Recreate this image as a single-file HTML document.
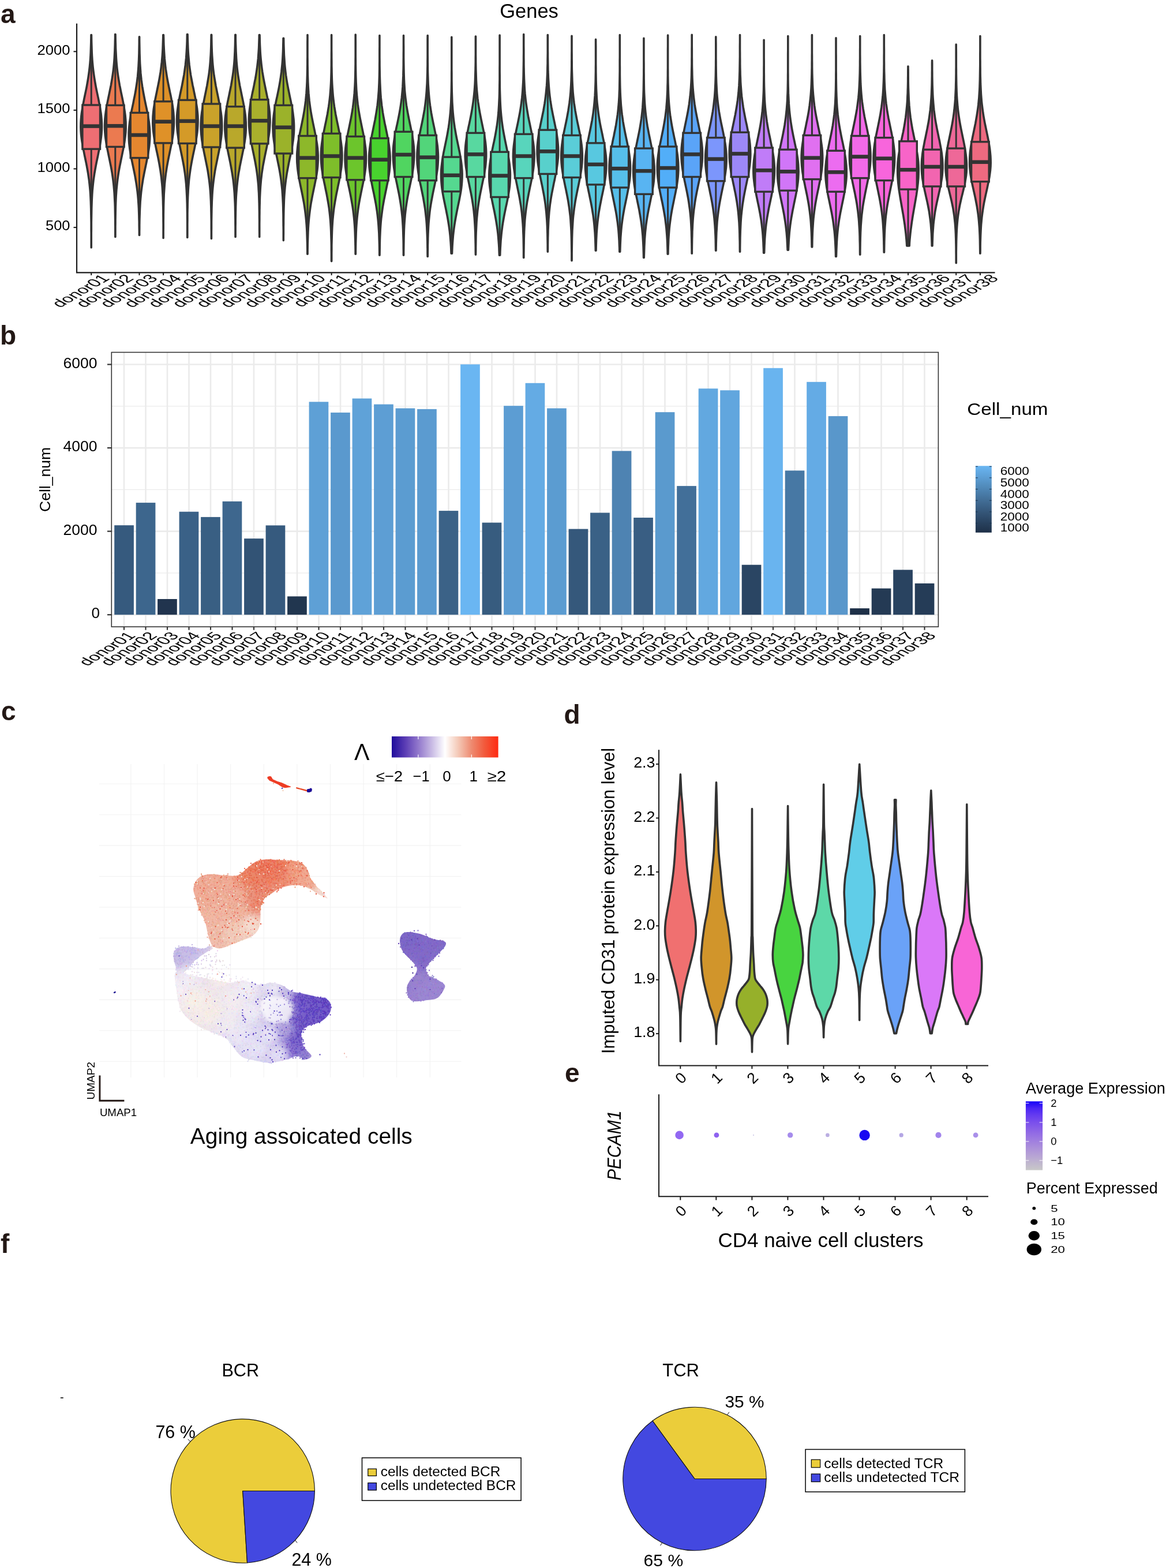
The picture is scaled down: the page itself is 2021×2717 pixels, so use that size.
<!DOCTYPE html><html><head><meta charset="utf-8"><title>Figure</title><style>html,body{margin:0;padding:0;background:#fff}svg{display:block}</style></head><body><svg width="2021" height="2717" viewBox="0 0 2021 2717" font-family="Liberation Sans, Arial, Helvetica, sans-serif"><rect width="2021" height="2717" fill="#fff"/><text x="1" y="40" font-size="46" font-weight="bold" fill="#231815">a</text>
<text x="917" y="31" font-size="34.5" text-anchor="middle">Genes</text>
<path d="M133 40.7V472.3H1724.5" fill="none" stroke="#1a1a1a" stroke-width="2.2"/>
<path d="M127.5 394.1H133" stroke="#1a1a1a" stroke-width="2"/>
<text x="121.5" y="399.4" font-size="24.6" text-anchor="end" textLength="42.5" lengthAdjust="spacingAndGlyphs">500</text>
<path d="M127.5 292.5H133" stroke="#1a1a1a" stroke-width="2"/>
<text x="121.5" y="297.8" font-size="24.6" text-anchor="end" textLength="57" lengthAdjust="spacingAndGlyphs">1000</text>
<path d="M127.5 190.9H133" stroke="#1a1a1a" stroke-width="2"/>
<text x="121.5" y="196.2" font-size="24.6" text-anchor="end" textLength="57" lengthAdjust="spacingAndGlyphs">1500</text>
<path d="M127.5 89.3H133" stroke="#1a1a1a" stroke-width="2"/>
<text x="121.5" y="94.6" font-size="24.6" text-anchor="end" textLength="57" lengthAdjust="spacingAndGlyphs">2000</text>
<path d="M158.4,60.6 158.5,66.7 158.6,72.9 158.8,79 159,85.2 159.2,91.3 159.5,97.4 159.9,103.6 160.4,109.7 161,115.9 161.7,122 162.5,128.1 163.4,134.3 164.4,140.4 165.5,146.6 166.6,152.7 167.9,158.8 169.2,165 170.5,171.1 171.7,177.3 172.9,183.4 173.9,189.5 174.9,195.7 175.6,201.8 176.1,208 176.4,214.1 176.5,220.2 176.3,226.4 175.9,232.5 175.2,238.7 174.4,244.8 173.4,250.9 172.3,257.1 171,263.2 169.8,269.4 168.5,275.5 167.2,281.6 166,287.8 164.9,293.9 163.8,300.1 162.9,306.2 162,312.3 161.3,318.5 160.7,324.6 160.1,330.8 159.7,336.9 159.4,343 159.1,349.2 158.9,355.3 158.7,361.5 158.6,367.6 158.5,373.7 158.4,379.9 158.3,386 158.3,392.2 158.3,398.3 158.2,404.4 158.2,410.6 158.2,416.7 158.2,422.9 158.2,429 158.2,429 158.2,422.9 158.2,416.7 158.2,410.6 158.2,404.4 158.1,398.3 158.1,392.2 158.1,386 158,379.9 157.9,373.7 157.8,367.6 157.7,361.5 157.5,355.3 157.3,349.2 157,343 156.7,336.9 156.3,330.8 155.7,324.6 155.1,318.5 154.4,312.3 153.5,306.2 152.6,300.1 151.5,293.9 150.4,287.8 149.2,281.6 147.9,275.5 146.6,269.4 145.4,263.2 144.1,257.1 143,250.9 142,244.8 141.2,238.7 140.5,232.5 140.1,226.4 139.9,220.2 140,214.1 140.3,208 140.8,201.8 141.5,195.7 142.5,189.5 143.5,183.4 144.7,177.3 145.9,171.1 147.2,165 148.5,158.8 149.8,152.7 150.9,146.6 152,140.4 153,134.3 153.9,128.1 154.7,122 155.4,115.9 156,109.7 156.5,103.6 156.9,97.4 157.2,91.3 157.4,85.2 157.6,79 157.8,72.9 157.9,66.7 158,60.6Z" fill="#EE6E73" stroke="#333333" stroke-width="3.6" stroke-linejoin="round"/>
<path d="M158.2 67.7V182M158.2 258.2V372.5" stroke="#333333" stroke-width="3"/>
<rect x="142.9" y="182" width="30.6" height="76.2" fill="#EE6E73" stroke="#333333" stroke-width="3.4"/>
<path d="M142.9 218.6H173.5" stroke="#333333" stroke-width="6.5"/>
<path d="M158.2 472.3V477" stroke="#1a1a1a" stroke-width="2"/>
<path d="M200,59.6 200.1,65.4 200.2,71.3 200.4,77.1 200.5,83 200.8,88.8 201.1,94.7 201.4,100.5 201.8,106.4 202.3,112.2 202.9,118.1 203.6,123.9 204.4,129.8 205.3,135.6 206.3,141.5 207.3,147.3 208.5,153.1 209.6,159 210.9,164.8 212.1,170.7 213.3,176.5 214.4,182.4 215.4,188.2 216.3,194.1 217.1,199.9 217.6,205.8 218,211.6 218.1,217.5 218.1,223.3 217.8,229.2 217.2,235 216.5,240.8 215.7,246.7 214.7,252.5 213.6,258.4 212.4,264.2 211.2,270.1 210,275.9 208.8,281.8 207.6,287.6 206.5,293.5 205.5,299.3 204.6,305.2 203.8,311 203.1,316.9 202.5,322.7 201.9,328.5 201.5,334.4 201.1,340.2 200.8,346.1 200.6,351.9 200.4,357.8 200.3,363.6 200.2,369.5 200.1,375.3 200,381.2 200,387 199.9,392.9 199.9,398.7 199.9,404.6 199.9,410.4 199.8,410.4 199.8,404.6 199.8,398.7 199.8,392.9 199.7,387 199.7,381.2 199.6,375.3 199.5,369.5 199.4,363.6 199.3,357.8 199.1,351.9 198.8,346.1 198.5,340.2 198.2,334.4 197.7,328.5 197.2,322.7 196.6,316.9 195.9,311 195.1,305.2 194.2,299.3 193.2,293.5 192.1,287.6 190.9,281.8 189.7,275.9 188.5,270.1 187.3,264.2 186.1,258.4 185,252.5 184,246.7 183.1,240.8 182.4,235 181.9,229.2 181.6,223.3 181.5,217.5 181.7,211.6 182,205.8 182.6,199.9 183.3,194.1 184.2,188.2 185.3,182.4 186.4,176.5 187.6,170.7 188.8,164.8 190,159 191.2,153.1 192.4,147.3 193.4,141.5 194.4,135.6 195.3,129.8 196.1,123.9 196.8,118.1 197.4,112.2 197.9,106.4 198.3,100.5 198.6,94.7 198.9,88.8 199.1,83 199.3,77.1 199.4,71.3 199.6,65.4 199.6,59.6Z" fill="#EB7A50" stroke="#333333" stroke-width="3.6" stroke-linejoin="round"/>
<path d="M199.8 74.4V182.4M199.8 254.4V362.4" stroke="#333333" stroke-width="3"/>
<rect x="184.5" y="182.4" width="30.6" height="72" fill="#EB7A50" stroke="#333333" stroke-width="3.4"/>
<path d="M184.5 218.2H215.1" stroke="#333333" stroke-width="6.5"/>
<path d="M199.8 472.3V477" stroke="#1a1a1a" stroke-width="2"/>
<path d="M241.6,63.7 241.6,69.4 241.7,75.2 241.8,80.9 241.9,86.6 242,92.3 242.2,98.1 242.4,103.8 242.6,109.5 243,115.3 243.4,121 243.8,126.7 244.4,132.4 245,138.2 245.8,143.9 246.6,149.6 247.6,155.4 248.6,161.1 249.7,166.8 250.8,172.5 252,178.3 253.2,184 254.4,189.7 255.5,195.5 256.6,201.2 257.5,206.9 258.4,212.6 259,218.4 259.5,224.1 259.7,229.8 259.8,235.6 259.6,241.3 259.2,247 258.7,252.7 257.9,258.5 257,264.2 256,269.9 254.9,275.6 253.8,281.4 252.6,287.1 251.4,292.8 250.2,298.6 249.1,304.3 248,310 247.1,315.7 246.2,321.5 245.4,327.2 244.7,332.9 244.1,338.7 243.6,344.4 243.1,350.1 242.8,355.8 242.5,361.6 242.3,367.3 242.1,373 241.9,378.8 241.8,384.5 241.7,390.2 241.7,395.9 241.6,401.7 241.6,407.4 241.4,407.4 241.4,401.7 241.3,395.9 241.2,390.2 241.2,384.5 241,378.8 240.9,373 240.7,367.3 240.5,361.6 240.2,355.8 239.8,350.1 239.4,344.4 238.9,338.7 238.3,332.9 237.6,327.2 236.8,321.5 235.9,315.7 234.9,310 233.9,304.3 232.8,298.6 231.6,292.8 230.4,287.1 229.2,281.4 228,275.6 226.9,269.9 225.9,264.2 225,258.5 224.3,252.7 223.7,247 223.4,241.3 223.2,235.6 223.2,229.8 223.5,224.1 224,218.4 224.6,212.6 225.4,206.9 226.4,201.2 227.4,195.5 228.6,189.7 229.8,184 231,178.3 232.1,172.5 233.3,166.8 234.4,161.1 235.4,155.4 236.3,149.6 237.2,143.9 237.9,138.2 238.6,132.4 239.1,126.7 239.6,121 240,115.3 240.3,109.5 240.6,103.8 240.8,98.1 241,92.3 241.1,86.6 241.2,80.9 241.3,75.2 241.3,69.4 241.4,63.7Z" fill="#E5872F" stroke="#333333" stroke-width="3.6" stroke-linejoin="round"/>
<path d="M241.5 78.1V195.4M241.5 273.6V390.9" stroke="#333333" stroke-width="3"/>
<rect x="226.2" y="195.4" width="30.6" height="78.2" fill="#E5872F" stroke="#333333" stroke-width="3.4"/>
<path d="M226.2 234H256.8" stroke="#333333" stroke-width="6.5"/>
<path d="M241.5 472.3V477" stroke="#1a1a1a" stroke-width="2"/>
<path d="M283.4,60.6 283.6,66.5 283.7,72.3 283.9,78.2 284.2,84.1 284.5,89.9 284.9,95.8 285.3,101.7 285.9,107.5 286.5,113.4 287.2,119.2 288.1,125.1 289,131 290,136.8 291.1,142.7 292.3,148.6 293.5,154.4 294.7,160.3 296,166.2 297.1,172 298.2,177.9 299.2,183.8 300,189.6 300.7,195.5 301.1,201.4 301.4,207.2 301.4,213.1 301.2,219 300.8,224.8 300.2,230.7 299.4,236.5 298.4,242.4 297.4,248.3 296.2,254.1 295,260 293.8,265.9 292.6,271.7 291.4,277.6 290.3,283.5 289.2,289.3 288.3,295.2 287.4,301.1 286.7,306.9 286,312.8 285.4,318.7 285,324.5 284.6,330.4 284.2,336.3 284,342.1 283.8,348 283.6,353.9 283.5,359.7 283.4,365.6 283.3,371.4 283.3,377.3 283.2,383.2 283.2,389 283.2,394.9 283.1,400.8 283.1,406.6 283.1,412.5 283.1,412.5 283.1,406.6 283.1,400.8 283.1,394.9 283.1,389 283,383.2 283,377.3 282.9,371.4 282.9,365.6 282.8,359.7 282.6,353.9 282.5,348 282.3,342.1 282,336.3 281.7,330.4 281.3,324.5 280.8,318.7 280.2,312.8 279.6,306.9 278.8,301.1 278,295.2 277,289.3 276,283.5 274.9,277.6 273.7,271.7 272.5,265.9 271.2,260 270,254.1 268.9,248.3 267.8,242.4 266.9,236.5 266.1,230.7 265.4,224.8 265,219 264.8,213.1 264.9,207.2 265.1,201.4 265.6,195.5 266.2,189.6 267.1,183.8 268,177.9 269.1,172 270.3,166.2 271.5,160.3 272.7,154.4 273.9,148.6 275.1,142.7 276.2,136.8 277.2,131 278.2,125.1 279,119.2 279.7,113.4 280.4,107.5 280.9,101.7 281.4,95.8 281.8,89.9 282.1,84.1 282.3,78.2 282.5,72.3 282.7,66.5 282.8,60.6Z" fill="#DF9128" stroke="#333333" stroke-width="3.6" stroke-linejoin="round"/>
<path d="M283.1 67.7V175.8M283.1 247.9V356.1" stroke="#333333" stroke-width="3"/>
<rect x="267.8" y="175.8" width="30.6" height="72.1" fill="#DF9128" stroke="#333333" stroke-width="3.4"/>
<path d="M267.8 210.8H298.4" stroke="#333333" stroke-width="6.5"/>
<path d="M283.1 472.3V477" stroke="#1a1a1a" stroke-width="2"/>
<path d="M325.1,59.6 325.2,65.5 325.4,71.3 325.6,77.2 325.8,83.1 326.1,88.9 326.5,94.8 327,100.7 327.5,106.5 328.1,112.4 328.9,118.2 329.7,124.1 330.6,130 331.7,135.8 332.8,141.7 333.9,147.6 335.2,153.4 336.4,159.3 337.6,165.2 338.8,171 339.9,176.9 340.8,182.8 341.7,188.6 342.3,194.5 342.8,200.4 343,206.2 343,212.1 342.8,218 342.4,223.8 341.8,229.7 341,235.5 340.1,241.4 339,247.3 337.9,253.1 336.7,259 335.4,264.9 334.2,270.7 333,276.6 331.9,282.5 330.9,288.3 329.9,294.2 329.1,300.1 328.3,305.9 327.6,311.8 327.1,317.7 326.6,323.5 326.2,329.4 325.9,335.3 325.6,341.1 325.4,347 325.2,352.9 325.1,358.7 325,364.6 324.9,370.4 324.9,376.3 324.9,382.2 324.8,388 324.8,393.9 324.8,399.8 324.8,405.6 324.8,411.5 324.7,411.5 324.7,405.6 324.7,399.8 324.7,393.9 324.7,388 324.7,382.2 324.6,376.3 324.6,370.4 324.5,364.6 324.4,358.7 324.3,352.9 324.1,347 323.9,341.1 323.6,335.3 323.3,329.4 322.9,323.5 322.5,317.7 321.9,311.8 321.2,305.9 320.5,300.1 319.6,294.2 318.7,288.3 317.6,282.5 316.5,276.6 315.3,270.7 314.1,264.9 312.9,259 311.7,253.1 310.5,247.3 309.4,241.4 308.5,235.5 307.7,229.7 307.1,223.8 306.7,218 306.5,212.1 306.5,206.2 306.7,200.4 307.2,194.5 307.9,188.6 308.7,182.8 309.7,176.9 310.8,171 311.9,165.2 313.1,159.3 314.4,153.4 315.6,147.6 316.7,141.7 317.8,135.8 318.9,130 319.8,124.1 320.6,118.2 321.4,112.4 322,106.5 322.6,100.7 323,94.8 323.4,88.9 323.7,83.1 324,77.2 324.2,71.3 324.3,65.5 324.4,59.6Z" fill="#D49A28" stroke="#333333" stroke-width="3.6" stroke-linejoin="round"/>
<path d="M324.8 60.8V173.4M324.8 248.5V361.1" stroke="#333333" stroke-width="3"/>
<rect x="309.5" y="173.4" width="30.6" height="75.1" fill="#D49A28" stroke="#333333" stroke-width="3.4"/>
<path d="M309.5 209.8H340.1" stroke="#333333" stroke-width="6.5"/>
<path d="M324.8 472.3V477" stroke="#1a1a1a" stroke-width="2"/>
<path d="M366.6,60.2 366.7,66.1 366.8,72 366.9,77.9 367.1,83.8 367.3,89.6 367.6,95.5 368,101.4 368.4,107.3 368.9,113.2 369.5,119.1 370.2,125 371,130.9 372,136.7 373,142.6 374,148.5 375.2,154.4 376.4,160.3 377.6,166.2 378.8,172.1 380,178 381.2,183.9 382.2,189.7 383.1,195.6 383.8,201.5 384.3,207.4 384.6,213.3 384.7,219.2 384.6,225.1 384.2,231 383.6,236.9 382.9,242.7 382,248.6 380.9,254.5 379.8,260.4 378.6,266.3 377.4,272.2 376.2,278.1 375,284 373.8,289.8 372.7,295.7 371.8,301.6 370.9,307.5 370.1,313.4 369.4,319.3 368.8,325.2 368.3,331.1 367.9,337 367.6,342.8 367.3,348.7 367.1,354.6 366.9,360.5 366.8,366.4 366.7,372.3 366.6,378.2 366.5,384.1 366.5,389.9 366.5,395.8 366.4,401.7 366.4,407.6 366.4,413.5 366.4,413.5 366.4,407.6 366.4,401.7 366.3,395.8 366.3,389.9 366.3,384.1 366.2,378.2 366.1,372.3 366,366.4 365.9,360.5 365.7,354.6 365.5,348.7 365.2,342.8 364.9,337 364.5,331.1 364,325.2 363.4,319.3 362.7,313.4 361.9,307.5 361,301.6 360.1,295.7 359,289.8 357.8,284 356.6,278.1 355.4,272.2 354.2,266.3 353,260.4 351.9,254.5 350.8,248.6 349.9,242.7 349.2,236.9 348.6,231 348.2,225.1 348.1,219.2 348.2,213.3 348.5,207.4 349,201.5 349.7,195.6 350.6,189.7 351.6,183.9 352.8,178 354,172.1 355.2,166.2 356.4,160.3 357.6,154.4 358.8,148.5 359.8,142.6 360.8,136.7 361.8,130.9 362.6,125 363.3,119.1 363.9,113.2 364.4,107.3 364.8,101.4 365.2,95.5 365.5,89.6 365.7,83.8 365.9,77.9 366,72 366.1,66.1 366.2,60.2Z" fill="#C9A22A" stroke="#333333" stroke-width="3.6" stroke-linejoin="round"/>
<path d="M366.4 67.5V180M366.4 255V367.5" stroke="#333333" stroke-width="3"/>
<rect x="351.1" y="180" width="30.6" height="75" fill="#C9A22A" stroke="#333333" stroke-width="3.4"/>
<path d="M351.1 218.6H381.7" stroke="#333333" stroke-width="6.5"/>
<path d="M366.4 472.3V477" stroke="#1a1a1a" stroke-width="2"/>
<path d="M408.3,60.2 408.3,66 408.4,71.9 408.6,77.7 408.8,83.5 409,89.4 409.3,95.2 409.6,101.1 410,106.9 410.5,112.7 411.1,118.6 411.8,124.4 412.6,130.2 413.5,136.1 414.5,141.9 415.5,147.8 416.7,153.6 417.9,159.4 419.1,165.3 420.3,171.1 421.5,176.9 422.6,182.8 423.6,188.6 424.5,194.4 425.3,200.3 425.8,206.1 426.2,212 426.3,217.8 426.3,223.6 426,229.5 425.5,235.3 424.8,241.1 423.9,247 422.9,252.8 421.8,258.6 420.6,264.5 419.4,270.3 418.2,276.2 417,282 415.8,287.8 414.8,293.7 413.7,299.5 412.8,305.3 412,311.2 411.3,317 410.7,322.8 410.2,328.7 409.7,334.5 409.3,340.4 409,346.2 408.8,352 408.6,357.9 408.5,363.7 408.4,369.5 408.3,375.4 408.2,381.2 408.2,387.1 408.1,392.9 408.1,398.7 408.1,404.6 408.1,410.4 408,410.4 408,404.6 408,398.7 408,392.9 407.9,387.1 407.9,381.2 407.8,375.4 407.7,369.5 407.6,363.7 407.5,357.9 407.3,352 407,346.2 406.7,340.4 406.4,334.5 405.9,328.7 405.4,322.8 404.8,317 404.1,311.2 403.2,305.3 402.3,299.5 401.3,293.7 400.2,287.8 399.1,282 397.9,276.2 396.7,270.3 395.5,264.5 394.3,258.6 393.2,252.8 392.2,247 391.3,241.1 390.6,235.3 390.1,229.5 389.8,223.6 389.7,217.8 389.9,212 390.2,206.1 390.8,200.3 391.5,194.4 392.4,188.6 393.5,182.8 394.6,176.9 395.8,171.1 397,165.3 398.2,159.4 399.4,153.6 400.6,147.8 401.6,141.9 402.6,136.1 403.5,130.2 404.3,124.4 405,118.6 405.6,112.7 406.1,106.9 406.5,101.1 406.8,95.2 407.1,89.4 407.3,83.5 407.5,77.7 407.6,71.9 407.7,66 407.8,60.2Z" fill="#B9A82B" stroke="#333333" stroke-width="3.6" stroke-linejoin="round"/>
<path d="M408 77.6V184.7M408 256.1V363.2" stroke="#333333" stroke-width="3"/>
<rect x="392.7" y="184.7" width="30.6" height="71.4" fill="#B9A82B" stroke="#333333" stroke-width="3.4"/>
<path d="M392.7 218.6H423.3" stroke="#333333" stroke-width="6.5"/>
<path d="M408 472.3V477" stroke="#1a1a1a" stroke-width="2"/>
<path d="M450,60.6 450.2,66.4 450.3,72.3 450.5,78.1 450.8,83.9 451.1,89.8 451.5,95.6 452,101.4 452.6,107.2 453.2,113.1 454,118.9 454.8,124.7 455.8,130.6 456.8,136.4 457.9,142.2 459.1,148 460.3,153.9 461.5,159.7 462.7,165.5 463.9,171.4 464.9,177.2 465.9,183 466.7,188.9 467.3,194.7 467.7,200.5 468,206.3 468,212.2 467.7,218 467.3,223.8 466.7,229.7 465.9,235.5 464.9,241.3 463.8,247.2 462.7,253 461.5,258.8 460.3,264.6 459.1,270.5 457.9,276.3 456.8,282.1 455.7,288 454.8,293.8 453.9,299.6 453.2,305.5 452.5,311.3 452,317.1 451.5,322.9 451.1,328.8 450.8,334.6 450.5,340.4 450.3,346.3 450.2,352.1 450,357.9 449.9,363.8 449.9,369.6 449.8,375.4 449.8,381.2 449.7,387.1 449.7,392.9 449.7,398.7 449.7,404.6 449.7,410.4 449.7,410.4 449.7,404.6 449.6,398.7 449.6,392.9 449.6,387.1 449.6,381.2 449.5,375.4 449.5,369.6 449.4,363.8 449.3,357.9 449.2,352.1 449,346.3 448.8,340.4 448.6,334.6 448.2,328.8 447.9,322.9 447.4,317.1 446.8,311.3 446.2,305.5 445.4,299.6 444.6,293.8 443.6,288 442.6,282.1 441.5,276.3 440.3,270.5 439.1,264.6 437.9,258.8 436.7,253 435.5,247.2 434.5,241.3 433.5,235.5 432.7,229.7 432.1,223.8 431.6,218 431.4,212.2 431.4,206.3 431.6,200.5 432.1,194.7 432.7,188.9 433.5,183 434.4,177.2 435.5,171.4 436.6,165.5 437.8,159.7 439.1,153.9 440.3,148 441.4,142.2 442.6,136.4 443.6,130.6 444.5,124.7 445.4,118.9 446.1,113.1 446.8,107.2 447.4,101.4 447.8,95.6 448.2,89.8 448.6,83.9 448.8,78.1 449,72.3 449.2,66.4 449.3,60.6Z" fill="#A9B02C" stroke="#333333" stroke-width="3.6" stroke-linejoin="round"/>
<path d="M449.7 60.6V172.7M449.7 248.9V363.2" stroke="#333333" stroke-width="3"/>
<rect x="434.4" y="172.7" width="30.6" height="76.2" fill="#A9B02C" stroke="#333333" stroke-width="3.4"/>
<path d="M434.4 209.2H465" stroke="#333333" stroke-width="6.5"/>
<path d="M449.7 472.3V477" stroke="#1a1a1a" stroke-width="2"/>
<path d="M491.6,66.3 491.7,72.1 491.8,78 492,83.8 492.2,89.7 492.4,95.5 492.8,101.3 493.2,107.2 493.6,113 494.2,118.8 494.9,124.7 495.6,130.5 496.5,136.4 497.4,142.2 498.5,148 499.6,153.9 500.8,159.7 502,165.6 503.2,171.4 504.4,177.2 505.5,183.1 506.6,188.9 507.6,194.7 508.3,200.6 509,206.4 509.4,212.3 509.6,218.1 509.6,223.9 509.4,229.8 508.9,235.6 508.3,241.4 507.5,247.3 506.5,253.1 505.4,259 504.3,264.8 503.1,270.6 501.8,276.5 500.6,282.3 499.5,288.2 498.4,294 497.3,299.8 496.4,305.7 495.5,311.5 494.8,317.3 494.1,323.2 493.6,329 493.1,334.9 492.7,340.7 492.4,346.5 492.2,352.4 492,358.2 491.8,364.1 491.7,369.9 491.6,375.7 491.5,381.6 491.5,387.4 491.4,393.2 491.4,399.1 491.4,404.9 491.3,410.8 491.3,416.6 491.3,416.6 491.3,410.8 491.3,404.9 491.3,399.1 491.2,393.2 491.2,387.4 491.1,381.6 491.1,375.7 491,369.9 490.8,364.1 490.7,358.2 490.5,352.4 490.2,346.5 489.9,340.7 489.5,334.9 489.1,329 488.5,323.2 487.8,317.3 487.1,311.5 486.3,305.7 485.3,299.8 484.3,294 483.2,288.2 482,282.3 480.8,276.5 479.6,270.6 478.4,264.8 477.2,259 476.1,253.1 475.2,247.3 474.4,241.4 473.7,235.6 473.3,229.8 473.1,223.9 473,218.1 473.3,212.3 473.7,206.4 474.3,200.6 475.1,194.7 476,188.9 477.1,183.1 478.2,177.2 479.4,171.4 480.7,165.6 481.9,159.7 483.1,153.9 484.2,148 485.2,142.2 486.2,136.4 487,130.5 487.8,124.7 488.4,118.8 489,113 489.5,107.2 489.9,101.3 490.2,95.5 490.5,89.7 490.7,83.8 490.8,78 491,72.1 491.1,66.3Z" fill="#9BB22A" stroke="#333333" stroke-width="3.6" stroke-linejoin="round"/>
<path d="M491.3 66.3V182.4M491.3 266V391.4" stroke="#333333" stroke-width="3"/>
<rect x="476" y="182.4" width="30.6" height="83.6" fill="#9BB22A" stroke="#333333" stroke-width="3.4"/>
<path d="M476 220.7H506.6" stroke="#333333" stroke-width="6.5"/>
<path d="M491.3 472.3V477" stroke="#1a1a1a" stroke-width="2"/>
<path d="M533,60.6 533,66.9 533,73.3 533,79.6 533,85.9 533,92.2 533,98.6 533.1,104.9 533.1,111.2 533.2,117.6 533.3,123.9 533.4,130.2 533.6,136.5 533.8,142.9 534.1,149.2 534.5,155.5 534.9,161.9 535.5,168.2 536.1,174.5 536.9,180.8 537.8,187.2 538.8,193.5 539.9,199.8 541.1,206.2 542.4,212.5 543.7,218.8 545,225.1 546.3,231.5 547.5,237.8 548.6,244.1 549.6,250.4 550.4,256.8 550.9,263.1 551.2,269.4 551.2,275.8 551,282.1 550.6,288.4 549.9,294.7 549,301.1 547.9,307.4 546.7,313.7 545.4,320.1 544.1,326.4 542.8,332.7 541.5,339 540.3,345.4 539.1,351.7 538.1,358 537.2,364.4 536.4,370.7 535.7,377 535.1,383.3 534.6,389.7 534.2,396 533.9,402.3 533.7,408.7 533.5,415 533.3,421.3 533.2,427.6 533.1,434 533.1,440.3 532.8,440.3 532.8,434 532.7,427.6 532.6,421.3 532.4,415 532.2,408.7 532,402.3 531.7,396 531.3,389.7 530.8,383.3 530.2,377 529.5,370.7 528.7,364.4 527.8,358 526.8,351.7 525.6,345.4 524.4,339 523.1,332.7 521.8,326.4 520.5,320.1 519.2,313.7 518,307.4 517,301.1 516.1,294.7 515.4,288.4 514.9,282.1 514.7,275.8 514.7,269.4 515,263.1 515.6,256.8 516.3,250.4 517.3,244.1 518.4,237.8 519.6,231.5 520.9,225.1 522.2,218.8 523.5,212.5 524.8,206.2 526,199.8 527.1,193.5 528.1,187.2 529,180.8 529.8,174.5 530.4,168.2 531,161.9 531.4,155.5 531.8,149.2 532.1,142.9 532.3,136.5 532.5,130.2 532.6,123.9 532.7,117.6 532.8,111.2 532.8,104.9 532.9,98.6 532.9,92.2 532.9,85.9 532.9,79.6 532.9,73.3 533,66.9 533,60.6Z" fill="#8DB82A" stroke="#333333" stroke-width="3.6" stroke-linejoin="round"/>
<path d="M533 125.8V235.5M533 308.6V418.3" stroke="#333333" stroke-width="3"/>
<rect x="517.7" y="235.5" width="30.6" height="73.1" fill="#8DB82A" stroke="#333333" stroke-width="3.4"/>
<path d="M517.7 273.6H548.3" stroke="#333333" stroke-width="6.5"/>
<path d="M533 472.3V477" stroke="#1a1a1a" stroke-width="2"/>
<path d="M574.6,60.6 574.6,67.1 574.6,73.7 574.6,80.2 574.6,86.7 574.7,93.3 574.7,99.8 574.8,106.3 574.8,112.9 574.9,119.4 575,125.9 575.2,132.5 575.4,139 575.7,145.5 576.1,152.1 576.6,158.6 577.1,165.1 577.8,171.7 578.6,178.2 579.5,184.7 580.6,191.3 581.7,197.8 583,204.3 584.3,210.9 585.7,217.4 587,223.9 588.4,230.5 589.6,237 590.7,243.5 591.6,250.1 592.3,256.6 592.7,263.1 592.9,269.7 592.8,276.2 592.4,282.7 591.8,289.3 590.9,295.8 589.9,302.3 588.7,308.9 587.4,315.4 586,321.9 584.7,328.5 583.3,335 582.1,341.5 580.9,348.1 579.8,354.6 578.8,361.1 578,367.7 577.3,374.2 576.7,380.7 576.2,387.3 575.8,393.8 575.5,400.3 575.3,406.9 575.1,413.4 574.9,419.9 574.8,426.5 574.8,433 574.7,439.5 574.7,446.1 574.7,452.6 574.5,452.6 574.5,446.1 574.5,439.5 574.4,433 574.4,426.5 574.3,419.9 574.1,413.4 573.9,406.9 573.7,400.3 573.4,393.8 573,387.3 572.5,380.7 571.9,374.2 571.2,367.7 570.4,361.1 569.4,354.6 568.3,348.1 567.1,341.5 565.9,335 564.5,328.5 563.2,321.9 561.8,315.4 560.5,308.9 559.3,302.3 558.3,295.8 557.4,289.3 556.8,282.7 556.4,276.2 556.3,269.7 556.5,263.1 556.9,256.6 557.6,250.1 558.5,243.5 559.6,237 560.8,230.5 562.2,223.9 563.5,217.4 564.9,210.9 566.2,204.3 567.5,197.8 568.6,191.3 569.7,184.7 570.6,178.2 571.4,171.7 572.1,165.1 572.6,158.6 573.1,152.1 573.5,145.5 573.8,139 574,132.5 574.2,125.9 574.3,119.4 574.4,112.9 574.4,106.3 574.5,99.8 574.5,93.3 574.6,86.7 574.6,80.2 574.6,73.7 574.6,67.1 574.6,60.6Z" fill="#7EBE2A" stroke="#333333" stroke-width="3.6" stroke-linejoin="round"/>
<path d="M574.6 117.3V231.4M574.6 307.5V421.6" stroke="#333333" stroke-width="3"/>
<rect x="559.3" y="231.4" width="30.6" height="76.1" fill="#7EBE2A" stroke="#333333" stroke-width="3.4"/>
<path d="M559.3 270.5H589.9" stroke="#333333" stroke-width="6.5"/>
<path d="M574.6 472.3V477" stroke="#1a1a1a" stroke-width="2"/>
<path d="M616.2,60 616.2,66.3 616.3,72.7 616.3,79 616.3,85.4 616.3,91.7 616.3,98 616.4,104.4 616.4,110.7 616.5,117 616.6,123.4 616.7,129.7 616.9,136.1 617.1,142.4 617.4,148.7 617.7,155.1 618.2,161.4 618.7,167.8 619.4,174.1 620.1,180.4 621,186.8 622,193.1 623.1,199.4 624.3,205.8 625.6,212.1 626.9,218.5 628.2,224.8 629.5,231.1 630.7,237.5 631.9,243.8 632.8,250.2 633.6,256.5 634.2,262.8 634.5,269.2 634.5,275.5 634.3,281.8 633.9,288.2 633.2,294.5 632.3,300.9 631.2,307.2 630,313.5 628.7,319.9 627.4,326.2 626.1,332.5 624.8,338.9 623.6,345.2 622.4,351.6 621.4,357.9 620.5,364.2 619.7,370.6 619,376.9 618.4,383.3 617.9,389.6 617.5,395.9 617.2,402.3 617,408.6 616.8,414.9 616.6,421.3 616.5,427.6 616.4,434 616.4,440.3 616.1,440.3 616.1,434 616,427.6 615.9,421.3 615.7,414.9 615.5,408.6 615.3,402.3 615,395.9 614.6,389.6 614.1,383.3 613.5,376.9 612.8,370.6 612,364.2 611.1,357.9 610,351.6 608.9,345.2 607.7,338.9 606.4,332.5 605.1,326.2 603.7,319.9 602.5,313.5 601.3,307.2 600.2,300.9 599.3,294.5 598.6,288.2 598.2,281.8 598,275.5 598,269.2 598.3,262.8 598.9,256.5 599.6,250.2 600.6,243.8 601.7,237.5 603,231.1 604.3,224.8 605.6,218.5 606.9,212.1 608.2,205.8 609.4,199.4 610.5,193.1 611.5,186.8 612.3,180.4 613.1,174.1 613.7,167.8 614.3,161.4 614.7,155.1 615.1,148.7 615.4,142.4 615.6,136.1 615.8,129.7 615.9,123.4 616,117 616.1,110.7 616.1,104.4 616.2,98 616.2,91.7 616.2,85.4 616.2,79 616.2,72.7 616.2,66.3 616.2,60Z" fill="#6CC52C" stroke="#333333" stroke-width="3.6" stroke-linejoin="round"/>
<path d="M616.2 123.7V236.5M616.2 311.7V424.5" stroke="#333333" stroke-width="3"/>
<rect x="600.9" y="236.5" width="30.6" height="75.2" fill="#6CC52C" stroke="#333333" stroke-width="3.4"/>
<path d="M600.9 273.6H631.5" stroke="#333333" stroke-width="6.5"/>
<path d="M616.2 472.3V477" stroke="#1a1a1a" stroke-width="2"/>
<path d="M657.9,61.6 657.9,67.9 657.9,74.3 657.9,80.6 657.9,87 657.9,93.3 657.9,99.7 658,106 658,112.4 658.1,118.7 658.2,125.1 658.3,131.4 658.5,137.7 658.7,144.1 659,150.4 659.3,156.8 659.7,163.1 660.2,169.5 660.9,175.8 661.6,182.2 662.5,188.5 663.4,194.8 664.5,201.2 665.7,207.5 666.9,213.9 668.3,220.2 669.6,226.6 670.9,232.9 672.1,239.3 673.3,245.6 674.3,251.9 675.1,258.3 675.7,264.6 676.1,271 676.2,277.3 676,283.7 675.6,290 675,296.4 674.1,302.7 673.1,309.1 671.9,315.4 670.6,321.7 669.3,328.1 668,334.4 666.7,340.8 665.4,347.1 664.3,353.5 663.2,359.8 662.3,366.2 661.5,372.5 660.7,378.9 660.1,385.2 659.6,391.5 659.2,397.9 658.9,404.2 658.6,410.6 658.4,416.9 658.3,423.3 658.2,429.6 658.1,436 658,442.3 657.7,442.3 657.7,436 657.6,429.6 657.5,423.3 657.3,416.9 657.1,410.6 656.9,404.2 656.5,397.9 656.1,391.5 655.6,385.2 655,378.9 654.3,372.5 653.5,366.2 652.5,359.8 651.5,353.5 650.3,347.1 649.1,340.8 647.8,334.4 646.4,328.1 645.1,321.7 643.9,315.4 642.7,309.1 641.7,302.7 640.8,296.4 640.1,290 639.7,283.7 639.6,277.3 639.7,271 640,264.6 640.7,258.3 641.5,251.9 642.5,245.6 643.6,239.3 644.9,232.9 646.2,226.6 647.5,220.2 648.8,213.9 650.1,207.5 651.2,201.2 652.3,194.8 653.3,188.5 654.2,182.2 654.9,175.8 655.5,169.5 656,163.1 656.5,156.8 656.8,150.4 657.1,144.1 657.3,137.7 657.5,131.4 657.6,125.1 657.7,118.7 657.7,112.4 657.8,106 657.8,99.7 657.8,93.3 657.8,87 657.9,80.6 657.9,74.3 657.9,67.9 657.9,61.6Z" fill="#48D22E" stroke="#333333" stroke-width="3.6" stroke-linejoin="round"/>
<path d="M657.9 129.9V239.6M657.9 312.7V422.3" stroke="#333333" stroke-width="3"/>
<rect x="642.6" y="239.6" width="30.6" height="73.1" fill="#48D22E" stroke="#333333" stroke-width="3.4"/>
<path d="M642.6 276.7H673.2" stroke="#333333" stroke-width="6.5"/>
<path d="M657.9 472.3V477" stroke="#1a1a1a" stroke-width="2"/>
<path d="M699.5,61.6 699.5,67.9 699.5,74.3 699.6,80.6 699.6,87 699.6,93.3 699.6,99.7 699.7,106 699.8,112.4 699.9,118.7 700,125.1 700.2,131.4 700.4,137.7 700.7,144.1 701.1,150.4 701.5,156.8 702.1,163.1 702.8,169.5 703.6,175.8 704.4,182.2 705.5,188.5 706.6,194.8 707.8,201.2 709.1,207.5 710.4,213.9 711.7,220.2 713,226.6 714.2,232.9 715.3,239.3 716.3,245.6 717,251.9 717.5,258.3 717.8,264.6 717.8,271 717.5,277.3 717,283.7 716.3,290 715.4,296.4 714.3,302.7 713.1,309.1 711.8,315.4 710.5,321.7 709.1,328.1 707.9,334.4 706.6,340.8 705.5,347.1 704.5,353.5 703.6,359.8 702.8,366.2 702.1,372.5 701.6,378.9 701.1,385.2 700.7,391.5 700.4,397.9 700.2,404.2 700,410.6 699.9,416.9 699.8,423.3 699.7,429.6 699.6,436 699.6,442.3 699.4,442.3 699.4,436 699.3,429.6 699.3,423.3 699.2,416.9 699,410.6 698.8,404.2 698.6,397.9 698.3,391.5 697.9,385.2 697.5,378.9 696.9,372.5 696.2,366.2 695.4,359.8 694.5,353.5 693.5,347.1 692.4,340.8 691.2,334.4 689.9,328.1 688.6,321.7 687.3,315.4 686,309.1 684.8,302.7 683.7,296.4 682.7,290 682,283.7 681.5,277.3 681.2,271 681.3,264.6 681.5,258.3 682,251.9 682.8,245.6 683.7,239.3 684.8,232.9 686,226.6 687.3,220.2 688.7,213.9 690,207.5 691.3,201.2 692.5,194.8 693.6,188.5 694.6,182.2 695.5,175.8 696.3,169.5 696.9,163.1 697.5,156.8 698,150.4 698.3,144.1 698.6,137.7 698.9,131.4 699,125.1 699.2,118.7 699.3,112.4 699.3,106 699.4,99.7 699.4,93.3 699.5,87 699.5,80.6 699.5,74.3 699.5,67.9 699.5,61.6Z" fill="#50D560" stroke="#333333" stroke-width="3.6" stroke-linejoin="round"/>
<path d="M699.5 111V228.3M699.5 306.5V423.8" stroke="#333333" stroke-width="3"/>
<rect x="684.2" y="228.3" width="30.6" height="78.2" fill="#50D560" stroke="#333333" stroke-width="3.4"/>
<path d="M684.2 268H714.8" stroke="#333333" stroke-width="6.5"/>
<path d="M699.5 472.3V477" stroke="#1a1a1a" stroke-width="2"/>
<path d="M741.2,61.6 741.2,68 741.2,74.4 741.2,80.7 741.2,87.1 741.2,93.5 741.3,99.9 741.3,106.3 741.4,112.6 741.4,119 741.5,125.4 741.7,131.8 741.9,138.2 742.1,144.5 742.5,150.9 742.9,157.3 743.4,163.7 744,170.1 744.7,176.4 745.5,182.8 746.5,189.2 747.5,195.6 748.7,202 749.9,208.3 751.2,214.7 752.6,221.1 753.9,227.5 755.2,233.9 756.3,240.2 757.4,246.6 758.3,253 758.9,259.4 759.3,265.8 759.5,272.1 759.3,278.5 759,284.9 758.4,291.3 757.5,297.7 756.5,304 755.3,310.4 754.1,316.8 752.8,323.2 751.4,329.6 750.1,335.9 748.9,342.3 747.7,348.7 746.6,355.1 745.6,361.5 744.8,367.8 744.1,374.2 743.5,380.6 742.9,387 742.5,393.4 742.2,399.7 741.9,406.1 741.7,412.5 741.6,418.9 741.4,425.3 741.4,431.6 741.3,438 741.3,444.4 741.1,444.4 741,438 741,431.6 740.9,425.3 740.8,418.9 740.6,412.5 740.4,406.1 740.1,399.7 739.8,393.4 739.4,387 738.9,380.6 738.2,374.2 737.5,367.8 736.7,361.5 735.7,355.1 734.6,348.7 733.5,342.3 732.2,335.9 730.9,329.6 729.6,323.2 728.2,316.8 727,310.4 725.8,304 724.8,297.7 724,291.3 723.3,284.9 723,278.5 722.9,272.1 723,265.8 723.4,259.4 724.1,253 724.9,246.6 726,240.2 727.2,233.9 728.4,227.5 729.7,221.1 731.1,214.7 732.4,208.3 733.6,202 734.8,195.6 735.9,189.2 736.8,182.8 737.6,176.4 738.3,170.1 738.9,163.7 739.4,157.3 739.8,150.9 740.2,144.5 740.4,138.2 740.6,131.8 740.8,125.4 740.9,119 741,112.6 741,106.3 741.1,99.9 741.1,93.5 741.1,87.1 741.1,80.7 741.1,74.4 741.1,68 741.2,61.6Z" fill="#52D57A" stroke="#333333" stroke-width="3.6" stroke-linejoin="round"/>
<path d="M741.2 117.2V234.5M741.2 312.7V430" stroke="#333333" stroke-width="3"/>
<rect x="725.9" y="234.5" width="30.6" height="78.2" fill="#52D57A" stroke="#333333" stroke-width="3.4"/>
<path d="M725.9 272.6H756.5" stroke="#333333" stroke-width="6.5"/>
<path d="M741.2 472.3V477" stroke="#1a1a1a" stroke-width="2"/>
<path d="M782.8,64.3 782.8,70.5 782.8,76.8 782.8,83 782.8,89.3 782.8,95.5 782.8,101.8 782.8,108 782.8,114.3 782.8,120.5 782.9,126.8 782.9,133.1 782.9,139.3 783,145.6 783.1,151.8 783.2,158.1 783.4,164.3 783.6,170.6 783.8,176.8 784.2,183.1 784.6,189.3 785.1,195.6 785.7,201.8 786.4,208.1 787.2,214.3 788.1,220.6 789.2,226.8 790.3,233.1 791.5,239.3 792.8,245.6 794.1,251.8 795.4,258.1 796.7,264.3 797.8,270.6 798.9,276.8 799.7,283.1 800.4,289.3 800.9,295.6 801.1,301.8 801,308.1 800.7,314.3 800.2,320.6 799.5,326.8 798.5,333.1 797.4,339.3 796.2,345.6 794.9,351.8 793.6,358.1 792.3,364.3 791.1,370.6 789.9,376.8 788.8,383.1 787.8,389.3 786.9,395.6 786.1,401.8 785.4,408.1 784.9,414.3 784.4,420.6 784,426.8 783.7,433.1 783.5,439.3 782.1,439.3 781.9,433.1 781.6,426.8 781.2,420.6 780.7,414.3 780.2,408.1 779.5,401.8 778.7,395.6 777.8,389.3 776.8,383.1 775.7,376.8 774.5,370.6 773.3,364.3 772,358.1 770.7,351.8 769.4,345.6 768.2,339.3 767.1,333.1 766.1,326.8 765.4,320.6 764.9,314.3 764.6,308.1 764.5,301.8 764.7,295.6 765.2,289.3 765.9,283.1 766.7,276.8 767.8,270.6 768.9,264.3 770.2,258.1 771.5,251.8 772.8,245.6 774.1,239.3 775.3,233.1 776.4,226.8 777.5,220.6 778.4,214.3 779.2,208.1 779.9,201.8 780.5,195.6 781,189.3 781.4,183.1 781.8,176.8 782,170.6 782.2,164.3 782.4,158.1 782.5,151.8 782.6,145.6 782.7,139.3 782.7,133.1 782.7,126.8 782.8,120.5 782.8,114.3 782.8,108 782.8,101.8 782.8,95.5 782.8,89.3 782.8,83 782.8,76.8 782.8,70.5 782.8,64.3Z" fill="#55D890" stroke="#333333" stroke-width="3.6" stroke-linejoin="round"/>
<path d="M782.8 182.6V272.1M782.8 331.8V421.4" stroke="#333333" stroke-width="3"/>
<rect x="767.5" y="272.1" width="30.6" height="59.7" fill="#55D890" stroke="#333333" stroke-width="3.4"/>
<path d="M767.5 303.8H798.1" stroke="#333333" stroke-width="6.5"/>
<path d="M782.8 472.3V477" stroke="#1a1a1a" stroke-width="2"/>
<path d="M824.5,63 824.5,69.3 824.5,75.6 824.5,81.9 824.5,88.2 824.5,94.5 824.6,100.8 824.6,107.1 824.7,113.4 824.8,119.7 825,126 825.2,132.4 825.4,138.7 825.7,145 826.1,151.3 826.6,157.6 827.2,163.9 827.8,170.2 828.6,176.5 829.6,182.8 830.6,189.1 831.7,195.4 832.9,201.7 834.2,208 835.5,214.3 836.8,220.6 838.1,226.9 839.3,233.2 840.4,239.5 841.3,245.8 842,252.2 842.5,258.5 842.7,264.8 842.7,271.1 842.4,277.4 841.9,283.7 841.2,290 840.2,296.3 839.1,302.6 837.9,308.9 836.6,315.2 835.3,321.5 834,327.8 832.7,334.1 831.5,340.4 830.4,346.7 829.4,353 828.5,359.3 827.7,365.6 827.1,371.9 826.5,378.2 826,384.6 825.7,390.9 825.4,397.2 825.1,403.5 824.9,409.8 824.8,416.1 824.7,422.4 824.6,428.7 824.6,435 824.5,441.3 824.4,441.3 824.3,435 824.3,428.7 824.2,422.4 824.1,416.1 823.9,409.8 823.8,403.5 823.5,397.2 823.2,390.9 822.8,384.6 822.4,378.2 821.8,371.9 821.2,365.6 820.4,359.3 819.5,353 818.5,346.7 817.4,340.4 816.2,334.1 814.9,327.8 813.6,321.5 812.3,315.2 811,308.9 809.8,302.6 808.7,296.3 807.7,290 807,283.7 806.5,277.4 806.2,271.1 806.2,264.8 806.4,258.5 806.9,252.2 807.6,245.8 808.5,239.5 809.6,233.2 810.8,226.9 812,220.6 813.4,214.3 814.7,208 816,201.7 817.2,195.4 818.3,189.1 819.3,182.8 820.2,176.5 821,170.2 821.7,163.9 822.3,157.6 822.8,151.3 823.2,145 823.5,138.7 823.7,132.4 823.9,126 824.1,119.7 824.2,113.4 824.3,107.1 824.3,100.8 824.4,94.5 824.4,88.2 824.4,81.9 824.4,75.6 824.4,69.3 824.4,63Z" fill="#58D8A0" stroke="#333333" stroke-width="3.6" stroke-linejoin="round"/>
<path d="M824.4 116.3V230.4M824.4 306.5V420.6" stroke="#333333" stroke-width="3"/>
<rect x="809.1" y="230.4" width="30.6" height="76.1" fill="#58D8A0" stroke="#333333" stroke-width="3.4"/>
<path d="M809.1 267.4H839.7" stroke="#333333" stroke-width="6.5"/>
<path d="M824.4 472.3V477" stroke="#1a1a1a" stroke-width="2"/>
<path d="M866.1,61 866.1,67.4 866.1,73.7 866.1,80.1 866.1,86.4 866.1,92.8 866.1,99.1 866.1,105.5 866.1,111.8 866.1,118.2 866.1,124.5 866.2,130.9 866.2,137.3 866.3,143.6 866.3,150 866.4,156.3 866.6,162.7 866.8,169 867,175.4 867.3,181.7 867.7,188.1 868.2,194.5 868.8,200.8 869.5,207.2 870.3,213.5 871.2,219.9 872.2,226.2 873.4,232.6 874.6,238.9 875.9,245.3 877.2,251.7 878.5,258 879.8,264.4 881,270.7 882.1,277.1 883,283.4 883.7,289.8 884.2,296.1 884.4,302.5 884.3,308.8 884,315.2 883.5,321.6 882.7,327.9 881.7,334.3 880.6,340.6 879.4,347 878.1,353.3 876.7,359.7 875.4,366 874.1,372.4 872.9,378.8 871.8,385.1 870.8,391.5 870,397.8 869.2,404.2 868.6,410.5 868,416.9 867.6,423.2 867.2,429.6 866.9,435.9 866.7,442.3 865.5,442.3 865.2,435.9 865,429.6 864.6,423.2 864.1,416.9 863.6,410.5 863,404.2 862.2,397.8 861.3,391.5 860.3,385.1 859.2,378.8 858,372.4 856.8,366 855.4,359.7 854.1,353.3 852.8,347 851.6,340.6 850.4,334.3 849.5,327.9 848.7,321.6 848.1,315.2 847.8,308.8 847.8,302.5 848,296.1 848.5,289.8 849.2,283.4 850.1,277.1 851.1,270.7 852.3,264.4 853.6,258 854.9,251.7 856.3,245.3 857.6,238.9 858.8,232.6 859.9,226.2 861,219.9 861.9,213.5 862.7,207.2 863.4,200.8 864,194.5 864.4,188.1 864.8,181.7 865.1,175.4 865.4,169 865.6,162.7 865.7,156.3 865.8,150 865.9,143.6 866,137.3 866,130.9 866,124.5 866,118.2 866.1,111.8 866.1,105.5 866.1,99.1 866.1,92.8 866.1,86.4 866.1,80.1 866.1,73.7 866.1,67.4 866.1,61Z" fill="#58D8AE" stroke="#333333" stroke-width="3.6" stroke-linejoin="round"/>
<path d="M866.1 146V263.3M866.1 341.5V442.3" stroke="#333333" stroke-width="3"/>
<rect x="850.8" y="263.3" width="30.6" height="78.2" fill="#58D8AE" stroke="#333333" stroke-width="3.4"/>
<path d="M850.8 304.5H881.4" stroke="#333333" stroke-width="6.5"/>
<path d="M866.1 472.3V477" stroke="#1a1a1a" stroke-width="2"/>
<path d="M907.7,59.6 907.7,66 907.7,72.5 907.7,78.9 907.8,85.4 907.8,91.8 907.8,98.3 907.9,104.7 907.9,111.2 908,117.6 908.1,124.1 908.3,130.5 908.5,137 908.8,143.4 909.1,149.9 909.5,156.3 910,162.7 910.7,169.2 911.4,175.6 912.3,182.1 913.3,188.5 914.4,195 915.5,201.4 916.8,207.9 918.2,214.3 919.5,220.8 920.8,227.2 922.1,233.7 923.2,240.1 924.2,246.6 925,253 925.6,259.4 926,265.9 926,272.3 925.8,278.8 925.3,285.2 924.6,291.7 923.7,298.1 922.6,304.6 921.4,311 920.1,317.5 918.7,323.9 917.4,330.4 916.1,336.8 914.9,343.3 913.7,349.7 912.7,356.1 911.8,362.6 911,369 910.3,375.5 909.7,381.9 909.3,388.4 908.9,394.8 908.6,401.3 908.4,407.7 908.2,414.2 908.1,420.6 908,427.1 907.9,433.5 907.8,440 907.8,446.4 907.6,446.4 907.6,440 907.6,433.5 907.5,427.1 907.4,420.6 907.3,414.2 907.1,407.7 906.8,401.3 906.6,394.8 906.2,388.4 905.7,381.9 905.1,375.5 904.5,369 903.7,362.6 902.8,356.1 901.7,349.7 900.6,343.3 899.4,336.8 898,330.4 896.7,323.9 895.4,317.5 894.1,311 892.8,304.6 891.7,298.1 890.8,291.7 890.1,285.2 889.6,278.8 889.4,272.3 889.5,265.9 889.8,259.4 890.4,253 891.2,246.6 892.2,240.1 893.3,233.7 894.6,227.2 895.9,220.8 897.3,214.3 898.6,207.9 899.9,201.4 901.1,195 902.2,188.5 903.2,182.1 904,175.6 904.8,169.2 905.4,162.7 905.9,156.3 906.3,149.9 906.7,143.4 907,137 907.2,130.5 907.3,124.1 907.4,117.6 907.5,111.2 907.6,104.7 907.6,98.3 907.7,91.8 907.7,85.4 907.7,78.9 907.7,72.5 907.7,66 907.7,59.6Z" fill="#58D5BC" stroke="#333333" stroke-width="3.6" stroke-linejoin="round"/>
<path d="M907.7 118.1V232.4M907.7 308.6V422.9" stroke="#333333" stroke-width="3"/>
<rect x="892.4" y="232.4" width="30.6" height="76.2" fill="#58D5BC" stroke="#333333" stroke-width="3.4"/>
<path d="M892.4 270.5H923" stroke="#333333" stroke-width="6.5"/>
<path d="M907.7 472.3V477" stroke="#1a1a1a" stroke-width="2"/>
<path d="M949.4,60.6 949.4,66.9 949.4,73.1 949.4,79.4 949.4,85.6 949.5,91.9 949.5,98.2 949.6,104.4 949.7,110.7 949.8,116.9 949.9,123.2 950.2,129.5 950.4,135.7 950.8,142 951.2,148.2 951.7,154.5 952.3,160.8 953,167 953.8,173.3 954.8,179.5 955.8,185.8 957,192.1 958.2,198.3 959.5,204.6 960.8,210.8 962.1,217.1 963.3,223.4 964.5,229.6 965.5,235.9 966.4,242.1 967,248.4 967.5,254.7 967.7,260.9 967.6,267.2 967.3,273.4 966.7,279.7 965.9,286 965,292.2 963.9,298.5 962.6,304.7 961.4,311 960,317.3 958.8,323.5 957.5,329.8 956.3,336 955.2,342.3 954.2,348.6 953.3,354.8 952.6,361.1 951.9,367.3 951.4,373.6 950.9,379.9 950.6,386.1 950.3,392.4 950,398.6 949.9,404.9 949.7,411.2 949.6,417.4 949.5,423.7 949.5,429.9 949.4,436.2 949.3,436.2 949.2,429.9 949.2,423.7 949.1,417.4 949,411.2 948.9,404.9 948.7,398.6 948.5,392.4 948.2,386.1 947.8,379.9 947.3,373.6 946.8,367.3 946.1,361.1 945.4,354.8 944.5,348.6 943.5,342.3 942.4,336 941.2,329.8 940,323.5 938.7,317.3 937.4,311 936.1,304.7 934.9,298.5 933.8,292.2 932.8,286 932,279.7 931.5,273.4 931.1,267.2 931.1,260.9 931.2,254.7 931.7,248.4 932.3,242.1 933.2,235.9 934.2,229.6 935.4,223.4 936.6,217.1 937.9,210.8 939.2,204.6 940.5,198.3 941.8,192.1 942.9,185.8 944,179.5 944.9,173.3 945.7,167 946.4,160.8 947,154.5 947.6,148.2 948,142 948.3,135.7 948.6,129.5 948.8,123.2 948.9,116.9 949.1,110.7 949.1,104.4 949.2,98.2 949.3,91.9 949.3,85.6 949.3,79.4 949.3,73.1 949.3,66.9 949.3,60.6Z" fill="#58D0CC" stroke="#333333" stroke-width="3.6" stroke-linejoin="round"/>
<path d="M949.4 110.9V225.2M949.4 301.4V415.7" stroke="#333333" stroke-width="3"/>
<rect x="934.1" y="225.2" width="30.6" height="76.2" fill="#58D0CC" stroke="#333333" stroke-width="3.4"/>
<path d="M934.1 262.3H964.7" stroke="#333333" stroke-width="6.5"/>
<path d="M949.4 472.3V477" stroke="#1a1a1a" stroke-width="2"/>
<path d="M991,62.2 991,68.7 991,75.2 991,81.7 991,88.2 991.1,94.7 991.1,101.1 991.2,107.6 991.2,114.1 991.3,120.6 991.5,127.1 991.7,133.6 991.9,140.1 992.2,146.6 992.6,153.1 993,159.6 993.6,166 994.3,172.5 995.1,179 996.1,185.5 997.1,192 998.3,198.5 999.5,205 1000.8,211.5 1002.2,218 1003.5,224.4 1004.9,230.9 1006.1,237.4 1007.1,243.9 1008,250.4 1008.7,256.9 1009.1,263.4 1009.3,269.9 1009.2,276.4 1008.8,282.9 1008.2,289.4 1007.3,295.8 1006.3,302.3 1005.1,308.8 1003.8,315.3 1002.5,321.8 1001.1,328.3 999.8,334.8 998.5,341.3 997.3,347.8 996.3,354.2 995.3,360.7 994.5,367.2 993.7,373.7 993.1,380.2 992.7,386.7 992.3,393.2 991.9,399.7 991.7,406.2 991.5,412.7 991.4,419.2 991.3,425.6 991.2,432.1 991.1,438.6 991.1,445.1 991.1,451.6 990.9,451.6 990.9,445.1 990.9,438.6 990.8,432.1 990.7,425.6 990.6,419.2 990.5,412.7 990.3,406.2 990.1,399.7 989.7,393.2 989.3,386.7 988.9,380.2 988.3,373.7 987.5,367.2 986.7,360.7 985.7,354.2 984.7,347.8 983.5,341.3 982.2,334.8 980.9,328.3 979.5,321.8 978.2,315.3 976.9,308.8 975.7,302.3 974.7,295.8 973.8,289.4 973.2,282.9 972.8,276.4 972.7,269.9 972.9,263.4 973.3,256.9 974,250.4 974.9,243.9 975.9,237.4 977.1,230.9 978.5,224.4 979.8,218 981.2,211.5 982.5,205 983.7,198.5 984.9,192 985.9,185.5 986.9,179 987.7,172.5 988.4,166 989,159.6 989.4,153.1 989.8,146.6 990.1,140.1 990.3,133.6 990.5,127.1 990.7,120.6 990.8,114.1 990.8,107.6 990.9,101.1 990.9,94.7 991,88.2 991,81.7 991,75.2 991,68.7 991,62.2Z" fill="#5ACDD8" stroke="#333333" stroke-width="3.6" stroke-linejoin="round"/>
<path d="M991 125V234.5M991 307.5V417" stroke="#333333" stroke-width="3"/>
<rect x="975.7" y="234.5" width="30.6" height="73" fill="#5ACDD8" stroke="#333333" stroke-width="3.4"/>
<path d="M975.7 270.5H1006.3" stroke="#333333" stroke-width="6.5"/>
<path d="M991 472.3V477" stroke="#1a1a1a" stroke-width="2"/>
<path d="M1032.6,68.4 1032.6,74.5 1032.7,80.6 1032.7,86.7 1032.7,92.8 1032.7,98.9 1032.7,105 1032.7,111.1 1032.8,117.2 1032.8,123.3 1032.9,129.4 1033,135.4 1033.1,141.5 1033.3,147.6 1033.5,153.7 1033.8,159.8 1034.1,165.9 1034.5,172 1035,178.1 1035.7,184.2 1036.4,190.3 1037.2,196.4 1038.1,202.5 1039.1,208.6 1040.2,214.7 1041.4,220.8 1042.7,226.9 1044,233 1045.2,239.1 1046.5,245.2 1047.6,251.3 1048.6,257.3 1049.5,263.4 1050.2,269.5 1050.7,275.6 1050.9,281.7 1050.9,287.8 1050.7,293.9 1050.2,300 1049.5,306.1 1048.7,312.2 1047.6,318.3 1046.5,324.4 1045.3,330.5 1044,336.6 1042.7,342.7 1041.5,348.8 1040.3,354.9 1039.2,361 1038.1,367.1 1037.2,373.2 1036.4,379.2 1035.7,385.3 1035.1,391.4 1034.6,397.5 1034.1,403.6 1033.8,409.7 1033.5,415.8 1033.3,421.9 1033.1,428 1033,434.1 1032.3,434.1 1032.2,428 1032,421.9 1031.8,415.8 1031.5,409.7 1031.2,403.6 1030.7,397.5 1030.2,391.4 1029.6,385.3 1028.9,379.2 1028.1,373.2 1027.1,367.1 1026.1,361 1025,354.9 1023.8,348.8 1022.5,342.7 1021.3,336.6 1020,330.5 1018.8,324.4 1017.6,318.3 1016.6,312.2 1015.7,306.1 1015.1,300 1014.6,293.9 1014.4,287.8 1014.4,281.7 1014.6,275.6 1015.1,269.5 1015.8,263.4 1016.7,257.3 1017.7,251.3 1018.8,245.2 1020.1,239.1 1021.3,233 1022.6,226.9 1023.8,220.8 1025,214.7 1026.2,208.6 1027.2,202.5 1028.1,196.4 1028.9,190.3 1029.6,184.2 1030.2,178.1 1030.7,172 1031.2,165.9 1031.5,159.8 1031.8,153.7 1032,147.6 1032.2,141.5 1032.3,135.4 1032.4,129.4 1032.5,123.3 1032.5,117.2 1032.6,111.1 1032.6,105 1032.6,98.9 1032.6,92.8 1032.6,86.7 1032.6,80.6 1032.6,74.5 1032.6,68.4Z" fill="#58C8E0" stroke="#333333" stroke-width="3.6" stroke-linejoin="round"/>
<path d="M1032.6 139.9V247.9M1032.6 319.9V427.9" stroke="#333333" stroke-width="3"/>
<rect x="1017.3" y="247.9" width="30.6" height="72" fill="#58C8E0" stroke="#333333" stroke-width="3.4"/>
<path d="M1017.3 284.9H1047.9" stroke="#333333" stroke-width="6.5"/>
<path d="M1032.6 472.3V477" stroke="#1a1a1a" stroke-width="2"/>
<path d="M1074.3,60.6 1074.3,66.9 1074.3,73.1 1074.3,79.4 1074.3,85.6 1074.3,91.9 1074.3,98.2 1074.3,104.4 1074.3,110.7 1074.4,116.9 1074.4,123.2 1074.4,129.5 1074.5,135.7 1074.6,142 1074.7,148.2 1074.9,154.5 1075.1,160.8 1075.4,167 1075.8,173.3 1076.2,179.5 1076.7,185.8 1077.4,192.1 1078.1,198.3 1079,204.6 1079.9,210.8 1081,217.1 1082.2,223.4 1083.4,229.6 1084.7,235.9 1086,242.1 1087.3,248.4 1088.5,254.7 1089.7,260.9 1090.7,267.2 1091.5,273.4 1092.1,279.7 1092.5,286 1092.6,292.2 1092.4,298.5 1092.1,304.7 1091.5,311 1090.6,317.3 1089.6,323.5 1088.5,329.8 1087.3,336 1086,342.3 1084.7,348.6 1083.4,354.8 1082.1,361.1 1081,367.3 1079.9,373.6 1078.9,379.9 1078.1,386.1 1077.3,392.4 1076.7,398.6 1076.2,404.9 1075.7,411.2 1075.4,417.4 1075.1,423.7 1074.9,429.9 1074.7,436.2 1073.8,436.2 1073.7,429.9 1073.4,423.7 1073.2,417.4 1072.8,411.2 1072.4,404.9 1071.9,398.6 1071.2,392.4 1070.5,386.1 1069.6,379.9 1068.7,373.6 1067.6,367.3 1066.4,361.1 1065.2,354.8 1063.9,348.6 1062.6,342.3 1061.3,336 1060.1,329.8 1058.9,323.5 1057.9,317.3 1057.1,311 1056.5,304.7 1056.1,298.5 1056,292.2 1056.1,286 1056.5,279.7 1057.1,273.4 1057.9,267.2 1058.9,260.9 1060,254.7 1061.3,248.4 1062.5,242.1 1063.9,235.9 1065.1,229.6 1066.4,223.4 1067.6,217.1 1068.6,210.8 1069.6,204.6 1070.5,198.3 1071.2,192.1 1071.8,185.8 1072.4,179.5 1072.8,173.3 1073.2,167 1073.4,160.8 1073.7,154.5 1073.8,148.2 1073.9,142 1074,135.7 1074.1,129.5 1074.2,123.2 1074.2,116.9 1074.2,110.7 1074.2,104.4 1074.3,98.2 1074.3,91.9 1074.3,85.6 1074.3,79.4 1074.3,73.1 1074.3,66.9 1074.3,60.6Z" fill="#56BFEA" stroke="#333333" stroke-width="3.6" stroke-linejoin="round"/>
<path d="M1074.3 147.5V254M1074.3 325V431.5" stroke="#333333" stroke-width="3"/>
<rect x="1059" y="254" width="30.6" height="71" fill="#56BFEA" stroke="#333333" stroke-width="3.4"/>
<path d="M1059 292.1H1089.6" stroke="#333333" stroke-width="6.5"/>
<path d="M1074.3 472.3V477" stroke="#1a1a1a" stroke-width="2"/>
<path d="M1115.9,66.3 1115.9,72.6 1115.9,79 1115.9,85.3 1115.9,91.6 1115.9,98 1115.9,104.3 1116,110.6 1116,117 1116,123.3 1116.1,129.6 1116.1,136 1116.2,142.3 1116.3,148.7 1116.4,155 1116.6,161.3 1116.9,167.7 1117.2,174 1117.6,180.3 1118.1,186.7 1118.7,193 1119.4,199.3 1120.2,205.7 1121.1,212 1122.1,218.3 1123.3,224.7 1124.5,231 1125.8,237.3 1127.1,243.7 1128.4,250 1129.7,256.3 1130.9,262.7 1132,269 1132.9,275.4 1133.5,281.7 1134,288 1134.2,294.4 1134.2,300.7 1133.8,307 1133.3,313.4 1132.5,319.7 1131.5,326 1130.4,332.4 1129.2,338.7 1127.9,345 1126.6,351.4 1125.3,357.7 1124,364 1122.8,370.4 1121.7,376.7 1120.7,383.1 1119.8,389.4 1119.1,395.7 1118.4,402.1 1117.9,408.4 1117.4,414.7 1117.1,421.1 1116.8,427.4 1116.6,433.7 1116.4,440.1 1116.2,446.4 1115.6,446.4 1115.5,440.1 1115.3,433.7 1115.1,427.4 1114.8,421.1 1114.4,414.7 1114,408.4 1113.4,402.1 1112.8,395.7 1112,389.4 1111.1,383.1 1110.1,376.7 1109,370.4 1107.9,364 1106.6,357.7 1105.3,351.4 1104,345 1102.7,338.7 1101.4,332.4 1100.3,326 1099.3,319.7 1098.6,313.4 1098,307 1097.7,300.7 1097.6,294.4 1097.8,288 1098.3,281.7 1099,275.4 1099.9,269 1100.9,262.7 1102.1,256.3 1103.4,250 1104.7,243.7 1106,237.3 1107.3,231 1108.6,224.7 1109.7,218.3 1110.7,212 1111.7,205.7 1112.5,199.3 1113.2,193 1113.8,186.7 1114.2,180.3 1114.6,174 1115,167.7 1115.2,161.3 1115.4,155 1115.5,148.7 1115.6,142.3 1115.7,136 1115.8,129.6 1115.8,123.3 1115.9,117 1115.9,110.6 1115.9,104.3 1115.9,98 1115.9,91.6 1115.9,85.3 1115.9,79 1115.9,72.6 1115.9,66.3Z" fill="#58B4F2" stroke="#333333" stroke-width="3.6" stroke-linejoin="round"/>
<path d="M1115.9 138.2V257.1M1115.9 336.4V446.4" stroke="#333333" stroke-width="3"/>
<rect x="1100.6" y="257.1" width="30.6" height="79.3" fill="#58B4F2" stroke="#333333" stroke-width="3.4"/>
<path d="M1100.6 296.2H1131.2" stroke="#333333" stroke-width="6.5"/>
<path d="M1115.9 472.3V477" stroke="#1a1a1a" stroke-width="2"/>
<path d="M1157.6,61 1157.6,67.3 1157.6,73.6 1157.6,80 1157.6,86.3 1157.6,92.6 1157.6,98.9 1157.6,105.3 1157.6,111.6 1157.6,117.9 1157.7,124.2 1157.7,130.5 1157.8,136.9 1157.9,143.2 1158.1,149.5 1158.3,155.8 1158.5,162.1 1158.8,168.5 1159.2,174.8 1159.7,181.1 1160.3,187.4 1160.9,193.8 1161.7,200.1 1162.7,206.4 1163.7,212.7 1164.8,219 1166,225.4 1167.3,231.7 1168.6,238 1170,244.3 1171.2,250.7 1172.4,257 1173.5,263.3 1174.4,269.6 1175.1,275.9 1175.6,282.3 1175.8,288.6 1175.8,294.9 1175.5,301.2 1175,307.5 1174.2,313.9 1173.3,320.2 1172.2,326.5 1171,332.8 1169.7,339.2 1168.4,345.5 1167.1,351.8 1165.8,358.1 1164.6,364.4 1163.5,370.8 1162.5,377.1 1161.6,383.4 1160.8,389.7 1160.1,396 1159.6,402.4 1159.1,408.7 1158.7,415 1158.5,421.3 1158.2,427.7 1158,434 1157.9,440.3 1157.2,440.3 1157.1,434 1156.9,427.7 1156.7,421.3 1156.4,415 1156,408.7 1155.5,402.4 1155,396 1154.3,389.7 1153.5,383.4 1152.7,377.1 1151.6,370.8 1150.5,364.4 1149.3,358.1 1148.1,351.8 1146.7,345.5 1145.4,339.2 1144.1,332.8 1142.9,326.5 1141.8,320.2 1140.9,313.9 1140.1,307.5 1139.6,301.2 1139.3,294.9 1139.3,288.6 1139.5,282.3 1140,275.9 1140.7,269.6 1141.6,263.3 1142.7,257 1143.9,250.7 1145.2,244.3 1146.5,238 1147.8,231.7 1149.1,225.4 1150.3,219 1151.4,212.7 1152.5,206.4 1153.4,200.1 1154.2,193.8 1154.9,187.4 1155.4,181.1 1155.9,174.8 1156.3,168.5 1156.6,162.1 1156.9,155.8 1157,149.5 1157.2,143.2 1157.3,136.9 1157.4,130.5 1157.4,124.2 1157.5,117.9 1157.5,111.6 1157.5,105.3 1157.5,98.9 1157.5,92.6 1157.5,86.3 1157.6,80 1157.6,73.6 1157.6,67.3 1157.6,61Z" fill="#52AEF8" stroke="#333333" stroke-width="3.6" stroke-linejoin="round"/>
<path d="M1157.6 147.5V254M1157.6 325V431.5" stroke="#333333" stroke-width="3"/>
<rect x="1142.3" y="254" width="30.6" height="71" fill="#52AEF8" stroke="#333333" stroke-width="3.4"/>
<path d="M1142.3 291.1H1172.9" stroke="#333333" stroke-width="6.5"/>
<path d="M1157.6 472.3V477" stroke="#1a1a1a" stroke-width="2"/>
<path d="M1199.2,60.2 1199.2,66.5 1199.2,72.8 1199.2,79.2 1199.3,85.5 1199.3,91.8 1199.3,98.1 1199.4,104.4 1199.4,110.7 1199.5,117.1 1199.7,123.4 1199.8,129.7 1200,136 1200.3,142.3 1200.7,148.7 1201.1,155 1201.7,161.3 1202.3,167.6 1203.1,173.9 1203.9,180.2 1204.9,186.6 1206,192.9 1207.2,199.2 1208.5,205.5 1209.8,211.8 1211.1,218.2 1212.4,224.5 1213.6,230.8 1214.7,237.1 1215.7,243.4 1216.5,249.8 1217.1,256.1 1217.4,262.4 1217.5,268.7 1217.3,275 1216.9,281.3 1216.2,287.7 1215.3,294 1214.3,300.3 1213.1,306.6 1211.9,312.9 1210.5,319.3 1209.2,325.6 1207.9,331.9 1206.7,338.2 1205.5,344.5 1204.5,350.8 1203.6,357.2 1202.7,363.5 1202,369.8 1201.4,376.1 1200.9,382.4 1200.5,388.8 1200.2,395.1 1199.9,401.4 1199.8,407.7 1199.6,414 1199.5,420.3 1199.4,426.7 1199.3,433 1199.3,439.3 1199.1,439.3 1199.1,433 1199,426.7 1198.9,420.3 1198.8,414 1198.6,407.7 1198.5,401.4 1198.2,395.1 1197.9,388.8 1197.5,382.4 1197,376.1 1196.4,369.8 1195.7,363.5 1194.8,357.2 1193.9,350.8 1192.9,344.5 1191.7,338.2 1190.5,331.9 1189.2,325.6 1187.9,319.3 1186.5,312.9 1185.3,306.6 1184.1,300.3 1183.1,294 1182.2,287.7 1181.5,281.3 1181.1,275 1180.9,268.7 1181,262.4 1181.3,256.1 1181.9,249.8 1182.7,243.4 1183.7,237.1 1184.8,230.8 1186,224.5 1187.3,218.2 1188.6,211.8 1189.9,205.5 1191.2,199.2 1192.4,192.9 1193.5,186.6 1194.5,180.2 1195.3,173.9 1196.1,167.6 1196.7,161.3 1197.3,155 1197.7,148.7 1198.1,142.3 1198.4,136 1198.6,129.7 1198.7,123.4 1198.9,117.1 1199,110.7 1199,104.4 1199.1,98.1 1199.1,91.8 1199.1,85.5 1199.2,79.2 1199.2,72.8 1199.2,66.5 1199.2,60.2Z" fill="#5AA4F8" stroke="#333333" stroke-width="3.6" stroke-linejoin="round"/>
<path d="M1199.2 116.3V230.4M1199.2 306.5V420.6" stroke="#333333" stroke-width="3"/>
<rect x="1183.9" y="230.4" width="30.6" height="76.1" fill="#5AA4F8" stroke="#333333" stroke-width="3.4"/>
<path d="M1183.9 267.4H1214.5" stroke="#333333" stroke-width="6.5"/>
<path d="M1199.2 472.3V477" stroke="#1a1a1a" stroke-width="2"/>
<path d="M1240.8,63.7 1240.8,69.9 1240.9,76 1240.9,82.2 1240.9,88.4 1240.9,94.6 1240.9,100.7 1241,106.9 1241,113.1 1241.1,119.3 1241.2,125.4 1241.3,131.6 1241.5,137.8 1241.7,144 1242,150.1 1242.3,156.3 1242.7,162.5 1243.2,168.6 1243.8,174.8 1244.6,181 1245.4,187.2 1246.3,193.3 1247.4,199.5 1248.5,205.7 1249.7,211.9 1251,218 1252.3,224.2 1253.6,230.4 1254.8,236.6 1255.9,242.7 1257,248.9 1257.8,255.1 1258.5,261.2 1258.9,267.4 1259.1,273.6 1259.1,279.8 1258.8,285.9 1258.3,292.1 1257.5,298.3 1256.6,304.5 1255.5,310.6 1254.4,316.8 1253.1,323 1251.8,329.2 1250.5,335.3 1249.3,341.5 1248.1,347.7 1247,353.8 1246,360 1245.1,366.2 1244.3,372.4 1243.6,378.5 1243,384.7 1242.6,390.9 1242.2,397.1 1241.8,403.2 1241.6,409.4 1241.4,415.6 1241.2,421.8 1241.1,427.9 1241,434.1 1240.6,434.1 1240.5,427.9 1240.4,421.8 1240.3,415.6 1240.1,409.4 1239.8,403.2 1239.5,397.1 1239.1,390.9 1238.6,384.7 1238.1,378.5 1237.4,372.4 1236.6,366.2 1235.7,360 1234.7,353.8 1233.6,347.7 1232.4,341.5 1231.1,335.3 1229.9,329.2 1228.6,323 1227.3,316.8 1226.1,310.6 1225.1,304.5 1224.1,298.3 1223.4,292.1 1222.9,285.9 1222.6,279.8 1222.6,273.6 1222.8,267.4 1223.2,261.2 1223.9,255.1 1224.7,248.9 1225.7,242.7 1226.9,236.6 1228.1,230.4 1229.4,224.2 1230.7,218 1232,211.9 1233.2,205.7 1234.3,199.5 1235.4,193.3 1236.3,187.2 1237.1,181 1237.8,174.8 1238.5,168.6 1239,162.5 1239.4,156.3 1239.7,150.1 1240,144 1240.2,137.8 1240.4,131.6 1240.5,125.4 1240.6,119.3 1240.7,113.1 1240.7,106.9 1240.8,100.7 1240.8,94.6 1240.8,88.4 1240.8,82.2 1240.8,76 1240.8,69.9 1240.8,63.7Z" fill="#7C96FC" stroke="#333333" stroke-width="3.6" stroke-linejoin="round"/>
<path d="M1240.8 126V238.6M1240.8 313.7V426.3" stroke="#333333" stroke-width="3"/>
<rect x="1225.5" y="238.6" width="30.6" height="75.1" fill="#7C96FC" stroke="#333333" stroke-width="3.4"/>
<path d="M1225.5 275.6H1256.1" stroke="#333333" stroke-width="6.5"/>
<path d="M1240.8 472.3V477" stroke="#1a1a1a" stroke-width="2"/>
<path d="M1282.5,60.6 1282.5,66.9 1282.5,73.1 1282.5,79.4 1282.5,85.6 1282.6,91.9 1282.6,98.2 1282.7,104.4 1282.7,110.7 1282.8,116.9 1283,123.2 1283.1,129.5 1283.4,135.7 1283.6,142 1284,148.2 1284.5,154.5 1285,160.8 1285.6,167 1286.4,173.3 1287.3,179.5 1288.2,185.8 1289.3,192.1 1290.5,198.3 1291.7,204.6 1293,210.8 1294.4,217.1 1295.6,223.4 1296.9,229.6 1298,235.9 1299,242.1 1299.8,248.4 1300.3,254.7 1300.7,260.9 1300.8,267.2 1300.6,273.4 1300.2,279.7 1299.6,286 1298.7,292.2 1297.7,298.5 1296.6,304.7 1295.3,311 1294,317.3 1292.7,323.5 1291.4,329.8 1290.2,336 1289,342.3 1288,348.6 1287,354.8 1286.2,361.1 1285.5,367.3 1284.8,373.6 1284.3,379.9 1283.9,386.1 1283.6,392.4 1283.3,398.6 1283.1,404.9 1282.9,411.2 1282.8,417.4 1282.7,423.7 1282.6,429.9 1282.6,436.2 1282.4,436.2 1282.3,429.9 1282.3,423.7 1282.2,417.4 1282,411.2 1281.9,404.9 1281.7,398.6 1281.4,392.4 1281.1,386.1 1280.6,379.9 1280.1,373.6 1279.5,367.3 1278.8,361.1 1277.9,354.8 1277,348.6 1275.9,342.3 1274.8,336 1273.5,329.8 1272.2,323.5 1270.9,317.3 1269.6,311 1268.4,304.7 1267.2,298.5 1266.2,292.2 1265.4,286 1264.7,279.7 1264.3,273.4 1264.2,267.2 1264.3,260.9 1264.6,254.7 1265.2,248.4 1266,242.1 1267,235.9 1268.1,229.6 1269.3,223.4 1270.6,217.1 1271.9,210.8 1273.2,204.6 1274.5,198.3 1275.6,192.1 1276.7,185.8 1277.7,179.5 1278.6,173.3 1279.3,167 1280,160.8 1280.5,154.5 1281,148.2 1281.3,142 1281.6,135.7 1281.8,129.5 1282,123.2 1282.1,116.9 1282.2,110.7 1282.3,104.4 1282.4,98.2 1282.4,91.9 1282.4,85.6 1282.4,79.4 1282.5,73.1 1282.5,66.9 1282.5,60.6Z" fill="#9C88F8" stroke="#333333" stroke-width="3.6" stroke-linejoin="round"/>
<path d="M1282.5 113.5V229.3M1282.5 306.5V422.3" stroke="#333333" stroke-width="3"/>
<rect x="1267.2" y="229.3" width="30.6" height="77.2" fill="#9C88F8" stroke="#333333" stroke-width="3.4"/>
<path d="M1267.2 266.4H1297.8" stroke="#333333" stroke-width="6.5"/>
<path d="M1282.5 472.3V477" stroke="#1a1a1a" stroke-width="2"/>
<path d="M1324.1,69.2 1324.1,75.4 1324.1,81.5 1324.1,87.7 1324.1,93.8 1324.1,100 1324.2,106.1 1324.2,112.2 1324.2,118.4 1324.2,124.6 1324.3,130.7 1324.3,136.9 1324.4,143 1324.5,149.2 1324.7,155.3 1324.9,161.4 1325.1,167.6 1325.4,173.8 1325.8,179.9 1326.3,186.1 1326.9,192.2 1327.6,198.4 1328.4,204.5 1329.2,210.6 1330.2,216.8 1331.3,222.9 1332.5,229.1 1333.8,235.2 1335.1,241.4 1336.3,247.6 1337.6,253.7 1338.8,259.9 1339.8,266 1340.8,272.1 1341.5,278.3 1342,284.4 1342.4,290.6 1342.4,296.8 1342.2,302.9 1341.8,309.1 1341.2,315.2 1340.3,321.4 1339.3,327.5 1338.2,333.6 1337,339.8 1335.7,345.9 1334.4,352.1 1333.1,358.2 1331.9,364.4 1330.8,370.6 1329.7,376.7 1328.8,382.8 1327.9,389 1327.2,395.1 1326.6,401.3 1326.1,407.4 1325.6,413.6 1325.3,419.8 1325,425.9 1324.8,432.1 1324.6,438.2 1323.6,438.2 1323.5,432.1 1323.2,425.9 1323,419.8 1322.6,413.6 1322.2,407.4 1321.7,401.3 1321,395.1 1320.3,389 1319.5,382.8 1318.5,376.7 1317.5,370.6 1316.3,364.4 1315.1,358.2 1313.8,352.1 1312.5,345.9 1311.3,339.8 1310.1,333.6 1308.9,327.5 1307.9,321.4 1307.1,315.2 1306.4,309.1 1306,302.9 1305.8,296.8 1305.9,290.6 1306.2,284.4 1306.7,278.3 1307.5,272.1 1308.4,266 1309.5,259.9 1310.7,253.7 1311.9,247.6 1313.2,241.4 1314.5,235.2 1315.7,229.1 1316.9,222.9 1318,216.8 1319,210.6 1319.9,204.5 1320.7,198.4 1321.4,192.2 1321.9,186.1 1322.4,179.9 1322.8,173.8 1323.1,167.6 1323.4,161.4 1323.6,155.3 1323.7,149.2 1323.8,143 1323.9,136.9 1324,130.7 1324,124.6 1324,118.4 1324.1,112.2 1324.1,106.1 1324.1,100 1324.1,93.8 1324.1,87.7 1324.1,81.5 1324.1,75.4 1324.1,69.2Z" fill="#C07CF8" stroke="#333333" stroke-width="3.6" stroke-linejoin="round"/>
<path d="M1324.1 142V256.1M1324.1 332.2V438.2" stroke="#333333" stroke-width="3"/>
<rect x="1308.8" y="256.1" width="30.6" height="76.1" fill="#C07CF8" stroke="#333333" stroke-width="3.4"/>
<path d="M1308.8 295.2H1339.4" stroke="#333333" stroke-width="6.5"/>
<path d="M1324.1 472.3V477" stroke="#1a1a1a" stroke-width="2"/>
<path d="M1365.8,62.6 1365.8,68.8 1365.8,75 1365.8,81.1 1365.8,87.3 1365.8,93.5 1365.8,99.7 1365.8,105.8 1365.8,112 1365.8,118.2 1365.8,124.3 1365.9,130.5 1365.9,136.7 1366,142.9 1366.1,149.1 1366.3,155.2 1366.4,161.4 1366.7,167.6 1367,173.8 1367.3,179.9 1367.8,186.1 1368.3,192.3 1369,198.4 1369.7,204.6 1370.6,210.8 1371.6,217 1372.6,223.2 1373.8,229.3 1375,235.5 1376.3,241.7 1377.6,247.8 1378.9,254 1380.1,260.2 1381.2,266.4 1382.2,272.6 1383,278.7 1383.6,284.9 1383.9,291.1 1384.1,297.2 1383.9,303.4 1383.6,309.6 1383,315.8 1382.2,322 1381.2,328.1 1380.1,334.3 1378.9,340.5 1377.6,346.7 1376.3,352.8 1375.1,359 1373.8,365.2 1372.7,371.4 1371.6,377.5 1370.6,383.7 1369.7,389.9 1369,396.1 1368.3,402.2 1367.8,408.4 1367.3,414.6 1367,420.8 1366.7,426.9 1366.4,433.1 1365.1,433.1 1364.8,426.9 1364.5,420.8 1364.2,414.6 1363.7,408.4 1363.2,402.2 1362.5,396.1 1361.8,389.9 1360.9,383.7 1359.9,377.5 1358.9,371.4 1357.7,365.2 1356.5,359 1355.2,352.8 1353.9,346.7 1352.6,340.5 1351.4,334.3 1350.3,328.1 1349.3,322 1348.5,315.8 1347.9,309.6 1347.6,303.4 1347.5,297.2 1347.6,291.1 1348,284.9 1348.6,278.7 1349.4,272.6 1350.3,266.4 1351.4,260.2 1352.6,254 1353.9,247.8 1355.2,241.7 1356.5,235.5 1357.7,229.3 1358.9,223.2 1360,217 1360.9,210.8 1361.8,204.6 1362.5,198.4 1363.2,192.3 1363.7,186.1 1364.2,179.9 1364.6,173.8 1364.8,167.6 1365.1,161.4 1365.3,155.2 1365.4,149.1 1365.5,142.9 1365.6,136.7 1365.6,130.5 1365.7,124.3 1365.7,118.2 1365.7,112 1365.7,105.8 1365.7,99.7 1365.7,93.5 1365.8,87.3 1365.8,81.1 1365.8,75 1365.8,68.8 1365.8,62.6Z" fill="#D176F8" stroke="#333333" stroke-width="3.6" stroke-linejoin="round"/>
<path d="M1365.8 152.7V259.2M1365.8 330.2V433.1" stroke="#333333" stroke-width="3"/>
<rect x="1350.5" y="259.2" width="30.6" height="71" fill="#D176F8" stroke="#333333" stroke-width="3.4"/>
<path d="M1350.5 297.3H1381.1" stroke="#333333" stroke-width="6.5"/>
<path d="M1365.8 472.3V477" stroke="#1a1a1a" stroke-width="2"/>
<path d="M1407.4,60.6 1407.4,66.7 1407.4,72.8 1407.4,79 1407.4,85.1 1407.4,91.2 1407.5,97.3 1407.5,103.5 1407.6,109.6 1407.6,115.7 1407.7,121.8 1407.8,127.9 1408,134.1 1408.2,140.2 1408.4,146.3 1408.7,152.4 1409.1,158.5 1409.6,164.7 1410.2,170.8 1410.9,176.9 1411.6,183 1412.5,189.2 1413.5,195.3 1414.6,201.4 1415.8,207.5 1417.1,213.6 1418.3,219.8 1419.6,225.9 1420.8,232 1422,238.1 1423.1,244.2 1424,250.4 1424.8,256.5 1425.3,262.6 1425.6,268.7 1425.7,274.9 1425.5,281 1425.1,287.1 1424.5,293.2 1423.7,299.3 1422.7,305.5 1421.6,311.6 1420.3,317.7 1419.1,323.8 1417.8,330 1416.5,336.1 1415.3,342.2 1414.2,348.3 1413.1,354.4 1412.2,360.6 1411.3,366.7 1410.6,372.8 1409.9,378.9 1409.4,385 1409,391.2 1408.6,397.3 1408.3,403.4 1408.1,409.5 1407.9,415.7 1407.8,421.8 1407.7,427.9 1407.1,427.9 1407,421.8 1406.9,415.7 1406.7,409.5 1406.5,403.4 1406.2,397.3 1405.8,391.2 1405.4,385 1404.9,378.9 1404.2,372.8 1403.5,366.7 1402.6,360.6 1401.7,354.4 1400.6,348.3 1399.5,342.2 1398.3,336.1 1397,330 1395.7,323.8 1394.5,317.7 1393.2,311.6 1392.1,305.5 1391.1,299.3 1390.3,293.2 1389.7,287.1 1389.3,281 1389.1,274.9 1389.2,268.7 1389.5,262.6 1390,256.5 1390.8,250.4 1391.7,244.2 1392.8,238.1 1394,232 1395.2,225.9 1396.5,219.8 1397.7,213.6 1399,207.5 1400.2,201.4 1401.3,195.3 1402.3,189.2 1403.2,183 1403.9,176.9 1404.6,170.8 1405.2,164.7 1405.7,158.5 1406.1,152.4 1406.4,146.3 1406.6,140.2 1406.8,134.1 1407,127.9 1407.1,121.8 1407.2,115.7 1407.2,109.6 1407.3,103.5 1407.3,97.3 1407.4,91.2 1407.4,85.1 1407.4,79 1407.4,72.8 1407.4,66.7 1407.4,60.6Z" fill="#E070F0" stroke="#333333" stroke-width="3.6" stroke-linejoin="round"/>
<path d="M1407.4 120.3V234.5M1407.4 310.6V424.8" stroke="#333333" stroke-width="3"/>
<rect x="1392.1" y="234.5" width="30.6" height="76.1" fill="#E070F0" stroke="#333333" stroke-width="3.4"/>
<path d="M1392.1 273.6H1422.7" stroke="#333333" stroke-width="6.5"/>
<path d="M1407.4 472.3V477" stroke="#1a1a1a" stroke-width="2"/>
<path d="M1449,65.7 1449,72 1449,78.3 1449,84.6 1449,90.9 1449.1,97.3 1449.1,103.6 1449.1,109.9 1449.1,116.2 1449.1,122.5 1449.2,128.8 1449.2,135.1 1449.3,141.4 1449.4,147.8 1449.5,154.1 1449.7,160.4 1449.9,166.7 1450.2,173 1450.5,179.3 1450.9,185.6 1451.5,191.9 1452.1,198.2 1452.9,204.6 1453.7,210.9 1454.7,217.2 1455.8,223.5 1457,229.8 1458.2,236.1 1459.5,242.4 1460.9,248.7 1462.2,255.1 1463.4,261.4 1464.5,267.7 1465.5,274 1466.3,280.3 1466.9,286.6 1467.2,292.9 1467.3,299.2 1467.2,305.5 1466.8,311.9 1466.1,318.2 1465.2,324.5 1464.2,330.8 1463,337.1 1461.8,343.4 1460.5,349.7 1459.2,356 1457.9,362.3 1456.6,368.7 1455.5,375 1454.4,381.3 1453.5,387.6 1452.6,393.9 1451.9,400.2 1451.3,406.5 1450.8,412.8 1450.4,419.2 1450.1,425.5 1449.8,431.8 1449.6,438.1 1449.4,444.4 1448.6,444.4 1448.5,438.1 1448.3,431.8 1448,425.5 1447.7,419.2 1447.3,412.8 1446.8,406.5 1446.2,400.2 1445.4,393.9 1444.6,387.6 1443.7,381.3 1442.6,375 1441.5,368.7 1440.2,362.3 1438.9,356 1437.6,349.7 1436.3,343.4 1435,337.1 1433.9,330.8 1432.8,324.5 1432,318.2 1431.3,311.9 1430.9,305.5 1430.7,299.2 1430.8,292.9 1431.2,286.6 1431.8,280.3 1432.6,274 1433.6,267.7 1434.7,261.4 1435.9,255.1 1437.2,248.7 1438.5,242.4 1439.8,236.1 1441.1,229.8 1442.3,223.5 1443.4,217.2 1444.3,210.9 1445.2,204.6 1446,198.2 1446.6,191.9 1447.1,185.6 1447.6,179.3 1447.9,173 1448.2,166.7 1448.4,160.4 1448.6,154.1 1448.7,147.8 1448.8,141.4 1448.9,135.1 1448.9,128.8 1449,122.5 1449,116.2 1449,109.9 1449,103.6 1449,97.3 1449,90.9 1449,84.6 1449,78.3 1449,72 1449,65.7Z" fill="#EC6CF0" stroke="#333333" stroke-width="3.6" stroke-linejoin="round"/>
<path d="M1449 154.7V261.2M1449 332.2V438.7" stroke="#333333" stroke-width="3"/>
<rect x="1433.7" y="261.2" width="30.6" height="71" fill="#EC6CF0" stroke="#333333" stroke-width="3.4"/>
<path d="M1433.7 298.3H1464.3" stroke="#333333" stroke-width="6.5"/>
<path d="M1449 472.3V477" stroke="#1a1a1a" stroke-width="2"/>
<path d="M1490.7,62.6 1490.7,68.9 1490.7,75.2 1490.7,81.5 1490.7,87.8 1490.7,94.2 1490.8,100.5 1490.8,106.8 1490.9,113.1 1491,119.4 1491.1,125.7 1491.3,132 1491.5,138.3 1491.7,144.7 1492.1,151 1492.5,157.3 1493,163.6 1493.6,169.9 1494.3,176.2 1495.2,182.5 1496.1,188.8 1497.2,195.1 1498.3,201.5 1499.6,207.8 1500.9,214.1 1502.2,220.4 1503.5,226.7 1504.7,233 1505.9,239.3 1506.9,245.6 1507.8,251.9 1508.4,258.3 1508.8,264.6 1509,270.9 1508.9,277.2 1508.5,283.5 1507.9,289.8 1507.1,296.1 1506.1,302.4 1505,308.8 1503.7,315.1 1502.4,321.4 1501.1,327.7 1499.8,334 1498.6,340.3 1497.4,346.6 1496.3,352.9 1495.3,359.2 1494.5,365.6 1493.7,371.9 1493.1,378.2 1492.6,384.5 1492.1,390.8 1491.8,397.1 1491.5,403.4 1491.3,409.7 1491.1,416.1 1491,422.4 1490.9,428.7 1490.8,435 1490.8,441.3 1490.6,441.3 1490.5,435 1490.5,428.7 1490.4,422.4 1490.2,416.1 1490.1,409.7 1489.9,403.4 1489.6,397.1 1489.2,390.8 1488.8,384.5 1488.3,378.2 1487.6,371.9 1486.9,365.6 1486,359.2 1485.1,352.9 1484,346.6 1482.8,340.3 1481.6,334 1480.2,327.7 1478.9,321.4 1477.6,315.1 1476.4,308.8 1475.2,302.4 1474.3,296.1 1473.4,289.8 1472.8,283.5 1472.5,277.2 1472.4,270.9 1472.5,264.6 1472.9,258.3 1473.6,251.9 1474.4,245.6 1475.5,239.3 1476.6,233 1477.9,226.7 1479.2,220.4 1480.5,214.1 1481.8,207.8 1483,201.5 1484.2,195.1 1485.3,188.8 1486.2,182.5 1487,176.2 1487.8,169.9 1488.4,163.6 1488.9,157.3 1489.3,151 1489.6,144.7 1489.9,138.3 1490.1,132 1490.3,125.7 1490.4,119.4 1490.5,113.1 1490.5,106.8 1490.6,100.5 1490.6,94.2 1490.6,87.8 1490.7,81.5 1490.7,75.2 1490.7,68.9 1490.7,62.6Z" fill="#F26AE8" stroke="#333333" stroke-width="3.6" stroke-linejoin="round"/>
<path d="M1490.7 125.8V235.5M1490.7 308.6V418.3" stroke="#333333" stroke-width="3"/>
<rect x="1475.4" y="235.5" width="30.6" height="73.1" fill="#F26AE8" stroke="#333333" stroke-width="3.4"/>
<path d="M1475.4 271.5H1506" stroke="#333333" stroke-width="6.5"/>
<path d="M1490.7 472.3V477" stroke="#1a1a1a" stroke-width="2"/>
<path d="M1532.3,60.6 1532.3,66.9 1532.3,73.2 1532.3,79.4 1532.4,85.7 1532.4,92 1532.4,98.3 1532.4,104.5 1532.5,110.8 1532.5,117.1 1532.6,123.4 1532.8,129.6 1532.9,135.9 1533.1,142.2 1533.4,148.5 1533.7,154.8 1534.2,161 1534.7,167.3 1535.3,173.6 1536,179.9 1536.9,186.1 1537.8,192.4 1538.9,198.7 1540,205 1541.3,211.2 1542.6,217.5 1543.9,223.8 1545.2,230.1 1546.4,236.3 1547.6,242.6 1548.6,248.9 1549.4,255.2 1550.1,261.5 1550.5,267.7 1550.6,274 1550.5,280.3 1550.2,286.6 1549.6,292.8 1548.8,299.1 1547.8,305.4 1546.6,311.7 1545.4,317.9 1544.1,324.2 1542.8,330.5 1541.5,336.8 1540.3,343.1 1539.1,349.3 1538,355.6 1537,361.9 1536.2,368.2 1535.4,374.4 1534.8,380.7 1534.3,387 1533.8,393.3 1533.5,399.5 1533.2,405.8 1533,412.1 1532.8,418.4 1532.7,424.6 1532.6,430.9 1532.5,437.2 1532.2,437.2 1532.1,430.9 1532,424.6 1531.9,418.4 1531.7,412.1 1531.5,405.8 1531.2,399.5 1530.8,393.3 1530.4,387 1529.9,380.7 1529.2,374.4 1528.5,368.2 1527.6,361.9 1526.6,355.6 1525.5,349.3 1524.4,343.1 1523.1,336.8 1521.8,330.5 1520.5,324.2 1519.2,317.9 1518,311.7 1516.9,305.4 1515.9,299.1 1515.1,292.8 1514.5,286.6 1514.1,280.3 1514,274 1514.2,267.7 1514.6,261.5 1515.2,255.2 1516,248.9 1517.1,242.6 1518.2,236.3 1519.5,230.1 1520.8,223.8 1522.1,217.5 1523.4,211.2 1524.6,205 1525.8,198.7 1526.8,192.4 1527.8,186.1 1528.6,179.9 1529.3,173.6 1530,167.3 1530.5,161 1530.9,154.8 1531.2,148.5 1531.5,142.2 1531.7,135.9 1531.9,129.6 1532,123.4 1532.1,117.1 1532.2,110.8 1532.2,104.5 1532.2,98.3 1532.3,92 1532.3,85.7 1532.3,79.4 1532.3,73.2 1532.3,66.9 1532.3,60.6Z" fill="#F865DC" stroke="#333333" stroke-width="3.6" stroke-linejoin="round"/>
<path d="M1532.3 127.5V238.6M1532.3 312.7V423.8" stroke="#333333" stroke-width="3"/>
<rect x="1517" y="238.6" width="30.6" height="74.1" fill="#F865DC" stroke="#333333" stroke-width="3.4"/>
<path d="M1517 274.6H1547.6" stroke="#333333" stroke-width="6.5"/>
<path d="M1532.3 472.3V477" stroke="#1a1a1a" stroke-width="2"/>
<path d="M1574,115.1 1574,120.3 1574.1,125.5 1574.1,130.6 1574.2,135.8 1574.2,141 1574.3,146.2 1574.4,151.4 1574.6,156.5 1574.8,161.7 1575,166.9 1575.2,172.1 1575.6,177.3 1575.9,182.4 1576.4,187.6 1576.9,192.8 1577.5,198 1578.1,203.2 1578.9,208.3 1579.7,213.5 1580.6,218.7 1581.5,223.9 1582.6,229.1 1583.6,234.2 1584.7,239.4 1585.8,244.6 1586.8,249.8 1587.9,255 1588.8,260.1 1589.7,265.3 1590.5,270.5 1591.2,275.7 1591.7,280.9 1592,286 1592.2,291.2 1592.2,296.4 1592.1,301.6 1591.9,306.8 1591.5,311.9 1591.1,317.1 1590.5,322.3 1589.9,327.5 1589.1,332.7 1588.4,337.8 1587.5,343 1586.6,348.2 1585.7,353.4 1584.8,358.6 1583.9,363.7 1583,368.9 1582.1,374.1 1581.3,379.3 1580.5,384.5 1579.8,389.6 1579.1,394.8 1578.4,400 1577.8,405.2 1577.3,410.4 1576.8,415.5 1576.4,420.7 1576.2,425.9 1571.8,425.9 1571.5,420.7 1571.1,415.5 1570.6,410.4 1570.1,405.2 1569.5,400 1568.8,394.8 1568.2,389.6 1567.4,384.5 1566.6,379.3 1565.8,374.1 1564.9,368.9 1564,363.7 1563.1,358.6 1562.2,353.4 1561.3,348.2 1560.4,343 1559.6,337.8 1558.8,332.7 1558,327.5 1557.4,322.3 1556.8,317.1 1556.4,311.9 1556,306.8 1555.8,301.6 1555.7,296.4 1555.7,291.2 1555.9,286 1556.2,280.9 1556.7,275.7 1557.4,270.5 1558.2,265.3 1559.1,260.1 1560,255 1561.1,249.8 1562.1,244.6 1563.2,239.4 1564.3,234.2 1565.4,229.1 1566.4,223.9 1567.3,218.7 1568.2,213.5 1569,208.3 1569.8,203.2 1570.4,198 1571,192.8 1571.5,187.6 1572,182.4 1572.4,177.3 1572.7,172.1 1572.9,166.9 1573.2,161.7 1573.3,156.5 1573.5,151.4 1573.6,146.2 1573.7,141 1573.7,135.8 1573.8,130.6 1573.8,125.5 1573.9,120.3 1573.9,115.1Z" fill="#F864C8" stroke="#333333" stroke-width="3.6" stroke-linejoin="round"/>
<path d="M1574 119.8V244.8M1574 328.1V425.9" stroke="#333333" stroke-width="3"/>
<rect x="1558.7" y="244.8" width="30.6" height="83.3" fill="#F864C8" stroke="#333333" stroke-width="3.4"/>
<path d="M1558.7 294.2H1589.3" stroke="#333333" stroke-width="6.5"/>
<path d="M1574 472.3V477" stroke="#1a1a1a" stroke-width="2"/>
<path d="M1615.6,104.8 1615.7,110.2 1615.7,115.5 1615.7,120.9 1615.8,126.2 1615.8,131.6 1615.9,136.9 1616,142.3 1616.1,147.6 1616.3,153 1616.5,158.3 1616.7,163.7 1617,169 1617.4,174.4 1617.8,179.7 1618.3,185.1 1618.8,190.4 1619.5,195.8 1620.2,201.1 1621,206.5 1621.9,211.8 1622.9,217.2 1623.9,222.5 1625,227.9 1626.1,233.2 1627.2,238.6 1628.4,243.9 1629.4,249.3 1630.4,254.6 1631.4,260 1632.2,265.3 1632.8,270.7 1633.4,276.1 1633.7,281.4 1633.9,286.8 1633.9,292.1 1633.6,297.5 1633.2,302.8 1632.6,308.2 1631.7,313.5 1630.8,318.9 1629.7,324.2 1628.6,329.6 1627.4,334.9 1626.2,340.3 1625,345.6 1623.8,351 1622.7,356.3 1621.7,361.7 1620.7,367 1619.9,372.4 1619.2,377.7 1618.5,383.1 1617.9,388.4 1617.5,393.8 1617.1,399.1 1616.7,404.5 1616.5,409.8 1616.3,415.2 1616.1,420.5 1616,425.9 1615.2,425.9 1615.1,420.5 1614.9,415.2 1614.7,409.8 1614.5,404.5 1614.1,399.1 1613.7,393.8 1613.3,388.4 1612.7,383.1 1612,377.7 1611.3,372.4 1610.5,367 1609.5,361.7 1608.5,356.3 1607.4,351 1606.2,345.6 1605,340.3 1603.8,334.9 1602.6,329.6 1601.5,324.2 1600.4,318.9 1599.5,313.5 1598.6,308.2 1598,302.8 1597.6,297.5 1597.3,292.1 1597.3,286.8 1597.5,281.4 1597.8,276.1 1598.4,270.7 1599,265.3 1599.8,260 1600.8,254.6 1601.8,249.3 1602.8,243.9 1604,238.6 1605.1,233.2 1606.2,227.9 1607.3,222.5 1608.3,217.2 1609.3,211.8 1610.2,206.5 1611,201.1 1611.7,195.8 1612.4,190.4 1612.9,185.1 1613.4,179.7 1613.8,174.4 1614.2,169 1614.5,163.7 1614.7,158.3 1614.9,153 1615.1,147.6 1615.2,142.3 1615.3,136.9 1615.4,131.6 1615.4,126.2 1615.5,120.9 1615.5,115.5 1615.5,110.2 1615.6,104.8Z" fill="#F265B0" stroke="#333333" stroke-width="3.6" stroke-linejoin="round"/>
<path d="M1615.6 163.5V259.2M1615.6 323V418.7" stroke="#333333" stroke-width="3"/>
<rect x="1600.3" y="259.2" width="30.6" height="63.8" fill="#F265B0" stroke="#333333" stroke-width="3.4"/>
<path d="M1600.3 289H1630.9" stroke="#333333" stroke-width="6.5"/>
<path d="M1615.6 472.3V477" stroke="#1a1a1a" stroke-width="2"/>
<path d="M1657.2,77 1657.2,83.3 1657.3,89.6 1657.3,95.9 1657.3,102.2 1657.3,108.6 1657.3,114.9 1657.4,121.2 1657.4,127.5 1657.5,133.8 1657.6,140.1 1657.7,146.4 1657.9,152.7 1658.1,159.1 1658.4,165.4 1658.8,171.7 1659.3,178 1659.8,184.3 1660.5,190.6 1661.3,196.9 1662.2,203.2 1663.2,209.5 1664.3,215.9 1665.5,222.2 1666.8,228.5 1668.1,234.8 1669.4,241.1 1670.7,247.4 1671.9,253.7 1673,260 1673.9,266.4 1674.7,272.7 1675.2,279 1675.5,285.3 1675.5,291.6 1675.2,297.9 1674.6,304.2 1673.6,310.5 1672.5,316.8 1671.1,323.2 1669.7,329.5 1668.2,335.8 1666.6,342.1 1665.2,348.4 1663.8,354.7 1662.6,361 1661.5,367.3 1660.6,373.6 1659.8,380 1659.2,386.3 1658.7,392.6 1658.3,398.9 1658,405.2 1657.8,411.5 1657.6,417.8 1657.5,424.1 1657.4,430.5 1657.3,436.8 1657.3,443.1 1657.3,449.4 1657.3,455.7 1657.2,455.7 1657.2,449.4 1657.2,443.1 1657.1,436.8 1657.1,430.5 1657,424.1 1656.9,417.8 1656.7,411.5 1656.5,405.2 1656.2,398.9 1655.8,392.6 1655.3,386.3 1654.6,380 1653.9,373.6 1652.9,367.3 1651.9,361 1650.6,354.7 1649.3,348.4 1647.8,342.1 1646.3,335.8 1644.8,329.5 1643.3,323.2 1642,316.8 1640.8,310.5 1639.9,304.2 1639.3,297.9 1639,291.6 1639,285.3 1639.3,279 1639.8,272.7 1640.5,266.4 1641.5,260 1642.6,253.7 1643.8,247.4 1645.1,241.1 1646.4,234.8 1647.7,228.5 1649,222.2 1650.2,215.9 1651.3,209.5 1652.3,203.2 1653.2,196.9 1654,190.6 1654.6,184.3 1655.2,178 1655.7,171.7 1656,165.4 1656.3,159.1 1656.6,152.7 1656.7,146.4 1656.9,140.1 1657,133.8 1657.1,127.5 1657.1,121.2 1657.2,114.9 1657.2,108.6 1657.2,102.2 1657.2,95.9 1657.2,89.6 1657.2,83.3 1657.2,77Z" fill="#EE6898" stroke="#333333" stroke-width="3.6" stroke-linejoin="round"/>
<path d="M1657.2 158.3V257.1M1657.2 323V421.8" stroke="#333333" stroke-width="3"/>
<rect x="1641.9" y="257.1" width="30.6" height="65.9" fill="#EE6898" stroke="#333333" stroke-width="3.4"/>
<path d="M1641.9 289H1672.5" stroke="#333333" stroke-width="6.5"/>
<path d="M1657.2 472.3V477" stroke="#1a1a1a" stroke-width="2"/>
<path d="M1698.9,62.6 1698.9,68.9 1698.9,75.2 1698.9,81.4 1698.9,87.7 1698.9,94 1698.9,100.3 1699,106.5 1699,112.8 1699.1,119.1 1699.1,125.4 1699.2,131.7 1699.4,137.9 1699.5,144.2 1699.8,150.5 1700.1,156.8 1700.4,163.1 1700.9,169.3 1701.4,175.6 1702.1,181.9 1702.9,188.2 1703.7,194.4 1704.7,200.7 1705.8,207 1707,213.3 1708.3,219.6 1709.6,225.8 1710.9,232.1 1712.2,238.4 1713.4,244.7 1714.5,250.9 1715.5,257.2 1716.2,263.5 1716.8,269.8 1717.1,276.1 1717.2,282.3 1717,288.6 1716.5,294.9 1715.7,301.2 1714.8,307.5 1713.6,313.7 1712.3,320 1711,326.3 1709.6,332.6 1708.2,338.8 1706.9,345.1 1705.6,351.4 1704.5,357.7 1703.5,364 1702.6,370.2 1701.8,376.5 1701.2,382.8 1700.6,389.1 1700.2,395.4 1699.9,401.6 1699.6,407.9 1699.4,414.2 1699.2,420.5 1699.1,426.7 1699.1,433 1699,439.3 1698.8,439.3 1698.7,433 1698.6,426.7 1698.5,420.5 1698.4,414.2 1698.2,407.9 1697.9,401.6 1697.6,395.4 1697.1,389.1 1696.6,382.8 1696,376.5 1695.2,370.2 1694.3,364 1693.3,357.7 1692.1,351.4 1690.9,345.1 1689.6,338.8 1688.2,332.6 1686.8,326.3 1685.4,320 1684.1,313.7 1683,307.5 1682,301.2 1681.3,294.9 1680.8,288.6 1680.6,282.3 1680.7,276.1 1681,269.8 1681.5,263.5 1682.3,257.2 1683.3,250.9 1684.4,244.7 1685.6,238.4 1686.9,232.1 1688.2,225.8 1689.5,219.6 1690.8,213.3 1691.9,207 1693,200.7 1694,194.4 1694.9,188.2 1695.7,181.9 1696.3,175.6 1696.9,169.3 1697.3,163.1 1697.7,156.8 1698,150.5 1698.2,144.2 1698.4,137.9 1698.5,131.7 1698.6,125.4 1698.7,119.1 1698.8,112.8 1698.8,106.5 1698.8,100.3 1698.8,94 1698.9,87.7 1698.9,81.4 1698.9,75.2 1698.9,68.9 1698.9,62.6Z" fill="#EE6A80" stroke="#333333" stroke-width="3.6" stroke-linejoin="round"/>
<path d="M1698.9 142.5V245.8M1698.9 314.7V418" stroke="#333333" stroke-width="3"/>
<rect x="1683.6" y="245.8" width="30.6" height="68.9" fill="#EE6A80" stroke="#333333" stroke-width="3.4"/>
<path d="M1683.6 280.8H1714.2" stroke="#333333" stroke-width="6.5"/>
<path d="M1698.9 472.3V477" stroke="#1a1a1a" stroke-width="2"/>
<text transform="matrix(0.8825,-0.5115,0.9157,0.4931, 191.6, 483.2)" font-size="27" text-anchor="end">donor01</text>
<text transform="matrix(0.8825,-0.5115,0.9157,0.4931, 233.2, 483.2)" font-size="27" text-anchor="end">donor02</text>
<text transform="matrix(0.8825,-0.5115,0.9157,0.4931, 274.9, 483.2)" font-size="27" text-anchor="end">donor03</text>
<text transform="matrix(0.8825,-0.5115,0.9157,0.4931, 316.5, 483.2)" font-size="27" text-anchor="end">donor04</text>
<text transform="matrix(0.8825,-0.5115,0.9157,0.4931, 358.2, 483.2)" font-size="27" text-anchor="end">donor05</text>
<text transform="matrix(0.8825,-0.5115,0.9157,0.4931, 399.8, 483.2)" font-size="27" text-anchor="end">donor06</text>
<text transform="matrix(0.8825,-0.5115,0.9157,0.4931, 441.4, 483.2)" font-size="27" text-anchor="end">donor07</text>
<text transform="matrix(0.8825,-0.5115,0.9157,0.4931, 483.1, 483.2)" font-size="27" text-anchor="end">donor08</text>
<text transform="matrix(0.8825,-0.5115,0.9157,0.4931, 524.7, 483.2)" font-size="27" text-anchor="end">donor09</text>
<text transform="matrix(0.8825,-0.5115,0.9157,0.4931, 566.4, 483.2)" font-size="27" text-anchor="end">donor10</text>
<text transform="matrix(0.8825,-0.5115,0.9157,0.4931, 608, 483.2)" font-size="27" text-anchor="end">donor11</text>
<text transform="matrix(0.8825,-0.5115,0.9157,0.4931, 649.6, 483.2)" font-size="27" text-anchor="end">donor12</text>
<text transform="matrix(0.8825,-0.5115,0.9157,0.4931, 691.3, 483.2)" font-size="27" text-anchor="end">donor13</text>
<text transform="matrix(0.8825,-0.5115,0.9157,0.4931, 732.9, 483.2)" font-size="27" text-anchor="end">donor14</text>
<text transform="matrix(0.8825,-0.5115,0.9157,0.4931, 774.6, 483.2)" font-size="27" text-anchor="end">donor15</text>
<text transform="matrix(0.8825,-0.5115,0.9157,0.4931, 816.2, 483.2)" font-size="27" text-anchor="end">donor16</text>
<text transform="matrix(0.8825,-0.5115,0.9157,0.4931, 857.8, 483.2)" font-size="27" text-anchor="end">donor17</text>
<text transform="matrix(0.8825,-0.5115,0.9157,0.4931, 899.5, 483.2)" font-size="27" text-anchor="end">donor18</text>
<text transform="matrix(0.8825,-0.5115,0.9157,0.4931, 941.1, 483.2)" font-size="27" text-anchor="end">donor19</text>
<text transform="matrix(0.8825,-0.5115,0.9157,0.4931, 982.8, 483.2)" font-size="27" text-anchor="end">donor20</text>
<text transform="matrix(0.8825,-0.5115,0.9157,0.4931, 1024.4, 483.2)" font-size="27" text-anchor="end">donor21</text>
<text transform="matrix(0.8825,-0.5115,0.9157,0.4931, 1066, 483.2)" font-size="27" text-anchor="end">donor22</text>
<text transform="matrix(0.8825,-0.5115,0.9157,0.4931, 1107.7, 483.2)" font-size="27" text-anchor="end">donor23</text>
<text transform="matrix(0.8825,-0.5115,0.9157,0.4931, 1149.3, 483.2)" font-size="27" text-anchor="end">donor24</text>
<text transform="matrix(0.8825,-0.5115,0.9157,0.4931, 1191, 483.2)" font-size="27" text-anchor="end">donor25</text>
<text transform="matrix(0.8825,-0.5115,0.9157,0.4931, 1232.6, 483.2)" font-size="27" text-anchor="end">donor26</text>
<text transform="matrix(0.8825,-0.5115,0.9157,0.4931, 1274.2, 483.2)" font-size="27" text-anchor="end">donor27</text>
<text transform="matrix(0.8825,-0.5115,0.9157,0.4931, 1315.9, 483.2)" font-size="27" text-anchor="end">donor28</text>
<text transform="matrix(0.8825,-0.5115,0.9157,0.4931, 1357.5, 483.2)" font-size="27" text-anchor="end">donor29</text>
<text transform="matrix(0.8825,-0.5115,0.9157,0.4931, 1399.2, 483.2)" font-size="27" text-anchor="end">donor30</text>
<text transform="matrix(0.8825,-0.5115,0.9157,0.4931, 1440.8, 483.2)" font-size="27" text-anchor="end">donor31</text>
<text transform="matrix(0.8825,-0.5115,0.9157,0.4931, 1482.4, 483.2)" font-size="27" text-anchor="end">donor32</text>
<text transform="matrix(0.8825,-0.5115,0.9157,0.4931, 1524.1, 483.2)" font-size="27" text-anchor="end">donor33</text>
<text transform="matrix(0.8825,-0.5115,0.9157,0.4931, 1565.7, 483.2)" font-size="27" text-anchor="end">donor34</text>
<text transform="matrix(0.8825,-0.5115,0.9157,0.4931, 1607.4, 483.2)" font-size="27" text-anchor="end">donor35</text>
<text transform="matrix(0.8825,-0.5115,0.9157,0.4931, 1649, 483.2)" font-size="27" text-anchor="end">donor36</text>
<text transform="matrix(0.8825,-0.5115,0.9157,0.4931, 1690.6, 483.2)" font-size="27" text-anchor="end">donor37</text>
<text transform="matrix(0.8825,-0.5115,0.9157,0.4931, 1732.3, 483.2)" font-size="27" text-anchor="end">donor38</text>
<text x="0" y="597.3" font-size="46" font-weight="bold" fill="#231815">b</text>
<rect x="193.3" y="610.5" width="1433.1" height="475.6" fill="#fff"/>
<path d="M193.3 992.9H1626.4" stroke="#EBEBEB" stroke-width="1.3"/>
<path d="M193.3 848.4H1626.4" stroke="#EBEBEB" stroke-width="1.3"/>
<path d="M193.3 703.8H1626.4" stroke="#EBEBEB" stroke-width="1.3"/>
<path d="M193.3 1065.2H1626.4" stroke="#EBEBEB" stroke-width="2.6"/>
<path d="M193.3 920.6H1626.4" stroke="#EBEBEB" stroke-width="2.6"/>
<path d="M193.3 776.1H1626.4" stroke="#EBEBEB" stroke-width="2.6"/>
<path d="M193.3 631.5H1626.4" stroke="#EBEBEB" stroke-width="2.6"/>
<path d="M215 610.5V1086.1" stroke="#EBEBEB" stroke-width="2.6"/>
<path d="M252.5 610.5V1086.1" stroke="#EBEBEB" stroke-width="2.6"/>
<path d="M290 610.5V1086.1" stroke="#EBEBEB" stroke-width="2.6"/>
<path d="M327.5 610.5V1086.1" stroke="#EBEBEB" stroke-width="2.6"/>
<path d="M365 610.5V1086.1" stroke="#EBEBEB" stroke-width="2.6"/>
<path d="M402.5 610.5V1086.1" stroke="#EBEBEB" stroke-width="2.6"/>
<path d="M440 610.5V1086.1" stroke="#EBEBEB" stroke-width="2.6"/>
<path d="M477.5 610.5V1086.1" stroke="#EBEBEB" stroke-width="2.6"/>
<path d="M515 610.5V1086.1" stroke="#EBEBEB" stroke-width="2.6"/>
<path d="M552.5 610.5V1086.1" stroke="#EBEBEB" stroke-width="2.6"/>
<path d="M590 610.5V1086.1" stroke="#EBEBEB" stroke-width="2.6"/>
<path d="M627.5 610.5V1086.1" stroke="#EBEBEB" stroke-width="2.6"/>
<path d="M665 610.5V1086.1" stroke="#EBEBEB" stroke-width="2.6"/>
<path d="M702.5 610.5V1086.1" stroke="#EBEBEB" stroke-width="2.6"/>
<path d="M740 610.5V1086.1" stroke="#EBEBEB" stroke-width="2.6"/>
<path d="M777.5 610.5V1086.1" stroke="#EBEBEB" stroke-width="2.6"/>
<path d="M815 610.5V1086.1" stroke="#EBEBEB" stroke-width="2.6"/>
<path d="M852.5 610.5V1086.1" stroke="#EBEBEB" stroke-width="2.6"/>
<path d="M890 610.5V1086.1" stroke="#EBEBEB" stroke-width="2.6"/>
<path d="M927.5 610.5V1086.1" stroke="#EBEBEB" stroke-width="2.6"/>
<path d="M965 610.5V1086.1" stroke="#EBEBEB" stroke-width="2.6"/>
<path d="M1002.5 610.5V1086.1" stroke="#EBEBEB" stroke-width="2.6"/>
<path d="M1040 610.5V1086.1" stroke="#EBEBEB" stroke-width="2.6"/>
<path d="M1077.5 610.5V1086.1" stroke="#EBEBEB" stroke-width="2.6"/>
<path d="M1115 610.5V1086.1" stroke="#EBEBEB" stroke-width="2.6"/>
<path d="M1152.5 610.5V1086.1" stroke="#EBEBEB" stroke-width="2.6"/>
<path d="M1190 610.5V1086.1" stroke="#EBEBEB" stroke-width="2.6"/>
<path d="M1227.5 610.5V1086.1" stroke="#EBEBEB" stroke-width="2.6"/>
<path d="M1265 610.5V1086.1" stroke="#EBEBEB" stroke-width="2.6"/>
<path d="M1302.5 610.5V1086.1" stroke="#EBEBEB" stroke-width="2.6"/>
<path d="M1340 610.5V1086.1" stroke="#EBEBEB" stroke-width="2.6"/>
<path d="M1377.5 610.5V1086.1" stroke="#EBEBEB" stroke-width="2.6"/>
<path d="M1415 610.5V1086.1" stroke="#EBEBEB" stroke-width="2.6"/>
<path d="M1452.5 610.5V1086.1" stroke="#EBEBEB" stroke-width="2.6"/>
<path d="M1490 610.5V1086.1" stroke="#EBEBEB" stroke-width="2.6"/>
<path d="M1527.5 610.5V1086.1" stroke="#EBEBEB" stroke-width="2.6"/>
<path d="M1565 610.5V1086.1" stroke="#EBEBEB" stroke-width="2.6"/>
<path d="M1602.5 610.5V1086.1" stroke="#EBEBEB" stroke-width="2.6"/>
<rect x="198.2" y="910.2" width="33.7" height="155" fill="#365A7E"/>
<rect x="235.7" y="871.1" width="33.7" height="194.1" fill="#3D668D"/>
<rect x="273.1" y="1038" width="33.7" height="27.2" fill="#21344E"/>
<rect x="310.6" y="886.7" width="33.7" height="178.5" fill="#3A6187"/>
<rect x="348.1" y="895.9" width="33.7" height="169.3" fill="#395F83"/>
<rect x="385.6" y="868.8" width="33.7" height="196.4" fill="#3E678E"/>
<rect x="423.1" y="933.2" width="33.7" height="132" fill="#325375"/>
<rect x="460.6" y="910.4" width="33.7" height="154.8" fill="#365A7E"/>
<rect x="498.1" y="1033.4" width="33.7" height="31.8" fill="#21364F"/>
<rect x="535.6" y="696.3" width="33.7" height="368.9" fill="#5EA0D6"/>
<rect x="573.1" y="714.9" width="33.7" height="350.3" fill="#5A99CE"/>
<rect x="610.6" y="690.5" width="33.7" height="374.7" fill="#5FA2D8"/>
<rect x="648.1" y="700.6" width="33.7" height="364.6" fill="#5D9ED4"/>
<rect x="685.6" y="707.5" width="33.7" height="357.7" fill="#5B9CD1"/>
<rect x="723.1" y="708.9" width="33.7" height="356.3" fill="#5B9BD0"/>
<rect x="760.6" y="885.1" width="33.7" height="180.1" fill="#3B6287"/>
<rect x="798.1" y="631.4" width="33.7" height="433.8" fill="#6AB6F2"/>
<rect x="835.6" y="905.6" width="33.7" height="159.6" fill="#375C7F"/>
<rect x="873.1" y="703.2" width="33.7" height="362" fill="#5C9DD3"/>
<rect x="910.6" y="663.8" width="33.7" height="401.4" fill="#64ABE4"/>
<rect x="948.1" y="707.5" width="33.7" height="357.7" fill="#5B9CD1"/>
<rect x="985.6" y="916.6" width="33.7" height="148.6" fill="#35587B"/>
<rect x="1023.1" y="888.5" width="33.7" height="176.7" fill="#3A6186"/>
<rect x="1060.7" y="781.4" width="33.7" height="283.8" fill="#4E83B2"/>
<rect x="1098.2" y="897" width="33.7" height="168.2" fill="#395E83"/>
<rect x="1135.7" y="714.2" width="33.7" height="351" fill="#5A9ACE"/>
<rect x="1173.2" y="842.1" width="33.7" height="223.1" fill="#426F99"/>
<rect x="1210.7" y="673.3" width="33.7" height="391.9" fill="#62A8E0"/>
<rect x="1248.2" y="676.3" width="33.7" height="388.9" fill="#61A6DE"/>
<rect x="1285.7" y="978.7" width="33.7" height="86.5" fill="#2A4563"/>
<rect x="1323.2" y="637.8" width="33.7" height="427.4" fill="#69B4EF"/>
<rect x="1360.7" y="815.4" width="33.7" height="249.8" fill="#4778A4"/>
<rect x="1398.2" y="661.8" width="33.7" height="403.4" fill="#64ABE5"/>
<rect x="1435.7" y="721.1" width="33.7" height="344.1" fill="#5997CB"/>
<rect x="1473.2" y="1054.1" width="33.7" height="11.1" fill="#1E3048"/>
<rect x="1510.7" y="1019.6" width="33.7" height="45.6" fill="#243A54"/>
<rect x="1548.2" y="987.4" width="33.7" height="77.8" fill="#294360"/>
<rect x="1585.7" y="1010.9" width="33.7" height="54.3" fill="#253C57"/>
<rect x="193.3" y="610.5" width="1433.1" height="475.6" fill="none" stroke="#333" stroke-width="1.6"/>
<path d="M186 1065.2H193.3" stroke="#333" stroke-width="2.2"/>
<text x="173" y="1071.2" font-size="25.5" text-anchor="end" textLength="14.5" lengthAdjust="spacingAndGlyphs">0</text>
<path d="M186 920.6H193.3" stroke="#333" stroke-width="2.2"/>
<text x="168.5" y="926.6" font-size="25.5" text-anchor="end" textLength="59" lengthAdjust="spacingAndGlyphs">2000</text>
<path d="M186 776.1H193.3" stroke="#333" stroke-width="2.2"/>
<text x="168.5" y="782.1" font-size="25.5" text-anchor="end" textLength="59" lengthAdjust="spacingAndGlyphs">4000</text>
<path d="M186 631.5H193.3" stroke="#333" stroke-width="2.2"/>
<text x="168.5" y="637.5" font-size="25.5" text-anchor="end" textLength="59" lengthAdjust="spacingAndGlyphs">6000</text>
<path d="M215 1086.1V1091.6" stroke="#333" stroke-width="2.2"/>
<text transform="matrix(0.8602,-0.5292,0.9307,0.4640, 236.4, 1102.3)" font-size="27" text-anchor="end">donor01</text>
<path d="M252.5 1086.1V1091.6" stroke="#333" stroke-width="2.2"/>
<text transform="matrix(0.8602,-0.5292,0.9307,0.4640, 273.9, 1102.3)" font-size="27" text-anchor="end">donor02</text>
<path d="M290 1086.1V1091.6" stroke="#333" stroke-width="2.2"/>
<text transform="matrix(0.8602,-0.5292,0.9307,0.4640, 311.4, 1102.3)" font-size="27" text-anchor="end">donor03</text>
<path d="M327.5 1086.1V1091.6" stroke="#333" stroke-width="2.2"/>
<text transform="matrix(0.8602,-0.5292,0.9307,0.4640, 348.9, 1102.3)" font-size="27" text-anchor="end">donor04</text>
<path d="M365 1086.1V1091.6" stroke="#333" stroke-width="2.2"/>
<text transform="matrix(0.8602,-0.5292,0.9307,0.4640, 386.4, 1102.3)" font-size="27" text-anchor="end">donor05</text>
<path d="M402.5 1086.1V1091.6" stroke="#333" stroke-width="2.2"/>
<text transform="matrix(0.8602,-0.5292,0.9307,0.4640, 423.9, 1102.3)" font-size="27" text-anchor="end">donor06</text>
<path d="M440 1086.1V1091.6" stroke="#333" stroke-width="2.2"/>
<text transform="matrix(0.8602,-0.5292,0.9307,0.4640, 461.4, 1102.3)" font-size="27" text-anchor="end">donor07</text>
<path d="M477.5 1086.1V1091.6" stroke="#333" stroke-width="2.2"/>
<text transform="matrix(0.8602,-0.5292,0.9307,0.4640, 498.9, 1102.3)" font-size="27" text-anchor="end">donor08</text>
<path d="M515 1086.1V1091.6" stroke="#333" stroke-width="2.2"/>
<text transform="matrix(0.8602,-0.5292,0.9307,0.4640, 536.4, 1102.3)" font-size="27" text-anchor="end">donor09</text>
<path d="M552.5 1086.1V1091.6" stroke="#333" stroke-width="2.2"/>
<text transform="matrix(0.8602,-0.5292,0.9307,0.4640, 573.9, 1102.3)" font-size="27" text-anchor="end">donor10</text>
<path d="M590 1086.1V1091.6" stroke="#333" stroke-width="2.2"/>
<text transform="matrix(0.8602,-0.5292,0.9307,0.4640, 611.4, 1102.3)" font-size="27" text-anchor="end">donor11</text>
<path d="M627.5 1086.1V1091.6" stroke="#333" stroke-width="2.2"/>
<text transform="matrix(0.8602,-0.5292,0.9307,0.4640, 648.9, 1102.3)" font-size="27" text-anchor="end">donor12</text>
<path d="M665 1086.1V1091.6" stroke="#333" stroke-width="2.2"/>
<text transform="matrix(0.8602,-0.5292,0.9307,0.4640, 686.4, 1102.3)" font-size="27" text-anchor="end">donor13</text>
<path d="M702.5 1086.1V1091.6" stroke="#333" stroke-width="2.2"/>
<text transform="matrix(0.8602,-0.5292,0.9307,0.4640, 723.9, 1102.3)" font-size="27" text-anchor="end">donor14</text>
<path d="M740 1086.1V1091.6" stroke="#333" stroke-width="2.2"/>
<text transform="matrix(0.8602,-0.5292,0.9307,0.4640, 761.4, 1102.3)" font-size="27" text-anchor="end">donor15</text>
<path d="M777.5 1086.1V1091.6" stroke="#333" stroke-width="2.2"/>
<text transform="matrix(0.8602,-0.5292,0.9307,0.4640, 798.9, 1102.3)" font-size="27" text-anchor="end">donor16</text>
<path d="M815 1086.1V1091.6" stroke="#333" stroke-width="2.2"/>
<text transform="matrix(0.8602,-0.5292,0.9307,0.4640, 836.4, 1102.3)" font-size="27" text-anchor="end">donor17</text>
<path d="M852.5 1086.1V1091.6" stroke="#333" stroke-width="2.2"/>
<text transform="matrix(0.8602,-0.5292,0.9307,0.4640, 873.9, 1102.3)" font-size="27" text-anchor="end">donor18</text>
<path d="M890 1086.1V1091.6" stroke="#333" stroke-width="2.2"/>
<text transform="matrix(0.8602,-0.5292,0.9307,0.4640, 911.4, 1102.3)" font-size="27" text-anchor="end">donor19</text>
<path d="M927.5 1086.1V1091.6" stroke="#333" stroke-width="2.2"/>
<text transform="matrix(0.8602,-0.5292,0.9307,0.4640, 948.9, 1102.3)" font-size="27" text-anchor="end">donor20</text>
<path d="M965 1086.1V1091.6" stroke="#333" stroke-width="2.2"/>
<text transform="matrix(0.8602,-0.5292,0.9307,0.4640, 986.4, 1102.3)" font-size="27" text-anchor="end">donor21</text>
<path d="M1002.5 1086.1V1091.6" stroke="#333" stroke-width="2.2"/>
<text transform="matrix(0.8602,-0.5292,0.9307,0.4640, 1023.9, 1102.3)" font-size="27" text-anchor="end">donor22</text>
<path d="M1040 1086.1V1091.6" stroke="#333" stroke-width="2.2"/>
<text transform="matrix(0.8602,-0.5292,0.9307,0.4640, 1061.4, 1102.3)" font-size="27" text-anchor="end">donor23</text>
<path d="M1077.5 1086.1V1091.6" stroke="#333" stroke-width="2.2"/>
<text transform="matrix(0.8602,-0.5292,0.9307,0.4640, 1098.9, 1102.3)" font-size="27" text-anchor="end">donor24</text>
<path d="M1115 1086.1V1091.6" stroke="#333" stroke-width="2.2"/>
<text transform="matrix(0.8602,-0.5292,0.9307,0.4640, 1136.4, 1102.3)" font-size="27" text-anchor="end">donor25</text>
<path d="M1152.5 1086.1V1091.6" stroke="#333" stroke-width="2.2"/>
<text transform="matrix(0.8602,-0.5292,0.9307,0.4640, 1173.9, 1102.3)" font-size="27" text-anchor="end">donor26</text>
<path d="M1190 1086.1V1091.6" stroke="#333" stroke-width="2.2"/>
<text transform="matrix(0.8602,-0.5292,0.9307,0.4640, 1211.4, 1102.3)" font-size="27" text-anchor="end">donor27</text>
<path d="M1227.5 1086.1V1091.6" stroke="#333" stroke-width="2.2"/>
<text transform="matrix(0.8602,-0.5292,0.9307,0.4640, 1248.9, 1102.3)" font-size="27" text-anchor="end">donor28</text>
<path d="M1265 1086.1V1091.6" stroke="#333" stroke-width="2.2"/>
<text transform="matrix(0.8602,-0.5292,0.9307,0.4640, 1286.4, 1102.3)" font-size="27" text-anchor="end">donor29</text>
<path d="M1302.5 1086.1V1091.6" stroke="#333" stroke-width="2.2"/>
<text transform="matrix(0.8602,-0.5292,0.9307,0.4640, 1323.9, 1102.3)" font-size="27" text-anchor="end">donor30</text>
<path d="M1340 1086.1V1091.6" stroke="#333" stroke-width="2.2"/>
<text transform="matrix(0.8602,-0.5292,0.9307,0.4640, 1361.4, 1102.3)" font-size="27" text-anchor="end">donor31</text>
<path d="M1377.5 1086.1V1091.6" stroke="#333" stroke-width="2.2"/>
<text transform="matrix(0.8602,-0.5292,0.9307,0.4640, 1398.9, 1102.3)" font-size="27" text-anchor="end">donor32</text>
<path d="M1415 1086.1V1091.6" stroke="#333" stroke-width="2.2"/>
<text transform="matrix(0.8602,-0.5292,0.9307,0.4640, 1436.4, 1102.3)" font-size="27" text-anchor="end">donor33</text>
<path d="M1452.5 1086.1V1091.6" stroke="#333" stroke-width="2.2"/>
<text transform="matrix(0.8602,-0.5292,0.9307,0.4640, 1473.9, 1102.3)" font-size="27" text-anchor="end">donor34</text>
<path d="M1490 1086.1V1091.6" stroke="#333" stroke-width="2.2"/>
<text transform="matrix(0.8602,-0.5292,0.9307,0.4640, 1511.4, 1102.3)" font-size="27" text-anchor="end">donor35</text>
<path d="M1527.5 1086.1V1091.6" stroke="#333" stroke-width="2.2"/>
<text transform="matrix(0.8602,-0.5292,0.9307,0.4640, 1548.9, 1102.3)" font-size="27" text-anchor="end">donor36</text>
<path d="M1565 1086.1V1091.6" stroke="#333" stroke-width="2.2"/>
<text transform="matrix(0.8602,-0.5292,0.9307,0.4640, 1586.4, 1102.3)" font-size="27" text-anchor="end">donor37</text>
<path d="M1602.5 1086.1V1091.6" stroke="#333" stroke-width="2.2"/>
<text transform="matrix(0.8602,-0.5292,0.9307,0.4640, 1623.9, 1102.3)" font-size="27" text-anchor="end">donor38</text>
<text transform="translate(86.8,831) rotate(-90)" font-size="26.5" text-anchor="middle">Cell_num</text>
<text x="1676.3" y="719.4" font-size="30.3" textLength="140.2" lengthAdjust="spacingAndGlyphs">Cell_num</text>
<defs><linearGradient id="gb" x1="0" y1="0" x2="0" y2="1"><stop offset="0.0" stop-color="#6AB6F2"/><stop offset="0.1" stop-color="#62A8E1"/><stop offset="0.2" stop-color="#5A9ACF"/><stop offset="0.3" stop-color="#528CBC"/><stop offset="0.4" stop-color="#4A7EAB"/><stop offset="0.5" stop-color="#437099"/><stop offset="0.6" stop-color="#3B6288"/><stop offset="0.7" stop-color="#345577"/><stop offset="0.8" stop-color="#2C4867"/><stop offset="0.9" stop-color="#253C57"/><stop offset="1.0" stop-color="#1E3048"/></linearGradient></defs>
<rect x="1690.9" y="807.3" width="27.9" height="115.5" fill="url(#gb)"/>
<path d="M1690.9 808.3h4M1714.8 808.3h4" stroke="#1b3550" stroke-width="1"/>
<text x="1733.7" y="823.3" font-size="20.5" textLength="50.2" lengthAdjust="spacingAndGlyphs">6000</text>
<path d="M1690.9 827.9h4M1714.8 827.9h4" stroke="#1b3550" stroke-width="1"/>
<text x="1733.7" y="842.9" font-size="20.5" textLength="50.2" lengthAdjust="spacingAndGlyphs">5000</text>
<path d="M1690.9 847.6h4M1714.8 847.6h4" stroke="#1b3550" stroke-width="1"/>
<text x="1733.7" y="862.5" font-size="20.5" textLength="50.2" lengthAdjust="spacingAndGlyphs">4000</text>
<path d="M1690.9 867.2h4M1714.8 867.2h4" stroke="#1b3550" stroke-width="1"/>
<text x="1733.7" y="882.1" font-size="20.5" textLength="50.2" lengthAdjust="spacingAndGlyphs">3000</text>
<path d="M1690.9 886.9h4M1714.8 886.9h4" stroke="#1b3550" stroke-width="1"/>
<text x="1733.7" y="901.7" font-size="20.5" textLength="50.2" lengthAdjust="spacingAndGlyphs">2000</text>
<path d="M1690.9 906.5h4M1714.8 906.5h4" stroke="#1b3550" stroke-width="1"/>
<text x="1733.7" y="921.3" font-size="20.5" textLength="50.2" lengthAdjust="spacingAndGlyphs">1000</text>
<text x="2" y="1247.5" font-size="46" font-weight="bold" fill="#231815">c</text>
<path d="M171.8 1358.2H799.4M171.8 1411.7H799.4M171.8 1465.1H799.4M171.8 1518.6H799.4M171.8 1572H799.4M171.8 1625.5H799.4M171.8 1678.9H799.4M171.8 1732.4H799.4M171.8 1785.8H799.4M171.8 1839.2H799.4M226.9 1324V1867M284.5 1324V1867M342.1 1324V1867M399.7 1324V1867M457.3 1324V1867M514.9 1324V1867M572.5 1324V1867M630.1 1324V1867M687.7 1324V1867M745.3 1324V1867" stroke="#F2F2F2" stroke-width="1.1"/>
<defs><filter id="bl" x="-5%" y="-5%" width="110%" height="110%"><feGaussianBlur stdDeviation="3"/></filter>
<clipPath id="cpA"><path d="M465,1346.8C466,1346.3 467.3,1346.2 470.9,1347.5C474.5,1348.9 481.4,1352.4 486.6,1354.6C491.9,1356.9 497.4,1359 502.3,1360.9C507.3,1362.8 511.2,1364.9 516.1,1366C521,1367.2 527.7,1367.6 531.9,1367.6C536,1367.6 539.3,1365.3 540.9,1366C542.5,1366.8 542.8,1370.8 541.3,1371.9C539.8,1373.1 536.1,1373.1 531.9,1372.7C527.7,1372.3 521.4,1370.9 516.1,1369.6C510.9,1368.3 505.4,1366.6 500.4,1364.9C495.3,1363.2 490.7,1361.2 485.8,1359.3C480.9,1357.5 474.4,1355.3 470.9,1353.8C467.3,1352.3 465.6,1351.5 464.6,1350.3C463.6,1349.1 463.9,1347.2 465,1346.8Z"/></clipPath>
<clipPath id="cpB"><path d="M335.1,1540.4C335.4,1535.1 338.1,1528.6 341,1524.6C344,1520.7 348.2,1518.4 352.8,1516.8C357.4,1515.1 362.7,1514.8 368.6,1514.8C374.5,1514.8 381,1516.4 388.2,1516.8C395.4,1517.1 405.3,1518.7 411.8,1516.8C418.4,1514.8 422.3,1508.9 427.6,1504.9C432.8,1501 438.1,1495.8 443.3,1493.1C448.6,1490.5 452.5,1489.7 459.1,1489.2C465.6,1488.7 474.8,1489.7 482.7,1490C490.5,1490.3 499.7,1490.3 506.3,1491.2C512.8,1492 517.8,1492.8 522,1495.1C526.3,1497.4 529.2,1500.7 531.9,1504.9C534.5,1509.2 535.1,1515.8 537.8,1520.7C540.4,1525.6 544.3,1530.5 547.6,1534.5C550.9,1538.4 554.2,1540.7 557.4,1544.3C560.7,1547.9 566.3,1554.3 567.3,1556.1C568.3,1557.9 566.3,1556.2 563.3,1554.9C560.4,1553.6 553.8,1550.7 549.6,1548.2C545.3,1545.8 542.4,1542.7 537.8,1540.4C533.2,1538.1 527.9,1535.4 522,1534.5C516.1,1533.5 508.9,1533.5 502.3,1534.5C495.8,1535.4 487.9,1538.1 482.7,1540.4C477.4,1542.7 474.8,1545.6 470.9,1548.2C466.9,1550.9 462.2,1552.2 459.1,1556.1C455.9,1560 453.3,1565.3 452,1571.8C450.7,1578.4 452,1588.9 451.2,1595.5C450.4,1602 449.9,1606.6 447.3,1611.2C444.6,1615.8 440.7,1619.7 435.4,1623C430.2,1626.3 422.3,1628.2 415.8,1630.9C409.2,1633.5 402,1636.6 396.1,1638.7C390.2,1640.8 385,1643.5 380.4,1643.5C375.8,1643.5 371.5,1641.5 368.6,1638.7C365.6,1636 364.3,1631.5 362.7,1626.9C361,1622.3 360,1616.4 358.7,1611.2C357.4,1605.9 357.1,1601.4 354.8,1595.5C352.5,1589.5 347.6,1582.3 344.9,1575.8C342.3,1569.2 340.7,1562 339,1556.1C337.4,1550.2 334.8,1545.6 335.1,1540.4Z"/></clipPath>
<clipPath id="cpC1"><path d="M301.3,1650.2C302.6,1646.6 305,1643.4 308.8,1641.7C312.5,1640 318.8,1639.9 323.8,1639.9C328.8,1639.9 334.1,1641.1 338.8,1641.7C343.5,1642.3 347.8,1643.9 351.9,1643.6C356,1643.3 360.4,1639.9 363.2,1639.9C366,1639.9 369.7,1641.9 368.8,1643.6C367.9,1645.3 361.4,1647.8 357.6,1650.2C353.9,1652.5 349.8,1655.2 346.3,1657.7C342.9,1660.2 340.1,1662.1 336.9,1665.2C333.8,1668.3 330.6,1673 327.5,1676.5C324.4,1679.9 321.3,1683.4 318.2,1685.9C315.1,1688.4 311,1693.1 308.8,1691.5C306.6,1689.9 306.3,1681.2 305,1676.5C303.8,1671.8 301.9,1667.7 301.3,1663.3C300.7,1658.9 300.1,1653.8 301.3,1650.2Z"/></clipPath>
<clipPath id="cpC2"><path d="M304.8,1709.6C303.9,1702.1 302.1,1692.4 303.2,1687.9C304.3,1683.5 307.5,1682.6 311.5,1682.8C315.5,1683 320.1,1687 327.5,1689.1C334.9,1691.2 346.3,1693.2 355.7,1695.2C365.1,1697.2 376.1,1699.6 383.9,1700.9C391.7,1702.1 396.3,1703 402.6,1702.7C408.8,1702.4 415.2,1698.7 421.4,1699C427.7,1699.3 434.5,1703.4 440.1,1704.6C445.7,1705.9 450.4,1706.8 455.1,1706.5C459.8,1706.2 462.9,1702.7 468.2,1702.7C473.5,1702.7 480.7,1704 487,1706.5C493.3,1709 499.5,1715.3 505.8,1717.8C512,1720.3 517.3,1719.9 524.5,1721.5C531.7,1723.1 542,1725.6 548.9,1727.2C555.8,1728.8 561.7,1728.7 565.8,1730.9C569.8,1733.1 572.3,1736.2 573.3,1740.3C574.2,1744.4 574.3,1750.3 571.5,1755.3C568.7,1760.3 562.7,1766.5 556.4,1770.3C550.1,1774 539.5,1774.7 533.9,1777.8C528.3,1780.9 524.2,1784.1 522.6,1789.1C521,1794.1 523.3,1803.1 524.5,1807.9C525.7,1812.7 527.3,1814.3 529.9,1818C532.5,1821.7 540.2,1827 539.9,1830C539.6,1833 532,1836 527.9,1836C523.7,1836 520.2,1830 515,1830C509.8,1830 504.3,1834.1 496.5,1836C488.7,1837.9 477,1841.3 468.2,1841.6C459.4,1841.9 451.6,1839.4 443.8,1837.9C436,1836.3 427.5,1835.7 421.3,1832.3C415,1828.8 411,1822.5 406.3,1817.2C401.6,1811.9 399.4,1805.1 393.1,1800.4C386.8,1795.7 376.5,1792.5 368.7,1789.1C360.9,1785.6 353.1,1783.4 346.2,1779.7C339.4,1775.9 332.8,1771.3 327.4,1766.6C322.1,1761.9 317.4,1757.2 314.3,1751.6C311.2,1746 310.3,1739.8 308.7,1732.8C307.2,1725.8 305.7,1717 304.8,1709.6Z"/></clipPath>
<clipPath id="cpD"><path d="M693.2,1626.9C693.8,1622.7 696.1,1619.1 699.1,1617.1C702,1615.1 705.7,1614.8 710.9,1615.1C716.1,1615.5 724,1617.1 730.6,1619.1C737.1,1621 743.7,1625 750.2,1626.9C756.8,1628.9 766.3,1628.9 769.9,1630.9C773.5,1632.8 773.9,1634.8 771.9,1638.7C769.9,1642.7 762.4,1649.9 758.1,1654.5C753.9,1659.1 749.6,1662.3 746.3,1666.3C743,1670.2 739.1,1674.2 738.4,1678.1C737.8,1682 739.1,1686.6 742.4,1689.9C745.7,1693.2 753.5,1695.1 758.1,1697.8C762.7,1700.4 768,1703 769.9,1705.6C771.9,1708.3 771.9,1709.6 769.9,1713.5C768,1717.4 763.4,1726 758.1,1729.2C752.9,1732.5 745,1732.2 738.4,1733.2C731.9,1734.2 723.7,1735.8 718.8,1735.1C713.9,1734.5 711.2,1732.8 708.9,1729.2C706.6,1725.6 705,1718.1 705,1713.5C705,1708.9 706.6,1705.6 708.9,1701.7C711.2,1697.8 716.5,1693.8 718.8,1689.9C721.1,1686 723.4,1682 722.7,1678.1C722,1674.2 718.1,1670.2 714.8,1666.3C711.6,1662.3 706.3,1658.4 703,1654.5C699.8,1650.5 696.8,1647.3 695.2,1642.7C693.5,1638.1 692.5,1631.2 693.2,1626.9Z"/></clipPath>
</defs>
<g clip-path="url(#cpB)"><g filter="url(#bl)"><g transform="scale(0.5)"><path d="M659 2967h12v12h-12zm11 11h12v12h-12zm11 0h12v12h-12zm11 0h12v12h-12zm11 11h12v12h-12zm11 0h12v12h-12zm22 11h12v12h-12zm11 0h12v12h-12zm44 45h12v12h-12zm254 22h12v12h-12zm11 -22h12v12h-12zm0 11h12v12h-12zm11 -22h12v12h-12zm0 11h12v12h-12zm0 11h12v12h-12zm11 -34h12v12h-12zm0 12h12v12h-12zm0 11h12v12h-12zm11 -34h12v12h-12z" fill="#F0AF96"/><path d="M659 2978h12v12h-12zm0 11h12v12h-12zm0 11h12v12h-12zm0 11h12v12h-12zm0 11h12v12h-12zm0 12h12v12h-12zm0 11h12v12h-12zm0 11h12v12h-12zm0 11h12v12h-12zm0 11h12v12h-12zm0 11h12v12h-12zm0 11h12v12h-12zm0 11h12v12h-12zm0 11h12v12h-12zm11 -133h12v12h-12zm0 11h12v12h-12zm0 11h12v12h-12zm0 11h12v12h-12zm0 12h12v12h-12zm0 11h12v12h-12zm0 11h12v12h-12zm0 11h12v12h-12zm0 11h12v12h-12zm0 11h12v12h-12zm0 11h12v12h-12zm0 11h12v12h-12zm0 11h12v12h-12zm11 -133h12v12h-12zm0 11h12v12h-12zm0 11h12v12h-12zm0 11h12v12h-12zm0 12h12v12h-12zm0 11h12v12h-12zm0 11h12v12h-12zm0 11h12v12h-12zm0 11h12v12h-12zm0 11h12v12h-12zm0 11h12v12h-12zm0 11h12v12h-12zm0 11h12v12h-12zm11 -133h12v12h-12zm0 11h12v12h-12zm0 11h12v12h-12zm0 11h12v12h-12zm0 12h12v12h-12zm0 11h12v12h-12zm0 11h12v12h-12zm0 11h12v12h-12zm0 11h12v12h-12zm0 11h12v12h-12zm0 11h12v12h-12zm0 11h12v12h-12zm11 -111h12v12h-12zm0 11h12v12h-12zm0 11h12v12h-12zm0 12h12v12h-12zm0 11h12v12h-12zm0 11h12v12h-12zm0 11h12v12h-12zm0 11h12v12h-12zm0 11h12v12h-12zm0 11h12v12h-12zm0 11h12v12h-12zm11 -111h12v12h-12zm0 11h12v12h-12zm0 11h12v12h-12zm0 12h12v12h-12zm0 11h12v12h-12zm0 11h12v12h-12zm0 11h12v12h-12zm0 11h12v12h-12zm0 11h12v12h-12zm0 11h12v12h-12zm0 11h12v12h-12zm11 -111h12v12h-12zm0 11h12v12h-12zm0 11h12v12h-12zm0 12h12v12h-12zm0 11h12v12h-12zm0 11h12v12h-12zm0 11h12v12h-12zm0 11h12v12h-12zm0 11h12v12h-12zm0 11h12v12h-12zm11 -89h12v12h-12zm0 11h12v12h-12zm0 12h12v12h-12zm0 11h12v12h-12zm0 11h12v12h-12zm0 11h12v12h-12zm0 11h12v12h-12zm0 11h12v12h-12zm0 11h12v12h-12zm11 -89h12v12h-12zm0 11h12v12h-12zm0 12h12v12h-12zm0 11h12v12h-12zm0 33h12v12h-12zm0 11h12v12h-12zm11 -78h12v12h-12zm0 11h12v12h-12zm0 12h12v12h-12zm0 11h12v12h-12zm0 33h12v12h-12zm0 11h12v12h-12zm11 -67h12v12h-12zm0 12h12v12h-12zm0 11h12v12h-12zm0 11h12v12h-12zm0 11h12v12h-12zm0 11h12v12h-12zm0 11h12v12h-12zm11 -55h12v12h-12zm0 11h12v12h-12zm0 11h12v12h-12zm0 11h12v12h-12zm0 11h12v12h-12zm11 -22h12v12h-12zm0 11h12v12h-12zm0 11h12v12h-12zm11 -11h12v12h-12zm0 11h12v12h-12zm11 0h12v12h-12zm0 11h12v12h-12zm11 0h12v12h-12zm0 11h12v12h-12zm0 11h12v12h-12zm11 0h12v12h-12zm0 11h12v12h-12zm12 11h12v12h-12zm11 22h12v12h-12zm55 11h12v12h-12zm11 0h12v12h-12zm11 0h12v12h-12zm11 0h12v12h-12zm22 11h12v12h-12zm11 -11h12v12h-12zm0 11h12v12h-12zm11 -11h12v12h-12zm0 11h12v12h-12zm11 -22h12v12h-12zm0 11h12v12h-12zm11 -44h12v12h-12zm0 11h12v12h-12zm0 11h12v12h-12zm11 -44h12v12h-12zm0 11h12v12h-12zm11 -33h12v12h-12zm0 11h12v12h-12zm11 -11h12v12h-12zm11 -11h12v12h-12zm11 0h12v12h-12zm11 -11h12v12h-12zm11 -34h12v12h-12zm0 12h12v12h-12zm0 11h12v12h-12zm11 -45h12v12h-12zm0 11h12v12h-12zm0 11h12v12h-12zm11 -33h12v12h-12zm0 11h12v12h-12zm11 -22h12v12h-12zm0 11h12v12h-12zm11 -22h12v12h-12zm0 11h12v12h-12zm11 -11h12v12h-12zm0 11h12v12h-12z" fill="#F0AF9B"/><path d="M659 3133h12v12h-12zm0 11h12v12h-12zm0 11h12v12h-12zm11 -22h12v12h-12zm0 11h12v12h-12zm11 -11h12v12h-12zm0 11h12v12h-12zm11 -22h12v12h-12zm0 11h12v12h-12zm11 -11h12v12h-12zm0 11h12v12h-12zm11 -11h12v12h-12zm11 -11h12v12h-12zm0 11h12v12h-12zm11 -11h12v12h-12zm0 11h12v12h-12zm11 -22h12v12h-12zm0 11h12v12h-12zm0 11h12v12h-12zm11 -22h12v12h-12zm0 11h12v12h-12zm0 11h12v12h-12zm11 -22h12v12h-12zm0 11h12v12h-12zm0 11h12v12h-12zm0 11h12v12h-12zm11 -44h12v12h-12zm0 11h12v12h-12zm0 11h12v12h-12zm0 11h12v12h-12zm0 11h12v12h-12zm0 11h12v12h-12zm11 -55h12v12h-12zm0 11h12v12h-12zm0 11h12v12h-12zm0 11h12v12h-12zm0 11h12v12h-12zm0 11h12v12h-12zm11 -55h12v12h-12zm0 11h12v12h-12zm0 11h12v12h-12zm0 11h12v12h-12zm0 11h12v12h-12zm0 11h12v12h-12zm0 11h12v12h-12zm11 -55h12v12h-12zm0 11h12v12h-12zm0 11h12v12h-12zm0 11h12v12h-12zm0 11h12v12h-12zm0 11h12v12h-12zm11 -33h12v12h-12zm0 11h12v12h-12zm0 11h12v12h-12zm0 11h12v12h-12zm0 11h12v12h-12zm11 -33h12v12h-12zm0 11h12v12h-12zm0 11h12v12h-12zm12 -11h12v12h-12zm0 11h12v12h-12zm88 22h12v12h-12zm11 0h12v12h-12zm11 11h12v12h-12zm11 0h12v12h-12zm11 0h12v12h-12zm0 11h12v12h-12zm11 0h12v12h-12zm11 -11h12v12h-12zm0 11h12v12h-12zm0 11h12v12h-12zm11 -33h12v12h-12zm0 11h12v12h-12zm0 11h12v12h-12zm11 -66h12v12h-12zm0 11h12v12h-12zm0 11h12v12h-12zm0 11h12v12h-12zm0 11h12v12h-12zm11 -77h12v12h-12zm11 -11h12v12h-12zm11 -11h12v12h-12zm22 -11h12v12h-12zm22 -33h12v12h-12zm11 -23h12v12h-12zm0 11h12v12h-12zm11 -22h12v12h-12zm0 11h12v12h-12zm11 -22h12v12h-12zm0 11h12v12h-12zm11 -11h12v12h-12z" fill="#F0B4A0"/><path d="M659 3166h12v12h-12zm0 11h12v12h-12zm0 11h12v12h-12zm0 11h12v12h-12zm11 -33h12v12h-12zm0 11h12v12h-12zm0 11h12v12h-12zm11 -33h12v12h-12zm0 11h12v12h-12zm0 11h12v12h-12zm0 11h12v12h-12zm11 -33h12v12h-12zm0 11h12v12h-12zm0 11h12v12h-12zm11 -33h12v12h-12zm0 11h12v12h-12zm0 11h12v12h-12zm0 11h12v12h-12zm11 -33h12v12h-12zm0 11h12v12h-12zm0 11h12v12h-12zm0 11h12v12h-12zm11 -44h12v12h-12zm0 11h12v12h-12zm0 11h12v12h-12zm0 11h12v12h-12zm0 11h12v12h-12zm11 -44h12v12h-12zm0 11h12v12h-12zm0 11h12v12h-12zm0 11h12v12h-12zm0 11h12v12h-12zm11 -44h12v12h-12zm0 11h12v12h-12zm0 11h12v12h-12zm0 11h12v12h-12zm0 11h12v12h-12zm11 -33h12v12h-12zm0 11h12v12h-12zm0 11h12v12h-12zm11 -22h12v12h-12zm0 11h12v12h-12zm0 11h12v12h-12zm11 -11h12v12h-12zm0 11h12v12h-12zm11 0h12v12h-12zm11 0h12v12h-12zm33 0h12v12h-12zm89 11h12v12h-12zm33 22h12v12h-12zm11 11h12v12h-12zm11 11h12v12h-12zm0 11h12v12h-12zm11 0h12v12h-12zm0 11h12v12h-12zm0 11h12v12h-12zm11 -11h12v12h-12zm0 11h12v12h-12zm0 11h12v12h-12zm0 11h12v12h-12zm0 11h12v12h-12zm11 -44h12v12h-12zm0 11h12v12h-12zm0 11h12v12h-12zm0 11h12v12h-12zm0 11h12v12h-12zm11 -33h12v12h-12zm0 11h12v12h-12zm0 11h12v12h-12zm0 11h12v12h-12zm11 -154h12v12h-12zm0 11h12v12h-12zm0 11h12v12h-12zm0 11h12v12h-12zm0 88h12v12h-12zm0 11h12v12h-12zm0 11h12v12h-12zm0 11h12v12h-12zm11 -187h12v12h-12zm0 99h12v12h-12zm0 11h12v12h-12zm0 11h12v12h-12zm0 11h12v12h-12zm0 11h12v12h-12zm0 11h12v12h-12zm0 11h12v12h-12zm0 11h12v12h-12zm0 11h12v12h-12zm11 -66h12v12h-12zm0 11h12v12h-12zm0 11h12v12h-12zm0 11h12v12h-12zm0 11h12v12h-12zm0 11h12v12h-12zm0 11h12v12h-12zm11 -209h12v12h-12zm0 165h12v12h-12zm0 11h12v12h-12zm0 11h12v12h-12zm0 11h12v12h-12zm0 11h12v12h-12zm11 -33h12v12h-12zm0 11h12v12h-12zm0 11h12v12h-12zm0 11h12v12h-12zm11 -22h12v12h-12zm0 11h12v12h-12zm0 11h12v12h-12zm11 -242h12v12h-12zm0 231h12v12h-12zm0 11h12v12h-12zm11 -253h12v12h-12zm0 242h12v12h-12zm0 11h12v12h-12zm11 -265h12v12h-12zm0 265h12v12h-12zm11 -276h12v12h-12zm0 276h12v12h-12zm11 -276h12v12h-12zm0 276h12v12h-12z" fill="#F0B9A5"/><path d="M659 3210h12v12h-12zm0 11h12v12h-12zm11 -22h12v12h-12zm0 11h12v12h-12zm11 -11h12v12h-12zm0 11h12v12h-12zm11 -22h12v12h-12zm0 11h12v12h-12zm11 -11h12v12h-12zm0 11h12v12h-12zm11 -11h12v12h-12zm0 11h12v12h-12zm11 -11h12v12h-12zm0 11h12v12h-12zm11 -11h12v12h-12zm0 11h12v12h-12zm11 -11h12v12h-12zm11 -11h12v12h-12zm0 11h12v12h-12zm11 -11h12v12h-12zm11 0h12v12h-12zm11 0h12v12h-12zm11 0h12v12h-12zm11 0h12v12h-12zm34 -11h12v12h-12zm33 0h12v12h-12zm33 11h12v12h-12zm22 11h12v12h-12zm11 11h12v12h-12zm11 11h12v12h-12zm11 11h12v12h-12zm0 11h12v12h-12zm0 11h12v12h-12zm11 0h12v12h-12zm0 11h12v12h-12zm0 11h12v12h-12zm0 11h12v12h-12zm0 11h12v12h-12zm11 -22h12v12h-12zm0 11h12v12h-12zm0 11h12v12h-12zm55 -176h12v12h-12zm0 44h12v12h-12zm0 11h12v12h-12zm0 11h12v12h-12zm0 11h12v12h-12zm11 -99h12v12h-12zm0 99h12v12h-12zm0 11h12v12h-12zm0 11h12v12h-12zm11 0h12v12h-12zm0 11h12v12h-12zm0 11h12v12h-12zm11 -11h12v12h-12zm0 11h12v12h-12zm0 11h12v12h-12zm11 -11h12v12h-12zm0 11h12v12h-12zm0 11h12v12h-12zm11 -11h12v12h-12zm0 11h12v12h-12zm0 11h12v12h-12zm11 -22h12v12h-12zm0 11h12v12h-12zm0 11h12v12h-12zm11 -11h12v12h-12zm0 11h12v12h-12zm0 11h12v12h-12zm11 -254h12v12h-12zm0 232h12v12h-12zm0 11h12v12h-12zm0 11h12v12h-12zm11 -22h12v12h-12zm0 11h12v12h-12zm0 11h12v12h-12z" fill="#F0B9AA"/><path d="M659 3232h12v12h-12zm0 11h12v12h-12zm0 11h12v12h-12zm0 11h12v12h-12zm0 11h12v12h-12zm0 11h12v12h-12zm11 -66h12v12h-12zm0 11h12v12h-12zm0 11h12v12h-12zm0 11h12v12h-12zm0 11h12v12h-12zm0 11h12v12h-12zm0 11h12v12h-12zm11 -66h12v12h-12zm0 11h12v12h-12zm0 11h12v12h-12zm0 11h12v12h-12zm11 -44h12v12h-12zm0 11h12v12h-12zm0 11h12v12h-12zm11 -22h12v12h-12zm0 11h12v12h-12zm11 -11h12v12h-12zm11 0h12v12h-12zm11 0h12v12h-12zm11 -11h12v12h-12zm0 11h12v12h-12zm11 -11h12v12h-12zm11 -11h12v12h-12zm55 -11h12v12h-12zm122 33h12v12h-12zm11 11h12v12h-12zm0 11h12v12h-12zm11 22h12v12h-12zm0 11h12v12h-12zm0 11h12v12h-12zm0 11h12v12h-12zm77 -165h12v12h-12zm0 22h12v12h-12zm22 55h12v12h-12zm22 22h12v12h-12zm11 11h12v12h-12zm22 11h12v12h-12zm11 0h12v12h-12zm11 -221h12v12h-12z" fill="#F0BEAA"/><path d="M670 2967h12v12h-12zm11 0h12v12h-12zm11 0h12v12h-12zm11 0h12v12h-12zm0 11h12v12h-12zm11 -11h12v12h-12zm0 11h12v12h-12zm11 -11h12v12h-12zm0 11h12v12h-12zm0 11h12v12h-12zm11 -22h12v12h-12zm0 11h12v12h-12zm0 11h12v12h-12zm11 -11h12v12h-12zm0 11h12v12h-12zm11 0h12v12h-12zm0 11h12v12h-12zm11 0h12v12h-12zm0 11h12v12h-12zm11 0h12v12h-12zm0 11h12v12h-12zm11 12h12v12h-12zm11 22h12v12h-12zm11 11h12v12h-12zm11 11h12v12h-12zm11 11h12v12h-12zm0 11h12v12h-12zm34 55h12v12h-12zm77 0h12v12h-12zm11 0h12v12h-12zm11 0h12v12h-12zm11 -11h12v12h-12zm0 11h12v12h-12zm11 -22h12v12h-12zm0 11h12v12h-12zm0 11h12v12h-12zm11 -33h12v12h-12zm0 11h12v12h-12zm11 -33h12v12h-12zm0 11h12v12h-12zm11 -33h12v12h-12zm0 11h12v12h-12zm11 -33h12v12h-12zm0 11h12v12h-12zm11 -33h12v12h-12zm0 11h12v12h-12zm0 11h12v12h-12zm11 -34h12v12h-12zm0 12h12v12h-12zm11 -23h12v12h-12zm0 11h12v12h-12zm11 -22h12v12h-12zm0 11h12v12h-12zm11 -22h12v12h-12zm0 11h12v12h-12zm11 -33h12v12h-12zm0 11h12v12h-12zm0 11h12v12h-12zm11 -22h12v12h-12zm0 11h12v12h-12zm11 -11h12v12h-12z" fill="#F0AA96"/><path d="M670 3155h12v12h-12zm22 -11h12v12h-12zm22 -11h12v12h-12zm44 0h12v12h-12zm33 22h12v12h-12zm22 11h12v12h-12zm78 0h12v12h-12zm55 22h12v12h-12zm22 11h12v12h-12zm11 11h12v12h-12zm11 0h12v12h-12zm0 11h12v12h-12zm11 0h12v12h-12zm0 11h12v12h-12zm11 -22h12v12h-12zm0 11h12v12h-12zm0 11h12v12h-12zm11 -44h12v12h-12zm0 11h12v12h-12zm0 11h12v12h-12zm0 11h12v12h-12zm0 11h12v12h-12zm0 11h12v12h-12zm11 -132h12v12h-12zm0 11h12v12h-12zm0 55h12v12h-12zm0 11h12v12h-12zm0 11h12v12h-12zm0 11h12v12h-12zm0 11h12v12h-12zm0 11h12v12h-12zm0 11h12v12h-12zm55 -187h12v12h-12zm55 -56h12v12h-12z" fill="#F0B4A5"/><path d="M681 3265h12v12h-12zm0 11h12v12h-12zm0 11h12v12h-12zm11 -44h12v12h-12zm0 11h12v12h-12zm0 11h12v12h-12zm0 11h12v12h-12zm0 11h12v12h-12zm11 -55h12v12h-12zm0 11h12v12h-12zm0 11h12v12h-12zm0 11h12v12h-12zm0 11h12v12h-12zm0 11h12v12h-12zm11 -66h12v12h-12zm0 11h12v12h-12zm0 11h12v12h-12zm0 11h12v12h-12zm0 11h12v12h-12zm0 11h12v12h-12zm0 11h12v12h-12zm11 -66h12v12h-12zm0 11h12v12h-12zm0 11h12v12h-12zm0 11h12v12h-12zm0 11h12v12h-12zm0 11h12v12h-12zm0 11h12v12h-12zm11 -66h12v12h-12zm0 11h12v12h-12zm0 11h12v12h-12zm0 11h12v12h-12zm0 11h12v12h-12zm0 11h12v12h-12zm0 11h12v12h-12zm11 -66h12v12h-12zm0 11h12v12h-12zm0 11h12v12h-12zm0 11h12v12h-12zm0 11h12v12h-12zm0 11h12v12h-12zm0 11h12v12h-12zm11 -77h12v12h-12zm0 33h12v12h-12zm0 11h12v12h-12zm0 11h12v12h-12zm11 -66h12v12h-12zm11 -11h12v12h-12zm11 0h12v12h-12zm44 -11h12v12h-12zm23 -11h12v12h-12zm11 0h12v12h-12zm55 22h12v12h-12zm11 11h12v12h-12zm11 22h12v12h-12zm0 11h12v12h-12zm0 11h12v12h-12zm0 11h12v12h-12zm0 11h12v12h-12zm0 11h12v12h-12zm0 11h12v12h-12zm11 -44h12v12h-12zm0 11h12v12h-12zm0 11h12v12h-12zm0 11h12v12h-12zm0 11h12v12h-12zm88 -154h12v12h-12zm11 -33h12v12h-12zm0 55h12v12h-12zm0 11h12v12h-12zm0 11h12v12h-12zm11 0h12v12h-12zm0 11h12v12h-12zm11 11h12v12h-12zm0 11h12v12h-12zm11 -11h12v12h-12zm0 11h12v12h-12zm11 -154h12v12h-12zm0 154h12v12h-12zm0 11h12v12h-12zm11 -176h12v12h-12zm0 176h12v12h-12zm0 11h12v12h-12zm11 -198h12v12h-12zm0 187h12v12h-12zm0 11h12v12h-12zm11 -198h12v12h-12zm0 187h12v12h-12zm0 11h12v12h-12zm11 -11h12v12h-12zm0 11h12v12h-12zm0 11h12v12h-12z" fill="#F0BEAF"/><path d="M747 2967h12v12h-12zm11 11h12v12h-12zm243 133h12v12h-12zm11 -22h12v12h-12zm11 -33h12v12h-12zm0 11h12v12h-12zm11 -33h12v12h-12zm0 11h12v12h-12zm11 -23h12v12h-12zm11 -11h12v12h-12zm11 -11h12v12h-12zm11 -22h12v12h-12zm0 11h12v12h-12zm11 -22h12v12h-12zm0 11h12v12h-12z" fill="#F0AA91"/><path d="M747 3056h12v12h-12zm0 11h12v12h-12zm11 -11h12v12h-12zm0 11h12v12h-12z" fill="#F0B49B"/><path d="M758 2967h12v12h-12zm11 11h12v12h-12zm0 11h12v12h-12zm11 11h12v12h-12zm11 22h12v12h-12zm11 23h12v12h-12zm11 11h12v12h-12zm11 11h12v12h-12zm11 11h12v12h-12zm12 33h12v12h-12zm0 11h12v12h-12zm11 22h12v12h-12zm22 11h12v12h-12zm33 0h12v12h-12zm11 0h12v12h-12zm11 0h12v12h-12zm11 -11h12v12h-12zm11 0h12v12h-12zm11 -11h12v12h-12zm0 11h12v12h-12zm11 -22h12v12h-12zm0 11h12v12h-12zm11 -22h12v12h-12zm0 11h12v12h-12zm11 -22h12v12h-12zm11 -33h12v12h-12zm0 11h12v12h-12zm11 -33h12v12h-12zm44 -56h12v12h-12zm11 -22h12v12h-12z" fill="#F0A591"/><path d="M758 3221h12v12h-12zm0 11h12v12h-12zm0 44h12v12h-12zm0 11h12v12h-12zm44 -99h12v12h-12zm11 0h12v12h-12zm89 -11h12v12h-12zm33 33h12v12h-12zm0 66h12v12h-12zm0 11h12v12h-12z" fill="#F0C3AF"/><path d="M769 2967h12v12h-12zm11 22h12v12h-12zm11 22h12v12h-12zm11 23h12v12h-12zm45 66h12v12h-12zm154 -11h12v12h-12zm11 -89h12v12h-12zm0 11h12v12h-12zm0 11h12v12h-12zm0 23h12v12h-12zm0 11h12v12h-12zm11 -67h12v12h-12zm0 11h12v12h-12zm0 11h12v12h-12zm0 11h12v12h-12zm0 12h12v12h-12zm11 -56h12v12h-12zm0 11h12v12h-12zm0 11h12v12h-12zm0 11h12v12h-12zm0 11h12v12h-12zm11 -55h12v12h-12zm0 11h12v12h-12zm0 11h12v12h-12zm0 11h12v12h-12zm0 11h12v12h-12zm11 -44h12v12h-12zm0 11h12v12h-12zm0 11h12v12h-12zm0 11h12v12h-12zm11 -33h12v12h-12zm0 11h12v12h-12z" fill="#F0A58C"/><path d="M769 3210h12v12h-12zm0 11h12v12h-12zm0 11h12v12h-12zm0 11h12v12h-12zm0 11h12v12h-12zm0 11h12v12h-12zm0 11h12v12h-12zm0 11h12v12h-12zm11 -88h12v12h-12zm0 77h12v12h-12zm0 11h12v12h-12zm11 -88h12v12h-12zm33 -11h12v12h-12zm78 99h12v12h-12zm11 -99h12v12h-12zm0 88h12v12h-12zm0 11h12v12h-12zm11 -88h12v12h-12zm0 66h12v12h-12zm0 11h12v12h-12zm0 11h12v12h-12zm11 -66h12v12h-12zm0 11h12v12h-12zm0 11h12v12h-12zm0 11h12v12h-12zm0 11h12v12h-12zm121 -154h12v12h-12zm0 11h12v12h-12zm0 11h12v12h-12zm0 11h12v12h-12zm11 -55h12v12h-12zm0 77h12v12h-12zm11 -88h12v12h-12zm0 99h12v12h-12zm11 -110h12v12h-12zm0 121h12v12h-12zm11 11h12v12h-12zm11 0h12v12h-12zm11 -154h12v12h-12zm0 154h12v12h-12zm0 11h12v12h-12zm11 -11h12v12h-12zm0 11h12v12h-12zm11 -176h12v12h-12zm0 165h12v12h-12zm0 11h12v12h-12z" fill="#F0C3B4"/><path d="M780 2967h12v12h-12zm0 11h12v12h-12zm11 22h12v12h-12zm11 22h12v12h-12zm89 133h12v12h-12zm11 0h12v12h-12zm33 -11h12v12h-12zm11 -11h12v12h-12zm11 -11h12v12h-12zm0 11h12v12h-12zm11 -11h12v12h-12zm11 -11h12v12h-12zm11 -22h12v12h-12zm0 11h12v12h-12zm11 -33h12v12h-12zm0 11h12v12h-12z" fill="#F0A08C"/><path d="M780 3210h12v12h-12zm0 11h12v12h-12zm0 11h12v12h-12zm0 11h12v12h-12zm0 11h12v12h-12zm11 -44h12v12h-12zm0 55h12v12h-12zm0 11h12v12h-12zm11 -11h12v12h-12zm0 11h12v12h-12zm0 11h12v12h-12zm11 -88h12v12h-12zm0 77h12v12h-12zm0 11h12v12h-12zm11 -88h12v12h-12zm0 77h12v12h-12zm0 11h12v12h-12zm11 -11h12v12h-12zm0 11h12v12h-12zm12 -110h12v12h-12zm0 99h12v12h-12zm0 11h12v12h-12zm11 -11h12v12h-12zm0 11h12v12h-12zm11 -11h12v12h-12zm0 11h12v12h-12zm11 -11h12v12h-12zm0 11h12v12h-12zm11 -110h12v12h-12zm0 88h12v12h-12zm0 11h12v12h-12zm0 11h12v12h-12zm11 -22h12v12h-12zm0 11h12v12h-12zm11 -22h12v12h-12zm0 11h12v12h-12zm11 -55h12v12h-12zm0 11h12v12h-12zm0 11h12v12h-12zm0 11h12v12h-12zm143 -143h12v12h-12zm0 44h12v12h-12zm33 33h12v12h-12zm22 11h12v12h-12zm11 -143h12v12h-12zm0 143h12v12h-12zm11 -143h12v12h-12zm0 143h12v12h-12z" fill="#F0C8B9"/><path d="M780 3265h12v12h-12zm11 22h12v12h-12zm11 -88h12v12h-12zm122 55h12v12h-12z" fill="#F0C8B4"/><path d="M791 2967h12v12h-12zm0 11h12v12h-12zm0 11h12v12h-12zm11 22h12v12h-12zm11 34h12v12h-12zm155 66h12v12h-12zm11 -11h12v12h-12zm11 -22h12v12h-12zm11 -89h12v12h-12zm0 11h12v12h-12zm0 11h12v12h-12zm0 11h12v12h-12zm0 23h12v12h-12zm0 11h12v12h-12zm11 -89h12v12h-12zm0 11h12v12h-12zm0 56h12v12h-12zm11 -67h12v12h-12zm11 0h12v12h-12z" fill="#F0A087"/><path d="M791 3221h12v12h-12zm0 11h12v12h-12zm0 11h12v12h-12zm11 -22h12v12h-12zm0 11h12v12h-12zm0 11h12v12h-12zm0 11h12v12h-12zm11 -33h12v12h-12zm0 11h12v12h-12zm0 11h12v12h-12zm0 11h12v12h-12zm11 -44h12v12h-12zm0 11h12v12h-12zm0 11h12v12h-12zm0 11h12v12h-12zm0 11h12v12h-12zm11 -11h12v12h-12zm0 11h12v12h-12zm12 0h12v12h-12zm0 11h12v12h-12zm11 0h12v12h-12zm11 0h12v12h-12zm11 0h12v12h-12z" fill="#F0CDBE"/><path d="M791 3254h12v12h-12zm11 -44h12v12h-12zm11 0h12v12h-12zm0 55h12v12h-12zm11 0h12v12h-12zm11 -77h12v12h-12zm0 77h12v12h-12z" fill="#F0CDB9"/><path d="M802 2967h12v12h-12zm0 11h12v12h-12zm11 44h12v12h-12zm0 12h12v12h-12zm45 66h12v12h-12zm77 11h12v12h-12zm11 -11h12v12h-12z" fill="#EB9B82"/><path d="M802 2989h12v12h-12zm155 111h12v12h-12zm11 -11h12v12h-12zm11 -11h12v12h-12zm11 -22h12v12h-12zm0 11h12v12h-12zm11 -100h12v12h-12zm0 11h12v12h-12zm0 56h12v12h-12z" fill="#F09B82"/><path d="M802 3000h12v12h-12zm144 111h12v12h-12zm0 11h12v12h-12zm11 -11h12v12h-12zm11 -11h12v12h-12zm11 -11h12v12h-12z" fill="#F09B87"/><path d="M813 2967h12v12h-12zm0 11h12v12h-12zm0 11h12v12h-12zm0 11h12v12h-12zm0 11h12v12h-12zm11 34h12v12h-12zm11 11h12v12h-12zm12 11h12v12h-12zm22 11h12v12h-12zm11 66h12v12h-12zm11 0h12v12h-12zm22 -55h12v12h-12zm0 11h12v12h-12zm0 22h12v12h-12zm11 -33h12v12h-12zm0 11h12v12h-12zm11 -11h12v12h-12z" fill="#EB967D"/><path d="M824 2967h12v12h-12zm0 11h12v12h-12zm0 11h12v12h-12zm0 11h12v12h-12zm0 11h12v12h-12zm0 11h12v12h-12zm0 12h12v12h-12zm11 -67h12v12h-12zm23 100h12v12h-12zm11 0h12v12h-12zm0 44h12v12h-12zm0 11h12v12h-12zm11 -11h12v12h-12zm0 22h12v12h-12zm11 -22h12v12h-12zm0 22h12v12h-12zm11 -55h12v12h-12zm0 44h12v12h-12zm11 -44h12v12h-12zm22 -11h12v12h-12zm11 0h12v12h-12zm11 0h12v12h-12z" fill="#EB9178"/><path d="M824 3056h12v12h-12zm11 11h12v12h-12zm12 11h12v12h-12z" fill="#EBA087"/><path d="M835 2978h12v12h-12zm0 11h12v12h-12zm0 11h12v12h-12zm12 -33h12v12h-12zm0 11h12v12h-12zm11 -11h12v12h-12zm44 89h12v12h-12zm11 0h12v12h-12zm11 0h12v12h-12zm11 0h12v12h-12zm11 0h12v12h-12zm11 -11h12v12h-12zm0 11h12v12h-12zm11 -11h12v12h-12zm11 -67h12v12h-12z" fill="#EB8C73"/><path d="M835 3011h12v12h-12zm0 11h12v12h-12zm0 12h12v12h-12zm12 -45h12v12h-12zm11 67h12v12h-12zm33 0h12v12h-12z" fill="#EB8C6E"/><path d="M835 3045h12v12h-12zm12 11h12v12h-12z" fill="#EB9173"/><path d="M835 3199h12v12h-12zm0 11h12v12h-12zm0 11h12v12h-12zm12 11h12v12h-12zm11 11h12v12h-12zm11 -66h12v12h-12zm0 66h12v12h-12zm11 0h12v12h-12zm11 0h12v12h-12zm11 -44h12v12h-12zm0 11h12v12h-12zm0 11h12v12h-12zm0 11h12v12h-12z" fill="#F5D2C3"/><path d="M835 3232h12v12h-12zm12 11h12v12h-12zm11 11h12v12h-12zm11 0h12v12h-12zm11 -77h12v12h-12zm0 77h12v12h-12zm11 0h12v12h-12zm11 -66h12v12h-12zm0 55h12v12h-12zm0 11h12v12h-12zm11 -44h12v12h-12zm0 11h12v12h-12zm0 11h12v12h-12zm165 -88h12v12h-12zm11 11h12v12h-12zm55 11h12v12h-12z" fill="#F5CDBE"/><path d="M847 3000h12v12h-12zm0 11h12v12h-12zm0 34h12v12h-12zm11 -67h12v12h-12zm0 11h12v12h-12zm0 11h12v12h-12zm11 -33h12v12h-12zm0 11h12v12h-12zm0 11h12v12h-12zm0 67h12v12h-12zm11 -89h12v12h-12zm0 89h12v12h-12zm11 -11h12v12h-12zm11 0h12v12h-12zm11 0h12v12h-12zm11 0h12v12h-12zm11 0h12v12h-12zm11 -78h12v12h-12zm0 67h12v12h-12zm0 11h12v12h-12zm11 -78h12v12h-12zm0 11h12v12h-12zm0 56h12v12h-12zm11 -67h12v12h-12zm0 11h12v12h-12zm0 44h12v12h-12zm0 12h12v12h-12zm11 -45h12v12h-12zm0 11h12v12h-12zm0 11h12v12h-12zm0 11h12v12h-12z" fill="#EB876E"/><path d="M847 3022h12v12h-12zm0 12h12v12h-12zm11 -23h12v12h-12zm0 11h12v12h-12zm0 12h12v12h-12zm0 11h12v12h-12zm11 -45h12v12h-12zm0 11h12v12h-12zm0 11h12v12h-12zm0 12h12v12h-12zm0 11h12v12h-12zm11 -34h12v12h-12zm0 11h12v12h-12zm0 12h12v12h-12zm0 11h12v12h-12zm11 -11h12v12h-12zm66 -12h12v12h-12zm11 -33h12v12h-12z" fill="#EB8769"/><path d="M847 3089h12v12h-12zm77 55h12v12h-12z" fill="#EBA08C"/><path d="M847 3188h12v12h-12zm44 0h12v12h-12zm0 44h12v12h-12zm187 -132h12v12h-12zm0 11h12v12h-12zm0 11h12v12h-12zm11 -44h12v12h-12zm0 55h12v12h-12zm11 11h12v12h-12zm11 -77h12v12h-12zm0 77h12v12h-12zm11 0h12v12h-12zm0 11h12v12h-12zm11 -88h12v12h-12zm0 77h12v12h-12zm11 -77h12v12h-12zm0 77h12v12h-12z" fill="#F5D2C8"/><path d="M847 3199h12v12h-12zm0 11h12v12h-12zm11 11h12v12h-12zm22 -33h12v12h-12zm0 33h12v12h-12zm11 -11h12v12h-12zm198 -121h12v12h-12zm0 22h12v12h-12zm0 11h12v12h-12zm11 -44h12v12h-12zm0 55h12v12h-12zm11 0h12v12h-12zm11 0h12v12h-12zm11 -55h12v12h-12zm0 44h12v12h-12zm0 11h12v12h-12zm11 -55h12v12h-12zm0 11h12v12h-12zm0 11h12v12h-12zm0 11h12v12h-12zm0 11h12v12h-12z" fill="#F5D7CD"/><path d="M847 3221h12v12h-12zm11 11h12v12h-12zm11 0h12v12h-12zm11 0h12v12h-12zm11 -33h12v12h-12zm0 22h12v12h-12z" fill="#F5D7C8"/><path d="M858 3078h12v12h-12zm0 33h12v12h-12zm0 11h12v12h-12zm11 -33h12v12h-12zm33 55h12v12h-12zm11 -11h12v12h-12zm11 -22h12v12h-12zm0 11h12v12h-12zm11 -22h12v12h-12zm11 -11h12v12h-12z" fill="#EB9682"/><path d="M858 3089h12v12h-12zm0 44h12v12h-12zm11 11h12v12h-12zm44 0h12v12h-12zm11 -11h12v12h-12zm11 -11h12v12h-12zm0 11h12v12h-12z" fill="#EB9B87"/><path d="M858 3177h12v12h-12zm220 -88h12v12h-12zm0 44h12v12h-12zm11 11h12v12h-12zm11 -77h12v12h-12zm0 88h12v12h-12zm11 0h12v12h-12zm0 11h12v12h-12zm11 -110h12v12h-12zm0 110h12v12h-12zm11 -110h12v12h-12zm0 99h12v12h-12zm0 11h12v12h-12zm11 -110h12v12h-12zm0 99h12v12h-12z" fill="#F5CDC3"/><path d="M858 3188h12v12h-12zm11 0h12v12h-12zm0 33h12v12h-12zm11 -22h12v12h-12zm0 11h12v12h-12z" fill="#F5DCCD"/><path d="M858 3199h12v12h-12zm0 11h12v12h-12zm11 -11h12v12h-12zm0 11h12v12h-12zm231 -121h12v12h-12zm0 11h12v12h-12zm11 -11h12v12h-12zm0 11h12v12h-12zm0 11h12v12h-12zm11 -22h12v12h-12zm0 11h12v12h-12zm0 11h12v12h-12z" fill="#F5DCD2"/><path d="M869 3100h12v12h-12zm0 33h12v12h-12zm11 -55h12v12h-12zm0 11h12v12h-12zm0 11h12v12h-12zm11 -22h12v12h-12zm0 11h12v12h-12zm0 11h12v12h-12zm11 -11h12v12h-12zm0 11h12v12h-12zm0 11h12v12h-12zm0 22h12v12h-12zm11 -22h12v12h-12zm11 -33h12v12h-12zm11 0h12v12h-12zm11 0h12v12h-12z" fill="#EB917D"/><path d="M880 2978h12v12h-12zm0 11h12v12h-12zm0 11h12v12h-12zm11 -33h12v12h-12zm0 11h12v12h-12zm0 11h12v12h-12zm0 11h12v12h-12zm0 11h12v12h-12zm0 11h12v12h-12zm11 -55h12v12h-12zm0 11h12v12h-12zm0 44h12v12h-12zm0 12h12v12h-12zm11 -67h12v12h-12zm0 67h12v12h-12zm11 -67h12v12h-12zm0 11h12v12h-12zm0 56h12v12h-12zm11 -56h12v12h-12zm0 11h12v12h-12zm0 11h12v12h-12zm0 11h12v12h-12zm0 11h12v12h-12zm0 12h12v12h-12zm11 -56h12v12h-12zm0 11h12v12h-12zm0 11h12v12h-12zm0 11h12v12h-12zm0 11h12v12h-12zm11 -33h12v12h-12zm0 11h12v12h-12zm0 11h12v12h-12zm11 -11h12v12h-12zm0 11h12v12h-12z" fill="#EB8269"/><path d="M880 3067h12v12h-12zm0 55h12v12h-12zm11 -55h12v12h-12zm0 55h12v12h-12zm11 -55h12v12h-12zm11 0h12v12h-12zm11 0h12v12h-12z" fill="#EB8C78"/><path d="M902 2989h12v12h-12zm0 11h12v12h-12zm0 11h12v12h-12zm11 -22h12v12h-12zm0 11h12v12h-12zm0 11h12v12h-12zm0 11h12v12h-12zm11 -33h12v12h-12zm0 11h12v12h-12zm0 11h12v12h-12z" fill="#EB7D64"/><path d="M902 3166h12v12h-12zm55 11h12v12h-12zm33 11h12v12h-12zm11 -11h12v12h-12zm11 -22h12v12h-12zm0 11h12v12h-12zm11 -44h12v12h-12z" fill="#F0AFA0"/><path d="M913 2978h12v12h-12zm11 44h12v12h-12z" fill="#EB7D69"/><path d="M913 3199h12v12h-12zm0 44h12v12h-12z" fill="#F5C8B9"/><path d="M935 2967h12v12h-12z" fill="#EB826E"/><path d="M957 3078h12v12h-12zm11 -11h12v12h-12zm11 -11h12v12h-12zm11 -22h12v12h-12zm0 11h12v12h-12z" fill="#F0967D"/><path d="M957 3089h12v12h-12zm11 -11h12v12h-12zm11 -11h12v12h-12z" fill="#F09682"/><path d="M957 3166h12v12h-12zm11 0h12v12h-12zm33 -22h12v12h-12z" fill="#F0AA9B"/><path d="M968 3056h12v12h-12zm11 -11h12v12h-12zm11 -78h12v12h-12zm0 11h12v12h-12zm0 11h12v12h-12zm0 11h12v12h-12zm0 11h12v12h-12zm0 11h12v12h-12z" fill="#F09178"/><path d="M979 2967h12v12h-12zm0 67h12v12h-12z" fill="#F08C73"/><path d="M1012 2989h12v12h-12zm11 -11h12v12h-12z" fill="#F0A587"/><path d="M1067 3111h12v12h-12zm0 11h12v12h-12zm33 44h12v12h-12zm11 -110h12v12h-12z" fill="#F5C8BE"/><path d="M1067 3133h12v12h-12zm11 22h12v12h-12zm11 11h12v12h-12zm22 11h12v12h-12zm11 0h12v12h-12zm11 0h12v12h-12zm11 0h12v12h-12z" fill="#F0C8BE"/><path d="M1067 3155h12v12h-12zm11 11h12v12h-12zm11 11h12v12h-12zm11 11h12v12h-12zm11 0h12v12h-12z" fill="#F0C3B9"/><path d="M1078 3188h12v12h-12zm33 22h12v12h-12z" fill="#F0BEB4"/><path d="M1089 3100h12v12h-12zm11 11h12v12h-12zm0 11h12v12h-12zm11 -44h12v12h-12zm0 44h12v12h-12zm11 -44h12v12h-12zm0 44h12v12h-12zm11 -33h12v12h-12zm0 11h12v12h-12zm0 11h12v12h-12z" fill="#F5D7D2"/><path d="M1122 3067h12v12h-12zm22 66h12v12h-12z" fill="#F5D2CD"/></g></g></g>
<g clip-path="url(#cpC1)"><g filter="url(#bl)"><g transform="scale(0.5)"><path d="M592 3269h12v12h-12zm0 66h12v12h-12zm11 -66h12v12h-12zm0 66h12v12h-12zm11 0h12v12h-12zm11 0h12v12h-12zm22 -11h12v12h-12zm22 -55h12v12h-12zm0 44h12v12h-12z" fill="#CDC3E6"/><path d="M592 3280h12v12h-12zm0 11h12v12h-12zm0 11h12v12h-12zm0 11h12v12h-12zm0 11h12v12h-12zm11 -44h12v12h-12zm0 11h12v12h-12zm0 11h12v12h-12zm0 11h12v12h-12zm0 11h12v12h-12zm11 -44h12v12h-12zm0 11h12v12h-12zm0 11h12v12h-12zm0 11h12v12h-12zm0 11h12v12h-12zm11 -55h12v12h-12zm0 11h12v12h-12zm0 11h12v12h-12zm0 11h12v12h-12zm0 11h12v12h-12zm0 11h12v12h-12zm11 -55h12v12h-12zm0 11h12v12h-12zm0 11h12v12h-12zm0 11h12v12h-12zm0 11h12v12h-12zm0 11h12v12h-12zm11 -55h12v12h-12zm0 11h12v12h-12zm0 11h12v12h-12zm0 11h12v12h-12zm0 11h12v12h-12zm11 -44h12v12h-12zm0 11h12v12h-12zm0 11h12v12h-12zm0 11h12v12h-12zm0 11h12v12h-12zm11 -33h12v12h-12zm0 11h12v12h-12zm0 11h12v12h-12z" fill="#C8BEE6"/><path d="M592 3346h12v12h-12zm33 0h12v12h-12zm33 -11h12v12h-12zm11 0h12v12h-12zm11 0h12v12h-12zm11 -11h12v12h-12zm11 -11h12v12h-12zm0 11h12v12h-12zm11 -55h12v12h-12zm0 33h12v12h-12z" fill="#D7CDEB"/><path d="M592 3357h12v12h-12zm11 0h12v12h-12zm33 -11h12v12h-12z" fill="#DCD7EB"/><path d="M592 3368h12v12h-12zm88 -11h12v12h-12z" fill="#E6DCF0"/><path d="M592 3379h12v12h-12zm11 0h12v12h-12zm11 -11h12v12h-12zm22 -11h12v12h-12zm11 0h12v12h-12zm11 0h12v12h-12zm22 11h12v12h-12zm11 11h12v12h-12zm0 11h12v12h-12zm11 0h12v12h-12z" fill="#EBE6F0"/><path d="M592 3390h12v12h-12zm22 -11h12v12h-12z" fill="#F0EBF0"/><path d="M603 3346h12v12h-12zm11 0h12v12h-12zm33 -11h12v12h-12z" fill="#D2CDEB"/><path d="M603 3368h12v12h-12zm22 -11h12v12h-12zm44 0h12v12h-12z" fill="#E6E1F0"/><path d="M603 3390h12v12h-12zm11 0h12v12h-12zm11 -11h12v12h-12zm0 11h12v12h-12zm11 -22h12v12h-12zm0 11h12v12h-12zm0 11h12v12h-12zm11 -22h12v12h-12zm0 11h12v12h-12zm0 11h12v12h-12zm11 -22h12v12h-12zm0 11h12v12h-12zm0 11h12v12h-12zm11 -11h12v12h-12zm0 11h12v12h-12z" fill="#F0EBF5"/><path d="M614 3269h12v12h-12z" fill="#CDBEE6"/><path d="M614 3357h12v12h-12z" fill="#E1DCF0"/><path d="M625 3368h12v12h-12zm44 0h12v12h-12zm11 11h12v12h-12zm0 11h12v12h-12z" fill="#F0E6F0"/><path d="M636 3335h12v12h-12zm33 -11h12v12h-12zm11 0h12v12h-12zm11 -55h12v12h-12zm0 11h12v12h-12zm0 11h12v12h-12zm0 11h12v12h-12zm0 11h12v12h-12zm11 -44h12v12h-12zm0 11h12v12h-12zm0 11h12v12h-12zm0 11h12v12h-12zm11 -22h12v12h-12z" fill="#D2C8EB"/><path d="M647 3346h12v12h-12zm11 0h12v12h-12z" fill="#E1D7F0"/><path d="M658 3324h12v12h-12zm22 -55h12v12h-12zm0 11h12v12h-12zm0 11h12v12h-12zm0 11h12v12h-12zm0 11h12v12h-12z" fill="#CDC3EB"/><path d="M669 3346h12v12h-12zm11 0h12v12h-12zm11 0h12v12h-12zm11 0h12v12h-12zm11 -11h12v12h-12zm0 11h12v12h-12zm11 -11h12v12h-12z" fill="#E1D7EB"/><path d="M691 3335h12v12h-12zm11 0h12v12h-12zm11 -11h12v12h-12z" fill="#DCD2EB"/><path d="M691 3357h12v12h-12zm11 0h12v12h-12zm11 0h12v12h-12zm11 -11h12v12h-12zm11 -11h12v12h-12zm11 0h12v12h-12z" fill="#E6DCEB"/><path d="M691 3368h12v12h-12zm11 11h12v12h-12z" fill="#EBE1F0"/><path d="M702 3368h12v12h-12zm11 0h12v12h-12zm11 -11h12v12h-12zm11 -11h12v12h-12zm11 0h12v12h-12z" fill="#EBE1EB"/><path d="M713 3291h12v12h-12z" fill="#D7C8EB"/><path d="M713 3313h12v12h-12z" fill="#DCD2E6"/><path d="M713 3379h12v12h-12zm0 11h12v12h-12zm11 -22h12v12h-12zm0 11h12v12h-12zm0 11h12v12h-12zm11 -33h12v12h-12zm11 0h12v12h-12z" fill="#F0E6EB"/><path d="M724 3269h12v12h-12z" fill="#E1D2E6"/><path d="M724 3280h12v12h-12zm0 33h12v12h-12zm0 11h12v12h-12z" fill="#E1D7E6"/><path d="M724 3291h12v12h-12zm11 22h12v12h-12zm11 0h12v12h-12zm0 11h12v12h-12z" fill="#E6DCE6"/><path d="M724 3302h12v12h-12zm11 -33h12v12h-12zm0 55h12v12h-12zm11 -55h12v12h-12z" fill="#E6D7E6"/><path d="M735 3280h12v12h-12zm0 11h12v12h-12zm0 11h12v12h-12zm11 -22h12v12h-12zm0 11h12v12h-12zm0 11h12v12h-12z" fill="#EBDCE6"/><path d="M735 3368h12v12h-12z" fill="#F0EBEB"/><path d="M735 3379h12v12h-12zm0 11h12v12h-12zm11 -22h12v12h-12zm0 11h12v12h-12zm0 11h12v12h-12z" fill="#F5EBEB"/></g></g></g>
<g clip-path="url(#cpC2)"><g filter="url(#bl)"><g transform="scale(0.5)"><path d="M595 3355h12v12h-12zm0 319h12v12h-12zm0 11h12v12h-12zm11 -11h12v12h-12zm0 11h12v12h-12zm11 0h12v12h-12zm12 0h12v12h-12zm11 0h12v12h-12zm11 0h12v12h-12zm11 0h12v12h-12zm11 0h12v12h-12zm11 0h12v12h-12zm11 0h12v12h-12zm11 0h12v12h-12zm11 0h12v12h-12zm11 0h12v12h-12zm11 0h12v12h-12zm11 0h12v12h-12zm11 0h12v12h-12zm11 0h12v12h-12zm11 0h12v12h-12zm11 0h12v12h-12zm99 -330h12v12h-12zm11 11h12v12h-12zm22 11h12v12h-12zm11 0h12v12h-12z" fill="#DCD2EB"/><path d="M595 3366h12v12h-12zm34 -11h12v12h-12zm55 0h12v12h-12zm44 264h12v12h-12zm11 0h12v12h-12zm33 11h12v12h-12zm11 0h12v12h-12zm11 0h12v12h-12zm55 -275h12v12h-12zm44 44h12v12h-12zm0 77h12v12h-12zm0 44h12v12h-12z" fill="#E6DCF0"/><path d="M595 3377h12v12h-12zm11 0h12v12h-12zm11 -11h12v12h-12zm34 -11h12v12h-12zm22 11h12v12h-12zm11 11h12v12h-12zm11 11h12v12h-12zm11 0h12v12h-12zm22 187h12v12h-12zm11 0h12v12h-12zm0 11h12v12h-12zm11 -11h12v12h-12zm0 11h12v12h-12zm11 -11h12v12h-12zm0 11h12v12h-12zm11 -11h12v12h-12zm0 11h12v12h-12zm11 -11h12v12h-12zm0 22h12v12h-12zm22 -231h12v12h-12zm0 11h12v12h-12zm11 0h12v12h-12zm0 11h12v12h-12zm0 132h12v12h-12zm0 11h12v12h-12zm11 -154h12v12h-12zm0 11h12v12h-12zm0 121h12v12h-12zm0 11h12v12h-12zm0 11h12v12h-12zm11 -154h12v12h-12zm11 0h12v12h-12zm11 0h12v12h-12zm11 11h12v12h-12zm0 66h12v12h-12zm11 -55h12v12h-12z" fill="#EBE6F0"/><path d="M595 3388h12v12h-12zm0 66h12v12h-12zm0 11h12v12h-12zm0 11h12v12h-12zm0 11h12v12h-12zm11 -22h12v12h-12zm0 11h12v12h-12zm0 11h12v12h-12zm0 11h12v12h-12zm11 -121h12v12h-12zm12 -11h12v12h-12zm22 44h12v12h-12zm0 11h12v12h-12zm11 -11h12v12h-12zm0 11h12v12h-12zm11 -44h12v12h-12zm0 11h12v12h-12zm0 11h12v12h-12zm0 11h12v12h-12zm0 11h12v12h-12zm11 -11h12v12h-12zm66 121h12v12h-12zm0 11h12v12h-12zm0 11h12v12h-12zm11 -110h12v12h-12zm0 11h12v12h-12zm0 11h12v12h-12zm0 55h12v12h-12zm0 11h12v12h-12zm0 11h12v12h-12zm0 11h12v12h-12zm11 -110h12v12h-12zm0 11h12v12h-12zm0 11h12v12h-12zm0 11h12v12h-12zm0 11h12v12h-12zm0 11h12v12h-12zm0 11h12v12h-12zm0 11h12v12h-12zm0 11h12v12h-12zm0 11h12v12h-12zm0 11h12v12h-12zm0 11h12v12h-12zm11 -165h12v12h-12zm0 33h12v12h-12zm0 11h12v12h-12zm0 44h12v12h-12zm0 11h12v12h-12zm0 11h12v12h-12zm0 11h12v12h-12zm0 11h12v12h-12zm0 11h12v12h-12zm0 11h12v12h-12zm0 11h12v12h-12zm11 -132h12v12h-12zm0 11h12v12h-12zm0 55h12v12h-12zm0 11h12v12h-12zm0 11h12v12h-12zm0 11h12v12h-12zm0 11h12v12h-12zm0 11h12v12h-12zm11 -132h12v12h-12zm0 11h12v12h-12zm0 11h12v12h-12zm0 55h12v12h-12zm0 11h12v12h-12zm0 11h12v12h-12zm0 11h12v12h-12zm0 11h12v12h-12zm11 -143h12v12h-12zm0 33h12v12h-12zm0 11h12v12h-12zm0 44h12v12h-12zm0 11h12v12h-12zm11 -44h12v12h-12zm0 11h12v12h-12zm0 11h12v12h-12zm0 11h12v12h-12zm11 -22h12v12h-12zm0 11h12v12h-12z" fill="#F0EBF0"/><path d="M595 3399h12v12h-12zm11 -11h12v12h-12zm0 11h12v12h-12zm11 -11h12v12h-12zm0 11h12v12h-12zm12 -22h12v12h-12zm0 11h12v12h-12zm0 11h12v12h-12zm11 -33h12v12h-12zm0 11h12v12h-12zm0 11h12v12h-12zm0 11h12v12h-12zm0 11h12v12h-12zm11 -44h12v12h-12zm0 11h12v12h-12zm0 11h12v12h-12zm0 11h12v12h-12zm11 -33h12v12h-12zm0 11h12v12h-12zm0 11h12v12h-12zm0 11h12v12h-12zm132 165h12v12h-12zm11 -11h12v12h-12zm11 -143h12v12h-12zm0 11h12v12h-12zm11 -22h12v12h-12zm0 11h12v12h-12zm0 11h12v12h-12zm0 11h12v12h-12zm0 11h12v12h-12zm11 -55h12v12h-12zm0 11h12v12h-12zm0 44h12v12h-12zm0 11h12v12h-12zm0 33h12v12h-12zm11 -99h12v12h-12zm0 11h12v12h-12zm0 44h12v12h-12zm0 11h12v12h-12zm0 33h12v12h-12zm0 11h12v12h-12zm0 11h12v12h-12zm11 -110h12v12h-12zm0 44h12v12h-12zm0 44h12v12h-12zm0 11h12v12h-12zm0 11h12v12h-12zm11 -99h12v12h-12zm0 11h12v12h-12zm0 11h12v12h-12zm0 55h12v12h-12zm0 11h12v12h-12zm0 11h12v12h-12z" fill="#F0EBF5"/><path d="M595 3410h12v12h-12zm0 11h12v12h-12zm0 11h12v12h-12zm0 11h12v12h-12zm11 -33h12v12h-12zm0 11h12v12h-12zm0 11h12v12h-12zm0 11h12v12h-12zm11 -33h12v12h-12zm0 11h12v12h-12zm0 11h12v12h-12zm0 11h12v12h-12zm12 -33h12v12h-12zm0 11h12v12h-12zm0 11h12v12h-12z" fill="#F5F0F5"/><path d="M595 3498h12v12h-12zm89 -110h12v12h-12zm0 11h12v12h-12zm11 0h12v12h-12zm0 11h12v12h-12zm11 -11h12v12h-12zm33 154h12v12h-12zm0 11h12v12h-12zm11 0h12v12h-12zm11 -132h12v12h-12zm0 132h12v12h-12zm11 -143h12v12h-12zm0 11h12v12h-12zm11 -22h12v12h-12zm0 11h12v12h-12zm11 -33h12v12h-12zm0 11h12v12h-12zm0 11h12v12h-12zm0 11h12v12h-12zm11 -33h12v12h-12zm0 11h12v12h-12zm0 11h12v12h-12zm11 99h12v12h-12zm11 -11h12v12h-12z" fill="#F0E6F0"/><path d="M595 3509h12v12h-12zm11 0h12v12h-12zm0 11h12v12h-12zm11 0h12v12h-12zm0 11h12v12h-12zm12 -11h12v12h-12zm0 11h12v12h-12zm11 0h12v12h-12zm0 11h12v12h-12zm11 -11h12v12h-12zm0 11h12v12h-12zm11 -11h12v12h-12zm0 11h12v12h-12zm0 11h12v12h-12zm11 -11h12v12h-12zm0 11h12v12h-12zm11 -11h12v12h-12zm0 11h12v12h-12zm11 0h12v12h-12zm0 11h12v12h-12zm11 -154h12v12h-12zm0 11h12v12h-12zm0 132h12v12h-12zm0 11h12v12h-12zm11 -187h12v12h-12zm0 11h12v12h-12zm0 11h12v12h-12zm0 11h12v12h-12zm0 11h12v12h-12zm0 132h12v12h-12zm0 11h12v12h-12zm11 -198h12v12h-12zm0 44h12v12h-12zm0 11h12v12h-12zm0 11h12v12h-12zm0 121h12v12h-12zm0 11h12v12h-12zm11 -209h12v12h-12zm0 66h12v12h-12zm0 11h12v12h-12zm0 11h12v12h-12zm11 -88h12v12h-12zm0 77h12v12h-12zm0 11h12v12h-12zm11 -88h12v12h-12zm11 0h12v12h-12zm11 0h12v12h-12zm0 11h12v12h-12zm11 0h12v12h-12zm0 11h12v12h-12z" fill="#F0E6EB"/><path d="M595 3520h12v12h-12zm0 11h12v12h-12zm11 0h12v12h-12zm0 11h12v12h-12zm11 0h12v12h-12zm12 0h12v12h-12zm0 11h12v12h-12zm11 0h12v12h-12zm11 0h12v12h-12zm0 11h12v12h-12zm11 0h12v12h-12zm11 0h12v12h-12zm11 0h12v12h-12zm0 11h12v12h-12zm11 0h12v12h-12zm11 0h12v12h-12zm11 0h12v12h-12zm77 -220h12v12h-12z" fill="#EBE6EB"/><path d="M595 3542h12v12h-12zm0 11h12v12h-12zm0 11h12v12h-12zm11 -11h12v12h-12zm0 11h12v12h-12zm11 -11h12v12h-12zm0 11h12v12h-12zm0 11h12v12h-12zm12 -11h12v12h-12zm0 11h12v12h-12zm11 -11h12v12h-12zm0 11h12v12h-12zm11 0h12v12h-12zm0 11h12v12h-12zm11 -11h12v12h-12zm0 11h12v12h-12zm11 -11h12v12h-12zm0 11h12v12h-12zm11 0h12v12h-12zm11 0h12v12h-12zm11 -220h12v12h-12zm0 11h12v12h-12zm0 209h12v12h-12zm11 -220h12v12h-12zm0 220h12v12h-12zm11 -231h12v12h-12zm77 0h12v12h-12zm11 0h12v12h-12z" fill="#EBE1EB"/><path d="M595 3575h12v12h-12zm11 0h12v12h-12zm0 11h12v12h-12zm11 0h12v12h-12zm12 0h12v12h-12zm11 0h12v12h-12zm0 11h12v12h-12zm11 0h12v12h-12zm11 0h12v12h-12zm11 0h12v12h-12zm11 0h12v12h-12zm0 11h12v12h-12zm11 -11h12v12h-12zm0 11h12v12h-12zm11 -11h12v12h-12zm0 11h12v12h-12zm11 -253h12v12h-12z" fill="#E6E1EB"/><path d="M595 3586h12v12h-12zm0 11h12v12h-12zm0 11h12v12h-12zm11 -11h12v12h-12zm0 11h12v12h-12zm11 -11h12v12h-12zm0 11h12v12h-12zm0 11h12v12h-12zm12 -22h12v12h-12zm0 11h12v12h-12zm0 11h12v12h-12zm11 -11h12v12h-12zm0 11h12v12h-12zm11 -11h12v12h-12zm0 11h12v12h-12zm11 -11h12v12h-12zm0 11h12v12h-12zm11 -11h12v12h-12zm0 11h12v12h-12zm11 0h12v12h-12zm11 0h12v12h-12zm11 -264h12v12h-12zm0 264h12v12h-12zm11 0h12v12h-12z" fill="#E6DCEB"/><path d="M595 3619h12v12h-12zm11 0h12v12h-12zm0 11h12v12h-12zm11 0h12v12h-12zm12 0h12v12h-12zm11 0h12v12h-12zm11 0h12v12h-12zm11 0h12v12h-12zm11 0h12v12h-12zm0 11h12v12h-12zm11 -11h12v12h-12zm0 11h12v12h-12zm11 -286h12v12h-12zm0 275h12v12h-12zm0 11h12v12h-12zm11 -11h12v12h-12zm0 11h12v12h-12zm11 -11h12v12h-12zm0 11h12v12h-12zm11 0h12v12h-12z" fill="#E1DCEB"/><path d="M595 3630h12v12h-12zm0 11h12v12h-12zm0 11h12v12h-12zm11 -11h12v12h-12zm0 11h12v12h-12zm11 -11h12v12h-12zm0 11h12v12h-12zm0 11h12v12h-12zm12 -22h12v12h-12zm0 11h12v12h-12zm0 11h12v12h-12zm11 -22h12v12h-12zm0 11h12v12h-12zm0 11h12v12h-12zm11 -22h12v12h-12zm0 11h12v12h-12zm0 11h12v12h-12zm11 -22h12v12h-12zm0 11h12v12h-12zm0 11h12v12h-12zm11 -11h12v12h-12zm0 11h12v12h-12zm11 -11h12v12h-12zm0 11h12v12h-12zm11 -11h12v12h-12zm0 11h12v12h-12zm11 -11h12v12h-12zm0 11h12v12h-12zm11 -11h12v12h-12zm11 0h12v12h-12zm11 0h12v12h-12z" fill="#E1D7EB"/><path d="M595 3663h12v12h-12zm11 -308h12v12h-12zm0 308h12v12h-12zm11 11h12v12h-12zm12 0h12v12h-12zm11 0h12v12h-12zm11 0h12v12h-12zm11 0h12v12h-12zm11 0h12v12h-12zm11 0h12v12h-12zm11 0h12v12h-12zm11 0h12v12h-12zm11 -11h12v12h-12zm0 11h12v12h-12zm11 -11h12v12h-12zm0 11h12v12h-12zm11 -11h12v12h-12zm0 11h12v12h-12zm11 -11h12v12h-12zm0 11h12v12h-12zm11 0h12v12h-12zm121 -319h12v12h-12zm11 11h12v12h-12zm22 11h12v12h-12z" fill="#DCD7EB"/><path d="M606 3366h12v12h-12zm67 -11h12v12h-12zm22 11h12v12h-12zm22 231h12v12h-12zm0 11h12v12h-12zm11 -11h12v12h-12zm0 11h12v12h-12zm11 0h12v12h-12zm11 0h12v12h-12zm0 11h12v12h-12zm11 -11h12v12h-12zm0 11h12v12h-12zm11 -11h12v12h-12zm0 11h12v12h-12zm11 -11h12v12h-12zm0 11h12v12h-12zm11 0h12v12h-12zm11 11h12v12h-12zm11 0h12v12h-12zm11 -275h12v12h-12zm11 0h12v12h-12zm0 11h12v12h-12zm11 0h12v12h-12zm11 0h12v12h-12zm0 176h12v12h-12zm0 11h12v12h-12zm11 -176h12v12h-12zm0 165h12v12h-12zm11 -154h12v12h-12zm0 55h12v12h-12zm0 11h12v12h-12zm0 11h12v12h-12zm0 66h12v12h-12zm11 -121h12v12h-12zm0 11h12v12h-12zm0 11h12v12h-12zm0 55h12v12h-12zm0 22h12v12h-12zm22 -88h12v12h-12zm11 -11h12v12h-12zm0 22h12v12h-12zm11 -33h12v12h-12zm11 0h12v12h-12zm11 11h12v12h-12zm0 11h12v12h-12z" fill="#E6E1F0"/><path d="M606 3454h12v12h-12zm11 0h12v12h-12zm0 11h12v12h-12zm0 11h12v12h-12zm12 -22h12v12h-12zm0 11h12v12h-12zm11 -33h12v12h-12zm0 11h12v12h-12zm11 -11h12v12h-12zm132 22h12v12h-12zm0 11h12v12h-12zm0 11h12v12h-12zm11 -22h12v12h-12zm0 11h12v12h-12zm0 11h12v12h-12zm0 11h12v12h-12zm11 -33h12v12h-12zm0 11h12v12h-12zm0 11h12v12h-12zm0 11h12v12h-12zm11 -33h12v12h-12zm0 11h12v12h-12zm0 11h12v12h-12z" fill="#F5EBF0"/><path d="M617 3355h12v12h-12zm133 297h12v12h-12zm11 0h12v12h-12zm11 0h12v12h-12zm55 11h12v12h-12zm44 -308h12v12h-12zm11 198h12v12h-12zm11 -176h12v12h-12zm0 154h12v12h-12zm11 -143h12v12h-12zm0 55h12v12h-12zm22 -55h12v12h-12zm0 220h12v12h-12zm11 33h12v12h-12zm0 22h12v12h-12z" fill="#E1D7F0"/><path d="M617 3487h12v12h-12zm0 11h12v12h-12zm0 11h12v12h-12zm12 -11h12v12h-12zm0 11h12v12h-12zm11 0h12v12h-12zm0 11h12v12h-12zm11 0h12v12h-12zm11 0h12v12h-12zm11 11h12v12h-12zm11 -110h12v12h-12zm0 110h12v12h-12zm11 -110h12v12h-12zm0 121h12v12h-12zm11 -110h12v12h-12zm0 110h12v12h-12zm11 -110h12v12h-12zm0 11h12v12h-12zm0 99h12v12h-12zm11 -165h12v12h-12zm0 11h12v12h-12zm0 11h12v12h-12zm0 44h12v12h-12zm0 11h12v12h-12zm0 88h12v12h-12zm11 -132h12v12h-12zm0 44h12v12h-12zm0 88h12v12h-12zm11 -121h12v12h-12zm0 33h12v12h-12zm0 11h12v12h-12zm11 -44h12v12h-12zm0 55h12v12h-12zm0 11h12v12h-12zm0 11h12v12h-12zm0 11h12v12h-12zm11 -99h12v12h-12zm11 -33h12v12h-12z" fill="#F0EBEB"/><path d="M629 3443h12v12h-12z" fill="#F5F0F0"/><path d="M629 3476h12v12h-12zm0 11h12v12h-12zm11 -11h12v12h-12zm0 11h12v12h-12zm0 11h12v12h-12zm11 -11h12v12h-12zm0 11h12v12h-12zm0 11h12v12h-12zm11 -77h12v12h-12zm0 66h12v12h-12zm0 11h12v12h-12zm11 -77h12v12h-12zm0 66h12v12h-12zm0 11h12v12h-12zm0 11h12v12h-12zm11 -88h12v12h-12zm0 55h12v12h-12zm0 11h12v12h-12zm0 11h12v12h-12zm0 11h12v12h-12zm11 -88h12v12h-12zm0 11h12v12h-12zm0 11h12v12h-12zm0 11h12v12h-12zm0 11h12v12h-12zm0 11h12v12h-12zm0 11h12v12h-12zm0 11h12v12h-12zm0 11h12v12h-12zm0 11h12v12h-12zm11 -88h12v12h-12zm0 11h12v12h-12zm0 11h12v12h-12zm0 11h12v12h-12zm0 11h12v12h-12zm0 33h12v12h-12zm0 11h12v12h-12zm11 -77h12v12h-12zm0 11h12v12h-12zm0 11h12v12h-12zm0 44h12v12h-12zm0 11h12v12h-12zm11 -66h12v12h-12zm0 11h12v12h-12zm0 44h12v12h-12zm0 11h12v12h-12zm11 -165h12v12h-12zm0 11h12v12h-12zm0 11h12v12h-12zm0 11h12v12h-12zm0 66h12v12h-12zm0 11h12v12h-12zm0 11h12v12h-12zm0 22h12v12h-12zm0 11h12v12h-12zm0 11h12v12h-12zm11 -165h12v12h-12zm0 11h12v12h-12zm0 11h12v12h-12zm0 11h12v12h-12zm0 11h12v12h-12zm0 66h12v12h-12zm0 11h12v12h-12zm0 11h12v12h-12zm0 11h12v12h-12zm0 11h12v12h-12zm11 -154h12v12h-12zm0 11h12v12h-12zm0 11h12v12h-12zm0 11h12v12h-12zm0 11h12v12h-12zm11 -44h12v12h-12zm0 11h12v12h-12zm0 11h12v12h-12zm0 11h12v12h-12zm11 -11h12v12h-12z" fill="#F5EBEB"/><path d="M640 3355h12v12h-12zm22 0h12v12h-12zm22 11h12v12h-12zm11 11h12v12h-12zm33 209h12v12h-12zm11 11h12v12h-12zm11 0h12v12h-12zm11 0h12v12h-12zm11 0h12v12h-12zm44 -231h12v12h-12zm11 0h12v12h-12z" fill="#EBE1F0"/><path d="M640 3421h12v12h-12z" fill="#F5EBF5"/><path d="M640 3454h12v12h-12zm0 11h12v12h-12zm11 -22h12v12h-12zm0 11h12v12h-12zm0 11h12v12h-12zm0 11h12v12h-12zm11 -33h12v12h-12zm0 11h12v12h-12zm0 11h12v12h-12zm0 11h12v12h-12zm0 11h12v12h-12zm11 -44h12v12h-12zm0 11h12v12h-12zm0 11h12v12h-12zm0 11h12v12h-12zm0 11h12v12h-12zm11 -44h12v12h-12zm0 11h12v12h-12zm0 11h12v12h-12zm0 11h12v12h-12z" fill="#F5F0EB"/><path d="M706 3498h12v12h-12zm0 11h12v12h-12zm11 -22h12v12h-12zm0 11h12v12h-12zm0 11h12v12h-12zm11 -22h12v12h-12zm0 11h12v12h-12zm0 11h12v12h-12zm11 -11h12v12h-12z" fill="#F5EBE6"/><path d="M728 3630h12v12h-12zm11 0h12v12h-12zm0 11h12v12h-12zm11 -11h12v12h-12zm0 11h12v12h-12zm11 -11h12v12h-12zm0 11h12v12h-12zm11 0h12v12h-12zm11 0h12v12h-12zm0 11h12v12h-12zm11 -11h12v12h-12zm0 11h12v12h-12zm11 -11h12v12h-12zm0 11h12v12h-12zm11 -11h12v12h-12zm0 11h12v12h-12zm11 -11h12v12h-12zm0 11h12v12h-12zm11 0h12v12h-12zm0 11h12v12h-12zm11 0h12v12h-12zm11 -308h12v12h-12zm0 308h12v12h-12zm11 -297h12v12h-12zm0 187h12v12h-12zm0 11h12v12h-12zm0 11h12v12h-12zm11 -209h12v12h-12zm0 11h12v12h-12zm0 165h12v12h-12zm0 22h12v12h-12zm0 11h12v12h-12zm0 11h12v12h-12zm11 -198h12v12h-12zm0 55h12v12h-12zm0 11h12v12h-12zm0 11h12v12h-12zm0 110h12v12h-12zm0 11h12v12h-12zm0 77h12v12h-12zm11 -264h12v12h-12zm0 11h12v12h-12zm0 11h12v12h-12zm0 11h12v12h-12zm0 132h12v12h-12zm0 88h12v12h-12zm11 -253h12v12h-12zm0 11h12v12h-12zm0 22h12v12h-12zm0 176h12v12h-12zm0 11h12v12h-12zm0 11h12v12h-12zm11 -187h12v12h-12zm11 -55h12v12h-12zm0 55h12v12h-12zm0 209h12v12h-12zm11 -209h12v12h-12zm11 -44h12v12h-12zm0 33h12v12h-12zm11 231h12v12h-12z" fill="#E1DCF0"/><path d="M761 3663h12v12h-12zm11 0h12v12h-12zm0 11h12v12h-12zm11 -11h12v12h-12zm0 11h12v12h-12zm11 -11h12v12h-12zm0 11h12v12h-12zm11 -11h12v12h-12zm0 11h12v12h-12zm11 -11h12v12h-12zm0 11h12v12h-12zm11 0h12v12h-12zm11 0h12v12h-12zm11 0h12v12h-12zm11 0h12v12h-12zm11 0h12v12h-12zm11 0h12v12h-12zm11 -132h12v12h-12zm0 11h12v12h-12zm0 11h12v12h-12zm0 110h12v12h-12zm11 -297h12v12h-12zm0 77h12v12h-12zm0 55h12v12h-12zm0 44h12v12h-12zm0 110h12v12h-12zm11 -275h12v12h-12zm0 55h12v12h-12zm0 110h12v12h-12zm0 88h12v12h-12zm0 11h12v12h-12zm11 -99h12v12h-12zm0 66h12v12h-12zm0 11h12v12h-12zm0 11h12v12h-12zm0 11h12v12h-12zm0 11h12v12h-12zm11 -55h12v12h-12zm0 22h12v12h-12zm0 44h12v12h-12zm11 -286h12v12h-12zm0 187h12v12h-12zm0 11h12v12h-12zm0 44h12v12h-12zm0 44h12v12h-12zm11 -44h12v12h-12zm0 44h12v12h-12z" fill="#DCD7F0"/><path d="M783 3586h12v12h-12zm11 -11h12v12h-12zm0 11h12v12h-12zm0 11h12v12h-12zm11 -33h12v12h-12zm0 11h12v12h-12zm0 11h12v12h-12zm0 11h12v12h-12zm11 -55h12v12h-12zm0 11h12v12h-12zm0 11h12v12h-12zm0 11h12v12h-12zm0 11h12v12h-12zm0 11h12v12h-12zm11 -55h12v12h-12zm0 11h12v12h-12zm0 11h12v12h-12zm0 11h12v12h-12zm0 11h12v12h-12zm0 11h12v12h-12zm11 -88h12v12h-12zm0 11h12v12h-12zm0 11h12v12h-12zm0 11h12v12h-12zm0 11h12v12h-12zm0 11h12v12h-12zm0 11h12v12h-12zm0 11h12v12h-12zm0 11h12v12h-12zm11 -132h12v12h-12zm0 11h12v12h-12zm0 44h12v12h-12zm0 11h12v12h-12zm11 -143h12v12h-12zm0 66h12v12h-12zm0 11h12v12h-12zm0 66h12v12h-12zm11 -66h12v12h-12zm0 11h12v12h-12zm11 -66h12v12h-12zm0 11h12v12h-12zm0 11h12v12h-12zm0 44h12v12h-12zm0 11h12v12h-12zm0 33h12v12h-12zm55 -99h12v12h-12zm11 -11h12v12h-12zm0 11h12v12h-12zm33 77h12v12h-12zm0 11h12v12h-12zm0 11h12v12h-12zm11 -33h12v12h-12zm0 11h12v12h-12zm0 11h12v12h-12zm0 11h12v12h-12zm0 11h12v12h-12zm11 -55h12v12h-12zm0 11h12v12h-12zm0 11h12v12h-12zm0 11h12v12h-12z" fill="#EBE6F5"/><path d="M794 3608h12v12h-12zm11 0h12v12h-12zm0 11h12v12h-12zm11 0h12v12h-12zm11 0h12v12h-12zm0 11h12v12h-12zm11 -22h12v12h-12zm0 11h12v12h-12zm0 11h12v12h-12zm11 -88h12v12h-12zm0 11h12v12h-12zm0 44h12v12h-12zm0 11h12v12h-12zm0 11h12v12h-12zm0 11h12v12h-12zm0 11h12v12h-12zm11 -77h12v12h-12zm0 11h12v12h-12zm0 11h12v12h-12zm0 11h12v12h-12zm0 11h12v12h-12zm0 11h12v12h-12zm0 11h12v12h-12zm0 11h12v12h-12zm0 11h12v12h-12zm11 -55h12v12h-12zm0 11h12v12h-12zm0 33h12v12h-12zm0 11h12v12h-12zm11 -55h12v12h-12zm0 11h12v12h-12zm0 44h12v12h-12zm11 -154h12v12h-12zm0 110h12v12h-12zm0 33h12v12h-12zm0 11h12v12h-12zm11 -33h12v12h-12zm0 11h12v12h-12zm11 -66h12v12h-12zm0 11h12v12h-12zm0 11h12v12h-12zm11 -165h12v12h-12zm0 143h12v12h-12zm0 33h12v12h-12zm11 -11h12v12h-12zm22 55h12v12h-12zm0 11h12v12h-12z" fill="#E6E1F5"/><path d="M805 3685h12v12h-12zm11 0h12v12h-12zm11 0h12v12h-12zm11 0h12v12h-12zm11 0h12v12h-12zm11 0h12v12h-12zm11 0h12v12h-12zm33 -165h12v12h-12zm0 154h12v12h-12zm11 -11h12v12h-12zm55 11h12v12h-12z" fill="#DCD2F0"/><path d="M816 3608h12v12h-12zm11 0h12v12h-12zm22 -44h12v12h-12zm0 11h12v12h-12zm0 11h12v12h-12zm22 -55h12v12h-12zm0 88h12v12h-12zm0 11h12v12h-12zm11 -11h12v12h-12zm0 11h12v12h-12zm0 11h12v12h-12zm11 -22h12v12h-12zm0 11h12v12h-12zm33 -55h12v12h-12zm0 11h12v12h-12zm11 -176h12v12h-12zm0 22h12v12h-12zm0 143h12v12h-12zm11 -143h12v12h-12z" fill="#E6E6F5"/><path d="M838 3410h12v12h-12zm0 11h12v12h-12zm0 11h12v12h-12zm11 -22h12v12h-12zm0 11h12v12h-12zm0 11h12v12h-12zm11 -22h12v12h-12zm0 11h12v12h-12zm0 11h12v12h-12z" fill="#F0F0F5"/><path d="M838 3498h12v12h-12zm22 -22h12v12h-12zm0 44h12v12h-12zm11 -121h12v12h-12zm0 44h12v12h-12zm0 77h12v12h-12zm11 -22h12v12h-12zm0 11h12v12h-12zm88 -11h12v12h-12zm0 11h12v12h-12zm0 11h12v12h-12zm11 -33h12v12h-12zm0 44h12v12h-12z" fill="#EBEBF5"/><path d="M838 3641h12v12h-12zm11 11h12v12h-12zm22 -66h12v12h-12zm0 77h12v12h-12zm11 0h12v12h-12zm11 -66h12v12h-12zm11 -22h12v12h-12zm0 22h12v12h-12zm0 11h12v12h-12zm33 -44h12v12h-12zm0 33h12v12h-12zm11 44h12v12h-12zm0 22h12v12h-12zm11 0h12v12h-12zm11 -22h12v12h-12zm0 11h12v12h-12z" fill="#E1DCF5"/><path d="M882 3685h12v12h-12zm11 0h12v12h-12zm11 -143h12v12h-12zm11 132h12v12h-12zm11 0h12v12h-12zm11 -55h12v12h-12zm11 -22h12v12h-12zm0 88h12v12h-12zm22 -55h12v12h-12zm11 22h12v12h-12z" fill="#D7D2F0"/><path d="M904 3355h12v12h-12zm0 176h12v12h-12zm11 -165h12v12h-12zm33 11h12v12h-12zm11 11h12v12h-12zm11 22h12v12h-12z" fill="#D7D2EB"/><path d="M904 3465h12v12h-12zm0 11h12v12h-12zm0 11h12v12h-12zm0 11h12v12h-12zm11 -44h12v12h-12z" fill="#FAF5FA"/><path d="M904 3586h12v12h-12zm0 55h12v12h-12zm11 -44h12v12h-12z" fill="#E1E1F5"/><path d="M904 3685h12v12h-12zm22 0h12v12h-12zm11 -132h12v12h-12zm0 132h12v12h-12zm11 -66h12v12h-12zm11 66h12v12h-12zm22 -22h12v12h-12z" fill="#D7CDF0"/><path d="M915 3355h12v12h-12zm0 187h12v12h-12zm0 143h12v12h-12zm11 -319h12v12h-12zm11 0h12v12h-12zm33 33h12v12h-12zm0 22h12v12h-12z" fill="#D7CDEB"/><path d="M915 3465h12v12h-12zm0 11h12v12h-12zm0 11h12v12h-12zm0 11h12v12h-12zm0 11h12v12h-12zm0 11h12v12h-12zm11 -66h12v12h-12zm0 11h12v12h-12zm0 11h12v12h-12zm0 55h12v12h-12zm11 -77h12v12h-12zm0 11h12v12h-12zm11 -11h12v12h-12zm11 0h12v12h-12z" fill="#F5F5FA"/><path d="M915 3531h12v12h-12zm11 11h12v12h-12zm11 -187h12v12h-12zm11 11h12v12h-12zm11 253h12v12h-12zm11 -231h12v12h-12zm0 297h12v12h-12zm11 -44h12v12h-12zm0 33h12v12h-12z" fill="#D2C8EB"/><path d="M926 3355h12v12h-12zm22 209h12v12h-12zm0 44h12v12h-12zm11 -231h12v12h-12zm0 66h12v12h-12z" fill="#D2CDEB"/><path d="M926 3399h12v12h-12z" fill="#E1E1F0"/><path d="M926 3487h12v12h-12zm0 11h12v12h-12zm0 11h12v12h-12zm0 11h12v12h-12zm11 -44h12v12h-12zm0 55h12v12h-12zm11 -66h12v12h-12zm11 0h12v12h-12zm11 -11h12v12h-12zm0 11h12v12h-12zm11 -11h12v12h-12zm0 11h12v12h-12z" fill="#F5F0FA"/><path d="M937 3487h12v12h-12zm0 11h12v12h-12zm0 11h12v12h-12zm0 11h12v12h-12zm11 -44h12v12h-12zm0 11h12v12h-12zm0 44h12v12h-12zm0 11h12v12h-12zm11 -66h12v12h-12zm11 0h12v12h-12zm22 -11h12v12h-12z" fill="#F0F0FA"/><path d="M937 3542h12v12h-12zm11 11h12v12h-12zm11 -198h12v12h-12zm11 11h12v12h-12zm0 77h12v12h-12zm0 176h12v12h-12zm11 -231h12v12h-12zm0 33h12v12h-12zm0 11h12v12h-12zm0 11h12v12h-12zm11 -11h12v12h-12zm0 11h12v12h-12zm0 11h12v12h-12z" fill="#C8BEE6"/><path d="M948 3355h12v12h-12zm22 22h12v12h-12zm0 55h12v12h-12zm11 -22h12v12h-12z" fill="#CDC3E6"/><path d="M948 3498h12v12h-12zm0 11h12v12h-12zm0 11h12v12h-12zm11 -33h12v12h-12zm0 11h12v12h-12zm0 11h12v12h-12zm0 11h12v12h-12zm0 11h12v12h-12zm11 -44h12v12h-12zm0 44h12v12h-12zm11 -55h12v12h-12z" fill="#F0EBFA"/><path d="M948 3652h12v12h-12z" fill="#E6DCF5"/><path d="M959 3366h12v12h-12z" fill="#CDC3EB"/><path d="M959 3542h12v12h-12zm11 11h12v12h-12zm0 11h12v12h-12zm11 -11h12v12h-12zm0 11h12v12h-12zm0 55h12v12h-12zm11 -66h12v12h-12zm0 11h12v12h-12zm11 -187h12v12h-12zm0 11h12v12h-12zm0 11h12v12h-12zm88 242h12v12h-12zm22 33h12v12h-12z" fill="#B4A5E1"/><path d="M959 3553h12v12h-12zm11 33h12v12h-12zm0 11h12v12h-12zm22 -242h12v12h-12zm11 66h12v12h-12zm88 253h12v12h-12zm11 0h12v12h-12zm11 -22h12v12h-12zm0 11h12v12h-12z" fill="#B9AAE1"/><path d="M959 3564h12v12h-12zm33 110h12v12h-12z" fill="#BEB4E6"/><path d="M959 3575h12v12h-12zm11 -220h12v12h-12zm11 22h12v12h-12zm0 253h12v12h-12zm11 -209h12v12h-12z" fill="#C3B9E6"/><path d="M959 3586h12v12h-12zm0 11h12v12h-12zm0 11h12v12h-12zm22 77h12v12h-12z" fill="#C8BEEB"/><path d="M970 3542h12v12h-12zm11 0h12v12h-12zm22 -187h12v12h-12zm0 11h12v12h-12zm77 297h12v12h-12zm11 22h12v12h-12zm11 0h12v12h-12zm11 -44h12v12h-12zm0 44h12v12h-12zm11 -22h12v12h-12z" fill="#B4A5DC"/><path d="M970 3575h12v12h-12zm33 -165h12v12h-12zm0 44h12v12h-12zm99 187h12v12h-12z" fill="#B4AAE1"/><path d="M970 3608h12v12h-12zm22 -242h12v12h-12zm11 66h12v12h-12zm88 220h12v12h-12zm11 0h12v12h-12zm0 11h12v12h-12z" fill="#B9AFE1"/><path d="M981 3355h12v12h-12zm11 33h12v12h-12zm0 11h12v12h-12z" fill="#BEB4E1"/><path d="M981 3366h12v12h-12zm11 44h12v12h-12zm0 253h12v12h-12z" fill="#C3B4E6"/><path d="M981 3399h12v12h-12z" fill="#C8C3E6"/><path d="M981 3575h12v12h-12zm143 99h12v12h-12z" fill="#AFA5DC"/><path d="M981 3586h12v12h-12zm0 22h12v12h-12zm11 -33h12v12h-12zm11 88h12v12h-12zm11 -308h12v12h-12zm0 11h12v12h-12zm0 11h12v12h-12zm0 11h12v12h-12zm88 242h12v12h-12zm11 0h12v12h-12zm11 11h12v12h-12zm11 11h12v12h-12zm0 33h12v12h-12z" fill="#AA9BDC"/><path d="M981 3597h12v12h-12zm33 -198h12v12h-12zm77 231h12v12h-12zm55 44h12v12h-12z" fill="#AA96DC"/><path d="M992 3377h12v12h-12zm11 66h12v12h-12zm88 220h12v12h-12z" fill="#BEAFE1"/><path d="M992 3476h12v12h-12z" fill="#EBEBFA"/><path d="M992 3542h12v12h-12zm11 132h12v12h-12zm77 -22h12v12h-12zm0 22h12v12h-12zm0 11h12v12h-12zm44 -33h12v12h-12zm0 33h12v12h-12z" fill="#AFA0DC"/><path d="M992 3586h12v12h-12zm33 -198h12v12h-12zm11 297h12v12h-12zm11 0h12v12h-12zm11 -11h12v12h-12zm11 -11h12v12h-12zm66 -33h12v12h-12z" fill="#A08CD7"/><path d="M992 3597h12v12h-12zm33 -187h12v12h-12zm0 253h12v12h-12zm22 -297h12v12h-12z" fill="#9687D7"/><path d="M992 3608h12v12h-12z" fill="#9682D7"/><path d="M992 3619h12v12h-12zm11 -77h12v12h-12zm0 33h12v12h-12zm33 -198h12v12h-12zm11 -22h12v12h-12zm44 264h12v12h-12zm33 0h12v12h-12zm22 11h12v12h-12z" fill="#9B87D7"/><path d="M992 3630h12v12h-12z" fill="#A091DC"/><path d="M992 3641h12v12h-12z" fill="#AFA5E1"/><path d="M992 3652h12v12h-12zm0 33h12v12h-12z" fill="#BEAFE6"/><path d="M1003 3465h12v12h-12zm0 88h12v12h-12zm0 11h12v12h-12zm11 -154h12v12h-12zm0 11h12v12h-12zm0 264h12v12h-12zm121 -44h12v12h-12zm11 22h12v12h-12zm0 22h12v12h-12z" fill="#A596DC"/><path d="M1003 3520h12v12h-12zm33 -132h12v12h-12zm0 275h12v12h-12zm11 -11h12v12h-12zm11 -11h12v12h-12zm0 11h12v12h-12zm22 -33h12v12h-12zm77 11h12v12h-12z" fill="#9687D2"/><path d="M1003 3531h12v12h-12zm0 55h12v12h-12zm11 -132h12v12h-12zm0 33h12v12h-12zm0 22h12v12h-12zm0 44h12v12h-12zm0 11h12v12h-12zm11 88h12v12h-12zm22 -264h12v12h-12zm11 -11h12v12h-12zm11 -11h12v12h-12zm11 -11h12v12h-12zm22 253h12v12h-12zm11 0h12v12h-12zm11 0h12v12h-12zm33 11h12v12h-12z" fill="#917DD2"/><path d="M1003 3597h12v12h-12zm11 44h12v12h-12zm88 -275h12v12h-12z" fill="#8773D2"/><path d="M1003 3608h12v12h-12zm0 11h12v12h-12zm11 -77h12v12h-12zm0 33h12v12h-12zm11 -77h12v12h-12zm0 143h12v12h-12zm11 -220h12v12h-12zm11 -11h12v12h-12zm0 209h12v12h-12zm11 -220h12v12h-12zm11 -11h12v12h-12zm0 220h12v12h-12zm11 -231h12v12h-12zm11 0h12v12h-12zm11 0h12v12h-12zm11 -11h12v12h-12zm0 231h12v12h-12zm11 -231h12v12h-12zm0 231h12v12h-12zm11 -231h12v12h-12zm0 231h12v12h-12zm11 -231h12v12h-12zm0 231h12v12h-12zm11 -231h12v12h-12zm0 231h12v12h-12z" fill="#8773CD"/><path d="M1003 3630h12v12h-12zm11 -165h12v12h-12zm0 11h12v12h-12zm11 -44h12v12h-12zm11 -22h12v12h-12zm0 231h12v12h-12zm11 -242h12v12h-12zm0 231h12v12h-12zm11 -242h12v12h-12zm0 231h12v12h-12zm11 -242h12v12h-12zm11 -11h12v12h-12zm0 242h12v12h-12zm11 -253h12v12h-12zm0 11h12v12h-12zm11 -11h12v12h-12zm11 0h12v12h-12zm11 0h12v12h-12zm11 0h12v12h-12zm11 253h12v12h-12zm11 0h12v12h-12z" fill="#8C78D2"/><path d="M1003 3641h12v12h-12zm44 -264h12v12h-12zm0 264h12v12h-12zm11 -286h12v12h-12zm0 275h12v12h-12zm77 -11h12v12h-12zm11 0h12v12h-12z" fill="#9682D2"/><path d="M1003 3652h12v12h-12zm11 -220h12v12h-12zm0 242h12v12h-12zm11 -297h12v12h-12zm0 308h12v12h-12zm11 -330h12v12h-12zm22 330h12v12h-12zm22 -55h12v12h-12zm66 11h12v12h-12zm11 11h12v12h-12zm0 11h12v12h-12z" fill="#A091D7"/><path d="M1003 3685h12v12h-12z" fill="#AFA0E1"/><path d="M1014 3443h12v12h-12zm0 220h12v12h-12zm11 -264h12v12h-12zm0 275h12v12h-12zm11 -308h12v12h-12zm0 308h12v12h-12zm11 0h12v12h-12zm55 -55h12v12h-12zm11 0h12v12h-12zm44 22h12v12h-12z" fill="#9B8CD7"/><path d="M1014 3498h12v12h-12zm0 154h12v12h-12zm11 -231h12v12h-12zm11 -22h12v12h-12zm0 253h12v12h-12zm22 -286h12v12h-12zm11 -11h12v12h-12zm0 264h12v12h-12z" fill="#9182D2"/><path d="M1014 3520h12v12h-12zm0 11h12v12h-12zm0 66h12v12h-12zm11 -22h12v12h-12zm0 33h12v12h-12zm11 -176h12v12h-12zm0 66h12v12h-12zm0 11h12v12h-12zm0 33h12v12h-12zm0 66h12v12h-12zm22 -11h12v12h-12zm11 -187h12v12h-12zm33 -11h12v12h-12zm0 187h12v12h-12zm11 -187h12v12h-12zm0 187h12v12h-12zm11 -187h12v12h-12zm11 0h12v12h-12zm0 11h12v12h-12zm11 0h12v12h-12zm11 0h12v12h-12zm0 165h12v12h-12z" fill="#7D69CD"/><path d="M1014 3586h12v12h-12zm0 22h12v12h-12zm0 11h12v12h-12zm11 -176h12v12h-12zm0 66h12v12h-12zm0 33h12v12h-12zm0 77h12v12h-12zm0 11h12v12h-12zm22 -209h12v12h-12zm0 187h12v12h-12zm11 -198h12v12h-12zm22 -11h12v12h-12zm11 0h12v12h-12zm33 187h12v12h-12zm11 0h12v12h-12zm11 -187h12v12h-12zm0 187h12v12h-12zm11 -187h12v12h-12z" fill="#8269CD"/><path d="M1014 3630h12v12h-12zm11 -143h12v12h-12zm0 66h12v12h-12zm0 11h12v12h-12zm11 55h12v12h-12zm0 11h12v12h-12zm33 -231h12v12h-12zm0 198h12v12h-12zm11 0h12v12h-12zm11 -209h12v12h-12zm0 209h12v12h-12zm11 -209h12v12h-12zm11 0h12v12h-12zm11 0h12v12h-12zm11 0h12v12h-12zm11 0h12v12h-12zm11 0h12v12h-12zm0 198h12v12h-12z" fill="#826ECD"/><path d="M1025 3355h12v12h-12zm44 319h12v12h-12zm0 11h12v12h-12zm11 -44h12v12h-12zm44 -11h12v12h-12zm22 22h12v12h-12z" fill="#A596D7"/><path d="M1025 3366h12v12h-12zm132 308h12v12h-12zm0 11h12v12h-12z" fill="#A591D7"/><path d="M1025 3454h12v12h-12zm0 11h12v12h-12zm11 -22h12v12h-12zm0 33h12v12h-12zm11 -33h12v12h-12zm0 33h12v12h-12zm0 22h12v12h-12zm0 11h12v12h-12zm0 11h12v12h-12zm0 33h12v12h-12zm0 22h12v12h-12zm11 -143h12v12h-12zm0 44h12v12h-12zm0 11h12v12h-12zm0 44h12v12h-12zm0 11h12v12h-12zm0 33h12v12h-12zm11 -88h12v12h-12zm0 44h12v12h-12zm0 11h12v12h-12zm0 33h12v12h-12zm11 -143h12v12h-12zm0 55h12v12h-12zm0 44h12v12h-12zm0 44h12v12h-12zm11 -143h12v12h-12zm0 66h12v12h-12zm0 11h12v12h-12zm0 11h12v12h-12zm0 55h12v12h-12zm11 -143h12v12h-12zm0 143h12v12h-12zm11 -143h12v12h-12zm0 132h12v12h-12zm11 -132h12v12h-12zm0 132h12v12h-12zm11 -132h12v12h-12zm0 11h12v12h-12zm0 121h12v12h-12zm11 -121h12v12h-12zm0 11h12v12h-12zm0 99h12v12h-12zm11 -99h12v12h-12zm0 11h12v12h-12zm0 77h12v12h-12zm0 11h12v12h-12z" fill="#785FC8"/><path d="M1025 3476h12v12h-12zm11 11h12v12h-12zm11 110h12v12h-12zm11 -176h12v12h-12zm22 -11h12v12h-12zm11 0h12v12h-12zm0 176h12v12h-12zm11 -176h12v12h-12zm11 0h12v12h-12zm11 0h12v12h-12zm11 165h12v12h-12zm11 -154h12v12h-12zm0 154h12v12h-12zm11 -154h12v12h-12z" fill="#7D64CD"/><path d="M1025 3520h12v12h-12zm0 11h12v12h-12zm0 55h12v12h-12zm11 -66h12v12h-12zm0 11h12v12h-12zm0 22h12v12h-12zm0 22h12v12h-12zm11 -44h12v12h-12zm0 55h12v12h-12zm22 0h12v12h-12zm11 0h12v12h-12zm44 -11h12v12h-12z" fill="#7D64C8"/><path d="M1025 3597h12v12h-12zm11 -33h12v12h-12zm0 22h12v12h-12zm0 11h12v12h-12zm11 -165h12v12h-12zm0 55h12v12h-12zm0 55h12v12h-12zm11 44h12v12h-12zm11 -165h12v12h-12zm11 0h12v12h-12zm11 0h12v12h-12zm11 0h12v12h-12zm11 0h12v12h-12zm0 154h12v12h-12zm11 -154h12v12h-12zm11 0h12v12h-12zm11 11h12v12h-12zm0 132h12v12h-12zm11 -132h12v12h-12zm0 11h12v12h-12zm0 121h12v12h-12z" fill="#7864C8"/><path d="M1036 3454h12v12h-12zm0 11h12v12h-12zm11 -11h12v12h-12zm0 11h12v12h-12zm11 -11h12v12h-12zm0 44h12v12h-12zm0 11h12v12h-12zm11 -66h12v12h-12zm0 11h12v12h-12zm0 11h12v12h-12zm0 33h12v12h-12zm0 11h12v12h-12zm0 11h12v12h-12zm11 -77h12v12h-12zm0 11h12v12h-12zm0 11h12v12h-12zm0 77h12v12h-12zm0 11h12v12h-12zm0 11h12v12h-12zm11 -110h12v12h-12zm0 11h12v12h-12zm0 77h12v12h-12zm0 11h12v12h-12zm0 11h12v12h-12zm11 -110h12v12h-12zm0 11h12v12h-12zm0 11h12v12h-12zm0 11h12v12h-12zm0 66h12v12h-12zm11 -99h12v12h-12zm0 11h12v12h-12zm0 11h12v12h-12zm0 11h12v12h-12zm0 11h12v12h-12zm0 11h12v12h-12zm0 11h12v12h-12zm0 11h12v12h-12zm0 11h12v12h-12zm11 -88h12v12h-12zm0 11h12v12h-12zm0 11h12v12h-12zm0 11h12v12h-12zm0 11h12v12h-12zm0 11h12v12h-12zm0 11h12v12h-12zm0 11h12v12h-12zm0 11h12v12h-12zm11 -66h12v12h-12zm0 11h12v12h-12zm0 11h12v12h-12zm0 11h12v12h-12zm0 11h12v12h-12zm0 11h12v12h-12zm0 11h12v12h-12zm11 -55h12v12h-12zm0 11h12v12h-12zm0 11h12v12h-12zm0 11h12v12h-12zm0 11h12v12h-12zm11 -33h12v12h-12z" fill="#735AC8"/><path d="M1047 3564h12v12h-12zm11 -121h12v12h-12zm0 22h12v12h-12zm0 55h12v12h-12zm0 33h12v12h-12zm0 11h12v12h-12zm11 -132h12v12h-12zm0 44h12v12h-12zm0 77h12v12h-12zm0 11h12v12h-12zm11 -88h12v12h-12zm0 22h12v12h-12zm0 11h12v12h-12zm0 11h12v12h-12zm11 -77h12v12h-12zm0 33h12v12h-12zm0 11h12v12h-12zm0 44h12v12h-12zm11 -88h12v12h-12zm0 55h12v12h-12zm0 11h12v12h-12zm0 11h12v12h-12zm0 11h12v12h-12zm0 11h12v12h-12zm0 22h12v12h-12zm11 -121h12v12h-12zm0 110h12v12h-12zm11 -110h12v12h-12zm0 110h12v12h-12zm11 -99h12v12h-12zm0 11h12v12h-12zm0 88h12v12h-12zm11 -88h12v12h-12zm0 11h12v12h-12zm0 66h12v12h-12zm11 -66h12v12h-12zm0 11h12v12h-12zm0 22h12v12h-12zm0 11h12v12h-12zm0 11h12v12h-12z" fill="#735FC8"/><path d="M1047 3663h12v12h-12zm11 0h12v12h-12zm11 -33h12v12h-12zm0 11h12v12h-12zm0 11h12v12h-12z" fill="#9B87D2"/><path d="M1058 3608h12v12h-12zm22 -220h12v12h-12zm22 209h12v12h-12zm11 -220h12v12h-12zm11 0h12v12h-12zm11 0h12v12h-12zm11 0h12v12h-12zm11 0h12v12h-12z" fill="#876ECD"/><path d="M1091 3608h12v12h-12zm44 0h12v12h-12z" fill="#8C7DD2"/><path d="M1135 3663h12v12h-12zm0 11h12v12h-12z" fill="#AF9BDC"/><path d="M1146 3355h12v12h-12zm11 0h12v12h-12z" fill="#8C73D2"/></g></g></g>
<g clip-path="url(#cpD)"><g filter="url(#bl)"><g transform="scale(0.5)"><path d="M1375 3219h12v12h-12zm0 11h12v12h-12zm0 11h12v12h-12zm0 11h12v12h-12zm0 11h12v12h-12zm0 11h12v12h-12zm0 11h12v12h-12zm11 -66h12v12h-12zm0 55h12v12h-12zm0 11h12v12h-12zm11 0h12v12h-12zm11 0h12v12h-12zm0 11h12v12h-12zm11 -11h12v12h-12zm0 11h12v12h-12zm11 -11h12v12h-12zm0 11h12v12h-12zm11 -77h12v12h-12zm0 55h12v12h-12zm0 11h12v12h-12zm0 11h12v12h-12zm0 11h12v12h-12zm0 11h12v12h-12zm11 -99h12v12h-12zm0 11h12v12h-12zm0 11h12v12h-12zm0 11h12v12h-12zm0 11h12v12h-12zm0 11h12v12h-12zm0 11h12v12h-12zm0 11h12v12h-12zm0 11h12v12h-12zm0 11h12v12h-12zm0 11h12v12h-12zm12 -110h12v12h-12zm0 11h12v12h-12zm0 11h12v12h-12zm0 11h12v12h-12zm0 11h12v12h-12zm0 11h12v12h-12zm0 11h12v12h-12zm0 11h12v12h-12zm0 11h12v12h-12zm0 11h12v12h-12zm0 11h12v12h-12zm11 -110h12v12h-12zm0 11h12v12h-12zm0 11h12v12h-12zm0 11h12v12h-12zm0 11h12v12h-12zm0 11h12v12h-12zm0 11h12v12h-12zm0 11h12v12h-12zm0 11h12v12h-12zm0 11h12v12h-12zm11 -99h12v12h-12zm0 11h12v12h-12zm0 11h12v12h-12zm0 11h12v12h-12zm0 11h12v12h-12zm0 11h12v12h-12zm0 11h12v12h-12zm0 11h12v12h-12zm11 -77h12v12h-12zm0 11h12v12h-12zm0 11h12v12h-12zm0 11h12v12h-12zm0 11h12v12h-12zm0 11h12v12h-12zm0 11h12v12h-12zm11 -66h12v12h-12zm0 11h12v12h-12zm0 11h12v12h-12zm0 11h12v12h-12zm0 11h12v12h-12zm0 11h12v12h-12zm0 11h12v12h-12zm11 -55h12v12h-12zm0 11h12v12h-12zm0 11h12v12h-12zm0 11h12v12h-12zm0 11h12v12h-12zm11 -33h12v12h-12zm0 11h12v12h-12zm0 11h12v12h-12z" fill="#8269C8"/><path d="M1375 3296h12v12h-12zm11 0h12v12h-12zm11 0h12v12h-12zm33 11h12v12h-12zm45 22h12v12h-12zm11 -22h12v12h-12zm0 11h12v12h-12zm11 -22h12v12h-12zm0 11h12v12h-12zm11 -11h12v12h-12zm11 -77h12v12h-12zm0 66h12v12h-12zm0 11h12v12h-12zm11 -77h12v12h-12zm0 11h12v12h-12zm0 44h12v12h-12zm0 11h12v12h-12zm0 11h12v12h-12zm11 -77h12v12h-12zm0 11h12v12h-12zm0 11h12v12h-12zm0 11h12v12h-12zm0 11h12v12h-12zm0 11h12v12h-12zm0 11h12v12h-12zm11 -66h12v12h-12zm0 11h12v12h-12zm0 11h12v12h-12zm0 11h12v12h-12zm0 11h12v12h-12zm0 11h12v12h-12z" fill="#826EC8"/><path d="M1375 3307h12v12h-12zm11 0h12v12h-12zm11 0h12v12h-12zm11 0h12v12h-12zm0 11h12v12h-12zm11 -11h12v12h-12zm0 11h12v12h-12zm11 0h12v12h-12zm11 11h12v12h-12zm23 11h12v12h-12zm11 0h12v12h-12zm11 -11h12v12h-12zm11 -11h12v12h-12zm0 11h12v12h-12zm11 -22h12v12h-12zm0 11h12v12h-12zm11 -11h12v12h-12zm0 11h12v12h-12zm11 -11h12v12h-12zm11 -11h12v12h-12zm0 11h12v12h-12zm11 -22h12v12h-12zm0 11h12v12h-12z" fill="#876EC8"/><path d="M1375 3318h12v12h-12zm11 0h12v12h-12zm11 0h12v12h-12zm11 11h12v12h-12zm11 0h12v12h-12zm11 0h12v12h-12zm56 11h12v12h-12zm22 -11h12v12h-12zm11 0h12v12h-12zm11 -11h12v12h-12zm11 0h12v12h-12zm11 -11h12v12h-12z" fill="#8773C8"/><path d="M1375 3329h12v12h-12zm11 0h12v12h-12zm11 0h12v12h-12zm55 11h12v12h-12zm45 0h12v12h-12zm55 -22h12v12h-12z" fill="#8C73C8"/><path d="M1375 3340h12v12h-12zm11 0h12v12h-12zm11 0h12v12h-12zm11 0h12v12h-12zm11 0h12v12h-12zm0 11h12v12h-12zm11 -11h12v12h-12zm0 11h12v12h-12zm11 -11h12v12h-12zm0 11h12v12h-12zm11 0h12v12h-12zm12 0h12v12h-12zm11 0h12v12h-12zm33 -11h12v12h-12zm11 0h12v12h-12zm11 -11h12v12h-12zm11 0h12v12h-12zm11 0h12v12h-12z" fill="#8C73CD"/><path d="M1375 3351h12v12h-12zm0 11h12v12h-12zm11 -11h12v12h-12zm0 11h12v12h-12zm11 -11h12v12h-12zm11 0h12v12h-12zm78 0h12v12h-12zm11 0h12v12h-12zm11 0h12v12h-12zm22 -11h12v12h-12zm11 0h12v12h-12zm11 0h12v12h-12z" fill="#8C78CD"/><path d="M1375 3373h12v12h-12zm0 12h12v12h-12zm11 -12h12v12h-12zm11 -11h12v12h-12zm0 11h12v12h-12zm11 -11h12v12h-12zm11 0h12v12h-12zm11 0h12v12h-12zm11 0h12v12h-12zm45 0h12v12h-12zm33 -11h12v12h-12zm11 0h12v12h-12zm11 0h12v12h-12zm11 0h12v12h-12z" fill="#9178CD"/><path d="M1375 3396h12v12h-12zm0 11h12v12h-12zm0 11h12v12h-12zm11 -33h12v12h-12zm0 11h12v12h-12zm11 -11h12v12h-12zm11 -12h12v12h-12zm11 0h12v12h-12zm33 -11h12v12h-12zm12 0h12v12h-12zm11 0h12v12h-12zm22 0h12v12h-12zm11 0h12v12h-12zm11 0h12v12h-12zm11 0h12v12h-12zm11 0h12v12h-12zm11 0h12v12h-12z" fill="#917DCD"/><path d="M1375 3429h12v12h-12zm0 11h12v12h-12zm0 11h12v12h-12zm0 11h12v12h-12zm0 11h12v12h-12zm11 -66h12v12h-12zm0 11h12v12h-12zm0 11h12v12h-12zm11 -33h12v12h-12zm0 11h12v12h-12zm11 -22h12v12h-12zm0 11h12v12h-12zm67 -23h12v12h-12zm11 0h12v12h-12zm11 0h12v12h-12z" fill="#967DCD"/><path d="M1386 3230h12v12h-12zm0 11h12v12h-12zm0 11h12v12h-12zm0 11h12v12h-12zm11 -44h12v12h-12zm0 11h12v12h-12zm0 11h12v12h-12zm0 11h12v12h-12zm0 11h12v12h-12zm0 11h12v12h-12zm11 -55h12v12h-12zm0 11h12v12h-12zm0 11h12v12h-12zm0 11h12v12h-12zm0 11h12v12h-12zm0 11h12v12h-12zm11 -55h12v12h-12zm0 11h12v12h-12zm0 11h12v12h-12zm0 11h12v12h-12zm0 11h12v12h-12zm0 11h12v12h-12zm11 -55h12v12h-12zm0 11h12v12h-12zm0 11h12v12h-12zm0 11h12v12h-12zm0 11h12v12h-12zm0 11h12v12h-12zm11 -44h12v12h-12zm0 11h12v12h-12zm0 11h12v12h-12zm0 11h12v12h-12z" fill="#7D69C8"/><path d="M1386 3440h12v12h-12zm0 11h12v12h-12zm0 11h12v12h-12zm0 11h12v12h-12zm11 -55h12v12h-12zm0 11h12v12h-12zm0 11h12v12h-12zm0 11h12v12h-12zm11 -44h12v12h-12zm0 11h12v12h-12zm11 -33h12v12h-12zm0 11h12v12h-12zm0 11h12v12h-12zm11 -34h12v12h-12zm0 12h12v12h-12zm0 11h12v12h-12zm0 11h12v12h-12zm11 -34h12v12h-12zm23 0h12v12h-12zm0 12h12v12h-12zm11 0h12v12h-12zm33 -12h12v12h-12z" fill="#9682CD"/><path d="M1397 3462h12v12h-12zm0 11h12v12h-12zm11 -44h12v12h-12zm0 11h12v12h-12zm0 11h12v12h-12zm0 11h12v12h-12zm0 11h12v12h-12zm11 -55h12v12h-12zm0 11h12v12h-12zm0 44h12v12h-12zm67 -88h12v12h-12zm11 0h12v12h-12zm22 -12h12v12h-12zm11 0h12v12h-12zm11 0h12v12h-12zm11 0h12v12h-12zm0 12h12v12h-12z" fill="#9682D2"/><path d="M1419 3440h12v12h-12zm0 11h12v12h-12zm0 11h12v12h-12zm11 -44h12v12h-12zm0 11h12v12h-12zm0 11h12v12h-12zm0 11h12v12h-12zm0 11h12v12h-12zm0 11h12v12h-12zm11 -66h12v12h-12zm0 11h12v12h-12zm0 44h12v12h-12zm0 11h12v12h-12zm11 -66h12v12h-12zm0 66h12v12h-12zm12 -77h12v12h-12zm0 11h12v12h-12zm11 -11h12v12h-12zm11 0h12v12h-12zm22 -11h12v12h-12zm11 0h12v12h-12zm11 0h12v12h-12zm11 0h12v12h-12zm11 11h12v12h-12zm0 77h12v12h-12z" fill="#9B82D2"/><path d="M1441 3385h12v12h-12zm0 11h12v12h-12zm11 -23h12v12h-12zm0 12h12v12h-12zm0 11h12v12h-12z" fill="#9B82CD"/><path d="M1441 3429h12v12h-12zm0 11h12v12h-12zm0 11h12v12h-12zm11 -33h12v12h-12zm0 11h12v12h-12zm0 11h12v12h-12zm0 11h12v12h-12zm0 11h12v12h-12zm12 -44h12v12h-12zm0 11h12v12h-12zm0 11h12v12h-12zm0 11h12v12h-12zm0 11h12v12h-12zm0 11h12v12h-12zm11 -66h12v12h-12zm0 11h12v12h-12zm0 11h12v12h-12zm0 11h12v12h-12zm0 11h12v12h-12zm0 11h12v12h-12zm0 11h12v12h-12zm11 -66h12v12h-12zm0 11h12v12h-12zm0 11h12v12h-12zm0 11h12v12h-12zm0 11h12v12h-12zm0 11h12v12h-12zm0 11h12v12h-12zm11 -77h12v12h-12zm0 11h12v12h-12zm0 11h12v12h-12zm0 11h12v12h-12zm0 11h12v12h-12zm0 11h12v12h-12zm0 11h12v12h-12zm0 11h12v12h-12zm11 -77h12v12h-12zm0 11h12v12h-12zm0 11h12v12h-12zm0 11h12v12h-12zm0 11h12v12h-12zm0 11h12v12h-12zm0 11h12v12h-12zm0 11h12v12h-12zm11 -77h12v12h-12zm0 11h12v12h-12zm0 11h12v12h-12zm0 11h12v12h-12zm0 11h12v12h-12zm0 11h12v12h-12zm0 11h12v12h-12zm0 11h12v12h-12zm11 -77h12v12h-12zm0 11h12v12h-12zm0 11h12v12h-12zm0 11h12v12h-12zm0 11h12v12h-12zm0 11h12v12h-12zm0 11h12v12h-12zm0 11h12v12h-12zm11 -77h12v12h-12zm0 11h12v12h-12zm0 11h12v12h-12zm0 11h12v12h-12zm0 11h12v12h-12zm0 11h12v12h-12zm0 11h12v12h-12zm0 11h12v12h-12zm11 -66h12v12h-12zm0 11h12v12h-12zm0 11h12v12h-12zm0 11h12v12h-12zm0 11h12v12h-12zm0 11h12v12h-12z" fill="#9B87D2"/></g></g></g>
<path d="M464.1,1346.5L467,1345.6L469.5,1345.9L472.5,1350.7L480.4,1354.4L488.3,1356.8L497.4,1361L503.4,1363.4L494.3,1364.6L489.5,1363.6L482.2,1358.8L473.2,1354.6L467.1,1351.9L464,1348.3Z" fill="#EE3C24" stroke="#EE3C24" stroke-width="1.2" stroke-linejoin="round"/>
<path d="M514.3,1365.3L519,1366.6M521,1367.2L531.5,1370" stroke="#E84A28" stroke-width="2.4" stroke-linecap="round"/>
<path d="M532.4,1368L536,1367.4L539.2,1365.8L540.4,1367.5L539.8,1371.2L536,1372.6L532.6,1372.2Z" fill="#1C0C96" stroke="#1C0C96" stroke-width="1" stroke-linejoin="round"/>
<g transform="scale(0.5)" stroke-width="4.6" stroke-linecap="round" fill="none"><path d="M679 3058h0m12 92h0m2 3h0m1 -76h0m0 67h0m6 -47h0m0 23h0m2 -83h0m0 16h0m3 34h0m2 -9h0m6 61h0m1 -24h0m6 2h0m1 -1h0m9 23h0m1 0h0m1 96h0m1 -4h0m1 -165h0m1 80h0m2 50h0m1 -66h0m2 -9h0m1 158h0m2 -134h0m0 25h0m1 -126h0m1 34h0m0 176h0m2 -218h0m0 41h0m0 83h0m0 51h0m3 -54h0m1 -61h0m1 60h0m0 76h0m1 -173h0m1 41h0m1 10h0m0 73h0m3 64h0m0 15h0m1 -136h0m3 111h0m1 -87h0m1 -108h0m1 191h0m2 -193h0m1 -1h0m1 102h0m2 -74h0m0 147h0m0 48h0m1 -74h0m0 41h0m1 -149h0m3 56h0m1 -66h0m0 60h0m2 77h0m3 -49h0m0 55h0m2 -25h0m1 -147h0m1 125h0m2 49h0m5 -1h0m1 -13h0m0 49h0m1 -136h0m3 32h0m3 35h0m3 39h0m1 49h0m1 -164h0m0 2h0m1 101h0m0 16h0m3 -163h0m0 10h0m1 26h0m0 77h0m1 -115h0m0 207h0m2 -104h0m1 -73h0m0 16h0m0 142h0m3 -129h0m2 -46h0m0 121h0m1 45h0m2 -89h0m1 -109h0m0 11h0m0 64h0m0 49h0m2 45h0m1 11h0m1 -172h0m0 140h0m2 -68h0m0 54h0m2 65h0m3 -100h0m1 -63h0m0 48h0m4 87h0m3 -109h0m1 77h0m2 -120h0m1 15h0m0 115h0m1 -84h0m1 -7h0m1 -61h0m0 51h0m0 69h0m0 71h0m1 -102h0m0 105h0m2 -9h0m3 -18h0m3 -12h0m0 44h0m2 -3h0m1 -78h0m0 39h0m4 49h0m3 -225h0m0 119h0m1 49h0m1 -105h0m0 17h0m0 124h0m4 -22h0m1 2h0m2 -153h0m1 83h0m0 69h0m3 19h0m1 -144h0m0 68h0m2 -126h0m1 165h0m1 -191h0m0 191h0m1 -100h0m1 -12h0m0 19h0m1 -49h0m0 18h0m2 -4h0m1 69h0m0 65h0m1 -111h0m1 74h0m2 -127h0m2 62h0m2 -80h0m3 61h0m0 134h0m2 -119h0m2 -14h0m1 56h0m10 -102h0m1 65h0m2 -31h0m2 -56h0m1 78h0m3 -72h0m1 18h0m0 69h0m1 -98h0m1 92h0m2 -77h0m1 89h0m1 -119h0m1 103h0m2 -83h0m1 -3h0m1 87h0m2 -40h0m1 -35h0m2 76h0m5 -97h0m7 47h0m2 9h0m4 -48h0m1 -1h0m0 82h0m1 7h0m2 -61h0m8 -29h0m0 9h0m7 42h0m2 22h0m1 -51h0m5 0h0m1 1h0m4 -4h0m2 43h0m3 -66h0m2 -2h0m3 56h0m2 9h0m0 6h0m6 -8h0m2 -38h0m1 -14h0m3 42h0m2 -23h0m7 -23h0m0 51h0m0 17h0m6 -58h0m1 29h0m3 -14h0m2 -27h0m0 69h0m3 -45h0m1 16h0m2 -44h0m0 7h0m2 -1h0m2 13h0m4 64h0m5 -31h0m4 -7h0m2 -17h0m0 17h0m11 12h0m3 28h0m17 23h0m26 9h0m1 -13h0" stroke="#E4543C"/><path d="M674 3064h0m7 -2h0m0 0h0m3 15h0m2 -17h0m4 58h0m1 -61h0m3 29h0m1 18h0m4 -51h0m4 55h0m1 -43h0m1 44h0m0 23h0m3 -62h0m0 22h0m0 33h0m2 -37h0m6 34h0m8 -45h0m1 -8h0m1 -32h0m0 18h0m3 37h0m8 18h0m1 -20h0m1 -34h0m12 35h0m0 19h0m5 -72h0m6 28h0m2 -14h0m3 47h0m1 -47h0m3 -12h0m5 -7h0m0 65h0m2 13h0m1 -61h0m4 -10h0m2 -5h0m0 71h0m6 -49h0m1 71h0m2 -61h0m0 71h0m6 -75h0m1 -4h0m8 25h0m4 84h0m2 -44h0m16 0h0m5 -31h0m0 27h0m2 1h0m2 30h0m6 -17h0m13 18h0m178 -90h0m19 -4h0m6 -19h0m0 24h0m2 5h0m13 0h0m9 -8h0" stroke="#F0A884"/><path d="M699 3171h0m6 -39h0m2 46h0m2 -12h0m3 31h0m4 2h0m3 1h0m0 48h0m3 -65h0m1 56h0m3 -204h0m0 163h0m2 -35h0m0 68h0m4 -100h0m1 27h0m0 53h0m0 14h0m0 27h0m3 -95h0m1 37h0m3 -37h0m1 40h0m0 24h0m1 -78h0m1 -15h0m0 30h0m1 117h0m4 -144h0m0 55h0m0 13h0m3 -52h0m1 37h0m1 -3h0m2 48h0m1 -62h0m0 22h0m1 -5h0m1 -39h0m1 48h0m3 -47h0m3 19h0m0 25h0m2 78h0m1 -84h0m2 -18h0m2 -12h0m6 12h0m4 4h0m22 17h0m1 -39h0m5 31h0m6 -32h0m0 18h0m5 -6h0m0 21h0m1 -5h0m10 4h0m43 -9h0m13 0h0m1 -1h0m203 -104h0" stroke="#F0A89C"/><path d="M848 3010h0m2 18h0m5 15h0m9 -37h0m3 5h0m0 16h0m1 30h0m2 -45h0m0 46h0m5 -11h0m2 -51h0m3 70h0m6 -14h0m1 -53h0m3 12h0m1 -21h0m3 60h0m2 8h0m2 -49h0m11 45h0m2 -18h0m8 0h0m3 19h0m1 -74h0m7 62h0m5 -51h0m1 -10h0m2 76h0m1 -79h0m1 51h0m1 20h0m1 -46h0m0 13h0m5 10h0m0 22h0m2 -43h0m2 -23h0m0 23h0m1 -6h0m3 4h0m5 -3h0m1 -20h0m1 11h0m0 35h0m2 -34h0m1 6h0m1 46h0m7 -53h0m2 -6h0m2 18h0m4 -11h0" stroke="#F06C54"/><path d="M716 3105h0m1 -30h0m336 -11h0m6 -25h0m1 21h0" stroke="#FC9C84"/><path d="M680 3116h0m8 38h0m5 -5h0m6 -116h0m3 113h0m1 -66h0m0 40h0m0 26h0m1 4h0m0 5h0m7 -44h0m0 18h0m2 -82h0m0 23h0m0 61h0m0 8h0m1 -4h0m1 -12h0m0 20h0m2 -86h0m1 15h0m0 41h0m0 35h0m1 -67h0m0 24h0m0 57h0m1 -93h0m0 125h0m1 -95h0m0 22h0m0 24h0m1 -111h0m0 105h0m1 -30h0m1 2h0m1 25h0m0 16h0m0 22h0m3 -138h0m0 97h0m1 4h0m2 -50h0m2 36h0m0 20h0m1 -78h0m2 140h0m1 -166h0m0 148h0m1 -73h0m0 16h0m3 -87h0m1 15h0m0 24h0m2 -13h0m0 30h0m1 -40h0m0 32h0m0 41h0m1 -31h0m1 68h0m1 -112h0m0 11h0m1 -31h0m0 79h0m0 17h0m1 -8h0m0 56h0m1 -81h0m0 17h0m1 -55h0m0 113h0m3 -103h0m1 -23h0m1 21h0m0 91h0m1 -105h0m1 84h0m0 59h0m1 -123h0m0 54h0m0 5h0m1 -99h0m1 5h0m0 40h0m1 -26h0m1 46h0m0 39h0m1 -51h0m1 -14h0m1 101h0m1 -16h0m1 -93h0m0 36h0m0 10h0m1 -62h0m0 123h0m0 2h0m1 -94h0m2 -34h0m0 10h0m1 18h0m0 19h0m0 35h0m1 14h0m2 -15h0m0 42h0m3 -134h0m0 14h0m2 -15h0m1 67h0m3 -8h0m0 15h0m0 1h0m2 32h0m0 26h0m1 -52h0m1 -23h0m1 -45h0m0 33h0m0 38h0m0 10h0m1 -44h0m0 61h0m2 -15h0m1 -17h0m0 14h0m2 -34h0m1 26h0m0 21h0m2 4h0m1 8h0m1 -52h0m0 61h0m2 -38h0m2 -32h0m0 66h0m1 -28h0m1 -43h0m2 27h0m1 40h0m2 -31h0m0 40h0m0 1h0m1 -73h0m0 7h0m0 31h0m2 -25h0m1 60h0m2 -25h0m1 34h0m2 -36h0m0 14h0m2 -28h0m1 -21h0m0 32h0m1 -28h0m1 11h0m0 32h0m2 -55h0m0 21h0m0 34h0m1 -45h0m0 10h0m4 -6h0m0 14h0m1 38h0m2 -21h0m0 1h0m0 31h0m4 -46h0m2 40h0m2 -5h0m1 -13h0m1 21h0m2 -11h0m8 8h0m3 -7h0m0 10h0m2 -8h0m2 -1h0m12 2h0m17 9h0m177 -126h0m13 25h0m3 1h0" stroke="#F0A890"/><path d="M678 3064h0m5 39h0m2 20h0m3 -67h0m1 39h0m0 30h0m2 5h0m1 -4h0m7 -6h0m9 17h0m1 16h0m2 23h0m0 12h0m1 -34h0m1 -15h0m1 46h0m6 -153h0m0 105h0m1 -36h0m0 32h0m1 -84h0m0 151h0m3 -90h0m1 -37h0m1 -15h0m3 111h0m2 -43h0m1 -15h0m4 -1h0m0 83h0m4 -138h0m0 27h0m1 22h0m1 -61h0m0 48h0m2 -55h0m0 18h0m4 -17h0m0 84h0m2 -49h0m3 67h0m1 -19h0m2 -1h0m0 3h0m0 1h0m0 41h0m2 -119h0m0 75h0m2 -70h0m0 75h0m1 62h0m4 -96h0m2 -47h0m5 132h0m2 -83h0m0 29h0m4 -47h0m1 29h0m1 5h0m1 -1h0m1 28h0m1 -24h0m0 24h0m4 -37h0m1 62h0m1 -9h0m1 -103h0m0 25h0m1 59h0m2 35h0m2 -80h0m0 33h0m2 -24h0m1 7h0m1 43h0m4 -18h0m3 -46h0m1 65h0m1 -39h0m0 34h0m1 -47h0m1 -12h0m2 50h0m1 -27h0m3 43h0m1 -10h0m1 -3h0m1 -6h0m3 44h0m3 -30h0m2 -57h0m0 52h0m2 -29h0m1 63h0m5 -18h0m3 -27h0m5 12h0m2 -1h0m1 20h0m12 5h0m15 1h0" stroke="#E4A890"/><path d="M667 3521h0m3 -25h0m14 -442h0m0 9h0m1 70h0m3 -3h0m6 -17h0m1 4h0m1 371h0m6 -353h0m2 -7h0m1 -31h0m3 44h0m3 54h0m2 316h0m1 -470h0m1 14h0m7 139h0m1 -101h0m1 -26h0m4 -23h0m2 197h0m0 224h0m3 -252h0m1 -124h0m1 410h0m1 -249h0m1 213h0m1 -383h0m3 150h0m3 -148h0m1 89h0m1 259h0m2 59h0m3 -304h0m5 22h0m1 -94h0m0 18h0m1 1h0m7 -33h0m2 17h0m1 -66h0m0 175h0m1 -142h0m3 94h0m1 -110h0m2 185h0m8 -19h0m1 -99h0m1 18h0m0 229h0m3 -334h0m0 153h0m2 71h0m3 -67h0m3 -103h0m0 91h0m1 -106h0m0 0h0m2 106h0m4 -39h0m5 2h0m3 -67h0m0 12h0m3 -45h0m0 128h0m2 18h0m3 -26h0m7 -36h0m0 101h0m1 -107h0m1 -83h0m0 189h0m2 -177h0m1 54h0m1 18h0m1 87h0m4 -183h0m0 42h0m0 148h0m0 22h0m12 -202h0m5 51h0m0 45h0m3 -100h0m0 30h0m1 62h0m1 -34h0m2 -16h0m1 87h0m5 -100h0m0 108h0m3 67h0m7 -163h0m1 101h0m1 -35h0m1 84h0m4 -31h0m1 4h0m1 -64h0m3 1h0m1 -145h0m0 3h0m2 191h0m4 -208h0m1 147h0m0 18h0m1 -136h0m0 102h0m2 -123h0m0 35h0m1 92h0m7 -43h0m4 -91h0m0 124h0m2 -82h0m3 42h0m2 -68h0m1 91h0m7 -83h0m0 19h0m5 -9h0m0 76h0m7 -94h0m8 75h0m11 -11h0m11 -49h0m2 48h0m19 -66h0m4 -17h0m29 86h0m5 -67h0m8 11h0m8 52h0m1 -63h0m1 3h0m20 59h0m2 14h0m35 8h0m10 4h0m6 12h0" stroke="#F0E4D8"/><path d="M863 3089h0m23 5h0m15 -1h0m3 -5h0m2 -15h0m10 38h0m7 -36h0m51 2h0m14 -34h0" stroke="#E4786C"/><path d="M713 3069h0m97 -21h0m0 2h0m1 1h0m6 9h0m10 9h0m1 -8h0m0 14h0m22 24h0m47 59h0m109 -148h0m5 -6h0m3 -6h0m0 36h0m9 22h0m0 19h0m1 -30h0m1 17h0m1 -71h0m0 58h0m1 -30h0m5 29h0m1 -40h0m9 24h0m5 -27h0m3 35h0m1 -25h0m4 12h0m6 44h0m6 -22h0" stroke="#F09C78"/><path d="M612 3377h0m15 74h0m19 -103h0m3 10h0m1 109h0m4 -35h0m4 -22h0m2 -21h0m1 -83h0m1 136h0m3 3h0m2 -4h0m6 -360h0m1 6h0m3 382h0m3 -60h0m1 -296h0m0 329h0m2 -371h0m1 7h0m1 56h0m0 285h0m1 -336h0m1 28h0m0 181h0m1 -195h0m8 -1h0m1 325h0m1 -291h0m3 -8h0m3 -66h0m1 26h0m1 -19h0m1 37h0m1 -13h0m1 -24h0m0 36h0m3 -32h0m0 362h0m2 40h0m1 -366h0m1 360h0m3 -388h0m1 20h0m0 39h0m2 -87h0m0 395h0m2 -4h0m1 -379h0m3 9h0m0 385h0m1 -17h0m5 -403h0m1 45h0m1 6h0m5 -45h0m1 29h0m9 27h0m3 281h0m3 -297h0m2 -25h0m5 6h0m1 -10h0m1 13h0m0 43h0m14 -47h0m1 -16h0m1 409h0m5 -402h0m2 -16h0m1 378h0m7 -343h0m9 -20h0m0 27h0m9 -6h0m0 3h0m1 -3h0m6 1h0m7 39h0m0 296h0m2 -323h0m2 1h0m6 343h0m5 -313h0m1 10h0m3 -8h0m4 7h0m0 314h0m1 -314h0m2 17h0m3 11h0m5 313h0m3 -308h0m4 286h0m9 -2h0m9 -277h0m3 -1h0m129 -98h0m8 3h0m4 -4h0m6 -16h0m5 -9h0m0 25h0m0 5h0m1 -13h0m1 -8h0m1 16h0m1 -22h0m0 1h0m2 2h0m0 10h0m1 -16h0m1 5h0m2 16h0m2 -32h0m0 24h0m3 -21h0m0 4h0m0 30h0m1 -21h0m6 -20h0m0 7h0m2 19h0m1 -26h0m1 38h0m1 -33h0m5 43h0m3 -8h0m1 -11h0m1 22h0m3 -19h0m3 9h0" stroke="#F09C84"/><path d="M831 3032h0m8 24h0m7 -19h0m14 27h0m4 7h0m7 32h0m0 4h0m1 15h0m7 -3h0m1 -56h0m0 16h0m0 53h0m1 -14h0m0 21h0m0 6h0m3 -70h0m0 45h0m1 -11h0m1 -32h0m0 50h0m1 -57h0m6 41h0m1 19h0m2 6h0m2 -38h0m2 -13h0m0 16h0m6 -11h0m3 -17h0m0 15h0m3 -23h0m6 2h0m5 18h0m0 1h0m5 -7h0m3 -22h0m8 14h0m8 -8h0m0 13h0m5 -8h0m2 7h0m3 -15h0m7 8h0m11 -51h0m0 26h0m2 5h0m8 -69h0m0 47h0m5 -32h0m2 -5h0m0 24h0m1 3h0m1 10h0" stroke="#E47860"/><path d="M708 3190h0m3 5h0m2 -48h0m1 49h0m7 39h0m3 -27h0m1 -19h0m0 35h0m0 27h0m1 -49h0m0 29h0m0 7h0m2 11h0m1 -68h0m0 31h0m0 9h0m0 9h0m1 -83h0m1 40h0m1 24h0m1 32h0m0 6h0m1 -102h0m1 27h0m0 97h0m1 -74h0m2 -19h0m1 -10h0m1 87h0m3 10h0m1 0h0m3 -47h0m1 -60h0m1 32h0m0 10h0m2 -10h0m1 -30h0m0 24h0m0 46h0m2 -52h0m0 0h0m2 -6h0m0 44h0m0 14h0m1 -61h0m0 72h0m0 15h0m1 -78h0m1 34h0m3 -9h0m0 46h0m0 7h0m1 -39h0m1 -46h0m0 93h0m1 11h0m1 -140h0m0 34h0m0 114h0m1 -98h0m0 2h0m0 21h0m0 52h0m3 -72h0m1 30h0m2 -32h0m2 -10h0m2 22h0m3 -4h0m0 2h0m1 -49h0m2 14h0m0 34h0m1 8h0m1 -22h0m0 23h0m1 -35h0m7 11h0m2 5h0m14 6h0m1 -3h0m3 0h0m2 -1h0m2 -34h0m21 31h0m3 -11h0m13 -2h0m3 -1h0m29 2h0m62 -457h0m128 374h0m13 -25h0m0 9h0m5 -2h0" stroke="#F0B49C"/><path d="M700 3151h0m6 10h0m19 4h0m7 77h0m1 1h0m5 2h0m1 -4h0m1 -18h0m1 -23h0m1 -51h0m0 91h0m1 -74h0m1 41h0m2 -55h0m2 54h0m1 28h0m2 5h0m1 -16h0m2 47h0m1 -70h0m3 62h0m1 -23h0m1 43h0m1 2h0m1 -44h0m4 -8h0m1 -3h0m4 -52h0m1 100h0m4 -71h0m5 -41h0m2 33h0m5 -18h0m0 9h0m9 -13h0m12 16h0m28 -12h0m22 -15h0m0 8h0m9 0h0" stroke="#E4B49C"/><path d="M674 3080h0m7 32h0m3 11h0m2 -56h0m1 0h0m2 47h0m0 6h0m0 15h0m9 -89h0m16 20h0m8 9h0m0 12h0m3 4h0m11 -9h0m12 45h0m4 -15h0m1 -9h0m1 -69h0m6 71h0m2 -52h0m4 68h0m7 -35h0m10 -14h0m1 -37h0m7 46h0m0 52h0m8 -43h0m3 43h0m2 18h0m2 16h0m3 -50h0m14 -11h0m8 3h0m4 13h0m4 19h0m1 -5h0m5 -9h0m239 -67h0" stroke="#E49C90"/><path d="M852 3100h0" stroke="#D89C78"/><path d="M830 3249h0m13 -18h0m2 -27h0m1 0h0m2 17h0m2 6h0m1 13h0m2 -18h0m4 -5h0m3 -28h0m1 -3h0m1 40h0m1 -38h0m2 56h0m0 1h0m3 -15h0m4 -45h0m2 1h0m1 53h0m5 -46h0m1 14h0m2 24h0m0 2h0m2 -29h0m4 -13h0m0 16h0m6 4h0m196 -122h0m10 -9h0" stroke="#F0CCC0"/><path d="M879 3144h0" stroke="#D88460"/><path d="M1123 3099h0" stroke="#F0C0CC"/><path d="M676 3067h0m10 10h0m0 50h0m3 20h0m2 -77h0m8 25h0m1 28h0m1 -81h0m1 41h0m1 10h0m2 -49h0m5 38h0m1 -47h0m0 18h0m1 27h0m2 118h0m1 -145h0m2 67h0m3 -87h0m1 14h0m1 23h0m4 -29h0m3 37h0m0 52h0m3 -26h0m3 -38h0m7 -3h0m3 27h0m2 -16h0m1 -37h0m2 69h0m2 -43h0m2 31h0m1 -22h0m2 -2h0m4 -14h0m2 21h0m4 -18h0m3 60h0m6 -73h0m0 43h0m6 -40h0m1 79h0m1 -43h0m1 -27h0m1 -12h0m2 4h0m4 39h0m0 2h0m1 15h0m1 -16h0m2 -25h0m0 18h0m0 39h0m7 -28h0m1 -10h0m3 10h0m4 -11h0m0 63h0m1 -34h0m0 10h0m5 -23h0m0 64h0m3 -37h0m2 -10h0m2 -36h0m2 83h0m4 -57h0m1 25h0m26 18h0m0 4h0m202 -86h0m14 -2h0" stroke="#F09C90"/><path d="M854 3050h0m11 -16h0m1 8h0m1 -16h0m4 -8h0m0 16h0m2 9h0m4 -48h0m0 55h0m7 -36h0m1 -15h0m1 4h0m2 29h0m2 -36h0m10 14h0m2 16h0m2 -6h0m1 -5h0m1 -9h0m1 10h0m0 32h0m1 -61h0m1 18h0m0 12h0m4 -16h0m0 40h0m1 -23h0m3 -28h0m3 43h0m8 -8h0m1 -6h0m3 -25h0m0 12h0m13 -24h0m0 2h0m4 57h0m16 -28h0m9 -3h0m2 -5h0m3 -2h0m6 0h0" stroke="#E46C48"/><path d="M677 3072h0m138 -32h0m0 13h0m10 17h0m6 7h0m19 58h0m4 -4h0m8 20h0m167 -97h0m4 -43h0" stroke="#E49084"/><path d="M849 3071h0m12 37h0m1 -10h0m2 14h0m1 -9h0m1 4h0m1 7h0m2 21h0m2 -2h0m2 -38h0m0 4h0m1 46h0m2 -56h0m2 30h0m1 -9h0m2 45h0m4 -34h0m6 -26h0m4 49h0m1 -19h0m5 11h0m1 -51h0m0 50h0m0 8h0m2 -14h0m1 -17h0m1 21h0m1 -30h0m7 26h0m5 -28h0m15 -3h0m44 -31h0m8 -7h0m0 5h0m5 -6h0m0 1h0m1 -15h0m0 8h0" stroke="#E4846C"/><path d="M689 3143h0m11 20h0m13 -10h0m4 18h0m0 33h0m9 -56h0m9 -33h0m3 84h0m1 9h0m13 -6h0m2 -7h0m32 -22h0m4 -22h0m11 -10h0m11 6h0m12 36h0m7 -35h0m3 10h0m0 14h0m11 -18h0m14 11h0" stroke="#F0B490"/><path d="M845 3028h0m0 18h0m8 -31h0m6 7h0m0 20h0m4 -13h0m1 14h0m2 -28h0m0 12h0m3 7h0m1 -42h0m2 66h0m5 -36h0m3 -9h0m1 0h0m12 10h0m0 19h0m1 -21h0m1 -31h0m1 123h0m2 -119h0m0 23h0m5 -13h0m1 -1h0m1 25h0m3 24h0m7 -17h0m1 31h0m1 -24h0m2 18h0m2 -21h0m7 -6h0m0 10h0m1 -14h0m4 6h0m3 -52h0m5 2h0m2 12h0m7 2h0m0 24h0m5 -38h0m0 38h0m3 -17h0m3 -21h0m5 9h0m1 20h0m2 19h0m3 -22h0m3 0h0m3 -5h0m2 -17h0m0 24h0m0 10h0m5 15h0" stroke="#E46C54"/><path d="M675 3114h0m12 4h0m1 -62h0m0 7h0m5 11h0m4 -4h0m2 20h0m3 -33h0m2 -11h0m0 12h0m2 -12h0m0 14h0m3 -7h0m19 -20h0m0 86h0m2 -68h0m2 27h0m7 33h0m29 -59h0m11 -13h0m4 44h0m2 10h0m5 -64h0m0 73h0m10 -2h0m2 -21h0m7 59h0m4 -80h0m0 2h0m0 1h0m2 19h0m2 0h0m8 -4h0m5 28h0m16 29h0m2 -4h0m2 12h0m8 8h0m2 -8h0m13 22h0m5 1h0m7 -3h0m9 1h0m156 -116h0m7 -3h0m1 8h0m9 -27h0m2 40h0m10 -7h0m6 4h0" stroke="#E49C84"/><path d="M761 3247h0m0 34h0m8 -21h0m2 -28h0m2 -1h0m4 6h0m2 9h0m1 -17h0m0 38h0m0 9h0m1 -41h0m2 30h0m1 -50h0m0 6h0m1 18h0m1 -17h0m0 45h0m3 5h0m0 6h0m1 -18h0m1 3h0m2 1h0m3 -50h0m7 2h0m2 -13h0m1 6h0m1 -12h0m0 19h0m1 -18h0m5 59h0m2 -58h0m0 53h0m1 -37h0m4 46h0m4 -59h0m1 7h0m2 20h0m1 -31h0m4 11h0m12 -19h0m38 -8h0" stroke="#F0C0A8"/><path d="M718 3182h0m2 20h0m9 52h0m1 -3h0m3 6h0m2 22h0m2 -53h0m0 2h0m1 16h0m7 -16h0m6 14h0m3 5h0m4 -10h0m2 4h0m0 41h0m1 -62h0m5 21h0m2 43h0m1 -23h0m2 4h0m1 -33h0m0 3h0m1 -9h0m1 42h0m1 -46h0m1 54h0m3 4h0m7 -75h0m0 60h0m3 -21h0m11 -49h0m18 -3h0m0 53h0m1 -48h0m7 -1h0m14 -8h0m19 -14h0m14 -1h0m321 478h0" stroke="#F0B4A8"/><path d="M800 3090h0" stroke="#E4909C"/><path d="M819 3046h0m32 33h0m7 47h0m2 -14h0m7 25h0m3 -3h0m4 2h0m5 -51h0m3 65h0m11 -61h0m2 -11h0m11 37h0m4 -24h0m0 16h0m3 10h0m0 12h0m5 -34h0m29 -6h0m13 2h0m1 -3h0m5 -8h0m5 -7h0m6 -5h0m11 -17h0m3 15h0m5 -7h0m1 7h0m1 -70h0m0 58h0m1 -26h0m2 6h0m4 -21h0m0 16h0m5 -46h0m20 33h0" stroke="#F0846C"/><path d="M815 3040h0m11 25h0m28 8h0m11 61h0m1 -46h0m12 65h0m25 -2h0m85 -86h0m11 -61h0m4 47h0m4 -64h0m1 -5h0m3 14h0m0 46h0m1 -56h0m0 31h0m3 -28h0m5 32h0m2 -3h0m1 6h0m1 -6h0m3 -29h0m6 -5h0m2 31h0m16 -16h0" stroke="#F0906C"/><path d="M889 3162h0m8 -2h0m123 -128h0m0 6h0m6 0h0m4 12h0m2 -9h0m2 -9h0m3 -16h0m9 -6h0m3 -14h0m13 67h0" stroke="#E49C78"/><path d="M838 3026h0m2 7h0m1 -4h0m1 -1h0m1 19h0m5 -6h0m1 -18h0m6 11h0m5 -16h0m2 -6h0m9 -3h0m1 4h0m1 32h0m2 24h0m4 -6h0m2 -23h0m3 22h0m1 18h0m4 -48h0m0 92h0m3 8h0m4 -67h0m2 -4h0m1 14h0m12 -26h0m0 7h0m5 -23h0m7 12h0m6 9h0m4 -12h0m2 -62h0m3 38h0m4 39h0m1 -44h0m4 28h0m7 1h0m4 21h0m4 -77h0m2 -1h0m0 67h0m2 -2h0m0 0h0m0 3h0m0 1h0m1 -8h0m6 -60h0m3 46h0m4 -27h0m2 23h0m1 -35h0m2 -5h0m6 0h0" stroke="#E47854"/><path d="M822 3246h0m71 -42h0m204 -125h0" stroke="#F0D8B4"/><path d="M680 3114h0m18 -85h0m1 26h0m1 64h0m2 15h0m1 -11h0m4 -32h0m6 3h0m0 22h0m2 -73h0m1 37h0m4 43h0m1 -63h0m4 63h0m5 -73h0m5 34h0m7 -53h0m7 56h0m8 20h0m2 -56h0m3 27h0m5 11h0m7 12h0m1 23h0m7 -56h0m3 39h0m11 -59h0m1 37h0m0 53h0m3 -56h0m6 75h0m5 -40h0m3 -30h0m9 11h0m6 23h0m2 -13h0m4 -10h0m3 1h0m2 29h0m9 16h0m6 -4h0m2 5h0m1 7h0" stroke="#E4A884"/><path d="M878 3053h0m45 -62h0m3 13h0m20 -20h0m4 13h0m3 4h0m6 16h0" stroke="#F06054"/><path d="M842 3049h0m8 -26h0m14 -9h0m0 12h0m3 -19h0m6 6h0m9 38h0m1 -29h0m6 41h0m36 -12h0m5 6h0m4 -7h0m0 5h0m1 6h0m6 -13h0m8 13h0m4 -14h0m2 -35h0m1 37h0m6 -11h0m3 -26h0m5 -15h0m0 38h0m7 -42h0m0 37h0m1 -39h0m5 11h0m1 -8h0m3 -2h0" stroke="#F07854"/><path d="M856 3221h0m1 -19h0m2 -6h0m9 7h0m4 -1h0m0 21h0m2 -13h0m9 -7h0m6 11h0m205 -122h0m14 -9h0m1 16h0m1 -4h0m4 -1h0m2 3h0m1 3h0" stroke="#F0D8CC"/><path d="M898 2985h0m8 29h0m2 -29h0m18 23h0m6 -3h0m6 16h0m32 -25h0" stroke="#F06048"/><path d="M872 3207h0m11 25h0" stroke="#E4D8CC"/><path d="M888 3005h0m14 -2h0m9 12h0m3 -12h0m1 -6h0m7 2h0m5 7h0m1 18h0m1 5h0m2 -31h0m6 6h0" stroke="#E46048"/><path d="M842 3057h0m8 11h0m1 -12h0m28 23h0m4 64h0m7 -45h0m2 17h0m0 14h0m2 -71h0m2 63h0m0 11h0m1 -18h0m3 -56h0m12 50h0m4 -35h0m3 3h0m5 -9h0m1 -4h0m7 10h0m1 -9h0m0 7h0m1 -1h0m1 -9h0m0 23h0m2 -3h0m2 -12h0m1 -14h0m9 4h0m12 5h0m2 -2h0m9 -23h0m6 31h0m17 -43h0" stroke="#F07860"/><path d="M849 3234h0m4 -31h0m16 11h0m4 9h0m0 11h0m224 -147h0m17 3h0" stroke="#F0D8C0"/><path d="M812 3037h0m3 13h0m1 7h0m13 9h0m6 18h0m4 -4h0m2 1h0m0 3h0m6 1h0m1 2h0m2 12h0m8 24h0m6 11h0m8 20h0m25 5h0m110 -160h0m2 49h0m2 -18h0m0 25h0m1 -65h0m2 10h0m1 5h0m1 -3h0m0 27h0m1 36h0m2 -47h0m0 48h0m2 -74h0m0 19h0m2 -17h0m0 61h0m1 -64h0m0 24h0m4 38h0m2 -56h0m2 28h0m6 39h0m5 -35h0m3 7h0m2 0h0m8 -26h0" stroke="#F09078"/><path d="M833 3024h0m0 12h0m13 28h0m5 1h0m1 4h0m1 4h0m7 5h0m15 1h0m4 -8h0m4 21h0m5 60h0m6 -36h0m2 -9h0m3 -13h0m3 38h0m6 2h0m2 -36h0m0 16h0m0 2h0m3 -13h0m2 -21h0m4 26h0m3 -23h0m1 23h0m1 -12h0m1 -3h0m2 -10h0m56 -34h0m0 12h0m11 -71h0m2 2h0" stroke="#E48460"/><path d="M850 3220h0m7 14h0m22 -16h0m8 -16h0" stroke="#FCD8C0"/><path d="M790 3242h0m5 -15h0m21 1h0m0 19h0m3 -31h0m3 28h0m2 9h0m14 -21h0" stroke="#F0CCA8"/><path d="M835 3058h0m18 25h0m5 -2h0m4 14h0m78 -3h0m55 -39h0m5 -14h0" stroke="#E49060"/><path d="M935 3064h0" stroke="#FC7854"/><path d="M786 3225h0m11 41h0m15 -12h0" stroke="#F0B4B4"/><path d="M877 3020h0m71 28h0" stroke="#FC6C54"/><path d="M849 3035h0m28 -36h0m16 -9h0m4 60h0m53 -52h0m4 15h0m9 -22h0m5 -11h0" stroke="#E47848"/><path d="M901 3150h0" stroke="#E49054"/><path d="M822 3047h0m24 28h0m41 12h0m118 -30h0m4 -17h0m13 -49h0" stroke="#F08478"/><path d="M852 3014h0m3 43h0m8 -52h0m12 7h0m6 30h0m4 -27h0m6 -5h0m7 -24h0m1 5h0m4 -12h0m3 16h0m3 -2h0m5 -8h0m0 26h0m5 -9h0m2 11h0m7 -20h0m3 0h0m1 21h0m5 4h0m0 9h0m1 13h0m4 -10h0m1 -18h0m3 8h0m1 -1h0m5 -26h0m1 38h0m2 6h0" stroke="#F06C48"/><path d="M850 3215h0m5 10h0m21 -5h0m1 2h0m17 -21h0m211 -108h0m96 570h0" stroke="#F0CCCC"/><path d="M826 3047h0m22 16h0m25 76h0m2 3h0m11 -34h0m14 28h0m10 -30h0m6 -15h0m59 -13h0" stroke="#F0786C"/><path d="M806 3044h0m7 13h0m11 1h0m9 7h0m13 18h0m4 27h0m1 -20h0m7 2h0m0 9h0m1 -7h0m4 49h0m12 11h0m1 1h0m25 -1h0m106 -155h0m2 20h0m1 7h0m6 3h0m2 -43h0m3 75h0m3 -35h0m0 19h0m9 -48h0m1 7h0m8 -3h0m4 8h0m15 -2h0" stroke="#E49078"/><path d="M781 3244h0m0 1h0m1 35h0m1 -32h0m1 -9h0m1 -8h0m2 -8h0m0 30h0m8 20h0m2 -1h0m1 -35h0m1 -15h0m1 8h0m0 14h0m2 1h0m1 -11h0m2 5h0m1 -5h0m1 16h0m1 17h0m1 -44h0m1 34h0m1 -22h0m0 14h0m1 18h0m1 -50h0m5 39h0m1 -9h0m0 19h0m7 -34h0m0 3h0m0 26h0m2 -17h0m1 -24h0m0 41h0m1 -50h0m0 5h0m6 25h0m2 5h0m1 -19h0m1 23h0m1 -53h0m2 41h0m1 0h0m1 -51h0m2 6h0m6 -11h0m2 67h0m35 -67h0" stroke="#F0C0B4"/><path d="M736 3247h0m20 -13h0m5 15h0m3 -4h0m4 3h0" stroke="#E4C09C"/><path d="M830 3059h0m24 48h0m6 13h0m5 -28h0m135 -94h0m5 37h0m2 -33h0m4 -16h0m9 66h0m19 -63h0" stroke="#E4906C"/><path d="M780 3227h0m14 -10h0m10 30h0m23 -27h0m2 -21h0m1 7h0m2 3h0m0 19h0m5 -34h0m0 61h0m2 -53h0m1 2h0m0 49h0m9 -34h0m1 22h0m2 4h0m13 -4h0m1 -1h0m13 -58h0m12 21h0m3 -16h0m87 -447h0m109 346h0m6 5h0" stroke="#F0CCB4"/><path d="M714 3156h0m5 -8h0m0 4h0m3 4h0m10 -23h0m1 7h0m0 64h0m9 -131h0m4 99h0m7 97h0m4 -85h0m2 -40h0m1 38h0m4 76h0m12 -67h0m14 -34h0m4 22h0m5 -64h0m11 -10h0m4 37h0m3 39h0m4 -75h0m34 50h0m8 11h0m38 2h0" stroke="#E4A89C"/><path d="M717 3198h0m32 -20h0m3 -20h0m4 116h0m1 -36h0m10 -68h0m0 19h0" stroke="#F0A8A8"/><path d="M856 3034h0m8 27h0m14 -11h0m8 -41h0m40 35h0m11 -58h0m23 1h0m2 39h0m12 -10h0m12 -18h0" stroke="#F07848"/><path d="M861 3185h0m14 50h0" stroke="#E4CCC0"/><path d="M1015 3007h0m1 28h0m4 -6h0m2 -18h0m12 15h0m8 -4h0" stroke="#F09C6C"/><path d="M840 3248h0m31 -7h0m3 1h0" stroke="#F0C0C0"/><path d="M874 2997h0m69 -12h0m8 2h0m1 1h0m8 56h0m28 -24h0" stroke="#F06C60"/><path d="M736 3251h0m1 5h0m1 -29h0m2 30h0m9 -5h0m2 15h0m2 -34h0m30 15h0m9 -66h0m15 17h0" stroke="#F0C09C"/><path d="M806 3249h0m30 -42h0m31 -23h0m3 53h0m12 -6h0m13 -38h0" stroke="#FCCCC0"/><path d="M783 3239h0m19 -18h0m24 8h0m9 -24h0m48 -23h0" stroke="#E4C0B4"/><path d="M858 3023h0m8 43h0m20 -39h0m28 33h0m31 -14h0m8 16h0m10 -27h0m8 7h0m12 -12h0" stroke="#E46C60"/><path d="M798 3090h0m9 -44h0m6 30h0m65 84h0m11 3h0m1 -1h0m129 -114h0m8 0h0m20 -26h0m5 -8h0m13 52h0m4 -4h0" stroke="#F09084"/><path d="M715 3166h0m6 -10h0m3 -10h0m2 50h0m28 -61h0m51 52h0m8 -95h0m18 84h0" stroke="#E4B490"/><path d="M793 3273h0m5 -66h0m14 -3h0m2 64h0m9 -39h0m271 -155h0" stroke="#FCC0A8"/><path d="M766 3268h0m37 -75h0" stroke="#E4A8A8"/><path d="M837 3046h0m1 -1h0m12 25h0m16 2h0m0 19h0m5 47h0m8 -4h0m2 -13h0m4 -23h0m2 30h0m2 -26h0m8 -15h0m2 35h0m11 -48h0m1 7h0m0 46h0m6 -47h0m7 16h0m9 -35h0m6 13h0m19 2h0m13 -8h0m5 -6h0m7 -7h0m6 -69h0m1 53h0m5 -24h0m3 0h0m2 -16h0m2 34h0" stroke="#F08460"/><path d="M710 3170h0m4 13h0m4 16h0m12 -24h0m5 44h0m78 -23h0m6 -7h0m5 -4h0" stroke="#FCB49C"/><path d="M720 3225h0m6 50h0m3 -43h0m1 20h0m1 -30h0m8 56h0m14 -25h0m1 19h0m6 -42h0m4 10h0m0 43h0m19 -12h0m1 -7h0m50 -82h0m10 -2h0m26 -6h0m16 2h0m203 -98h0" stroke="#E4B4A8"/><path d="M872 3220h0m252 -116h0" stroke="#FCCCCC"/><path d="M910 3095h0" stroke="#D8786C"/><path d="M1017 2990h0m16 29h0" stroke="#E49C6C"/><path d="M770 3236h0m7 30h0m10 -30h0m20 -26h0m5 25h0m80 -54h0" stroke="#E4C0A8"/><path d="M711 3041h0m1 47h0" stroke="#F09090"/><path d="M856 3122h0m5 -36h0m20 67h0m20 1h0m136 -135h0" stroke="#E48478"/><path d="M767 3057h0" stroke="#D8A890"/><path d="M820 3248h0m10 -36h0m269 -122h0" stroke="#FCC0C0"/><path d="M841 3257h0m1 -67h0m0 10h0m11 46h0" stroke="#E4CCB4"/><path d="M870 3100h0" stroke="#D8846C"/><path d="M710 3088h0m362 -54h0" stroke="#E4A878"/><path d="M691 3147h0m98 -30h0m3 26h0" stroke="#F0B484"/><path d="M1024 3052h0m6 -14h0m2 -18h0" stroke="#FC9078"/><path d="M1104 3088h0" stroke="#FCD8CC"/><path d="M768 3260h0m5 -53h0m6 33h0m118 -62h0" stroke="#FCB4A8"/><path d="M700 3038h0m9 57h0" stroke="#D8A884"/><path d="M723 3210h0m37 -122h0m20 56h0m23 -43h0m95 69h0" stroke="#F09C9C"/><path d="M744 3048h0m53 63h0" stroke="#FCA884"/><path d="M906 2991h0m11 -7h0m11 38h0m28 2h0m6 -19h0" stroke="#E46054"/><path d="M961 3009h0" stroke="#D86054"/><path d="M876 3082h0m18 -6h0m36 -17h0m46 -13h0" stroke="#F08454"/><path d="M712 3184h0m1 -27h0m0 3h0" stroke="#FCA89C"/><path d="M888 3015h0m42 -33h0" stroke="#D86C48"/><path d="M922 3031h0" stroke="#D86C3C"/><path d="M703 3158h0m59 10h0m32 -25h0" stroke="#FCA890"/><path d="M857 3246h0" stroke="#E4C0C0"/><path d="M901 3066h0m8 63h0" stroke="#E48454"/><path d="M804 3232h0m3 18h0m33 -13h0m6 -44h0" stroke="#FCCCB4"/><path d="M890 3138h0" stroke="#FC7860"/><path d="M951 3048h0" stroke="#FC8454"/><path d="M917 3105h0m86 -61h0" stroke="#F09060"/><path d="M836 3253h0" stroke="#F0B4C0"/><path d="M815 3182h0" stroke="#FC9C9C"/><path d="M849 3039h0" stroke="#FC7848"/><path d="M736 3083h0m37 54h0m0 1h0" stroke="#E49C9C"/><path d="M828 3223h0" stroke="#FCC0B4"/><path d="M809 3265h0" stroke="#FCCCA8"/><path d="M856 3212h0" stroke="#F0E4C0"/><path d="M1117 3098h0" stroke="#E4CCCC"/><path d="M737 3162h0m18 18h0" stroke="#FCB490"/><path d="M848 3102h0m228 -55h0" stroke="#FC9C78"/><path d="M756 3036h0" stroke="#FC9C90"/><path d="M825 3122h0" stroke="#E49090"/><path d="M827 3261h0" stroke="#E4CCA8"/><path d="M854 3225h0" stroke="#E4D8C0"/><path d="M1081 3056h0" stroke="#F0A878"/><path d="M960 3035h0" stroke="#D86C54"/><path d="M610 3372h0m5 4h0m2 10h0m1 75h0m2 -92h0m0 1h0m2 1h0m8 -1h0m2 -4h0m2 5h0m1 -3h0m10 -8h0m7 164h0m1 -167h0m1 3h0m0 69h0m22 -40h0m13 -19h0m3 9h0m0 17h0m1 -1h0m3 -17h0m0 31h0m0 4h0m0 8h0m1 19h0m3 -27h0m0 148h0m2 -152h0m0 114h0m5 -104h0m0 79h0m2 -97h0m4 10h0m5 -25h0m5 -11h0m10 50h0m3 -50h0m3 195h0m0 2h0m1 -4h0m0 5h0m3 -8h0m0 12h0m3 -132h0m2 119h0m1 -14h0m1 12h0m0 18h0m2 -37h0m2 -8h0m2 -110h0m5 11h0m0 116h0m0 35h0m4 -45h0m3 -83h0m2 -4h0m0 8h0m0 66h0m0 3h0m1 -9h0m1 -38h0m1 85h0m1 -103h0m0 116h0m4 -110h0m4 115h0m1 -101h0m2 -135h0m0 127h0m0 13h0m0 103h0m1 -17h0m1 -33h0m0 35h0m0 15h0m1 -182h0m0 143h0m0 41h0m3 -2h0m1 4h0m1 -188h0m1 174h0m0 7h0m0 15h0m1 -228h0m0 166h0m0 42h0m1 10h0m2 -106h0m0 106h0m1 -43h0m1 -138h0m0 180h0m0 5h0m0 6h0m1 -161h0m0 133h0m0 26h0m0 2h0m1 -180h0m1 -11h0m0 178h0m0 20h0m3 -27h0m0 33h0m1 -108h0m1 -24h0m2 112h0m1 -107h0m0 40h0m0 32h0m0 27h0m1 -52h0m0 63h0m1 -50h0m0 9h0m0 4h0m1 -160h0m0 208h0m3 -62h0m0 27h0m0 30h0m1 -17h0m1 -208h0m0 7h0m1 153h0m0 20h0m1 -74h0m0 35h0m0 12h0m1 -56h0m0 115h0m1 -63h0m0 71h0m2 -62h0m1 -16h0m0 59h0m1 -62h0m0 12h0m1 -102h0m0 158h0m0 5h0m1 29h0m1 -82h0m0 52h0m0 12h0m1 -31h0m0 10h0m1 -50h0m0 9h0m1 1h0m0 20h0m0 67h0m1 -126h0m0 116h0m1 -161h0m0 49h0m0 100h0m1 -128h0m1 120h0m1 -94h0m0 12h0m0 47h0m0 59h0m1 -108h0m0 6h0m0 94h0m1 -58h0m0 31h0m1 -43h0m2 -62h0m0 21h0m0 14h0m0 16h0m0 43h0m0 44h0m1 -105h0m0 8h0m1 -69h0m0 50h0m0 18h0m0 1h0m0 10h0m0 25h0m0 51h0m0 19h0m1 -93h0m1 -16h0m1 35h0m0 19h0m1 -57h0m0 24h0m0 42h0m1 -61h0m0 117h0m1 -118h0m0 52h0m1 -107h0m1 143h0m1 -127h0m0 47h0m0 40h0m1 -29h0m0 49h0m0 30h0m0 23h0m1 -182h0m0 46h0m1 -47h0m1 174h0m1 -3h0m0 21h0m1 -262h0m0 105h0m0 147h0m1 -156h0m0 108h0m2 -134h0m0 73h0m2 54h0m2 -92h0m0 102h0m1 -71h0m0 85h0m0 21h0m1 -114h0m1 -32h0m0 145h0m1 -222h0m0 35h0m0 6h0m0 162h0m1 -80h0m1 -8h0m0 90h0m1 -178h0m2 41h0m1 -13h0m0 16h0m0 163h0m1 -179h0m1 -58h0m0 19h0m0 3h0m0 98h0m0 2h0m0 127h0m2 -138h0m1 -76h0m0 63h0m0 26h0m0 97h0m0 16h0m1 -192h0m0 26h0m0 141h0m1 -137h0m1 -65h0m0 222h0m1 -6h0m1 -125h0m0 142h0m1 -35h0m0 9h0m1 -140h0m1 25h0m0 21h0m0 51h0m0 46h0m1 -18h0m1 -169h0m0 175h0m2 -9h0m1 -106h0m1 -6h0m0 7h0m1 -9h0m0 121h0m2 -108h0m0 111h0m3 6h0m0 4h0m1 -4h0m16 -209h0m4 162h0m3 -145h0m6 146h0m1 4h0m2 14h0m3 -157h0m0 1h0m0 149h0m1 -163h0m0 3h0m0 146h0m0 7h0m4 -143h0m0 154h0m3 -15h0m1 -162h0m0 14h0m4 10h0m1 -20h0m0 235h0m21 -6h0m4 8h0" stroke="#E4E4F0"/><path d="M605 3331h0m5 -3h0m1 -17h0m3 27h0m2 -41h0m1 17h0m0 27h0m1 -45h0m6 32h0m3 -21h0m3 8h0m1 21h0m4 -18h0m3 16h0m8 -34h0m6 -16h0m23 10h0m254 247h0m13 5h0m42 -106h0" stroke="#C0B4D8"/><path d="M614 3303h0m5 -12h0m28 9h0m308 262h0m10 17h0m4 35h0m4 -8h0m24 63h0m2 -207h0m1 202h0m2 -216h0m2 16h0m1 -8h0m1 -18h0m1 4h0" stroke="#B4A8E4"/><path d="M620 3341h0m5 4h0m3 6h0m17 -15h0m11 1h0m8 0h0m24 -19h0m2 -7h0m1 -18h0m8 -1h0m3 -4h0m2 4h0m1 6h0m0 27h0m6 -36h0m4 24h0m3 -20h0m5 -9h0m191 214h0m4 29h0m18 105h0m2 -78h0m3 -1h0m2 -4h0m3 75h0m0 7h0m2 -70h0m2 50h0m0 13h0m13 -32h0m13 -157h0m11 223h0m1 -4h0" stroke="#CCC0E4"/><path d="M602 3314h0m4 -1h0m3 21h0m1 -3h0m1 -25h0m0 7h0m2 -19h0m2 19h0m2 -20h0m0 57h0m1 -58h0m0 11h0m1 40h0m1 -64h0m0 68h0m1 -45h0m1 5h0m1 4h0m1 18h0m2 -4h0m1 -33h0m0 18h0m1 -27h0m1 -1h0m2 1h0m0 40h0m3 -24h0m0 14h0m0 10h0m2 -42h0m0 1h0m0 49h0m1 -47h0m0 5h0m3 -6h0m0 9h0m1 22h0m2 -27h0m5 25h0m3 -30h0m0 4h0m0 5h0m1 -10h0m2 9h0m3 34h0m4 -33h0m0 4h0m0 8h0m1 -12h0m0 17h0m3 18h0m1 -52h0m2 30h0m3 -11h0m3 -1h0m1 -8h0m0 34h0m4 6h0m3 -20h0m3 -1h0m1 -6h0m0 9h0m13 -14h0m234 235h0m3 -44h0m0 62h0m7 1h0m4 5h0m13 24h0m1 -111h0m2 117h0m1 3h0m0 10h0m0 6h0m1 -10h0m17 -149h0m1 10h0m0 181h0m1 -212h0m0 22h0m0 5h0m3 -26h0m3 14h0m2 228h0m2 -7h0m3 -202h0m1 -21h0m3 17h0m1 -1h0" stroke="#C0B4E4"/><path d="M610 3361h0m13 -2h0m11 -3h0m26 -10h0m26 9h0m46 -24h0m108 315h0m42 -85h0m4 12h0m1 -21h0m3 3h0m6 4h0m1 32h0m3 -31h0m2 -27h0m1 -105h0m1 90h0m1 -107h0m0 51h0m0 99h0m1 -25h0m1 -72h0m0 74h0m1 -104h0m0 98h0m1 -12h0m2 19h0m0 51h0m2 -163h0m0 130h0m1 -8h0m0 114h0m1 -185h0m0 194h0m1 4h0m3 -132h0m1 -110h0m1 120h0m0 104h0m0 12h0m2 -49h0m1 6h0m0 6h0m0 19h0m1 -93h0m3 85h0m0 19h0m2 -42h0m0 39h0m1 5h0m1 -2h0m2 -34h0m0 9h0m1 -185h0m1 217h0m3 -105h0m0 49h0m0 67h0m2 -76h0m0 22h0m0 17h0m1 -36h0m0 65h0m1 -55h0m2 -2h0m0 8h0m2 -57h0m1 50h0m1 -39h0m1 -130h0m1 204h0m1 -67h0m1 20h0m11 28h0m4 -204h0m8 211h0m4 12h0m1 20h0m1 -14h0m4 -2h0" stroke="#D8CCF0"/><path d="M605 3297h0m2 18h0m14 -25h0m3 42h0m3 -20h0m13 -16h0m2 31h0m16 -31h0m6 9h0m4 -22h0m1 18h0m8 0h0m258 193h0m19 64h0m4 12h0m9 20h0m0 17h0m1 1h0m5 15h0m21 -165h0m2 0h0m1 -21h0m3 24h0" stroke="#C0A8E4"/><path d="M615 3350h0m14 2h0m38 -9h0m236 332h0m4 -152h0m0 154h0m1 -124h0m5 112h0m1 -134h0m2 13h0m1 -98h0m0 4h0m0 229h0m3 -22h0m0 17h0m3 4h0m2 -31h0m6 -25h0m0 60h0m1 -13h0m1 -111h0m2 125h0m2 0h0m2 -63h0m0 34h0m0 20h0m2 11h0m2 -126h0m0 79h0m8 -6h0m3 -51h0m1 23h0m16 -179h0m2 207h0m1 -208h0m8 221h0m4 7h0m0 9h0" stroke="#CCCCF0"/><path d="M603 3304h0m17 43h0m3 -9h0m30 -4h0m0 3h0m18 -39h0m23 4h0m19 -13h0m201 212h0m19 45h0m6 -3h0m0 4h0m17 22h0m4 33h0m3 -23h0m9 46h0m11 -194h0m1 -5h0" stroke="#C0C0E4"/><path d="M633 3283h0m8 2h0m17 51h0m31 -45h0" stroke="#CCB4F0"/><path d="M611 3355h0m7 -1h0m34 -14h0m30 2h0m27 -29h0m16 -27h0m1 8h0m180 159h0m6 91h0m16 10h0m10 71h0" stroke="#D8C0E4"/><path d="M623 3352h0m14 -3h0m25 1h0m5 1h0m31 -10h0m18 -20h0m0 8h0m6 -37h0m1 -11h0m5 2h0m1 -1h0m1 34h0m6 14h0m157 215h0m5 -4h0m6 -2h0m1 -76h0m0 78h0m2 -90h0m0 15h0m0 47h0m0 162h0m1 -11h0m1 -213h0m0 214h0m1 -119h0m1 -14h0m4 -2h0m2 -54h0m2 190h0m2 -8h0m3 -97h0m4 -5h0m10 78h0m7 37h0m9 -72h0m1 80h0m15 -49h0m9 10h0m1 34h0" stroke="#D8CCE4"/><path d="M660 3343h0m15 1h0m8 -8h0m22 -40h0m15 -13h0m198 260h0m17 139h0m2 -215h0m1 90h0m5 68h0m12 -15h0m0 8h0m0 5h0m2 -13h0m19 -181h0m13 228h0m0 4h0m3 3h0" stroke="#CCC0F0"/><path d="M609 3286h0m1 19h0m2 3h0m3 -20h0m3 16h0m0 22h0m4 -24h0m4 22h0m8 -40h0m2 43h0m0 4h0m9 -17h0m5 -18h0m16 -3h0m10 3h0m2 8h0m260 182h0m26 127h0m17 16h0m14 40h0m1 -236h0m2 8h0m3 0h0" stroke="#B4B4E4"/><path d="M614 3310h0m14 31h0m2 -22h0m15 -21h0" stroke="#CCA8E4"/><path d="M653 3340h0m288 212h0" stroke="#C0CCE4"/><path d="M615 3301h0m1 1h0m7 19h0m4 -18h0m42 -16h0m2 15h0m334 143h0" stroke="#B4B4D8"/><path d="M626 3352h0" stroke="#D8B4E4"/><path d="M664 3300h0m1 -10h0m14 4h0" stroke="#C0A8F0"/><path d="M623 3342h0m1 -4h0m7 1h0m3 -37h0m17 -15h0m4 30h0m4 -7h0m0 14h0m27 -27h0m277 308h0m16 -154h0m0 186h0m2 -186h0m4 -28h0" stroke="#CCB4E4"/><path d="M648 3294h0m7 -5h0m1 30h0m11 -15h0m1 -2h0m1 -1h0m293 277h0m23 -149h0" stroke="#C0B4F0"/><path d="M621 3349h0m10 0h0m57 -6h0m39 -64h0m185 184h0m5 93h0m6 -101h0m5 89h0m10 81h0m6 -14h0m5 -1h0m1 3h0m3 18h0m3 -25h0m0 18h0m6 8h0m1 -31h0m9 29h0" stroke="#CCCCE4"/><path d="M728 3289h0m89 308h0m23 61h0m29 10h0m10 -117h0m11 114h0m2 -220h0m6 218h0m1 -97h0m0 88h0m1 -236h0m0 53h0m0 194h0m3 -147h0m2 77h0m1 15h0m1 -19h0m2 -72h0m10 -78h0m1 208h0m5 -201h0m14 114h0m3 93h0m3 -44h0m3 22h0m5 41h0m9 -33h0m15 31h0m1 3h0" stroke="#E4CCF0"/><path d="M624 3398h0m0 80h0m1 -92h0m2 79h0m2 11h0m1 6h0m2 14h0m0 4h0m4 -27h0m1 6h0m2 -16h0m1 -97h0m1 106h0m0 20h0m2 18h0m1 9h0m1 -29h0m0 14h0m0 1h0m1 -2h0m0 16h0m3 0h0m0 3h0m1 -15h0m1 -35h0m2 38h0m2 -66h0m1 52h0m1 -52h0m0 55h0m0 3h0m1 -13h0m1 -28h0m1 75h0m1 -104h0m1 80h0m1 -11h0m0 8h0m1 -14h0m1 37h0m1 -101h0m0 91h0m0 16h0m1 -42h0m0 11h0m1 -80h0m0 69h0m0 16h0m1 -37h0m0 41h0m0 24h0m2 -72h0m0 44h0m2 -23h0m1 -119h0m0 37h0m0 76h0m0 43h0m0 10h0m2 -47h0m1 -58h0m0 79h0m1 -59h0m0 89h0m1 -63h0m1 -29h0m0 4h0m1 -34h0m0 12h0m0 13h0m1 -39h0m2 60h0m1 31h0m1 -23h0m1 -56h0m0 2h0m0 88h0m0 43h0m1 -98h0m0 63h0m1 -106h0m0 52h0m0 88h0m1 -36h0m1 -41h0m0 21h0m0 56h0m1 -57h0m2 59h0m1 -9h0m1 12h0m1 -132h0m0 28h0m0 85h0m0 5h0m1 -5h0m0 24h0m0 1h0m0 10h0m1 -11h0m0 0h0m1 -64h0m1 44h0m1 -127h0m0 86h0m2 7h0m0 30h0m1 24h0m1 -154h0m0 131h0m2 -106h0m0 9h0m0 64h0m0 65h0m1 -167h0m0 100h0m3 -103h0m0 37h0m0 16h0m2 -16h0m0 32h0m0 101h0m2 -125h0m0 5h0m0 29h0m1 -65h0m0 10h0m0 51h0m0 45h0m1 -126h0m0 1h0m0 168h0m1 -136h0m0 123h0m1 -80h0m0 56h0m0 23h0m1 -127h0m2 22h0m0 105h0m1 0h0m0 3h0m2 -75h0m0 4h0m0 15h0m0 49h0m1 -118h0m0 10h0m0 85h0m0 40h0m1 -172h0m0 12h0m0 9h0m1 15h0m0 43h0m0 26h0m0 13h0m1 -95h0m0 25h0m2 0h0m2 27h0m0 3h0m1 -70h0m0 80h0m1 -63h0m0 68h0m0 87h0m1 -28h0m1 -130h0m0 36h0m0 19h0m0 16h0m0 17h0m0 59h0m1 -60h0m2 -97h0m0 9h0m1 137h0m1 -99h0m0 76h0m0 3h0m0 3h0m1 -77h0m1 21h0m0 81h0m1 -37h0m1 -72h0m0 66h0m1 57h0m1 -127h0m2 19h0m0 27h0m0 23h0m0 56h0m1 -69h0m1 -15h0m1 -81h0m0 101h0m0 17h0m2 -57h0m1 -30h0m0 9h0m0 72h0m2 -55h0m0 27h0m0 97h0m1 -142h0m0 33h0m0 20h0m0 45h0m1 -167h0m0 90h0m0 27h0m1 61h0m1 -49h0m0 19h0m1 41h0m1 -157h0m0 36h0m1 39h0m1 -29h0m0 1h0m0 76h0m1 -99h0m1 67h0m0 87h0m1 -208h0m0 63h0m1 15h0m0 32h0m1 -101h0m0 59h0m0 53h0m3 -68h0m0 13h0m0 58h0m0 7h0m2 -56h0m3 -6h0m1 -12h0m1 81h0m0 61h0m0 1h0m1 -140h0m1 -17h0m1 44h0m0 39h0m0 2h0m0 35h0m1 -76h0m0 31h0m1 -80h0m0 2h0m0 91h0m2 -65h0m0 116h0m3 -197h0m0 55h0m0 78h0m0 73h0m2 -105h0m3 -65h0m0 40h0m1 -20h0m2 2h0m2 3h0m0 14h0m2 -6h0m0 84h0m5 -66h0m1 57h0m1 34h0m6 -111h0m3 -1h0m1 35h0m3 8h0m2 -51h0m0 142h0m1 -145h0m1 41h0m1 -5h0m2 43h0m6 -6h0m5 114h0m20 -70h0m7 -64h0m60 -31h0" stroke="#F0E4E4"/><path d="M616 3355h0m83 -26h0m206 203h0m32 150h0m11 -71h0m38 46h0" stroke="#D8C0F0"/><path d="M655 3317h0" stroke="#B4A8F0"/><path d="M676 3318h0m7 4h0m279 265h0" stroke="#C0C0F0"/><path d="M616 3292h0" stroke="#CCA8F0"/><path d="M620 3365h0m4 -3h0m1 9h0m21 -14h0m4 -1h0m33 14h0m21 39h0m2 -53h0m3 55h0m4 -58h0m18 -5h0m12 235h0m1 -267h0m3 26h0m4 -15h0m0 3h0m0 27h0m11 -25h0m2 1h0m20 265h0m30 31h0m21 21h0m11 -109h0m8 1h0m2 18h0m4 83h0m10 -95h0m3 121h0m2 -82h0m3 -121h0m9 138h0m1 -29h0m4 -135h0m1 -16h0m2 115h0m1 -14h0m9 -98h0m0 174h0m1 -159h0m1 148h0m8 -173h0m1 22h0m5 143h0m15 -175h0m9 9h0" stroke="#E4D8E4"/><path d="M615 3374h0m2 -7h0m19 1h0m14 -10h0m23 -2h0m30 47h0m17 12h0m5 -58h0m9 209h0m3 -206h0m2 217h0m21 -15h0m13 -121h0m0 144h0m1 8h0m5 -7h0m4 -13h0m0 9h0m8 8h0m3 -4h0m3 -242h0m2 253h0m2 -4h0m0 8h0m1 -177h0m4 199h0m1 -13h0m1 7h0m4 -7h0m1 6h0m0 6h0m0 2h0m1 -63h0m0 44h0m1 17h0m2 -10h0m1 11h0m2 -99h0m2 25h0m0 94h0m1 -8h0m1 -57h0m0 54h0m2 -13h0m1 -48h0m0 52h0m0 13h0m2 12h0m1 3h0m1 -27h0m3 -71h0m0 69h0m6 12h0m1 -84h0m0 60h0m1 -74h0m0 72h0m1 -70h0m0 21h0m0 62h0m2 -29h0m0 9h0m1 15h0m3 -93h0m2 94h0m1 44h0m1 -185h0m0 99h0m1 -20h0m0 5h0m0 59h0m1 26h0m0 13h0m1 2h0m1 -120h0m0 15h0m0 13h0m1 76h0m0 6h0m2 -64h0m0 67h0m0 3h0m1 -183h0m0 78h0m0 5h0m1 -18h0m0 90h0m1 -50h0m1 26h0m1 29h0m1 -190h0m0 122h0m1 23h0m2 -11h0m0 70h0m1 -108h0m0 60h0m0 29h0m1 -127h0m0 147h0m1 -96h0m0 25h0m0 51h0m1 -28h0m0 29h0m1 -104h0m1 54h0m4 -22h0m0 60h0m1 29h0m1 -64h0m1 -125h0m0 142h0m1 -68h0m1 132h0m1 -183h0m0 133h0m0 28h0m0 9h0m0 5h0m1 -221h0m1 91h0m0 5h0m2 -90h0m0 25h0m0 156h0m0 29h0m0 8h0m1 -115h0m1 -101h0m0 184h0m1 -92h0m0 1h0m1 -13h0m0 110h0m1 -164h0m0 199h0m1 -229h0m0 86h0m1 -92h0m0 99h0m0 111h0m0 16h0m1 -218h0m0 93h0m1 76h0m1 -152h0m0 161h0m0 32h0m0 25h0m1 -197h0m0 56h0m0 75h0m1 -184h0m0 79h0m1 -75h0m1 -1h0m0 59h0m0 132h0m1 -6h0m1 -9h0m0 1h0m1 -191h0m0 22h0m1 129h0m2 25h0m0 29h0m1 -20h0m1 -23h0m1 13h0m1 60h0m3 -79h0m0 1h0m0 2h0m2 -145h0m0 188h0m4 16h0m1 -218h0m4 181h0m1 -176h0m0 180h0m1 -169h0m3 12h0m0 167h0m1 -40h0m1 37h0m1 -33h0m0 2h0m1 -10h0m1 -155h0m0 19h0m0 175h0m2 -32h0m3 -135h0m2 165h0m1 -6h0m1 -147h0m7 -43h0m1 237h0m0 23h0m5 -21h0m2 -1h0m0 5h0m0 18h0m1 -249h0m2 -5h0m0 12h0m1 219h0m0 12h0m0 1h0m1 -227h0m3 -5h0m1 233h0m3 7h0m8 -10h0" stroke="#E4D8F0"/><path d="M637 3357h0m6 3h0m3 -5h0m8 -1h0m74 -11h0m81 279h0m4 7h0m9 0h0m0 14h0m6 -19h0m1 12h0m3 -7h0m2 1h0m1 22h0m2 -4h0m4 -24h0m0 9h0m1 11h0m0 1h0m6 -74h0m0 87h0m2 -112h0m1 106h0m1 1h0m4 -58h0m1 20h0m1 40h0m1 7h0m0 16h0m1 -58h0m0 23h0m0 5h0m0 2h0m1 16h0m2 -88h0m0 20h0m2 72h0m3 -117h0m1 69h0m1 42h0m3 -115h0m0 4h0m1 110h0m1 -97h0m3 96h0m1 -119h0m0 9h0m0 5h0m0 10h0m1 25h0m1 -52h0m1 17h0m0 6h0m1 110h0m1 0h0m1 -75h0m1 3h0m2 -8h0m1 -14h0m0 17h0m1 -18h0m0 18h0m1 -49h0m0 123h0m0 5h0m1 -141h0m0 140h0m1 -87h0m1 -121h0m0 112h0m2 25h0m1 -146h0m0 83h0m0 14h0m0 41h0m0 1h0m0 3h0m1 70h0m1 -248h0m0 85h0m0 31h0m0 19h0m0 45h0m1 -139h0m0 54h0m1 -31h0m0 132h0m1 -187h0m0 212h0m1 -187h0m1 -31h0m0 30h0m0 114h0m0 31h0m0 28h0m0 12h0m0 21h0m0 12h0m1 -165h0m3 2h0m1 6h0m0 96h0m1 -34h0m2 11h0m1 29h0m0 64h0m2 -269h0m0 266h0m1 -120h0m1 76h0m2 -17h0m1 -172h0m0 121h0m1 59h0m2 -190h0m1 193h0m1 19h0m1 -4h0m0 5h0m2 -200h0m2 -1h0m0 122h0m1 -123h0m1 -32h0m1 23h0m2 12h0m0 122h0m5 -6h0m0 1h0m0 1h0m1 36h0m0 2h0m0 53h0m1 -22h0m1 -222h0m0 156h0m3 13h0m3 -134h0m0 211h0m0 6h0m0 4h0m6 -5h0m2 -77h0m2 71h0m2 -241h0m1 255h0m2 -18h0m4 -226h0m2 221h0m1 -11h0m1 18h0m2 12h0m1 -22h0m1 9h0m3 -15h0m1 27h0m1 -10h0m0 2h0" stroke="#D8D8F0"/><path d="M621 3313h0m13 89h0m0 7h0m10 37h0m11 48h0m9 40h0m8 -123h0m12 111h0m41 -28h0m20 -24h0m11 78h0m10 -1h0m0 29h0m1 -64h0m1 42h0m1 -168h0m6 -11h0m7 219h0m5 -98h0m0 72h0m20 21h0m3 -124h0m3 162h0m9 -166h0m2 -5h0m192 138h0m0 4h0m2 -66h0m2 75h0m1 -64h0m1 94h0m1 -172h0m0 81h0m1 -2h0m2 88h0m1 -11h0m1 -109h0m0 40h0m0 6h0m0 2h0m0 23h0m1 -130h0m0 127h0m2 -21h0m0 17h0m0 37h0m4 -55h0m1 -55h0m0 2h0m2 47h0m1 -111h0m0 63h0m1 12h0m0 15h0m1 91h0m2 -9h0m3 26h0m2 -113h0m3 92h0m365 -377h0" stroke="#6C54C0"/><path d="M614 3307h0m12 5h0m34 -26h0m3 17h0m281 244h0m22 73h0" stroke="#B4B4F0"/><path d="M613 3420h0m10 -40h0m8 43h0m5 25h0m14 -68h0m5 41h0m1 -24h0m9 -2h0m2 -6h0m1 61h0m4 -43h0m11 13h0m16 73h0m18 -47h0m6 96h0m39 29h0m1 -19h0m2 14h0m5 -117h0m3 69h0m1 -58h0m11 83h0m2 6h0m13 -122h0m3 14h0m1 106h0m1 -78h0m6 25h0m7 -5h0m7 14h0m0 12h0m5 54h0m2 -119h0m2 -26h0m0 88h0m3 6h0m3 -55h0m2 -31h0m14 -14h0m7 88h0m1 16h0m8 -27h0m1 -42h0m2 -7h0m2 0h0m0 75h0m1 -32h0m2 -37h0m2 -44h0" stroke="#E4F0F0"/><path d="M673 3305h0m12 15h0m303 137h0m4 -6h0" stroke="#B4C0E4"/><path d="M642 3362h0m59 -6h0m28 -10h0m20 -41h0m52 302h0m26 36h0m25 -20h0m1 27h0m9 23h0m10 -109h0m11 -21h0m4 33h0m6 21h0m2 -126h0m1 115h0m5 -3h0m2 -79h0m6 -55h0m0 204h0m3 -210h0m0 177h0m1 -178h0m0 232h0m4 -222h0m5 150h0m3 -160h0m27 203h0m6 -5h0m9 -209h0m2 -11h0m4 216h0m4 30h0" stroke="#D8D8E4"/><path d="M637 3364h0m23 -6h0m90 224h0m3 0h0m62 -20h0m13 0h0m6 -15h0m14 46h0m8 -36h0m3 31h0m4 45h0m1 18h0m6 -25h0m1 -12h0m3 -10h0m12 -54h0m2 111h0m1 -10h0m2 15h0m2 -77h0m1 35h0m3 -14h0m2 9h0m20 -8h0m7 -196h0m7 6h0m7 172h0m10 59h0" stroke="#D8E4F0"/><path d="M606 3324h0m26 -32h0m353 169h0m4 -13h0" stroke="#C0A8D8"/><path d="M727 3287h0" stroke="#CCCCD8"/><path d="M693 3297h0m9 3h0m274 138h0" stroke="#CCB4D8"/><path d="M670 3335h0m17 -39h0m17 9h0" stroke="#CCC0D8"/><path d="M607 3383h0m4 32h0m2 -11h0m3 -8h0m0 40h0m1 -44h0m1 76h0m1 -90h0m0 10h0m0 2h0m0 21h0m0 6h0m0 47h0m1 -54h0m1 -42h0m2 76h0m1 25h0m0 22h0m0 14h0m1 -118h0m0 2h0m0 31h0m1 45h0m0 3h0m4 1h0m0 4h0m1 23h0m1 -106h0m0 18h0m0 0h0m0 8h0m1 -17h0m1 -19h0m0 5h0m0 64h0m0 55h0m1 -86h0m0 6h0m1 -51h0m0 14h0m0 2h0m0 52h0m0 4h0m0 15h0m0 34h0m1 -45h0m1 -71h0m0 52h0m0 6h0m1 -5h0m0 10h0m0 39h0m0 30h0m1 -96h0m0 94h0m1 -85h0m0 14h0m1 -12h0m0 88h0m1 -139h0m0 129h0m3 14h0m1 -81h0m1 -19h0m1 15h0m1 -7h0m0 41h0m1 -31h0m1 7h0m2 -18h0m1 19h0m1 -52h0m0 11h0m2 60h0m1 53h0m1 -97h0m0 98h0m1 -134h0m0 4h0m0 21h0m0 28h0m0 65h0m1 -122h0m0 14h0m0 3h0m3 -28h0m0 23h0m0 7h0m0 27h0m0 107h0m0 7h0m2 -171h0m0 32h0m0 100h0m1 -121h0m3 33h0m0 92h0m2 -71h0m2 -40h0m1 40h0m5 1h0m2 106h0m2 -169h0m2 25h0m0 13h0m0 2h0m0 8h0m0 125h0m1 -6h0m5 -110h0m0 129h0m1 -163h0m0 33h0m0 14h0m1 48h0m2 -88h0m1 20h0m1 132h0m2 -119h0m1 90h0m2 12h0m2 -95h0m0 2h0m2 -38h0m0 18h0m0 26h0m1 -5h0m2 -16h0m0 27h0m1 5h0m0 19h0m2 72h0m1 -128h0m0 21h0m1 -40h0m1 -1h0m0 48h0m0 97h0m1 -141h0m0 9h0m0 18h0m0 93h0m1 -79h0m1 95h0m0 17h0m1 -159h0m0 42h0m1 -18h0m0 85h0m1 -61h0m0 19h0m1 -4h0m4 -74h0m1 39h0m0 137h0m4 -165h0m0 25h0m0 152h0m4 -215h0m0 190h0m1 18h0m1 -1h0m2 -113h0m1 -45h0m0 144h0m1 -105h0m0 38h0m1 -65h0m0 116h0m0 25h0m0 7h0m1 -164h0m1 46h0m1 -29h0m1 148h0m1 -11h0m1 -127h0m0 122h0m1 -179h0m0 31h0m0 124h0m2 -89h0m0 33h0m1 -48h0m0 138h0m2 -146h0m0 139h0m1 28h0m1 -56h0m1 -104h0m0 49h0m0 85h0m1 -142h0m0 65h0m1 -46h0m1 88h0m0 43h0m1 -145h0m0 161h0m1 -119h0m0 2h0m0 67h0m1 -93h0m0 31h0m0 61h0m1 -119h0m1 28h0m0 68h0m0 23h0m1 -175h0m0 83h0m0 120h0m0 6h0m1 -166h0m0 55h0m0 89h0m1 -141h0m0 57h0m0 120h0m1 -140h0m0 63h0m0 32h0m1 -76h0m1 92h0m1 -71h0m0 8h0m0 18h0m0 58h0m1 -103h0m0 5h0m0 50h0m0 2h0m0 2h0m0 5h0m0 22h0m0 28h0m1 -157h0m0 121h0m0 20h0m1 -165h0m1 26h0m0 85h0m1 -50h0m0 24h0m0 26h0m0 26h0m1 -105h0m0 14h0m0 15h0m0 137h0m2 -104h0m0 68h0m0 20h0m1 -137h0m0 60h0m0 54h0m1 -4h0m0 3h0m1 -31h0m0 6h0m0 29h0m1 -87h0m0 3h0m0 51h0m0 6h0m1 -123h0m0 125h0m1 -85h0m0 99h0m1 -107h0m0 80h0m1 26h0m0 32h0m1 -146h0m0 101h0m1 -122h0m0 64h0m0 53h0m2 3h0m1 -51h0m0 15h0m1 58h0m0 20h0m1 -149h0m0 8h0m0 98h0m0 30h0m1 9h0m1 -39h0m0 11h0m0 15h0m1 -93h0m0 61h0m1 3h0m1 53h0m1 -66h0m0 46h0m1 -133h0m0 58h0m0 51h0m0 1h0m1 -130h0m0 185h0m1 -184h0m0 55h0m1 -38h0m1 73h0m0 1h0m0 11h0m0 9h0m1 -49h0m1 106h0m1 -1h0m1 -152h0m0 25h0m0 103h0m0 4h0m1 -125h0m0 175h0m1 -196h0m0 6h0m0 49h0m0 109h0m1 -171h0m0 21h0m1 50h0m0 61h0m0 47h0m1 -169h0m1 59h0m0 26h0m0 105h0m1 -146h0m0 139h0m2 -32h0m1 -135h0m0 77h0m1 -97h0m1 165h0m1 -90h0m0 27h0m0 58h0m1 -137h0m0 58h0m0 36h0m2 -64h0m1 -13h0m0 84h0m0 9h0m1 -134h0m1 69h0m0 26h0m2 -85h0m0 51h0m0 21h0m1 -75h0m0 67h0m0 41h0m1 -129h0m0 22h0m0 63h0m1 -39h0m0 3h0m0 30h0m1 132h0m1 -202h0m0 48h0m1 22h0m1 -50h0m0 45h0m0 27h0m0 86h0m1 -193h0m0 134h0m1 -9h0m0 82h0m1 -195h0m0 5h0m0 82h0m1 -20h0m0 111h0m1 -173h0m1 60h0m0 28h0m1 -56h0m2 25h0m1 51h0m0 8h0m2 -29h0m1 -83h0m1 94h0m1 -61h0m0 56h0m2 -8h0m0 37h0m0 13h0m2 -25h0m1 -22h0m0 135h0m1 -199h0m1 55h0m3 -73h0m0 63h0m1 -6h0m0 43h0m1 -33h0m0 2h0m0 18h0m0 1h0m1 10h0m1 -100h0m0 31h0m4 -26h0m0 35h0m1 48h0m1 -3h0m1 -6h0m0 18h0m2 -92h0m0 17h0m0 66h0m3 131h0m1 -217h0m0 2h0m2 12h0m0 18h0m6 -10h0m0 80h0m1 -19h0m1 -49h0m0 62h0m4 -12h0m41 -60h0m13 -11h0m2 -2h0" stroke="#F0E4F0"/><path d="M609 3413h0m3 9h0m2 -26h0m0 46h0m2 10h0m1 3h0m4 -48h0m0 4h0m1 1h0m0 39h0m1 -36h0m1 39h0m3 -45h0m2 14h0m0 11h0m0 22h0m2 -50h0m0 64h0m0 7h0m1 -33h0m1 26h0m1 0h0m1 -75h0m0 9h0m0 77h0m0 7h0m1 -32h0m1 -36h0m0 14h0m0 7h0m3 -55h0m0 59h0m2 8h0m0 9h0m1 20h0m1 -111h0m0 64h0m5 43h0m1 -74h0m0 21h0m1 -28h0m1 49h0m1 -32h0m1 -12h0m1 29h0m0 7h0m1 -27h0m0 77h0m1 -107h0m0 121h0m1 -99h0m0 16h0m2 -40h0m1 27h0m0 92h0m1 -110h0m0 86h0m1 -40h0m2 -9h0m1 80h0m1 -115h0m0 15h0m4 35h0m0 46h0m1 -94h0m5 40h0m2 9h0m0 23h0m1 -30h0m0 44h0m3 -43h0m0 44h0m1 -63h0m4 67h0m3 -66h0m2 64h0m4 -67h0m4 149h0m1 -110h0m17 93h0m3 -102h0m7 -6h0m1 -16h0m0 106h0m2 -49h0m3 -32h0m8 97h0m6 -17h0m2 18h0m1 -57h0m3 -73h0m2 -49h0m2 166h0m3 -45h0m0 54h0m4 -147h0m2 105h0m1 -23h0m2 -35h0m0 112h0m2 -51h0m1 48h0m6 -105h0m2 -8h0m2 4h0m0 65h0m1 -48h0m1 16h0m1 79h0m1 -25h0m2 -34h0m2 -54h0m0 47h0m0 37h0m3 26h0m1 -83h0m0 61h0m1 -71h0m3 108h0m1 -72h0m0 48h0m2 -84h0m0 76h0m1 -104h0m1 34h0m0 0h0m1 38h0m1 -36h0m0 28h0m0 66h0m1 -12h0m1 -69h0m1 14h0m1 -60h0m0 65h0m2 -12h0m4 -53h0m0 49h0m0 24h0m2 -73h0m0 41h0m1 -41h0m0 33h0m1 -20h0m2 23h0m5 -50h0m0 33h0m0 25h0m3 -42h0m0 71h0m2 -103h0m4 15h0m0 72h0m4 6h0m1 -84h0m2 21h0m0 107h0m1 -90h0m0 9h0m1 -43h0m2 67h0m1 16h0m1 13h0m1 -82h0m1 5h0m0 87h0m3 -11h0m1 -104h0m2 73h0m1 -50h0m0 2h0m1 -11h0m1 20h0m1 63h0m2 -3h0m1 -86h0m0 77h0m1 17h0m1 -55h0m1 -8h0m2 -40h0m0 7h0m1 14h0m1 61h0m2 -79h0m0 35h0m20 65h0" stroke="#F0F0F0"/><path d="M829 3446h0m5 142h0m6 -69h0m1 -19h0m0 10h0m0 135h0m2 -109h0m1 -15h0m1 -70h0m0 76h0m1 -100h0m0 215h0m2 -112h0m1 12h0m2 -9h0m2 44h0m0 17h0m1 -136h0m2 -13h0m3 193h0m3 -51h0m6 -80h0m4 -87h0m2 -15h0m4 22h0m0 158h0m1 -3h0m2 57h0m4 -228h0m0 151h0m2 -91h0m0 109h0m1 -107h0m5 7h0m0 126h0m1 -143h0m1 69h0m0 131h0m8 -54h0m2 -16h0m5 -179h0m0 157h0m7 -109h0m2 94h0m1 8h0m1 -4h0m0 27h0m2 -132h0m0 202h0m5 -225h0m1 137h0m1 -127h0m2 0h0m0 162h0m1 -22h0m1 -117h0m2 -14h0m1 215h0m1 -82h0m0 54h0m3 -195h0m0 105h0m1 43h0m1 -146h0m0 103h0m0 20h0m0 105h0m1 -241h0m0 157h0m1 -18h0m1 109h0m5 -176h0m1 99h0m2 -26h0m3 46h0m1 23h0m3 -85h0m5 27h0m1 -152h0m2 205h0m1 -217h0m1 84h0m0 81h0m3 75h0m1 -1h0m1 -233h0m0 160h0m2 -20h0m1 58h0m0 24h0m1 -209h0m1 146h0m3 -137h0m2 123h0m0 94h0m4 -20h0m2 -88h0m2 69h0m2 -9h0m4 -181h0m0 5h0m4 96h0m1 -7h0m2 -69h0m0 177h0m1 -193h0m1 158h0m2 -173h0m0 148h0m3 -116h0m1 61h0m2 -19h0m8 137h0m1 -191h0m0 2h0m0 121h0m1 -43h0m2 35h0m6 -115h0m0 139h0m5 -93h0m3 -34h0m0 2h0m1 29h0m2 45h0m0 17h0m1 -83h0m1 -6h0m0 95h0m1 73h0m1 -171h0m0 201h0m3 -165h0m1 -39h0m0 171h0m3 -158h0m0 187h0m3 -161h0m1 22h0m1 -23h0m0 18h0m1 148h0m4 -168h0m4 -3h0m0 34h0m1 -29h0m1 6h0m0 41h0m4 -61h0m1 -28h0m0 43h0m1 50h0m1 -58h0m4 6h0m0 27h0m1 -46h0m0 44h0m1 -33h0m0 14h0m0 4h0m1 -41h0m0 71h0m1 -6h0m1 -31h0m0 35h0m1 -34h0m0 21h0m0 22h0m1 -74h0m1 -9h0m5 34h0m1 -19h0m0 28h0m1 -20h0m8 40h0m1 16h0m1 -20h0m0 16h0m2 -80h0m0 12h0m2 36h0m0 19h0m2 -51h0m1 -13h0m0 29h0m0 32h0m2 -38h0m0 18h0m1 8h0m2 -22h0m1 24h0m0 8h0m2 -60h0m1 46h0m0 3h0m2 -37h0m1 -8h0m1 49h0m1 -6h0m0 3h0m7 -21h0m0 0h0m1 12h0m1 -19h0" stroke="#543CC0"/><path d="M979 3609h0m8 -20h0m3 -2h0m11 -31h0m451 -105h0m6 9h0m15 -18h0m4 -26h0m34 16h0m4 -9h0m4 -24h0" stroke="#9C90CC"/><path d="M978 3518h0m14 87h0m4 -7h0m1 30h0m1 -1h0m0 2h0m1 -38h0m10 -43h0m2 24h0m1 -65h0m0 61h0m2 -57h0m2 156h0m24 0h0m373 -219h0m1 -33h0m2 -3h0m2 18h0m1 -13h0m0 13h0m0 13h0m2 -27h0m1 -16h0m0 30h0m2 12h0m1 -1h0m7 10h0m1 -17h0m1 -34h0m2 -9h0m1 -53h0m1 130h0m4 -10h0m2 -79h0m5 19h0m1 -30h0m0 99h0m3 -58h0m4 -40h0m2 40h0m5 -46h0m0 42h0m3 -32h0m1 94h0m2 -84h0m2 -13h0m6 -1h0m0 5h0m0 3h0m3 -6h0m4 80h0m3 8h0m1 -72h0m1 8h0m14 -1h0m4 4h0m3 -5h0" stroke="#9078CC"/><path d="M624 3465h0m14 35h0m3 -6h0m12 -33h0m0 9h0m2 13h0m0 5h0m1 41h0m2 -76h0m0 37h0m4 -62h0m1 108h0m2 -93h0m2 3h0m0 89h0m4 7h0m3 -34h0m1 -16h0m3 -35h0m4 2h0m6 78h0m3 -56h0m2 -69h0m1 74h0m1 49h0m4 -41h0m3 33h0m2 -55h0m2 7h0m6 2h0m2 56h0m2 -60h0m2 -20h0m3 40h0m1 11h0m2 -23h0m8 -20h0m0 76h0m4 -94h0m0 58h0m1 -15h0m7 26h0m3 -34h0m1 -12h0m2 82h0m3 -66h0m1 22h0m7 -13h0m2 -88h0m6 -7h0m5 13h0m2 0h0m30 80h0m8 -24h0m7 29h0" stroke="#FCE4E4"/><path d="M1017 3610h0m10 -12h0m1 14h0m2 0h0m1 -24h0m0 0h0m1 -69h0m0 75h0m2 -106h0m1 98h0m1 -121h0m3 96h0m0 48h0m1 -127h0m0 33h0m0 2h0m1 38h0m1 -61h0m1 85h0m1 -26h0m1 -33h0m0 4h0m2 77h0m1 -146h0m2 27h0m0 21h0m0 32h0m1 69h0m1 -27h0m4 -93h0m0 44h0m0 10h0m3 -80h0m1 75h0m1 -64h0m0 54h0m0 24h0m1 -62h0m2 9h0m1 50h0m1 -13h0m4 18h0m1 -39h0m3 7h0m1 23h0m8 -76h0m0 8h0m2 25h0m1 -36h0m2 62h0m2 -13h0m0 11h0m1 -25h0m2 -20h0m0 14h0m0 21h0m3 -44h0m4 56h0m0 7h0m1 -27h0m0 2h0m2 34h0m2 -40h0m2 -7h0m0 30h0m4 -6h0m2 -16h0m13 5h0m4 8h0m2 -48h0m0 10h0m10 30h0" stroke="#6048C0"/><path d="M615 3386h0m17 -15h0m10 8h0m7 8h0m5 -27h0m26 50h0m79 155h0m19 -35h0m4 21h0m12 -38h0m0 84h0m2 16h0m4 -18h0m1 -26h0m2 37h0m1 -95h0m5 101h0m1 -27h0m3 4h0m5 -35h0m3 -39h0m1 -3h0m1 84h0m0 2h0m2 -75h0m11 38h0m1 -8h0m1 7h0m0 34h0m1 -146h0m0 133h0m0 13h0m4 -86h0m4 84h0m3 13h0m2 -133h0m1 102h0m0 24h0m0 12h0m2 -132h0m6 100h0m5 -68h0m3 -30h0m4 14h0m2 46h0m0 113h0m1 -239h0m2 28h0m3 208h0m2 -216h0m0 89h0m3 -104h0m0 217h0m4 8h0m1 -157h0m2 30h0m6 101h0m5 -1h0m1 29h0m1 -47h0m2 39h0m2 4h0m7 -65h0m8 8h0m3 10h0m7 -18h0m32 82h0" stroke="#E4E4FC"/><path d="M613 3392h0m1 -2h0m2 32h0m9 25h0m7 10h0m4 -83h0m12 10h0m1 -3h0m9 49h0m21 -39h0m0 10h0m8 -1h0m4 6h0m74 130h0m3 -1h0m15 -36h0m4 -35h0m3 32h0m1 54h0m4 -8h0m3 33h0m2 -103h0m6 121h0m6 -5h0m1 -64h0m4 -90h0m1 31h0m9 141h0m4 -11h0m1 -140h0m1 -21h0m5 -34h0m3 57h0m4 25h0m0 28h0m1 19h0m2 -99h0m2 77h0m1 -17h0m4 -39h0m1 -12h0m1 53h0m0 22h0m1 -73h0m2 -34h0m10 5h0m0 87h0m7 -45h0m10 -38h0m1 211h0m32 -50h0m35 -154h0" stroke="#F0E4FC"/><path d="M637 3509h0m18 10h0m7 8h0m13 -45h0m1 -89h0m9 29h0m0 118h0m4 -15h0m2 24h0m1 -118h0m1 -12h0m6 -12h0m1 11h0m5 123h0m0 15h0m2 -144h0m1 -5h0m1 -25h0m3 172h0m1 -90h0m2 -73h0m1 88h0m2 -82h0m1 -21h0m4 21h0m2 8h0m0 35h0m6 133h0m3 -25h0m10 -86h0m0 21h0m8 -33h0m1 -24h0m0 47h0m0 60h0m2 -61h0m1 -27h0m2 13h0m7 -28h0m1 126h0m2 -128h0m3 -82h0m0 115h0m1 -39h0m1 43h0m3 56h0m1 -32h0m1 -144h0m7 154h0m11 72h0m0 29h0m11 -188h0m1 185h0m11 -35h0m2 -26h0m1 -130h0m2 -3h0m0 46h0m5 54h0m11 -18h0m4 -23h0m14 88h0m2 24h0m4 -101h0m1 -15h0m13 -20h0m5 21h0m3 75h0m2 -6h0m27 -99h0m23 145h0m5 -163h0" stroke="#E4E4E4"/><path d="M1005 3603h0m0 27h0m11 -109h0m2 29h0m0 0h0m1 -89h0m1 190h0m1 -158h0m2 -39h0m0 1h0m4 109h0m3 -66h0m10 153h0m350 -390h0m7 3h0m3 -26h0m1 27h0m0 36h0m2 -7h0m2 -16h0m1 28h0m1 -59h0m0 14h0m2 15h0m2 -5h0m1 17h0m1 -17h0m1 37h0m2 -50h0m3 -16h0m3 48h0m1 -44h0m0 29h0m1 17h0m4 -23h0m0 2h0m11 -17h0m1 16h0m0 50h0m5 -17h0m5 -39h0m0 68h0m1 -75h0m4 -17h0m2 30h0m1 6h0m2 39h0m1 -74h0m3 78h0m12 -68h0m9 12h0m0 24h0m5 -30h0m3 11h0m2 22h0m11 23h0m7 -46h0m4 5h0m2 8h0m18 -13h0m1 5h0" stroke="#7860CC"/><path d="M616 3433h0m7 32h0m1 -62h0m0 42h0m3 28h0m3 -13h0m4 -20h0m1 -7h0m2 3h0m0 27h0m5 -42h0m1 39h0m1 -35h0m6 96h0m2 -70h0m2 -53h0m2 89h0m8 -92h0m14 98h0m5 -38h0m5 90h0m5 -116h0m3 76h0m1 -102h0m1 96h0m2 -24h0m3 -38h0m6 100h0m5 9h0m4 -55h0m3 51h0m2 -78h0m4 -5h0m2 70h0m4 -36h0m2 -69h0m1 -60h0m3 27h0m2 27h0m1 94h0m6 -85h0m18 78h0m6 17h0m3 -115h0m15 132h0m1 -130h0m14 79h0m6 -29h0m4 4h0m1 33h0m1 -68h0m4 35h0m15 -36h0m9 76h0m12 -64h0" stroke="#FCE4F0"/><path d="M619 3385h0m8 -14h0m17 148h0m32 -116h0m0 117h0m5 -139h0m6 9h0m23 161h0m3 -143h0m6 -27h0m4 35h0m4 139h0m1 -135h0m2 -5h0m2 161h0m2 -149h0m4 23h0m2 -21h0m8 128h0m2 -110h0m15 115h0m5 -94h0m6 121h0m14 -3h0m11 -193h0m3 105h0m4 -78h0m12 103h0m0 57h0m5 38h0m1 -100h0m8 9h0m18 45h0m15 -117h0m0 197h0m5 -200h0m0 167h0m8 -138h0m12 21h0m17 84h0m6 -5h0m11 -3h0m9 -157h0m6 169h0" stroke="#F0D8F0"/><path d="M959 3540h0m18 64h0m1 -56h0m1 20h0m3 45h0m2 -61h0m3 39h0m2 -41h0m8 6h0m2 8h0m0 7h0m5 -5h0m9 -112h0m489 -20h0m1 -24h0" stroke="#A890D8"/><path d="M939 3517h0m9 -6h0m11 38h0m0 3h0m14 19h0m0 2h0m2 -25h0m1 18h0m0 34h0m0 9h0m4 -56h0m0 31h0m1 -19h0m4 15h0m3 -7h0m0 55h0m1 -64h0m1 -11h0m18 -93h0" stroke="#A89CD8"/><path d="M1025 3602h0m1 -60h0m5 42h0m4 -49h0m8 55h0m78 -111h0" stroke="#6C3CC0"/><path d="M628 3500h0m3 -39h0m2 32h0m3 -80h0m8 93h0m2 -29h0m1 16h0m0 9h0m4 -25h0m3 -33h0m3 4h0m1 -11h0m2 32h0m1 14h0m1 -102h0m2 76h0m0 38h0m1 -31h0m2 -22h0m0 11h0m4 -17h0m0 57h0m1 -106h0m0 46h0m4 9h0m0 56h0m0 0h0m1 -101h0m0 26h0m0 40h0m1 -31h0m0 20h0m0 56h0m1 40h0m5 -84h0m1 15h0m1 53h0m1 -55h0m0 5h0m2 -6h0m1 54h0m1 -12h0m2 -25h0m0 54h0m1 -53h0m2 -86h0m0 65h0m1 10h0m0 63h0m1 -45h0m0 2h0m2 -65h0m0 17h0m1 17h0m1 2h0m1 61h0m3 -11h0m1 -56h0m1 29h0m1 -41h0m1 37h0m0 73h0m2 -84h0m0 25h0m0 14h0m1 -35h0m0 24h0m0 23h0m1 -95h0m1 55h0m0 37h0m0 10h0m3 -91h0m0 39h0m0 21h0m2 14h0m2 6h0m1 -67h0m0 54h0m0 29h0m1 -129h0m1 77h0m0 56h0m3 -62h0m0 39h0m2 -77h0m0 35h0m2 -1h0m3 -13h0m1 2h0m1 26h0m0 64h0m2 -128h0m3 82h0m0 9h0m0 5h0m2 -4h0m3 7h0m1 -55h0m1 -1h0m3 -1h0m1 38h0m3 1h0m1 -114h0m1 38h0m1 -35h0m0 148h0m2 -32h0m4 -17h0m5 -62h0m0 61h0m1 -6h0m7 -91h0m1 91h0m2 64h0m1 -120h0m1 44h0m11 0h0m1 -35h0m0 89h0m3 -78h0m1 19h0m7 -28h0m20 0h0m25 20h0m5 -26h0m13 -23h0" stroke="#F0F0E4"/><path d="M960 3555h0m5 12h0m5 7h0m3 4h0m0 30h0m6 -50h0m4 3h0m4 7h0m20 -114h0m3 -3h0" stroke="#B49CD8"/><path d="M994 3600h0m0 14h0m14 -34h0m6 82h0m7 -218h0m2 -2h0m36 211h0" stroke="#8478D8"/><path d="M975 3517h0m20 110h0m1 -3h0m10 33h0m1 -109h0m5 113h0m2 -197h0m401 -34h0m1 -6h0m1 -2h0m3 -8h0m4 8h0m1 29h0m1 -57h0m6 -6h0m0 10h0m10 33h0m2 13h0m27 -55h0m12 1h0m6 11h0" stroke="#9078D8"/><path d="M1042 3463h0m3 22h0m0 44h0m3 -78h0m3 12h0m2 43h0m0 63h0m2 -63h0m1 -26h0m3 -11h0m1 84h0m1 -50h0m0 56h0m2 -50h0m0 39h0m1 -32h0m1 21h0m2 -69h0m0 52h0m1 -44h0m1 -3h0m3 -11h0m4 21h0m0 15h0m1 -31h0m1 -13h0m1 91h0m1 -61h0m0 21h0m3 9h0m0 20h0m1 -61h0m0 23h0m1 -37h0m1 8h0m0 51h0m2 -59h0m0 11h0m0 7h0m0 4h0m2 67h0m1 -44h0m1 -15h0m3 -14h0m1 -6h0m1 4h0m0 12h0m0 28h0m1 -7h0m1 10h0m1 -47h0m1 31h0m3 -29h0m1 3h0m3 54h0m1 -36h0m2 30h0m1 -66h0m0 60h0m3 -41h0m1 56h0m2 -40h0m1 -5h0m1 18h0m1 -30h0m0 1h0m0 5h0m0 48h0m4 -41h0m0 40h0m1 -68h0m0 54h0m4 4h0m1 -31h0m2 -9h0m2 16h0m1 -23h0m1 35h0m1 -19h0m0 19h0m0 0h0m1 -26h0m1 17h0m5 21h0m3 -26h0" stroke="#603CC0"/><path d="M1015 3613h0m4 1h0m19 -47h0m3 -55h0m3 108h0m1 -115h0m1 -1h0m9 48h0" stroke="#6C48CC"/><path d="M1008 3600h0m2 1h0m1 -12h0m0 8h0m3 -15h0m0 1h0m3 -30h0m1 -6h0m6 103h0m1 -165h0m0 91h0m2 -7h0m1 78h0m17 -17h0m7 10h0m339 -379h0m4 -11h0m1 32h0m1 -6h0m1 1h0m3 -6h0m1 -21h0m1 -13h0m3 43h0m0 8h0m1 -11h0m1 -4h0m1 -14h0m2 -1h0m1 -20h0m1 -5h0m0 34h0m2 9h0m2 25h0m1 -47h0m1 -4h0m1 0h0m1 -14h0m1 38h0m1 -43h0m4 15h0m0 58h0m2 -71h0m2 10h0m1 6h0m0 65h0m4 -88h0m0 11h0m2 15h0m2 -8h0m1 5h0m0 26h0m2 -10h0m4 10h0m1 -22h0m0 26h0m1 -9h0m1 -19h0m0 17h0m1 -17h0m4 45h0m0 2h0m4 -8h0m1 50h0m2 -73h0m2 54h0m1 -54h0m1 25h0m2 30h0m0 10h0m1 -13h0m1 9h0m2 -54h0m5 -19h0m5 -8h0m4 22h0m0 35h0m6 -3h0m12 -14h0m4 24h0m2 -10h0" stroke="#7860C0"/><path d="M803 3619h0m36 -82h0m32 -65h0m17 155h0m5 -173h0m6 37h0" stroke="#D8E4E4"/><path d="M1023 3511h0m367 -261h0m18 26h0m4 -27h0m20 47h0m6 -23h0m25 61h0m19 -34h0" stroke="#7860B4"/><path d="M1004 3595h0m1 45h0m1 -50h0m4 58h0m3 1h0m2 3h0m0 4h0m3 -102h0m2 -102h0m1 56h0m1 -62h0m3 220h0m19 -7h0m8 -3h0m4 -11h0m3 4h0m1 -11h0m3 18h0m3 -5h0m339 -352h0m14 8h0m8 -51h0m0 39h0m3 28h0m7 -32h0m4 12h0m0 26h0m3 19h0m1 -13h0m4 -110h0m0 119h0m1 -4h0m3 -7h0m0 8h0m1 -60h0m0 73h0m0 9h0m3 -89h0m1 30h0m1 -51h0m3 93h0m1 -77h0m0 13h0m0 80h0m1 -16h0m1 -77h0m0 78h0m0 3h0m2 8h0m1 -101h0m0 50h0m2 42h0m0 4h0m3 -3h0m2 -10h0m1 -90h0m1 64h0m1 -70h0m0 14h0m1 -3h0m0 52h0m2 40h0m3 -57h0m1 53h0m2 -39h0m1 59h0m1 -43h0m3 -68h0m1 62h0m5 -28h0m2 -26h0m0 12h0m1 36h0m7 -46h0m1 53h0m1 -12h0m4 -30h0m2 2h0m5 39h0m2 -13h0m2 -9h0m9 -16h0" stroke="#846CCC"/><path d="M1002 3604h0m21 -26h0m4 -29h0m6 98h0m361 -377h0m5 5h0m30 -22h0m3 -11h0" stroke="#6C60CC"/><path d="M1018 3602h0m1 -74h0m1 86h0m3 -141h0m7 65h0m2 49h0m0 33h0m1 -172h0m0 124h0m3 -86h0m1 -41h0m1 87h0m2 -84h0m1 97h0m3 -37h0m2 95h0m5 6h0m46 -148h0" stroke="#6054C0"/><path d="M967 3565h0m7 26h0m16 42h0" stroke="#A8A8D8"/><path d="M799 3603h0m41 13h0m3 28h0m18 6h0m4 -60h0m19 51h0m5 21h0m17 -23h0m20 -51h0m3 -171h0m12 167h0m12 73h0m17 1h0" stroke="#D8E4FC"/><path d="M992 3620h0m424 -164h0m3 -43h0m0 22h0m2 -8h0m7 28h0m2 -25h0m8 34h0m1 -79h0m3 65h0m1 -25h0m0 21h0m2 -63h0m1 36h0m1 -8h0m1 32h0m4 -38h0m2 -33h0m1 94h0m2 -27h0m2 9h0m8 -12h0m6 -14h0m2 29h0m6 -26h0m3 -34h0m15 49h0m14 -45h0m13 35h0m3 10h0" stroke="#9C78CC"/><path d="M1024 3561h0m373 -280h0m78 33h0" stroke="#6C6CCC"/><path d="M772 3587h0m7 -5h0m0 5h0m46 -164h0m1 168h0m11 -47h0m2 40h0m0 22h0m2 -21h0m3 16h0m2 -79h0m5 -58h0m1 76h0m0 2h0m1 68h0m1 -24h0m1 3h0m8 21h0m1 -6h0m1 -54h0m3 91h0m6 -3h0m2 -108h0m1 -56h0m1 87h0m2 88h0m4 -85h0m0 31h0m1 -36h0m1 90h0m1 -111h0m0 113h0m2 -36h0m1 -165h0m2 142h0m1 -60h0m1 79h0m1 42h0m6 -165h0m0 131h0m1 30h0m6 -14h0m0 19h0m3 -65h0m3 50h0m4 1h0m4 -216h0m3 164h0m5 -160h0m5 8h0m4 141h0m5 78h0m1 11h0m4 -78h0m2 70h0m18 8h0" stroke="#E4D8FC"/><path d="M613 3405h0m7 35h0m2 1h0m9 -39h0m0 22h0m10 -17h0m1 -22h0m1 17h0m5 0h0m1 23h0m3 -20h0m19 3h0m100 148h0m17 4h0m18 -104h0m30 -26h0m1 5h0m13 -34h0m3 46h0m2 -14h0m19 -8h0m5 68h0m1 -74h0" stroke="#F0F0FC"/><path d="M642 3470h0m5 -11h0m6 47h0m4 -30h0m3 -18h0m1 2h0m1 3h0m2 12h0m0 1h0m3 -35h0m0 32h0m1 3h0m0 44h0m2 -38h0m2 -38h0m5 4h0m0 28h0m2 -22h0m6 -9h0m0 101h0m1 -60h0m2 -18h0m1 71h0m2 -60h0m1 15h0m2 -36h0m0 29h0m0 9h0m2 8h0m2 -43h0m2 32h0m4 -39h0m3 -8h0m4 67h0m3 12h0m5 -19h0m2 -34h0m2 3h0m1 44h0m0 14h0m3 -52h0m3 4h0m1 55h0m6 -150h0m10 3h0m1 108h0m1 4h0m4 -40h0m9 4h0" stroke="#FCF0E4"/><path d="M654 3460h0m0 50h0m42 -88h0m3 -34h0m7 9h0m2 130h0m2 33h0m1 -167h0m8 15h0m1 -7h0m1 34h0m16 -83h0m5 210h0m1 -37h0m19 -100h0m0 158h0m6 -163h0m12 35h0m18 -55h0m25 1h0m6 112h0m44 -82h0" stroke="#F0D8E4"/><path d="M1015 3616h0m11 30h0m2 -144h0m11 143h0m7 -14h0m368 -370h0m11 -6h0m4 6h0m94 32h0" stroke="#6C60C0"/><path d="M1031 3593h0m5 -67h0m0 26h0m1 -73h0m0 126h0m1 -115h0m3 -47h0m1 44h0m0 80h0m0 17h0m2 -77h0m1 31h0m1 -12h0m3 -22h0m5 31h0m1 -47h0m0 45h0m13 6h0m31 -11h0m21 -69h0" stroke="#6048CC"/><path d="M610 3400h0m2 -6h0m5 52h0m11 -14h0m6 57h0m1 -74h0m6 44h0m8 -71h0m1 9h0m6 72h0m8 -78h0m3 110h0m8 -67h0m4 46h0m14 -9h0m20 -46h0m5 113h0m6 -82h0m4 5h0m1 33h0m17 -92h0m4 103h0m8 -8h0m18 77h0m2 -162h0m7 84h0m4 49h0m4 -145h0m2 92h0m7 -40h0m10 18h0m3 -6h0m38 -67h0m28 36h0" stroke="#FCF0F0"/><path d="M1041 3457h0m5 9h0m6 75h0m2 16h0m4 11h0m14 -93h0m6 70h0m1 -59h0m8 51h0m8 -65h0m3 57h0m4 -73h0m0 82h0m5 -38h0m1 26h0m6 8h0m4 -51h0m5 -16h0m3 40h0m2 -37h0m3 4h0m0 15h0m3 -2h0m248 -217h0m11 -16h0m21 168h0m13 -165h0m3 142h0m1 -94h0m8 121h0m6 -50h0m2 -123h0m6 22h0m8 72h0m7 7h0m23 39h0m0 37h0m2 -127h0m5 -25h0m9 -21h0m0 186h0m23 -4h0m2 -14h0" stroke="#603CB4"/><path d="M1038 3534h0m8 13h0" stroke="#6C48B4"/><path d="M1021 3612h0m3 -82h0m3 69h0m1 -58h0m0 39h0m2 -107h0m1 154h0m1 -105h0m1 -5h0m1 73h0m1 -55h0m2 10h0m0 22h0m0 39h0m1 -21h0m1 -83h0m0 21h0m0 90h0m2 -54h0m0 18h0m1 -70h0m1 115h0m0 10h0m3 -102h0m1 -5h0m7 -30h0m9 43h0m18 -49h0m23 16h0" stroke="#6C48C0"/><path d="M1011 3618h0m0 6h0m3 -20h0m0 8h0m2 -79h0m4 -66h0m0 61h0m1 -52h0m2 -6h0m1 179h0m1 -195h0m0 6h0m2 30h0m0 158h0m1 -3h0m1 -146h0m1 55h0m2 -62h0m4 44h0m1 -36h0m1 122h0m17 -5h0" stroke="#6C54CC"/><path d="M997 3618h0m8 -129h0m6 89h0m43 63h0m0 12h0m370 -327h0m15 21h0m1 -1h0m8 -7h0m4 19h0m25 15h0" stroke="#906CCC"/><path d="M1000 3617h0m11 -83h0m4 116h0m2 -184h0m0 184h0m1 -181h0m3 45h0m1 -13h0m9 158h0m374 -414h0m12 57h0m5 -12h0m1 2h0m9 5h0m1 19h0m2 -10h0m1 -1h0m7 2h0m3 8h0m0 3h0m7 7h0m1 -42h0m0 7h0m2 -51h0m3 14h0m0 77h0m3 5h0m3 -62h0m3 -23h0m0 40h0m3 -38h0m2 79h0m6 -5h0m3 -63h0m0 63h0m3 11h0m1 -82h0m5 54h0m1 -36h0m0 28h0m0 13h0m9 -37h0m2 45h0m4 -46h0m1 19h0m7 -25h0m2 29h0" stroke="#8460CC"/><path d="M718 3410h0m4 36h0m15 -32h0" stroke="#E4E4D8"/><path d="M1003 3623h0m24 36h0m367 -403h0m4 44h0m1 -64h0m3 60h0m1 -63h0m2 42h0m5 -5h0m6 -14h0m1 1h0m3 20h0m6 13h0m1 -39h0m3 -2h0m4 23h0m4 26h0m7 -1h0m3 -10h0m0 31h0m4 -21h0m2 43h0m5 -88h0m1 36h0m0 42h0m1 -84h0m0 14h0m1 2h0m0 74h0m2 -2h0m14 -52h0m5 20h0m6 -25h0m3 -5h0m1 29h0m0 30h0m4 -71h0m2 -5h0m0 43h0m13 -17h0m6 -3h0m19 -5h0" stroke="#786CC0"/><path d="M1046 3483h0m4 -4h0m0 69h0m4 -42h0m2 -49h0m3 94h0m3 -22h0m1 -32h0m3 26h0m9 -47h0m0 42h0m9 -64h0m1 62h0m1 -62h0m5 22h0m1 41h0m6 -4h0m2 -15h0m4 -6h0m10 -24h0m12 12h0m2 3h0m8 -1h0m0 34h0m3 -36h0" stroke="#5448C0"/><path d="M1046 3473h0m18 -21h0m48 21h0m6 -11h0m2 2h0m0 66h0m2 -61h0" stroke="#543CB4"/><path d="M1068 3476h0m2 -15h0m2 50h0m7 -6h0m19 -24h0m31 37h0" stroke="#5448B4"/><path d="M937 3528h0m18 22h0m4 -69h0m11 119h0m1 -19h0m11 44h0m10 -159h0m10 -3h0" stroke="#B4A8D8"/><path d="M928 3625h0m17 -9h0" stroke="#D8C0FC"/><path d="M1005 3583h0m3 1h0m4 -11h0m1 -96h0m1 100h0m1 83h0m2 -165h0m5 -50h0m1 -3h0m25 217h0m0 12h0m5 0h0m2 -31h0m0 21h0m2 -17h0m1 19h0m4 -6h0m380 -318h0m3 34h0m15 26h0m3 -48h0m5 -63h0m7 75h0m1 -100h0m42 20h0m7 0h0" stroke="#8478CC"/><path d="M869 3583h0m11 -23h0m1 30h0m20 15h0m6 -168h0m9 11h0m6 97h0m42 113h0" stroke="#D8CCFC"/><path d="M658 3510h0m37 18h0m33 -93h0m5 20h0m3 50h0m0 16h0m1 40h0m5 -45h0m26 -111h0m10 107h0m2 51h0m12 9h0m69 -105h0" stroke="#E4F0E4"/><path d="M981 3611h0m4 -2h0m1 -128h0m10 108h0m5 -112h0m2 173h0m1 4h0m9 -197h0m1 -25h0m415 29h0m6 -39h0m0 20h0m19 -19h0m6 -38h0m5 75h0m5 -57h0m1 62h0m7 -45h0m0 24h0m5 -13h0m3 -6h0m2 27h0m1 -47h0m2 30h0m6 -38h0m2 60h0m2 -5h0m3 -40h0m0 5h0m2 -24h0m4 52h0m3 -20h0m3 16h0m4 -11h0m1 -8h0m1 -2h0m4 2h0m3 -17h0m5 2h0m2 5h0m4 6h0" stroke="#9C84D8"/><path d="M960 3504h0m6 -16h0m18 110h0m3 4h0m0 1h0m2 -20h0m7 -10h0m2 7h0m3 -6h0m473 -145h0m19 -24h0" stroke="#9C90D8"/><path d="M610 3415h0m17 3h0m185 88h0m30 -55h0m4 117h0m1 -149h0m2 17h0m8 99h0m6 -52h0m10 23h0m3 7h0m7 9h0" stroke="#E4F0FC"/><path d="M1011 3636h0m1 6h0m3 -11h0m7 -167h0m2 -8h0m396 -196h0m16 26h0" stroke="#7854CC"/><path d="M1049 3497h0m5 -10h0m3 20h0m4 19h0m11 -31h0m14 20h0m7 -14h0m2 -1h0m11 -4h0m12 -33h0" stroke="#603CCC"/><path d="M990 3612h0m1 -14h0m17 -43h0m0 13h0m1 -14h0m403 -131h0m5 -4h0m0 34h0m1 -17h0m2 -24h0m2 -2h0m11 61h0m2 -51h0m0 23h0m0 9h0m5 -65h0m1 11h0m0 36h0m0 0h0m0 24h0m3 -36h0m1 -41h0m1 15h0m2 56h0m2 12h0m1 -57h0m4 -10h0m1 48h0m0 20h0m2 -58h0m0 41h0m1 -5h0m3 -60h0m0 12h0m0 32h0m0 24h0m3 -70h0m0 12h0m0 48h0m1 -40h0m1 -29h0m2 65h0m1 -40h0m3 11h0m2 52h0m6 -46h0m4 17h0m0 14h0m3 -7h0m4 -36h0m1 -4h0m2 -12h0m0 50h0m3 -23h0m1 -32h0m0 10h0m0 62h0m1 -65h0m1 8h0m0 41h0m6 -25h0m3 36h0m1 -39h0m0 47h0m3 -9h0m3 -43h0m1 3h0m3 38h0m5 -19h0m3 -6h0" stroke="#9084CC"/><path d="M810 3618h0m16 6h0m3 0h0m24 -24h0m7 58h0m6 -75h0m9 -8h0m3 58h0m1 -34h0m11 -29h0m5 21h0m4 17h0m4 36h0m2 -66h0m13 22h0m2 5h0m31 60h0m14 -15h0m10 12h0" stroke="#D8D8FC"/><path d="M1106 3474h0m17 31h0m4 5h0m18 -28h0" stroke="#5430C0"/><path d="M970 3569h0m2 -8h0m1 27h0m4 18h0m12 -31h0m0 57h0m12 35h0m10 -224h0" stroke="#A89CE4"/><path d="M965 3538h0m39 125h0" stroke="#A890E4"/><path d="M1005 3628h0m1 -23h0m4 8h0m4 21h0m4 10h0m1 -20h0m5 -156h0m0 181h0m2 -87h0m1 -6h0m3 -1h0m16 85h0m369 -367h0m3 18h0m20 -30h0" stroke="#7854C0"/><path d="M1028 3634h0m5 -118h0m1 67h0m5 -89h0m4 92h0m0 52h0" stroke="#6054CC"/><path d="M962 3518h0m28 82h0m0 7h0m15 47h0m1 5h0m4 1h0m3 -93h0m2 -116h0m1 -2h0m403 -2h0m2 -17h0m9 -6h0m2 4h0m6 16h0m14 -20h0m2 41h0m7 -34h0m7 -55h0m3 41h0m1 22h0m8 11h0m4 -26h0m1 -28h0m2 24h0m4 3h0m3 -12h0m15 15h0m5 -1h0m1 -23h0m5 6h0" stroke="#9084D8"/><path d="M1127 3511h0" stroke="#6030C0"/><path d="M754 3295h0m96 362h0m41 -10h0" stroke="#F0CCF0"/><path d="M1032 3591h0m1 -133h0m3 68h0m2 61h0m1 -49h0m2 40h0m2 -43h0m1 20h0m2 20h0m0 22h0m5 -54h0m0 10h0m8 -102h0m4 9h0m0 74h0m4 -61h0m2 54h0m1 -15h0m7 -21h0m6 59h0m14 -59h0m0 17h0m3 1h0m5 32h0m7 -71h0" stroke="#6048B4"/><path d="M964 3564h0m5 12h0m4 32h0" stroke="#A8A8E4"/><path d="M1112 3503h0" stroke="#4848C0"/><path d="M1032 3584h0m12 -11h0" stroke="#6054B4"/><path d="M670 3501h0m45 7h0m10 -51h0" stroke="#FCE4D8"/><path d="M729 3455h0m19 -57h0m29 65h0m11 -13h0" stroke="#FCD8F0"/><path d="M1023 3452h0m4 200h0m29 -22h0m343 -335h0m1 -38h0m1 32h0m4 4h0m5 -51h0m6 74h0m1 -5h0m6 -58h0m2 -19h0m1 13h0m2 27h0m9 55h0m4 -44h0m3 -3h0m7 -28h0m2 32h0m2 -36h0m3 -7h0m1 28h0m7 56h0m1 -83h0m0 24h0m4 62h0m1 -22h0m5 -70h0m3 63h0m3 38h0m5 -20h0m7 -64h0m6 5h0m4 11h0m4 13h0m3 -6h0m9 8h0m3 17h0m3 -28h0m2 -2h0m6 -12h0" stroke="#8460C0"/><path d="M1009 3545h0m9 -31h0m45 145h0m325 -377h0m5 -14h0m3 3h0m5 23h0m9 -53h0m1 60h0m9 19h0m2 -11h0m1 -5h0m4 -13h0m2 -45h0m1 85h0m3 -48h0m6 66h0m10 -31h0m1 -7h0m5 -57h0m0 43h0m6 -26h0m0 47h0m7 42h0m3 -101h0m0 87h0m3 -54h0m0 10h0m2 -51h0m1 18h0m0 23h0m1 16h0m2 -4h0m3 -1h0m3 33h0m1 -57h0m3 -22h0m1 74h0m6 -43h0m1 -13h0m1 -19h0m1 24h0m1 35h0m0 13h0m5 -47h0m2 16h0m1 -10h0m1 -26h0m6 15h0m6 21h0m7 -23h0m2 9h0" stroke="#846CC0"/><path d="M997 3607h0m4 7h0m8 -83h0m7 121h0m5 -82h0m3 -65h0m6 155h0m365 -403h0m3 23h0m18 -32h0m11 60h0m0 11h0m2 -17h0m7 -42h0m4 61h0m1 9h0m4 -15h0m5 -34h0m1 52h0m0 6h0m6 -22h0m2 4h0m1 -5h0m2 -35h0m2 3h0m1 -4h0m5 7h0m4 -18h0m2 48h0m3 -44h0m3 -21h0m5 65h0m1 -20h0m7 15h0m11 -33h0m2 23h0m8 -39h0m1 39h0m0 5h0m3 -46h0m10 7h0m1 17h0m1 4h0m5 -2h0m2 -8h0" stroke="#786CCC"/><path d="M685 3455h0m35 68h0m7 -37h0m7 20h0m13 7h0m35 -109h0m11 63h0" stroke="#F0F0D8"/><path d="M1027 3599h0" stroke="#5454C0"/><path d="M990 3542h0m3 25h0m14 -99h0" stroke="#9C90E4"/><path d="M1017 3563h0m32 91h0m19 5h0m373 -321h0m56 -12h0" stroke="#7878CC"/><path d="M1014 3552h0" stroke="#7878D8"/><path d="M778 3591h0m10 -27h0m34 -151h0m27 63h0m8 -44h0m2 166h0m1 51h0m14 -171h0m0 37h0m3 -72h0m8 53h0m4 -5h0m53 102h0" stroke="#F0D8FC"/><path d="M1030 3531h0m16 46h0m34 -118h0" stroke="#5448CC"/><path d="M973 3575h0m7 10h0m8 -36h0m9 24h0m5 -102h0m0 189h0" stroke="#9C9CD8"/><path d="M656 3477h0m1 -16h0" stroke="#F0FCE4"/><path d="M967 3549h0m28 20h0m1 1h0" stroke="#B490D8"/><path d="M991 3436h0" stroke="#B4C0D8"/><path d="M971 3519h0m22 113h0m10 18h0m1 -84h0m15 -122h0m405 -2h0m0 3h0m2 20h0m2 -12h0m2 -16h0m2 -12h0m0 27h0m3 -44h0m2 33h0m1 -54h0m2 55h0m2 25h0m3 -21h0m0 4h0m3 -34h0m0 35h0m0 17h0m1 -84h0m0 40h0m1 -6h0m4 2h0m1 -39h0m0 82h0m3 -30h0m1 14h0m6 -54h0m0 47h0m1 26h0m3 -89h0m0 38h0m0 8h0m3 -22h0m0 36h0m1 -37h0m2 -2h0m4 -17h0m0 32h0m0 21h0m0 12h0m1 -12h0m1 -62h0m0 38h0m1 -5h0m0 23h0m2 -37h0m1 -4h0m1 45h0m3 2h0m0 24h0m1 -6h0m2 -19h0m1 15h0m0 4h0m1 -31h0m5 39h0m1 -56h0m0 13h0m1 43h0m1 -35h0m1 14h0m2 12h0m1 -55h0m0 37h0m1 -26h0m1 35h0m1 -29h0m0 45h0m0 0h0m1 0h0m3 -36h0m0 33h0m2 -48h0m0 3h0m0 17h0m2 12h0m0 15h0m1 -47h0m0 42h0m1 -13h0m7 -28h0m1 18h0m1 -3h0m1 15h0m5 -8h0m0 4h0" stroke="#9C84CC"/><path d="M1130 3462h0" stroke="#543CCC"/><path d="M872 3586h0m14 -127h0m17 113h0m44 69h0" stroke="#E4CCFC"/><path d="M992 3574h0" stroke="#9C9CCC"/><path d="M972 3484h0" stroke="#9C9CE4"/><path d="M673 3389h0m112 167h0" stroke="#F0FCF0"/><path d="M917 3679h0" stroke="#CCCCFC"/><path d="M1012 3660h0m2 -4h0m495 -364h0" stroke="#906CD8"/><path d="M983 3581h0m3 -8h0m9 -7h0m8 -4h0" stroke="#A890CC"/><path d="M658 3472h0m13 -3h0m4 11h0m42 35h0" stroke="#FCF0D8"/><path d="M978 3619h0m7 -54h0m1 -5h0m9 87h0m6 22h0" stroke="#B49CE4"/><path d="M619 3411h0m14 22h0m228 -22h0m5 98h0" stroke="#FCF0FC"/><path d="M1009 3534h0m45 96h0m386 -382h0m2 25h0" stroke="#8454CC"/><path d="M889 3557h0m6 -25h0m13 145h0m15 -225h0m2 161h0m8 14h0m15 8h0" stroke="#CCD8F0"/><path d="M1013 3490h0m419 -184h0m37 56h0m8 -1h0m29 -61h0" stroke="#8478C0"/><path d="M902 3576h0m13 -121h0m52 -16h0" stroke="#CCD8E4"/><path d="M1001 3651h0" stroke="#A884E4"/><path d="M869 3616h0" stroke="#F0CCFC"/><path d="M810 3494h0m12 6h0m56 -73h0" stroke="#FCE4FC"/><path d="M967 3509h0m7 24h0m29 121h0m471 -220h0m35 11h0" stroke="#9090D8"/><path d="M1019 3529h0m10 -3h0" stroke="#6C54B4"/><path d="M1000 3597h0m453 -220h0m50 8h0" stroke="#8484CC"/><path d="M748 3334h0m1 -21h0m153 147h0m17 101h0m3 -116h0m1 207h0m13 -2h0" stroke="#E4CCE4"/><path d="M735 3543h0m26 -215h0m12 2h0m163 116h0" stroke="#E4D8D8"/><path d="M690 3435h0m68 67h0" stroke="#E4F0D8"/><path d="M1010 3565h0" stroke="#8484D8"/><path d="M1031 3651h0" stroke="#6C6CC0"/><path d="M1109 3529h0" stroke="#6C3CCC"/><path d="M877 3535h0" stroke="#D8F0F0"/><path d="M1038 3556h0" stroke="#7848C0"/><path d="M822 3464h0" stroke="#E4FCF0"/><path d="M1125 3476h0" stroke="#5430B4"/><path d="M1413 3422h0m33 -16h0m0 51h0m32 -28h0m16 -30h0" stroke="#9C84C0"/><path d="M1514 3300h0m4 -13h0" stroke="#7878C0"/><path d="M1416 3429h0m16 -19h0m8 4h0m7 47h0m1 -3h0m6 -55h0m2 15h0m3 51h0m10 -24h0m9 -26h0m2 4h0m4 25h0m1 -59h0m1 52h0m16 -18h0m1 13h0m7 -32h0m0 19h0m8 11h0m13 -10h0" stroke="#9C78D8"/><path d="M1458 3352h0m2 3h0m15 -14h0" stroke="#906CC0"/><path d="M1414 3429h0m24 -32h0m11 65h0m71 -40h0" stroke="#9084C0"/><path d="M1462 3296h0" stroke="#7860D8"/><path d="M1455 3331h0m22 16h0" stroke="#846CB4"/><path d="M1414 3434h0m10 26h0m40 -40h0" stroke="#9C78C0"/><path d="M1500 3450h0m25 -30h0" stroke="#A884D8"/><path d="M1489 3442h0m19 -18h0m2 -15h0" stroke="#A884CC"/><path d="M1409 3441h0m52 -70h0m15 11h0m8 -3h0" stroke="#9078C0"/><path d="M1443 3270h0m83 -11h0" stroke="#8460B4"/><path d="M1410 3267h0" stroke="#6C60B4"/><path d="M1448 3263h0m5 95h0" stroke="#846CD8"/><path d="M1465 3257h0" stroke="#786CD8"/><path d="M724 3308h0" stroke="#D8CCD8"/><path d="M978 2732h0" stroke="#3C30A8"/><path d="M396 3440h0m3 -2h0m0 1h0" stroke="#180C90"/><path d="M1109 3655h0" stroke="#4830B4"/><path d="M1428 3352h0m3 20h0" stroke="#3C2490"/></g>
<text x="614" y="1317" font-size="40" textLength="26.5" lengthAdjust="spacingAndGlyphs">Λ</text>
<defs><linearGradient id="gc" x1="0" y1="0" x2="1" y2="0"><stop offset="0" stop-color="#1F0C9C"/><stop offset="0.125" stop-color="#5A3CB4"/><stop offset="0.25" stop-color="#9278CC"/><stop offset="0.375" stop-color="#C8BAE4"/><stop offset="0.5" stop-color="#FFFFFF"/><stop offset="0.625" stop-color="#F4C8B6"/><stop offset="0.75" stop-color="#EE8A70"/><stop offset="0.875" stop-color="#F2583A"/><stop offset="1" stop-color="#FF2A12"/></linearGradient></defs>
<rect x="679" y="1276" width="184.6" height="36.5" fill="url(#gc)"/>
<path d="M724.9 1276v5M724.9 1307.5v5M817.3 1276v5M817.3 1307.5v5" stroke="#fff" stroke-width="1.2"/>
<text x="651.7" y="1353.8" font-size="26" textLength="46.5" lengthAdjust="spacingAndGlyphs">≤−2</text>
<text x="715.6" y="1353.8" font-size="26" textLength="29" lengthAdjust="spacingAndGlyphs">−1</text>
<text x="767.2" y="1353.8" font-size="26">0</text>
<text x="813.5" y="1353.8" font-size="26">1</text>
<text x="844.4" y="1353.8" font-size="26" textLength="32.9" lengthAdjust="spacingAndGlyphs">≥2</text>
<path d="M172.9 1863.6V1907.2H215.4" fill="none" stroke="#231815" stroke-width="2.9"/>
<text x="172.9" y="1933.7" font-size="18.5" textLength="64.3" lengthAdjust="spacingAndGlyphs">UMAP1</text>
<text transform="translate(163.5,1905.4) rotate(-90)" font-size="19" textLength="65.4" lengthAdjust="spacingAndGlyphs">UMAP2</text>
<text x="329.8" y="1982.4" font-size="38.9" textLength="385" lengthAdjust="spacingAndGlyphs">Aging assoicated cells</text>
<text x="977.5" y="1254.3" font-size="46" font-weight="bold" fill="#231815">d</text>
<path d="M1142 1299.3V1846.5H1713" fill="none" stroke="#1a1a1a" stroke-width="2"/>
<path d="M1137 1791.1H1142" stroke="#1a1a1a" stroke-width="2"/>
<text x="1135.5" y="1797.3" font-size="25" text-anchor="end" textLength="37.3" lengthAdjust="spacingAndGlyphs">1.8</text>
<path d="M1137 1697.7H1142" stroke="#1a1a1a" stroke-width="2"/>
<text x="1135.5" y="1703.9" font-size="25" text-anchor="end" textLength="37.3" lengthAdjust="spacingAndGlyphs">1.9</text>
<path d="M1137 1604.3H1142" stroke="#1a1a1a" stroke-width="2"/>
<text x="1135.5" y="1610.5" font-size="25" text-anchor="end" textLength="37.3" lengthAdjust="spacingAndGlyphs">2.0</text>
<path d="M1137 1510.9H1142" stroke="#1a1a1a" stroke-width="2"/>
<text x="1135.5" y="1517.1" font-size="25" text-anchor="end" textLength="37.3" lengthAdjust="spacingAndGlyphs">2.1</text>
<path d="M1137 1417.5H1142" stroke="#1a1a1a" stroke-width="2"/>
<text x="1135.5" y="1423.7" font-size="25" text-anchor="end" textLength="37.3" lengthAdjust="spacingAndGlyphs">2.2</text>
<path d="M1137 1324.1H1142" stroke="#1a1a1a" stroke-width="2"/>
<text x="1135.5" y="1330.3" font-size="25" text-anchor="end" textLength="37.3" lengthAdjust="spacingAndGlyphs">2.3</text>
<text transform="translate(1064.5,1561) rotate(-90)" font-size="30.8" text-anchor="middle" textLength="530" lengthAdjust="spacingAndGlyphs">Imputed CD31 protein expression level</text>
<path d="M1179.4,1341.8C1179.7,1347 1180.4,1364.6 1180.9,1372.7C1181.4,1380.8 1182,1384.4 1182.5,1390.2C1183,1396 1183.2,1402 1183.7,1407.8C1184.2,1413.6 1184.8,1419.4 1185.3,1425.3C1185.8,1431.2 1186.3,1437.1 1186.7,1442.9C1187.1,1448.8 1187.6,1454.6 1187.9,1460.4C1188.2,1466.2 1188.2,1469.7 1188.8,1478C1189.4,1486.3 1190.3,1499 1191.6,1510.2C1192.9,1521.4 1194.6,1533.6 1196.4,1545.3C1198.2,1557 1201,1571.6 1202.5,1580.4C1204,1589.2 1204.7,1592.7 1205.3,1598C1205.9,1603.3 1206.1,1607.5 1206.2,1612C1206.3,1616.5 1206.2,1620 1205.7,1625.1C1205.2,1630.2 1204,1636.8 1202.9,1642.7C1201.8,1648.6 1200.4,1654.4 1199,1660.2C1197.6,1666 1196,1672 1194.5,1677.8C1193,1683.6 1191.3,1689.4 1189.9,1695.3C1188.5,1701.2 1187.1,1707.1 1185.9,1712.9C1184.7,1718.7 1183.6,1724.7 1182.8,1730C1182,1735.3 1181.7,1740 1181.2,1745C1180.7,1750 1180.3,1750.1 1180,1760C1179.7,1769.9 1179.5,1797 1179.4,1804.4L1179.4,1804.4C1179.3,1797 1179.1,1769.9 1178.8,1760C1178.5,1750.1 1178.1,1750 1177.6,1745C1177.1,1740 1176.8,1735.3 1176,1730C1175.2,1724.7 1174.1,1718.7 1172.9,1712.9C1171.7,1707.1 1170.3,1701.2 1168.9,1695.3C1167.5,1689.4 1165.8,1683.6 1164.3,1677.8C1162.8,1672 1161.2,1666 1159.8,1660.2C1158.4,1654.4 1157,1648.6 1155.9,1642.7C1154.8,1636.8 1153.7,1630.2 1153.1,1625.1C1152.6,1620 1152.5,1616.5 1152.6,1612C1152.7,1607.5 1152.9,1603.3 1153.5,1598C1154.1,1592.7 1154.8,1589.2 1156.3,1580.4C1157.8,1571.6 1160.6,1557 1162.4,1545.3C1164.2,1533.6 1165.9,1521.4 1167.2,1510.2C1168.5,1499 1169.4,1486.3 1170,1478C1170.6,1469.7 1170.6,1466.2 1170.9,1460.4C1171.2,1454.6 1171.7,1448.8 1172.1,1442.9C1172.5,1437.1 1173,1431.2 1173.5,1425.3C1174,1419.4 1174.6,1413.6 1175.1,1407.8C1175.6,1402 1175.8,1396 1176.3,1390.2C1176.8,1384.4 1177.4,1380.8 1177.9,1372.7C1178.4,1364.6 1179.2,1347 1179.4,1341.8Z" fill="#F07070" stroke="#333333" stroke-width="3.6" stroke-linejoin="round"/>
<path d="M1241.5,1355.8C1241.6,1361.5 1242.2,1378.6 1242.5,1390.2C1242.7,1401.8 1242.9,1416.5 1243.2,1425.3C1243.4,1434.1 1243.8,1437.1 1244,1442.9C1244.3,1448.8 1244.7,1454.6 1245,1460.4C1245.2,1466.2 1245.1,1469.7 1245.8,1478C1246.4,1486.3 1247.8,1499 1249,1510.2C1250.1,1521.4 1251.1,1533.6 1252.5,1545.3C1253.8,1557 1255.7,1571.3 1257.2,1580.4C1258.6,1589.5 1259.9,1592.5 1261.2,1600C1262.4,1607.5 1263.8,1618 1264.8,1625.1C1265.7,1632.2 1266,1636.8 1266.5,1642.7C1267,1648.6 1267.8,1654.4 1267.8,1660.2C1267.8,1666 1267.1,1672 1266.5,1677.8C1266,1683.6 1265.3,1689.4 1264.2,1695.3C1263.2,1701.2 1261.8,1707.1 1260.5,1712.9C1259.1,1718.8 1257.2,1725.1 1255.9,1730.4C1254.5,1735.7 1253.6,1740.8 1252.5,1744.5C1251.3,1748.2 1250.6,1748.4 1249.2,1752.7C1247.9,1757 1245.5,1764.8 1244.2,1770.2C1243,1775.6 1242.5,1778.5 1242,1785C1241.6,1791.5 1241.5,1805.2 1241.5,1809.2L1241.5,1809.2C1241.4,1805.2 1241.3,1791.5 1240.9,1785C1240.4,1778.5 1239.9,1775.6 1238.7,1770.2C1237.5,1764.8 1235,1757 1233.7,1752.7C1232.3,1748.4 1231.6,1748.2 1230.5,1744.5C1229.3,1740.8 1228.4,1735.7 1227,1730.4C1225.7,1725.1 1223.8,1718.8 1222.5,1712.9C1221.1,1707.1 1219.7,1701.2 1218.7,1695.3C1217.6,1689.4 1216.9,1683.6 1216.4,1677.8C1215.8,1672 1215.2,1666 1215.2,1660.2C1215.2,1654.4 1215.9,1648.6 1216.4,1642.7C1216.9,1636.8 1217.2,1632.2 1218.2,1625.1C1219.1,1618 1220.5,1607.5 1221.8,1600C1223,1592.5 1224.3,1589.5 1225.8,1580.4C1227.2,1571.3 1229.1,1557 1230.5,1545.3C1231.8,1533.6 1232.8,1521.4 1234,1510.2C1235.1,1499 1236.5,1486.3 1237.2,1478C1237.8,1469.7 1237.7,1466.2 1238,1460.4C1238.2,1454.6 1238.6,1448.8 1238.9,1442.9C1239.2,1437.1 1239.5,1434.1 1239.8,1425.3C1240,1416.5 1240.2,1401.8 1240.5,1390.2C1240.7,1378.6 1241.3,1361.5 1241.5,1355.8Z" fill="#D1952B" stroke="#333333" stroke-width="3.6" stroke-linejoin="round"/>
<path d="M1303.5,1401.5C1303.6,1434.6 1304,1562.7 1304.2,1600C1304.4,1637.3 1304.5,1616.8 1304.7,1625.1C1304.9,1633.4 1305.2,1642.5 1305.5,1650C1305.8,1657.5 1306.4,1664.2 1306.7,1670C1307,1675.8 1307.1,1680.7 1307.5,1685C1307.9,1689.3 1308.2,1693.2 1309,1696C1309.8,1698.8 1311.2,1700 1312.6,1702C1314,1704 1315.8,1706 1317.4,1708C1319,1710 1320.9,1712 1322.3,1714C1323.7,1716 1324.9,1718 1325.9,1720C1326.9,1722 1327.7,1724 1328.3,1726C1328.9,1728 1329.5,1729.9 1329.8,1732C1330.1,1734.1 1330.2,1736.3 1330.2,1738.4C1330.2,1740.5 1329.9,1742.5 1329.5,1744.5C1329.1,1746.5 1328.4,1748.5 1327.7,1750.5C1327,1752.5 1326.2,1754.6 1325.3,1756.6C1324.4,1758.6 1323.3,1760.7 1322.3,1762.7C1321.3,1764.7 1320.3,1766.7 1319.3,1768.7C1318.3,1770.7 1317.3,1772.8 1316.2,1774.8C1315.1,1776.8 1313.8,1778.8 1312.6,1780.8C1311.4,1782.8 1310.1,1784.9 1309,1786.9C1307.9,1788.9 1306.7,1790.8 1305.9,1793C1305.1,1795.2 1304.5,1795 1304.1,1800C1303.7,1805 1303.6,1819.2 1303.5,1823L1303.5,1823C1303.4,1819.2 1303.3,1805 1302.9,1800C1302.5,1795 1301.9,1795.2 1301.1,1793C1300.3,1790.8 1299.1,1788.9 1298,1786.9C1296.9,1784.9 1295.6,1782.8 1294.4,1780.8C1293.2,1778.8 1291.9,1776.8 1290.8,1774.8C1289.7,1772.8 1288.7,1770.7 1287.7,1768.7C1286.7,1766.7 1285.7,1764.7 1284.7,1762.7C1283.7,1760.7 1282.6,1758.6 1281.7,1756.6C1280.8,1754.6 1280,1752.5 1279.3,1750.5C1278.6,1748.5 1277.9,1746.5 1277.5,1744.5C1277.1,1742.5 1276.8,1740.5 1276.8,1738.4C1276.8,1736.3 1276.9,1734.1 1277.2,1732C1277.5,1729.9 1278.1,1728 1278.7,1726C1279.3,1724 1280.1,1722 1281.1,1720C1282.1,1718 1283.3,1716 1284.7,1714C1286.1,1712 1288,1710 1289.6,1708C1291.2,1706 1293,1704 1294.4,1702C1295.8,1700 1297.2,1698.8 1298,1696C1298.8,1693.2 1299.1,1689.3 1299.5,1685C1299.9,1680.7 1300,1675.8 1300.3,1670C1300.6,1664.2 1301.2,1657.5 1301.5,1650C1301.8,1642.5 1302.1,1633.4 1302.3,1625.1C1302.5,1616.8 1302.6,1637.3 1302.8,1600C1303,1562.7 1303.4,1434.6 1303.5,1401.5Z" fill="#96B02A" stroke="#333333" stroke-width="3.6" stroke-linejoin="round"/>
<path d="M1365.6,1396.5C1365.7,1405.4 1366,1436.4 1366.3,1450C1366.5,1463.6 1366.6,1468 1367,1478C1367.3,1488 1367.6,1499 1368.5,1510.2C1369.3,1521.4 1370.6,1534.5 1372.1,1545.3C1373.5,1556.1 1375.5,1566.9 1377.3,1575C1379,1583.1 1380.9,1588.6 1382.5,1594C1384,1599.4 1385.5,1602.4 1386.6,1607.6C1387.7,1612.8 1388.3,1619.2 1389.1,1625.1C1389.8,1630.9 1390.7,1637.7 1391.2,1642.7C1391.6,1647.7 1391.9,1650.8 1391.9,1655C1391.8,1659.2 1391.5,1664.2 1391.1,1668C1390.6,1671.8 1390,1673.2 1389.1,1677.8C1388.1,1682.3 1386.8,1689.4 1385.6,1695.3C1384.3,1701.2 1382.8,1707.1 1381.4,1712.9C1379.9,1718.8 1378.1,1725.1 1376.8,1730.4C1375.5,1735.7 1374.4,1740.8 1373.6,1744.5C1372.7,1748.2 1372.6,1748.4 1371.8,1752.7C1370.9,1757 1369.4,1764.8 1368.5,1770.2C1367.5,1775.6 1366.7,1778.5 1366.3,1785C1365.8,1791.5 1365.7,1804.9 1365.6,1808.9L1365.6,1808.9C1365.4,1804.9 1365.3,1791.5 1364.9,1785C1364.4,1778.5 1363.6,1775.6 1362.7,1770.2C1361.7,1764.8 1360.2,1757 1359.4,1752.7C1358.5,1748.4 1358.4,1748.2 1357.6,1744.5C1356.7,1740.8 1355.7,1735.7 1354.4,1730.4C1353.1,1725.1 1351.2,1718.8 1349.8,1712.9C1348.3,1707.1 1346.8,1701.2 1345.6,1695.3C1344.3,1689.4 1343,1682.3 1342.1,1677.8C1341.1,1673.2 1340.5,1671.8 1340.1,1668C1339.6,1664.2 1339.3,1659.2 1339.3,1655C1339.2,1650.8 1339.5,1647.7 1340,1642.7C1340.4,1637.7 1341.3,1630.9 1342.1,1625.1C1342.8,1619.2 1343.5,1612.8 1344.6,1607.6C1345.7,1602.4 1347.1,1599.4 1348.7,1594C1350.2,1588.6 1352.1,1583.1 1353.9,1575C1355.6,1566.9 1357.6,1556.1 1359.1,1545.3C1360.5,1534.5 1361.8,1521.4 1362.7,1510.2C1363.5,1499 1363.8,1488 1364.2,1478C1364.5,1468 1364.6,1463.6 1364.9,1450C1365.1,1436.4 1365.4,1405.4 1365.6,1396.5Z" fill="#48D440" stroke="#333333" stroke-width="3.6" stroke-linejoin="round"/>
<path d="M1427.6,1359.3C1427.7,1370.3 1428.1,1411.4 1428.3,1425.3C1428.5,1439.2 1428.8,1437.1 1429,1442.9C1429.2,1448.8 1429.5,1454.6 1429.7,1460.4C1429.9,1466.2 1429.9,1469.7 1430.4,1478C1430.9,1486.3 1431.8,1499 1432.8,1510.2C1433.8,1521.4 1434.8,1533.6 1436.3,1545.3C1437.8,1557 1439.9,1572.3 1441.6,1580.4C1443.3,1588.5 1444.9,1589.5 1446.3,1594C1447.7,1598.5 1449,1602.4 1450,1607.6C1451,1612.8 1451.5,1619.2 1452.1,1625.1C1452.7,1630.9 1453.1,1636.8 1453.4,1642.7C1453.7,1648.6 1453.9,1654.4 1453.9,1660.2C1453.9,1666 1453.7,1672 1453.2,1677.8C1452.7,1683.6 1451.7,1689.9 1451.1,1695.3C1450.5,1700.7 1450,1705.9 1449.4,1710C1448.8,1714.1 1448.2,1716.6 1447.3,1720C1446.4,1723.4 1445.1,1726.3 1443.8,1730.4C1442.5,1734.5 1440.8,1740.8 1439.3,1744.5C1437.8,1748.2 1436.3,1749.3 1434.8,1752.7C1433.3,1756.1 1431.5,1760.8 1430.4,1765C1429.3,1769.2 1428.8,1772.5 1428.3,1778C1427.8,1783.5 1427.7,1794.4 1427.6,1797.7L1427.6,1797.7C1427.5,1794.4 1427.4,1783.5 1426.9,1778C1426.4,1772.5 1425.9,1769.2 1424.8,1765C1423.7,1760.8 1421.9,1756.1 1420.4,1752.7C1418.9,1749.3 1417.4,1748.2 1415.9,1744.5C1414.4,1740.8 1412.7,1734.5 1411.4,1730.4C1410.1,1726.3 1408.8,1723.4 1407.9,1720C1407,1716.6 1406.4,1714.1 1405.8,1710C1405.2,1705.9 1404.7,1700.7 1404.1,1695.3C1403.5,1689.9 1402.5,1683.6 1402,1677.8C1401.5,1672 1401.3,1666 1401.3,1660.2C1401.3,1654.4 1401.5,1648.6 1401.8,1642.7C1402.1,1636.8 1402.5,1630.9 1403.1,1625.1C1403.7,1619.2 1404.2,1612.8 1405.2,1607.6C1406.2,1602.4 1407.5,1598.5 1408.9,1594C1410.3,1589.5 1411.9,1588.5 1413.6,1580.4C1415.3,1572.3 1417.4,1557 1418.9,1545.3C1420.4,1533.6 1421.4,1521.4 1422.4,1510.2C1423.4,1499 1424.3,1486.3 1424.8,1478C1425.3,1469.7 1425.3,1466.2 1425.5,1460.4C1425.7,1454.6 1426,1448.8 1426.2,1442.9C1426.4,1437.1 1426.7,1439.2 1426.9,1425.3C1427.1,1411.4 1427.5,1370.3 1427.6,1359.3Z" fill="#5DD8A8" stroke="#333333" stroke-width="3.6" stroke-linejoin="round"/>
<path d="M1489.7,1324.2C1490.2,1332.3 1491.8,1361.7 1492.8,1372.7C1493.7,1383.7 1494.5,1384.4 1495.4,1390.2C1496.2,1396 1497,1402 1497.9,1407.8C1498.7,1413.6 1499.6,1419.4 1500.5,1425.3C1501.3,1431.2 1502.3,1437.1 1503.2,1442.9C1504.2,1448.8 1505.2,1454.6 1506,1460.4C1506.7,1466.2 1507,1471.4 1507.9,1478C1508.7,1484.6 1509.8,1493 1510.9,1500C1511.9,1507 1513.5,1512.5 1514.4,1520C1515.2,1527.5 1515.9,1538.3 1516.1,1545.3C1516.2,1552.3 1515.6,1556.2 1515.4,1562C1515.1,1567.8 1514.7,1574.4 1514.5,1580.4C1514.2,1586.4 1514.4,1593.5 1514.2,1598C1513.9,1602.5 1513.6,1603.1 1512.9,1607.6C1512.1,1612.1 1510.9,1619.2 1509.8,1625.1C1508.6,1630.9 1507.3,1636.8 1506,1642.7C1504.6,1648.6 1503.4,1654.4 1501.9,1660.2C1500.4,1666 1498.4,1672 1497,1677.8C1495.5,1683.6 1494.4,1689.4 1493.5,1695.3C1492.5,1701.2 1491.6,1707.1 1491.1,1712.9C1490.5,1718.8 1490.3,1721.2 1490.1,1730.4C1489.8,1739.6 1489.7,1761.6 1489.7,1767.8L1489.7,1767.8C1489.6,1761.6 1489.5,1739.6 1489.2,1730.4C1489,1721.2 1488.8,1718.8 1488.2,1712.9C1487.7,1707.1 1486.8,1701.2 1485.9,1695.3C1484.9,1689.4 1483.8,1683.6 1482.4,1677.8C1481,1672 1479,1666 1477.5,1660.2C1476,1654.4 1474.7,1648.6 1473.4,1642.7C1472,1636.8 1470.7,1630.9 1469.6,1625.1C1468.4,1619.2 1467.2,1612.1 1466.5,1607.6C1465.7,1603.1 1465.4,1602.5 1465.2,1598C1464.9,1593.5 1465.1,1586.4 1464.9,1580.4C1464.7,1574.4 1464.2,1567.8 1464,1562C1463.7,1556.2 1463.1,1552.3 1463.2,1545.3C1463.4,1538.3 1464.1,1527.5 1465,1520C1465.8,1512.5 1467.4,1507 1468.5,1500C1469.5,1493 1470.6,1484.6 1471.5,1478C1472.3,1471.4 1472.6,1466.2 1473.4,1460.4C1474.1,1454.6 1475.1,1448.8 1476.1,1442.9C1477,1437.1 1478,1431.2 1478.9,1425.3C1479.8,1419.4 1480.6,1413.6 1481.5,1407.8C1482.3,1402 1483.1,1396 1484,1390.2C1484.8,1384.4 1485.6,1383.7 1486.6,1372.7C1487.5,1361.7 1489.1,1332.3 1489.7,1324.2Z" fill="#60CDE8" stroke="#333333" stroke-width="3.6" stroke-linejoin="round"/>
<path d="M1552.9,1385.7C1552.9,1387.2 1552.7,1391.3 1552.7,1395C1552.8,1398.7 1553,1402.8 1553.2,1407.8C1553.4,1412.8 1553.4,1419.4 1553.6,1425.3C1553.8,1431.2 1554,1437.1 1554.3,1442.9C1554.5,1448.8 1554.8,1454.6 1555.1,1460.4C1555.5,1466.2 1555.4,1469.7 1556.4,1478C1557.4,1486.3 1559.7,1501.5 1560.9,1510.2C1562.1,1518.9 1563,1524.2 1563.7,1530C1564.4,1535.8 1564.7,1540 1565.1,1545.3C1565.5,1550.6 1565.5,1556.2 1566.1,1562C1566.7,1567.8 1567.7,1574.4 1568.9,1580.4C1570.1,1586.4 1571.8,1592.7 1573.1,1598C1574.4,1603.3 1576.1,1607.5 1576.9,1612C1577.7,1616.5 1577.8,1620 1578,1625.1C1578.2,1630.2 1578.3,1636.8 1578.3,1642.7C1578.3,1648.6 1578.3,1654.4 1578,1660.2C1577.7,1666 1576.8,1672 1576.2,1677.8C1575.6,1683.6 1575.2,1689.4 1574.5,1695.3C1573.8,1701.2 1572.8,1707.1 1571.7,1712.9C1570.7,1718.8 1569.2,1725.1 1568.2,1730.4C1567.2,1735.7 1566.5,1740.8 1565.9,1744.5C1565.3,1748.2 1565.6,1748.4 1564.4,1752.7C1563.2,1757 1560.4,1765.3 1558.9,1770.2C1557.4,1775.1 1556.3,1778.6 1555.4,1782C1554.5,1785.4 1553.8,1789.2 1553.5,1790.6L1549.9,1790.6C1549.6,1789.2 1548.9,1785.4 1548,1782C1547.1,1778.6 1546,1775.1 1544.5,1770.2C1543,1765.3 1540.2,1757 1539,1752.7C1537.8,1748.4 1538.1,1748.2 1537.5,1744.5C1536.9,1740.8 1536.2,1735.7 1535.2,1730.4C1534.2,1725.1 1532.8,1718.8 1531.7,1712.9C1530.7,1707.1 1529.7,1701.2 1528.9,1695.3C1528.2,1689.4 1527.8,1683.6 1527.2,1677.8C1526.6,1672 1525.8,1666 1525.4,1660.2C1525.1,1654.4 1525.1,1648.6 1525.1,1642.7C1525.1,1636.8 1525.2,1630.2 1525.4,1625.1C1525.6,1620 1525.7,1616.5 1526.5,1612C1527.3,1607.5 1529,1603.3 1530.3,1598C1531.6,1592.7 1533.3,1586.4 1534.5,1580.4C1535.7,1574.4 1536.7,1567.8 1537.3,1562C1537.9,1556.2 1537.9,1550.6 1538.3,1545.3C1538.7,1540 1539,1535.8 1539.7,1530C1540.4,1524.2 1541.3,1518.9 1542.5,1510.2C1543.7,1501.5 1546,1486.3 1547,1478C1548,1469.7 1547.9,1466.2 1548.3,1460.4C1548.7,1454.6 1548.9,1448.8 1549.1,1442.9C1549.4,1437.1 1549.6,1431.2 1549.8,1425.3C1550,1419.4 1550,1412.8 1550.2,1407.8C1550.4,1402.8 1550.7,1398.7 1550.7,1395C1550.8,1391.3 1550.5,1387.2 1550.5,1385.7Z" fill="#6AA2F8" stroke="#333333" stroke-width="3.6" stroke-linejoin="round"/>
<path d="M1613.8,1369.9C1613.9,1373.3 1614.5,1383.9 1614.8,1390.2C1615,1396.5 1615.2,1402 1615.5,1407.8C1615.7,1413.6 1615.9,1419.4 1616.2,1425.3C1616.5,1431.2 1617,1437.1 1617.2,1442.9C1617.5,1448.8 1617.7,1454.6 1618,1460.4C1618.2,1466.2 1618.2,1469.7 1618.8,1478C1619.5,1486.3 1620.5,1499 1621.7,1510.2C1622.8,1521.4 1624.3,1533.6 1626,1545.3C1627.6,1557 1629.9,1572.3 1631.5,1580.4C1633,1588.5 1634.3,1589.5 1635.5,1594C1636.6,1598.5 1637.8,1602.4 1638.5,1607.6C1639.1,1612.8 1639.3,1619.2 1639.5,1625.1C1639.8,1630.9 1640,1636.8 1640,1642.7C1640.1,1648.6 1640.2,1654.4 1640,1660.2C1639.8,1666 1639.4,1672 1638.8,1677.8C1638.3,1683.6 1637.6,1689.4 1636.8,1695.3C1636.1,1701.2 1635.3,1707.1 1634.2,1712.9C1633.2,1718.8 1631.8,1725.1 1630.8,1730.4C1629.7,1735.7 1628.9,1740.8 1628,1744.5C1627,1748.2 1626.3,1748.4 1625,1752.7C1623.6,1757 1621.4,1765.3 1620,1770.2C1618.5,1775.1 1617.2,1778.6 1616.5,1782C1615.7,1785.4 1615.4,1789.2 1615.2,1790.6L1612.3,1790.6C1612.1,1789.2 1611.8,1785.4 1611,1782C1610.2,1778.6 1609,1775.1 1607.5,1770.2C1606.1,1765.3 1603.9,1757 1602.5,1752.7C1601.2,1748.4 1600.5,1748.2 1599.5,1744.5C1598.6,1740.8 1597.8,1735.7 1596.8,1730.4C1595.7,1725.1 1594.3,1718.8 1593.2,1712.9C1592.2,1707.1 1591.4,1701.2 1590.7,1695.3C1589.9,1689.4 1589.2,1683.6 1588.7,1677.8C1588.1,1672 1587.7,1666 1587.5,1660.2C1587.2,1654.4 1587.4,1648.6 1587.5,1642.7C1587.5,1636.8 1587.7,1630.9 1588,1625.1C1588.2,1619.2 1588.4,1612.8 1589,1607.6C1589.7,1602.4 1590.9,1598.5 1592,1594C1593.2,1589.5 1594.5,1588.5 1596,1580.4C1597.6,1572.3 1599.9,1557 1601.5,1545.3C1603.2,1533.6 1604.7,1521.4 1605.8,1510.2C1607,1499 1608,1486.3 1608.7,1478C1609.3,1469.7 1609.3,1466.2 1609.5,1460.4C1609.8,1454.6 1610,1448.8 1610.2,1442.9C1610.5,1437.1 1611,1431.2 1611.3,1425.3C1611.6,1419.4 1611.8,1413.6 1612,1407.8C1612.3,1402 1612.5,1396.5 1612.8,1390.2C1613,1383.9 1613.6,1373.3 1613.8,1369.9Z" fill="#DA78F8" stroke="#333333" stroke-width="3.6" stroke-linejoin="round"/>
<path d="M1675.8,1393.7C1675.9,1408.1 1676.3,1460.6 1676.5,1480C1676.7,1499.4 1676.7,1499.3 1677,1510.2C1677.3,1521.1 1677.8,1533.6 1678.4,1545.3C1679,1557 1679.8,1571.6 1680.5,1580.4C1681.2,1589.2 1681.9,1593.5 1682.8,1598C1683.7,1602.5 1684.5,1603.1 1685.8,1607.6C1687.1,1612.1 1688.9,1619.2 1690.7,1625.1C1692.5,1630.9 1695.1,1636.8 1696.8,1642.7C1698.6,1648.6 1700.4,1654.4 1701.2,1660.2C1702,1666 1701.8,1672 1701.8,1677.8C1701.8,1683.6 1701.3,1689.4 1701,1695.3C1700.7,1701.2 1700.2,1708.5 1699.8,1712.9C1699.4,1717.4 1699.3,1718.8 1698.5,1722C1697.7,1725.2 1696.6,1728.2 1695.1,1732C1693.7,1735.8 1691.3,1741 1689.8,1744.5C1688.3,1748 1687.6,1749.8 1686.3,1752.7C1685,1755.6 1683.4,1759.1 1682,1762C1680.7,1764.9 1678.9,1768.1 1678.2,1770.2C1677.5,1772.3 1677.7,1773.7 1677.6,1774.4L1674,1774.4C1673.9,1773.7 1674.1,1772.3 1673.4,1770.2C1672.7,1768.1 1671,1764.9 1669.6,1762C1668.3,1759.1 1666.6,1755.6 1665.3,1752.7C1664,1749.8 1663.3,1748 1661.8,1744.5C1660.3,1741 1658,1735.8 1656.5,1732C1655.1,1728.2 1653.9,1725.2 1653.1,1722C1652.3,1718.8 1652.2,1717.4 1651.8,1712.9C1651.4,1708.5 1650.9,1701.2 1650.6,1695.3C1650.3,1689.4 1649.8,1683.6 1649.8,1677.8C1649.8,1672 1649.6,1666 1650.4,1660.2C1651.2,1654.4 1653.1,1648.6 1654.8,1642.7C1656.6,1636.8 1659.1,1630.9 1660.9,1625.1C1662.7,1619.2 1664.5,1612.1 1665.8,1607.6C1667.1,1603.1 1667.9,1602.5 1668.8,1598C1669.7,1593.5 1670.4,1589.2 1671.1,1580.4C1671.8,1571.6 1672.6,1557 1673.2,1545.3C1673.8,1533.6 1674.3,1521.1 1674.6,1510.2C1674.9,1499.3 1674.9,1499.4 1675.1,1480C1675.3,1460.6 1675.7,1408.1 1675.8,1393.7Z" fill="#F865D6" stroke="#333333" stroke-width="3.6" stroke-linejoin="round"/>
<path d="M1179.3 1846.5V1852" stroke="#1a1a1a" stroke-width="2"/>
<text transform="translate(1191.8,1869) rotate(-45)" font-size="26.5" text-anchor="end">0</text>
<path d="M1241.3 1846.5V1852" stroke="#1a1a1a" stroke-width="2"/>
<text transform="translate(1253.8,1869) rotate(-45)" font-size="26.5" text-anchor="end">1</text>
<path d="M1303.4 1846.5V1852" stroke="#1a1a1a" stroke-width="2"/>
<text transform="translate(1315.9,1869) rotate(-45)" font-size="26.5" text-anchor="end">2</text>
<path d="M1365.4 1846.5V1852" stroke="#1a1a1a" stroke-width="2"/>
<text transform="translate(1377.9,1869) rotate(-45)" font-size="26.5" text-anchor="end">3</text>
<path d="M1427.5 1846.5V1852" stroke="#1a1a1a" stroke-width="2"/>
<text transform="translate(1440,1869) rotate(-45)" font-size="26.5" text-anchor="end">4</text>
<path d="M1489.5 1846.5V1852" stroke="#1a1a1a" stroke-width="2"/>
<text transform="translate(1502,1869) rotate(-45)" font-size="26.5" text-anchor="end">5</text>
<path d="M1551.6 1846.5V1852" stroke="#1a1a1a" stroke-width="2"/>
<text transform="translate(1564.1,1869) rotate(-45)" font-size="26.5" text-anchor="end">6</text>
<path d="M1613.6 1846.5V1852" stroke="#1a1a1a" stroke-width="2"/>
<text transform="translate(1626.1,1869) rotate(-45)" font-size="26.5" text-anchor="end">7</text>
<path d="M1675.7 1846.5V1852" stroke="#1a1a1a" stroke-width="2"/>
<text transform="translate(1688.2,1869) rotate(-45)" font-size="26.5" text-anchor="end">8</text>
<text x="979" y="1875" font-size="46" font-weight="bold" fill="#231815">e</text>
<path d="M1142 1896.3V2073.3H1713" fill="none" stroke="#1a1a1a" stroke-width="2"/>
<path d="M1179.3 2073.3V2079.5" stroke="#1a1a1a" stroke-width="2"/>
<text transform="translate(1191.8,2099.5) rotate(-45)" font-size="26" text-anchor="end">0</text>
<path d="M1241.3 2073.3V2079.5" stroke="#1a1a1a" stroke-width="2"/>
<text transform="translate(1253.8,2099.5) rotate(-45)" font-size="26" text-anchor="end">1</text>
<path d="M1303.4 2073.3V2079.5" stroke="#1a1a1a" stroke-width="2"/>
<text transform="translate(1315.9,2099.5) rotate(-45)" font-size="26" text-anchor="end">2</text>
<path d="M1365.4 2073.3V2079.5" stroke="#1a1a1a" stroke-width="2"/>
<text transform="translate(1377.9,2099.5) rotate(-45)" font-size="26" text-anchor="end">3</text>
<path d="M1427.5 2073.3V2079.5" stroke="#1a1a1a" stroke-width="2"/>
<text transform="translate(1440,2099.5) rotate(-45)" font-size="26" text-anchor="end">4</text>
<path d="M1489.5 2073.3V2079.5" stroke="#1a1a1a" stroke-width="2"/>
<text transform="translate(1502,2099.5) rotate(-45)" font-size="26" text-anchor="end">5</text>
<path d="M1551.6 2073.3V2079.5" stroke="#1a1a1a" stroke-width="2"/>
<text transform="translate(1564.1,2099.5) rotate(-45)" font-size="26" text-anchor="end">6</text>
<path d="M1613.6 2073.3V2079.5" stroke="#1a1a1a" stroke-width="2"/>
<text transform="translate(1626.1,2099.5) rotate(-45)" font-size="26" text-anchor="end">7</text>
<path d="M1675.7 2073.3V2079.5" stroke="#1a1a1a" stroke-width="2"/>
<text transform="translate(1688.2,2099.5) rotate(-45)" font-size="26" text-anchor="end">8</text>
<text transform="translate(1076,1985) rotate(-90)" font-size="33" font-style="italic" text-anchor="middle" textLength="121" lengthAdjust="spacingAndGlyphs">PECAM1</text>
<circle cx="1177.6" cy="1966.9" r="7.3" fill="#9268F2"/>
<circle cx="1241.9" cy="1966.9" r="4.4" fill="#8E62F0"/>
<circle cx="1306" cy="1966.9" r="0.8" fill="#B0A8D8"/>
<circle cx="1369.7" cy="1966.9" r="4.7" fill="#A68CEC"/>
<circle cx="1434.4" cy="1966.9" r="3.3" fill="#BBAEE2"/>
<circle cx="1498.6" cy="1966.9" r="9.2" fill="#1808F2"/>
<circle cx="1562.2" cy="1966.9" r="3.6" fill="#B4A6E4"/>
<circle cx="1626.5" cy="1966.9" r="5.1" fill="#A284EC"/>
<circle cx="1691.1" cy="1966.9" r="4.4" fill="#AA90EA"/>
<text x="1244.4" y="2160.6" font-size="35" textLength="356" lengthAdjust="spacingAndGlyphs">CD4 naive cell clusters</text>
<text x="1777.9" y="1895.3" font-size="27" textLength="242" lengthAdjust="spacingAndGlyphs">Average Expression</text>
<defs><linearGradient id="ge" x1="0" y1="0" x2="0" y2="1"><stop offset="0.0" stop-color="#1400F8"/><stop offset="0.1" stop-color="#4A25F4"/><stop offset="0.2" stop-color="#653BF0"/><stop offset="0.3" stop-color="#794EEC"/><stop offset="0.4" stop-color="#8960E7"/><stop offset="0.5" stop-color="#9772E3"/><stop offset="0.6" stop-color="#A383DE"/><stop offset="0.7" stop-color="#AE94D9"/><stop offset="0.8" stop-color="#B8A5D4"/><stop offset="0.9" stop-color="#C0B7CE"/><stop offset="1.0" stop-color="#C8C8C8"/></linearGradient></defs>
<rect x="1777.9" y="1908.4" width="29.2" height="119.2" fill="url(#ge)"/>
<path d="M1777.9 1911.7h5.5M1801.6 1911.7h5.5" stroke="#fff" stroke-opacity="0.75" stroke-width="1.2"/>
<text x="1821.3" y="1917.8" font-size="18.4">2</text>
<path d="M1777.9 1944.8h5.5M1801.6 1944.8h5.5" stroke="#fff" stroke-opacity="0.75" stroke-width="1.2"/>
<text x="1821.3" y="1950.9" font-size="18.4">1</text>
<path d="M1777.9 1977.8h5.5M1801.6 1977.8h5.5" stroke="#fff" stroke-opacity="0.75" stroke-width="1.2"/>
<text x="1821.3" y="1983.9" font-size="18.4">0</text>
<path d="M1777.9 2010.9h5.5M1801.6 2010.9h5.5" stroke="#fff" stroke-opacity="0.75" stroke-width="1.2"/>
<text x="1821.3" y="2017" font-size="18.4">−1</text>
<text x="1778.7" y="2068.3" font-size="27" textLength="228" lengthAdjust="spacingAndGlyphs">Percent Expressed</text>
<ellipse cx="1792.3" cy="2093.7" rx="2.9" ry="2.7" fill="#000"/>
<text x="1821.3" y="2099.6" font-size="17.4" textLength="12.3" lengthAdjust="spacingAndGlyphs">5</text>
<ellipse cx="1792.3" cy="2117.5" rx="6.1" ry="4.9" fill="#000"/>
<text x="1821.3" y="2123.4" font-size="17.4" textLength="24.6" lengthAdjust="spacingAndGlyphs">10</text>
<ellipse cx="1792.3" cy="2141.3" rx="9.7" ry="8.2" fill="#000"/>
<text x="1821.3" y="2147.2" font-size="17.4" textLength="24.6" lengthAdjust="spacingAndGlyphs">15</text>
<ellipse cx="1792.3" cy="2165" rx="12.7" ry="10.25" fill="#000"/>
<text x="1821.3" y="2170.9" font-size="17.4" textLength="24.6" lengthAdjust="spacingAndGlyphs">20</text>
<text x="1" y="2170.5" font-size="46" font-weight="bold" fill="#231815">f</text>
<text x="104" y="2428" font-size="20">-</text>
<text x="384.4" y="2384.9" font-size="31.5" textLength="64.7" lengthAdjust="spacingAndGlyphs">BCR</text>
<path d="M420.7,2583.5L545.4,2583.5A124.7,124.7 0 1 0 428.5,2708Z" fill="#EBCD3A" stroke="#111" stroke-width="1.1"/>
<path d="M420.7,2583.5L428.5,2708A124.7,124.7 0 0 0 545.4,2583.5Z" fill="#4348E0" stroke="#111" stroke-width="1.1"/>
<path d="M329.8,2498.1l-4,-4.5" stroke="#111" stroke-width="1"/>
<text x="269.4" y="2492" font-size="30.5" textLength="69.6" lengthAdjust="spacingAndGlyphs">76 %</text>
<path d="M511.6,2668.9l3.5,4.5" stroke="#111" stroke-width="1"/>
<text x="505.4" y="2713" font-size="30.5" textLength="69.6" lengthAdjust="spacingAndGlyphs">24 %</text>
<rect x="627.5" y="2526.1" width="275.6" height="74" fill="#fff" stroke="#000" stroke-width="1.5"/>
<rect x="637.8" y="2545.2" width="14.6" height="12.2" fill="#EBCD3A" stroke="#000" stroke-width="1.2"/>
<rect x="637.8" y="2569.5" width="14.6" height="12.6" fill="#4348E0" stroke="#000" stroke-width="1.2"/>
<text x="659.7" y="2558.1" font-size="24.4" textLength="207.6" lengthAdjust="spacingAndGlyphs">cells detected BCR</text>
<text x="659.7" y="2582.3" font-size="24.4" textLength="234.7" lengthAdjust="spacingAndGlyphs">cells undetected BCR</text>
<text x="1148.3" y="2384.8" font-size="31" textLength="63.7" lengthAdjust="spacingAndGlyphs">TCR</text>
<path d="M1204,2562.5L1328.2,2562.5A124.2,124.2 0 0 0 1131,2462Z" fill="#EBCD3A" stroke="#111" stroke-width="1.1"/>
<path d="M1204,2562.5L1131,2462A124.2,124.2 0 1 0 1328.2,2562.5Z" fill="#4348E0" stroke="#111" stroke-width="1.1"/>
<path d="M1260.4,2451.8l3.5,-5" stroke="#111" stroke-width="1"/>
<text x="1256.5" y="2439.2" font-size="30" textLength="68" lengthAdjust="spacingAndGlyphs">35 %</text>
<path d="M1147.6,2673.2l-3,5" stroke="#111" stroke-width="1"/>
<text x="1115.6" y="2713.6" font-size="30" textLength="68.6" lengthAdjust="spacingAndGlyphs">65 %</text>
<rect x="1396.1" y="2511.5" width="276.3" height="73.6" fill="#fff" stroke="#000" stroke-width="1.5"/>
<rect x="1406.3" y="2529.2" width="15.4" height="13.6" fill="#EBCD3A" stroke="#000" stroke-width="1.2"/>
<rect x="1406.3" y="2554" width="15.4" height="13.6" fill="#4348E0" stroke="#000" stroke-width="1.2"/>
<text x="1428.3" y="2543.7" font-size="24.4" textLength="207" lengthAdjust="spacingAndGlyphs">cells detected TCR</text>
<text x="1428.3" y="2568.4" font-size="24.4" textLength="234.8" lengthAdjust="spacingAndGlyphs">cells undetected TCR</text></svg></body></html>
